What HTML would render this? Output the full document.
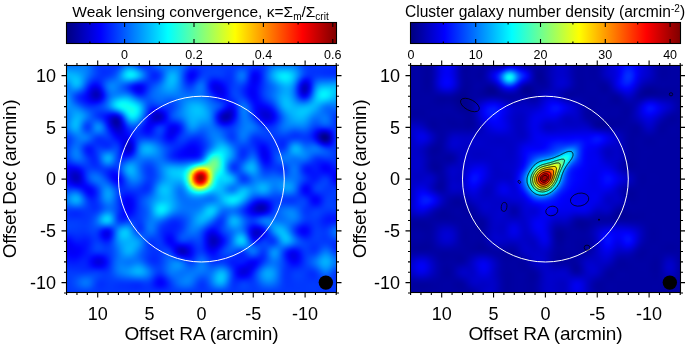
<!DOCTYPE html><html><head><meta charset="utf-8"><style>
*{margin:0;padding:0}
html,body{width:685px;height:346px;background:#fff;overflow:hidden}
body{position:relative;font-family:"Liberation Sans",sans-serif}
.hm{position:absolute;overflow:hidden}
.hf{position:absolute;filter:blur(0.8px)}
.hf i,.hf2 i{display:block;height:2px}
.hf2{position:absolute;filter:blur(0.5px)}
.cb{position:absolute}
.ov{position:absolute;left:0;top:0;will-change:transform}
</style></head><body><div class="hm" style="left:67px;top:66px;width:269px;height:226px"><div class="hf" style="left:-3px;top:-3px;width:276px"><i style="background:linear-gradient(90deg,#0071ff,#0070ff,#0070ff,#006fff,#0071ff,#0075ff,#007aff,#007aff,#0072ff,#0060ff,#004bff,#003aff,#0033ff,#0035ff,#0038ff,#0039ff,#0034ff,#0030ff,#0033ff,#0042ff,#0057ff,#0067ff,#0069ff,#005aff,#0043ff,#002eff,#0024ff,#0025ff,#002fff,#0042ff,#0058ff,#006dff,#007aff,#007dff,#0078ff,#0073ff,#0072ff,#0076ff,#0079ff,#0074ff,#0066ff,#0053ff,#0041ff,#0037ff,#0035ff,#0037ff,#0039ff,#003aff,#0039ff,#0037ff,#0036ff,#0036ff,#0037ff,#0037ff,#0038ff,#0039ff,#0038ff,#0036ff,#0034ff,#0033ff,#0034ff,#0038ff,#003bff,#003cff,#0039ff,#0034ff,#0034ff,#003eff,#004fff,#0063ff,#0071ff,#0074ff,#0071ff,#006dff,#006eff,#0072ff,#0075ff,#0070ff,#0061ff,#004dff,#003bff,#0031ff,#0031ff,#0035ff,#0039ff,#003bff,#003bff,#003aff,#0039ff,#0039ff,#003aff,#003aff,#003aff)"></i><i style="background:linear-gradient(90deg,#007aff,#0079ff,#0078ff,#0077ff,#0077ff,#007aff,#007dff,#007cff,#0073ff,#0061ff,#004cff,#003bff,#0034ff,#0034ff,#0036ff,#0037ff,#0033ff,#0032ff,#0039ff,#004cff,#0065ff,#0079ff,#007eff,#0070ff,#0059ff,#0042ff,#0034ff,#002fff,#0033ff,#003fff,#0051ff,#0064ff,#0072ff,#0078ff,#0079ff,#0078ff,#007aff,#007cff,#007cff,#0074ff,#0062ff,#004cff,#0039ff,#002fff,#002fff,#0033ff,#0038ff,#003aff,#003aff,#0039ff,#0039ff,#0039ff,#0039ff,#0039ff,#0038ff,#0038ff,#0038ff,#0039ff,#003aff,#003cff,#003cff,#003bff,#0039ff,#0035ff,#0031ff,#002fff,#0033ff,#003fff,#0053ff,#0069ff,#0079ff,#0080ff,#007fff,#007dff,#007dff,#007fff,#007fff,#0078ff,#0067ff,#0052ff,#003fff,#0034ff,#0032ff,#0035ff,#0038ff,#0039ff,#0038ff,#0037ff,#0036ff,#0036ff,#0036ff,#0037ff,#0037ff)"></i><i style="background:linear-gradient(90deg,#0088ff,#0087ff,#0085ff,#0083ff,#0082ff,#0082ff,#0082ff,#007fff,#0075ff,#0063ff,#004eff,#003dff,#0034ff,#0032ff,#0033ff,#0034ff,#0033ff,#0037ff,#0043ff,#005dff,#007cff,#0095ff,#009eff,#0092ff,#007bff,#0061ff,#004cff,#003eff,#0038ff,#003bff,#0046ff,#0055ff,#0064ff,#0070ff,#007aff,#0081ff,#0085ff,#0086ff,#0081ff,#0073ff,#005cff,#0041ff,#002cff,#0023ff,#0025ff,#002dff,#0036ff,#003aff,#003cff,#003cff,#003cff,#003dff,#003cff,#003bff,#0038ff,#0036ff,#0038ff,#003dff,#0044ff,#0049ff,#0048ff,#0040ff,#0035ff,#002aff,#0025ff,#0027ff,#0030ff,#0042ff,#005aff,#0073ff,#0087ff,#0092ff,#0095ff,#0095ff,#0095ff,#0095ff,#0091ff,#0085ff,#0072ff,#005aff,#0045ff,#0038ff,#0034ff,#0034ff,#0036ff,#0036ff,#0034ff,#0033ff,#0032ff,#0031ff,#0031ff,#0031ff,#0031ff)"></i><i style="background:linear-gradient(90deg,#0098ff,#0097ff,#0095ff,#0092ff,#008eff,#008cff,#0089ff,#0082ff,#0076ff,#0064ff,#0050ff,#003fff,#0034ff,#0030ff,#0030ff,#0031ff,#0034ff,#003dff,#004fff,#0070ff,#0096ff,#00b5ff,#00c2ff,#00b9ff,#00a1ff,#0083ff,#0066ff,#004fff,#003eff,#0037ff,#003aff,#0044ff,#0054ff,#0068ff,#007bff,#008bff,#0093ff,#0093ff,#0088ff,#0072ff,#0054ff,#0035ff,#001dff,#0014ff,#001aff,#0028ff,#0034ff,#003bff,#003eff,#003fff,#0040ff,#0040ff,#003fff,#003cff,#0037ff,#0035ff,#0037ff,#0042ff,#0050ff,#0059ff,#0056ff,#0045ff,#002fff,#001dff,#0017ff,#001cff,#002cff,#0044ff,#0061ff,#007fff,#0097ff,#00a7ff,#00afff,#00b2ff,#00b2ff,#00aeff,#00a5ff,#0095ff,#007dff,#0062ff,#004bff,#003cff,#0035ff,#0034ff,#0034ff,#0033ff,#0031ff,#002fff,#002eff,#002dff,#002dff,#002dff,#002dff)"></i><i style="background:linear-gradient(90deg,#00a7ff,#00a6ff,#00a4ff,#00a1ff,#009dff,#0097ff,#008fff,#0085ff,#0076ff,#0063ff,#0050ff,#003fff,#0034ff,#002fff,#002fff,#0031ff,#0037ff,#0044ff,#005cff,#0082ff,#00adff,#00d1ff,#00e1ff,#00daff,#00c2ff,#00a1ff,#007eff,#005eff,#0043ff,#0033ff,#002eff,#0034ff,#0046ff,#0061ff,#007eff,#0097ff,#00a2ff,#009fff,#008eff,#0072ff,#004dff,#0028ff,#000eff,#0007ff,#0012ff,#0023ff,#0034ff,#003cff,#003fff,#0040ff,#0040ff,#0041ff,#0040ff,#003cff,#0036ff,#0032ff,#0037ff,#0046ff,#005bff,#0068ff,#0063ff,#004aff,#0029ff,#0010ff,#0008ff,#0012ff,#0029ff,#0047ff,#0068ff,#0089ff,#00a6ff,#00bbff,#00c8ff,#00ceff,#00ceff,#00c7ff,#00b8ff,#00a3ff,#0086ff,#0067ff,#004dff,#003cff,#0035ff,#0033ff,#0033ff,#0032ff,#0030ff,#002eff,#002dff,#002cff,#002bff,#002bff,#002bff)"></i><i style="background:linear-gradient(90deg,#00b0ff,#00b0ff,#00b0ff,#00afff,#00abff,#00a2ff,#0096ff,#0086ff,#0074ff,#0060ff,#004dff,#003eff,#0034ff,#002fff,#0030ff,#0034ff,#003dff,#004dff,#0068ff,#0090ff,#00bdff,#00e2ff,#00f3ff,#00edff,#00d6ff,#00b4ff,#008dff,#0067ff,#0046ff,#002fff,#0025ff,#0029ff,#003cff,#005dff,#0082ff,#00a2ff,#00b0ff,#00aaff,#0094ff,#0071ff,#0046ff,#001eff,#0003ff,#0000fd,#000dff,#0023ff,#0036ff,#003fff,#0040ff,#003eff,#003eff,#003eff,#003eff,#003aff,#0034ff,#0030ff,#0036ff,#004aff,#0063ff,#0073ff,#006cff,#004cff,#0023ff,#0004ff,#0000fb,#000aff,#0026ff,#0049ff,#006dff,#0090ff,#00b0ff,#00c9ff,#00dbff,#00e4ff,#00e4ff,#00daff,#00c8ff,#00acff,#008aff,#0067ff,#0049ff,#0038ff,#0032ff,#0033ff,#0035ff,#0035ff,#0033ff,#0031ff,#0030ff,#002fff,#002fff,#002fff,#002fff)"></i><i style="background:linear-gradient(90deg,#00b1ff,#00b3ff,#00b6ff,#00b9ff,#00b7ff,#00adff,#009cff,#0086ff,#006fff,#0059ff,#0047ff,#0039ff,#0032ff,#0032ff,#0035ff,#003dff,#0047ff,#0058ff,#0072ff,#0097ff,#00c0ff,#00e1ff,#00f1ff,#00eaff,#00d4ff,#00b3ff,#008dff,#0067ff,#0046ff,#002eff,#0022ff,#0025ff,#0039ff,#005eff,#0088ff,#00abff,#00baff,#00b2ff,#0097ff,#0070ff,#0043ff,#0019ff,#0000fe,#0000fc,#000fff,#0029ff,#003dff,#0042ff,#003eff,#0037ff,#0035ff,#0036ff,#0038ff,#0036ff,#0030ff,#002eff,#0035ff,#004bff,#0066ff,#0077ff,#006eff,#004aff,#001dff,#0000fa,#0000f3,#0005ff,#0024ff,#0049ff,#006eff,#0092ff,#00b2ff,#00ceff,#00e3ff,#00efff,#00f0ff,#00e5ff,#00cfff,#00afff,#0087ff,#005eff,#003dff,#002dff,#002cff,#0033ff,#003aff,#003dff,#003dff,#003bff,#003aff,#003aff,#003bff,#003bff,#003bff)"></i><i style="background:linear-gradient(90deg,#00a7ff,#00acff,#00b5ff,#00bfff,#00c1ff,#00b6ff,#00a0ff,#0083ff,#0067ff,#004fff,#003cff,#0032ff,#0030ff,#0036ff,#003fff,#004aff,#0055ff,#0063ff,#0078ff,#0095ff,#00b4ff,#00ccff,#00d6ff,#00cdff,#00b8ff,#009bff,#007bff,#005cff,#0041ff,#002eff,#0025ff,#002aff,#003fff,#0064ff,#008fff,#00b1ff,#00bfff,#00b5ff,#0099ff,#0070ff,#0042ff,#001aff,#0002ff,#0003ff,#001aff,#0035ff,#0047ff,#0046ff,#003aff,#002cff,#0026ff,#0028ff,#002cff,#002dff,#002bff,#002cff,#0035ff,#004aff,#0064ff,#0073ff,#0068ff,#0044ff,#0018ff,#0000f6,#0000f1,#0004ff,#0024ff,#0048ff,#006bff,#008dff,#00acff,#00c8ff,#00dfff,#00edff,#00efff,#00e5ff,#00ceff,#00a9ff,#007aff,#004bff,#0027ff,#001aff,#0022ff,#0033ff,#0044ff,#004bff,#004dff,#004cff,#004cff,#004dff,#004fff,#0050ff,#0050ff)"></i><i style="background:linear-gradient(90deg,#0097ff,#009fff,#00afff,#00bfff,#00c6ff,#00bbff,#00a0ff,#007eff,#005bff,#0040ff,#002eff,#0027ff,#002cff,#003aff,#004bff,#005aff,#0065ff,#006fff,#007bff,#008cff,#009dff,#00aaff,#00abff,#009fff,#008bff,#0074ff,#005dff,#004aff,#003bff,#0031ff,#002eff,#0036ff,#004bff,#006fff,#0096ff,#00b5ff,#00c0ff,#00b4ff,#0098ff,#0070ff,#0045ff,#001fff,#000bff,#0010ff,#002aff,#0046ff,#0054ff,#004aff,#0035ff,#001fff,#0015ff,#0016ff,#001dff,#0023ff,#0026ff,#002aff,#0034ff,#0048ff,#005dff,#0068ff,#005dff,#003bff,#0013ff,#0000f5,#0000f2,#0006ff,#0025ff,#0046ff,#0065ff,#0083ff,#009fff,#00baff,#00d1ff,#00e0ff,#00e5ff,#00dcff,#00c5ff,#009dff,#0067ff,#0032ff,#000cff,#0003ff,#0016ff,#0035ff,#0050ff,#005eff,#0062ff,#0062ff,#0063ff,#0065ff,#0068ff,#006aff,#006aff)"></i><i style="background:linear-gradient(90deg,#0086ff,#0090ff,#00a5ff,#00bbff,#00c7ff,#00bcff,#009dff,#0075ff,#004eff,#0030ff,#001eff,#001aff,#0026ff,#003cff,#0056ff,#0069ff,#0074ff,#0079ff,#007bff,#007fff,#0083ff,#0082ff,#007aff,#006aff,#0057ff,#0046ff,#003bff,#0035ff,#0034ff,#0035ff,#003aff,#0045ff,#005aff,#007aff,#009cff,#00b6ff,#00beff,#00b1ff,#0095ff,#0071ff,#0049ff,#0028ff,#0018ff,#0021ff,#003cff,#0057ff,#0060ff,#004fff,#0030ff,#0012ff,#0003ff,#0003ff,#000cff,#0017ff,#001fff,#0028ff,#0034ff,#0045ff,#0054ff,#005aff,#004eff,#0030ff,#000eff,#0000f7,#0000f7,#000aff,#0027ff,#0044ff,#005eff,#0077ff,#008fff,#00a8ff,#00bfff,#00cfff,#00d5ff,#00ceff,#00b8ff,#008dff,#0052ff,#0017ff,#0000ee,#0000eb,#000bff,#0037ff,#005fff,#0074ff,#007bff,#007cff,#007dff,#0080ff,#0083ff,#0085ff,#0086ff)"></i><i style="background:linear-gradient(90deg,#0076ff,#0081ff,#0099ff,#00b3ff,#00c1ff,#00b6ff,#0095ff,#0069ff,#003fff,#001eff,#000bff,#000aff,#001cff,#003cff,#005dff,#0076ff,#0080ff,#0080ff,#007aff,#0073ff,#006aff,#005eff,#004dff,#0039ff,#0026ff,#001bff,#001aff,#0022ff,#002fff,#003bff,#0047ff,#0055ff,#006aff,#0085ff,#00a1ff,#00b5ff,#00b8ff,#00abff,#0092ff,#0071ff,#004fff,#0033ff,#0027ff,#0033ff,#004eff,#0067ff,#006cff,#0053ff,#002cff,#0008ff,#0000f3,#0000f2,#0000fb,#000bff,#0019ff,#0027ff,#0035ff,#0042ff,#004bff,#004cff,#003eff,#0025ff,#000aff,#0000f9,#0000fc,#000fff,#0029ff,#0042ff,#0058ff,#006cff,#0080ff,#0097ff,#00acff,#00bcff,#00c4ff,#00bfff,#00a9ff,#007dff,#003eff,#0000fc,#0000d3,#0000d6,#0001ff,#003cff,#006eff,#008bff,#0096ff,#0098ff,#0099ff,#009bff,#009dff,#009fff,#00a0ff)"></i><i style="background:linear-gradient(90deg,#006dff,#0077ff,#008eff,#00a7ff,#00b3ff,#00a7ff,#0086ff,#005aff,#002eff,#000bff,#0000f6,#0000f6,#000fff,#0036ff,#005fff,#007cff,#0087ff,#0083ff,#0077ff,#0069ff,#0058ff,#0045ff,#002eff,#0016ff,#0003ff,#0000f9,#0002ff,#0015ff,#002cff,#0042ff,#0053ff,#0064ff,#0076ff,#008cff,#00a2ff,#00b0ff,#00b1ff,#00a4ff,#008eff,#0072ff,#0055ff,#003fff,#0037ff,#0043ff,#005dff,#0073ff,#0073ff,#0057ff,#002cff,#0003ff,#0000ea,#0000e6,#0000ef,#0000ff,#0013ff,#0026ff,#0036ff,#0041ff,#0045ff,#0040ff,#0031ff,#001bff,#0006ff,#0000fa,#0001ff,#0013ff,#002bff,#0042ff,#0054ff,#0064ff,#0075ff,#0089ff,#009dff,#00adff,#00b6ff,#00b2ff,#009dff,#0070ff,#002dff,#0000e9,#0000c0,#0000c8,#0000fc,#0042ff,#007fff,#00a1ff,#00b0ff,#00b3ff,#00b3ff,#00b3ff,#00b3ff,#00b3ff,#00b3ff)"></i><i style="background:linear-gradient(90deg,#006dff,#0075ff,#0086ff,#0096ff,#009dff,#0090ff,#0071ff,#0049ff,#001eff,#0000f9,#0000e2,#0000e1,#0000fc,#002aff,#0059ff,#007bff,#0086ff,#0082ff,#0074ff,#0064ff,#0053ff,#003eff,#0024ff,#0009ff,#0000f3,#0000eb,#0000f6,#0011ff,#002fff,#004aff,#005dff,#006dff,#007dff,#008fff,#009fff,#00a9ff,#00a8ff,#009dff,#008aff,#0073ff,#005cff,#004aff,#0044ff,#0050ff,#0066ff,#0078ff,#0075ff,#0059ff,#002fff,#0006ff,#0000ea,#0000e1,#0000e6,#0000f6,#000dff,#0025ff,#0038ff,#0041ff,#0041ff,#0038ff,#0028ff,#0014ff,#0002ff,#0000fa,#0003ff,#0016ff,#002eff,#0043ff,#0053ff,#0061ff,#0070ff,#0083ff,#0095ff,#00a5ff,#00adff,#00aaff,#0094ff,#0067ff,#0023ff,#0000df,#0000b7,#0000c3,#0000fd,#004bff,#008eff,#00b6ff,#00c8ff,#00ccff,#00caff,#00c6ff,#00c1ff,#00beff,#00bdff)"></i><i style="background:linear-gradient(90deg,#0075ff,#0078ff,#007fff,#0085ff,#0082ff,#0074ff,#0059ff,#0036ff,#000fff,#0000e9,#0000d0,#0000ce,#0000ea,#001bff,#004fff,#0074ff,#0082ff,#007fff,#0073ff,#0067ff,#0059ff,#0046ff,#002dff,#0010ff,#0000f6,#0000ec,#0000f8,#0015ff,#0035ff,#0051ff,#0065ff,#0073ff,#0080ff,#008dff,#0098ff,#009fff,#009eff,#0094ff,#0086ff,#0074ff,#0062ff,#0055ff,#0051ff,#005aff,#006bff,#0078ff,#0074ff,#005bff,#0035ff,#000fff,#0000f1,#0000e3,#0000e3,#0000f0,#0009ff,#0024ff,#0039ff,#0043ff,#0041ff,#0035ff,#0023ff,#000fff,#0000ff,#0000f9,#0004ff,#0018ff,#0030ff,#0045ff,#0055ff,#0062ff,#0070ff,#0082ff,#0094ff,#00a2ff,#00aaff,#00a5ff,#0090ff,#0063ff,#0021ff,#0000de,#0000b9,#0000c7,#0005ff,#0055ff,#009cff,#00c8ff,#00ddff,#00e1ff,#00ddff,#00d3ff,#00c9ff,#00c2ff,#00c0ff)"></i><i style="background:linear-gradient(90deg,#0081ff,#007fff,#007bff,#0074ff,#0068ff,#0057ff,#0040ff,#0024ff,#0002ff,#0000dd,#0000c3,#0000be,#0000da,#000dff,#0043ff,#006bff,#007cff,#007cff,#0076ff,#006fff,#0068ff,#005bff,#0044ff,#0025ff,#000aff,#0000fb,#0005ff,#001fff,#003dff,#0058ff,#0069ff,#0075ff,#007eff,#0088ff,#008fff,#0093ff,#0092ff,#008bff,#0081ff,#0075ff,#0068ff,#005fff,#005cff,#0063ff,#006eff,#0077ff,#0072ff,#005dff,#003eff,#001cff,#0000fe,#0000eb,#0000e5,#0000ee,#0006ff,#0022ff,#003aff,#0045ff,#0042ff,#0036ff,#0023ff,#000fff,#0000fe,#0000f8,#0003ff,#0018ff,#0031ff,#0046ff,#0056ff,#0064ff,#0073ff,#0084ff,#0096ff,#00a4ff,#00abff,#00a5ff,#008fff,#0063ff,#0024ff,#0000e6,#0000c4,#0000d4,#0012ff,#0061ff,#00a9ff,#00d6ff,#00ecff,#00f0ff,#00e8ff,#00daff,#00cbff,#00c0ff,#00bdff)"></i><i style="background:linear-gradient(90deg,#008fff,#0088ff,#007aff,#0066ff,#0051ff,#003dff,#002bff,#0015ff,#0000f8,#0000d6,#0000bc,#0000b6,#0000d0,#0003ff,#003aff,#0064ff,#0079ff,#007fff,#007fff,#007fff,#007fff,#0077ff,#0063ff,#0044ff,#0026ff,#0015ff,#0019ff,#002cff,#0046ff,#005cff,#006bff,#0074ff,#007bff,#0080ff,#0084ff,#0086ff,#0085ff,#0082ff,#007cff,#0075ff,#006eff,#0069ff,#0067ff,#006bff,#0072ff,#0076ff,#0071ff,#0061ff,#0048ff,#002cff,#0010ff,#0000f8,#0000ed,#0000f1,#0006ff,#0021ff,#0039ff,#0045ff,#0045ff,#003aff,#0027ff,#0012ff,#0000ff,#0000f8,#0002ff,#0017ff,#0030ff,#0046ff,#0057ff,#0066ff,#0075ff,#0088ff,#009aff,#00a9ff,#00aeff,#00a7ff,#0091ff,#0068ff,#002eff,#0000f5,#0000d8,#0000e9,#0024ff,#006fff,#00b3ff,#00dfff,#00f4ff,#00f7ff,#00ecff,#00daff,#00c7ff,#00baff,#00b6ff)"></i><i style="background:linear-gradient(90deg,#009aff,#0091ff,#007aff,#005eff,#0041ff,#002cff,#001cff,#000cff,#0000f4,#0000d7,#0000be,#0000b8,#0000d1,#0001ff,#0036ff,#0062ff,#007bff,#0088ff,#008fff,#0097ff,#009bff,#0097ff,#0086ff,#0068ff,#0049ff,#0034ff,#0031ff,#003cff,#004dff,#005eff,#006aff,#0072ff,#0076ff,#0078ff,#0078ff,#0078ff,#0077ff,#0077ff,#0076ff,#0075ff,#0074ff,#0073ff,#0073ff,#0075ff,#0078ff,#0078ff,#0073ff,#0066ff,#0053ff,#003cff,#0022ff,#000bff,#0000fa,#0000f9,#0009ff,#0020ff,#0036ff,#0043ff,#0047ff,#0040ff,#002fff,#0019ff,#0005ff,#0000fa,#0001ff,#0014ff,#002cff,#0042ff,#0054ff,#0064ff,#0076ff,#008aff,#009fff,#00aeff,#00b3ff,#00acff,#0096ff,#0070ff,#003dff,#000dff,#0000f4,#0006ff,#003bff,#007eff,#00bbff,#00e1ff,#00f3ff,#00f4ff,#00e7ff,#00d3ff,#00bfff,#00b1ff,#00adff)"></i><i style="background:linear-gradient(90deg,#00a2ff,#0097ff,#007dff,#005dff,#003eff,#0027ff,#0018ff,#000aff,#0000f7,#0000df,#0000cb,#0000c8,#0000de,#000aff,#003cff,#0068ff,#0086ff,#009bff,#00aaff,#00b5ff,#00bbff,#00b8ff,#00a8ff,#008dff,#006fff,#0056ff,#004bff,#004bff,#0052ff,#005cff,#0066ff,#006dff,#0071ff,#0070ff,#006dff,#0069ff,#0069ff,#006bff,#0070ff,#0075ff,#0079ff,#007dff,#007fff,#0082ff,#0082ff,#0080ff,#007aff,#006fff,#005fff,#004cff,#0035ff,#001fff,#000fff,#0009ff,#0010ff,#001eff,#002fff,#003eff,#0048ff,#0048ff,#003bff,#0025ff,#000dff,#0000fe,#0001ff,#0010ff,#0026ff,#003bff,#004dff,#005eff,#0072ff,#0089ff,#00a1ff,#00b2ff,#00b8ff,#00b1ff,#009cff,#007bff,#0050ff,#002aff,#0018ff,#0028ff,#0056ff,#008eff,#00bfff,#00dcff,#00e8ff,#00e5ff,#00d8ff,#00c6ff,#00b4ff,#00a8ff,#00a4ff)"></i><i style="background:linear-gradient(90deg,#00a4ff,#009aff,#0082ff,#0063ff,#0044ff,#002dff,#001dff,#000fff,#0000ff,#0000ed,#0000e0,#0000e0,#0000f5,#001bff,#0047ff,#0072ff,#0097ff,#00b3ff,#00c8ff,#00d6ff,#00dbff,#00d6ff,#00c7ff,#00afff,#0093ff,#0079ff,#0065ff,#0059ff,#0054ff,#0056ff,#005eff,#0067ff,#006bff,#0068ff,#0061ff,#005bff,#005aff,#0060ff,#006aff,#0074ff,#007eff,#0086ff,#008cff,#0090ff,#0090ff,#008dff,#0085ff,#007aff,#006bff,#005aff,#0047ff,#0034ff,#0025ff,#001bff,#0017ff,#001bff,#0026ff,#0036ff,#0047ff,#0051ff,#004aff,#0034ff,#0019ff,#0005ff,#0001ff,#000cff,#001eff,#0030ff,#0041ff,#0053ff,#0069ff,#0084ff,#00a0ff,#00b5ff,#00bdff,#00b7ff,#00a4ff,#0088ff,#0067ff,#004bff,#003fff,#004eff,#0072ff,#009dff,#00c0ff,#00d2ff,#00d4ff,#00cdff,#00c1ff,#00b3ff,#00a6ff,#009eff,#009bff)"></i><i style="background:linear-gradient(90deg,#00a3ff,#009bff,#0087ff,#006cff,#0051ff,#003aff,#0029ff,#001aff,#000dff,#0001ff,#0000fa,#0000fd,#0010ff,#002fff,#0055ff,#007eff,#00a6ff,#00c9ff,#00e3ff,#00f2ff,#00f6ff,#00f0ff,#00e3ff,#00cfff,#00b6ff,#009bff,#007eff,#0065ff,#0053ff,#004eff,#0053ff,#005cff,#0062ff,#005eff,#0055ff,#004dff,#004dff,#0056ff,#0064ff,#0074ff,#0083ff,#008fff,#0099ff,#009eff,#009fff,#009bff,#0093ff,#0086ff,#0076ff,#0066ff,#0056ff,#0047ff,#0039ff,#002aff,#001dff,#0016ff,#001aff,#002cff,#0046ff,#0059ff,#0059ff,#0044ff,#0026ff,#000cff,#0002ff,#0007ff,#0013ff,#0022ff,#0032ff,#0045ff,#005dff,#007cff,#009cff,#00b5ff,#00c0ff,#00bbff,#00acff,#0096ff,#007fff,#006dff,#0067ff,#0073ff,#008dff,#00aaff,#00bfff,#00c3ff,#00bdff,#00b1ff,#00a6ff,#009dff,#0097ff,#0093ff,#0092ff)"></i><i style="background:linear-gradient(90deg,#009fff,#0099ff,#008bff,#0078ff,#0063ff,#004dff,#003aff,#002aff,#001dff,#0016ff,#0015ff,#001bff,#002aff,#0041ff,#005fff,#0085ff,#00aeff,#00d5ff,#00f4ff,#06fff9,#0afff5,#05fffa,#00f9ff,#00eaff,#00d4ff,#00b8ff,#0093ff,#006eff,#0050ff,#0042ff,#0045ff,#004eff,#0054ff,#0051ff,#0048ff,#0042ff,#0044ff,#004fff,#0061ff,#0075ff,#0087ff,#0097ff,#00a4ff,#00abff,#00adff,#00aaff,#00a0ff,#0092ff,#0081ff,#0070ff,#0062ff,#0055ff,#0047ff,#0034ff,#001eff,#000dff,#000cff,#0022ff,#0044ff,#0061ff,#0068ff,#0054ff,#0032ff,#0013ff,#0003ff,#0001ff,#0008ff,#0013ff,#0021ff,#0034ff,#004fff,#0071ff,#0095ff,#00b2ff,#00c0ff,#00beff,#00b3ff,#00a4ff,#0096ff,#008dff,#008cff,#0095ff,#00a5ff,#00b4ff,#00baff,#00b3ff,#00a5ff,#0096ff,#008bff,#0087ff,#0087ff,#0087ff,#0087ff)"></i><i style="background:linear-gradient(90deg,#0098ff,#0095ff,#008eff,#0083ff,#0075ff,#0062ff,#004eff,#003cff,#0030ff,#002aff,#002bff,#0031ff,#003cff,#004cff,#0063ff,#0083ff,#00aaff,#00d1ff,#00f2ff,#07fff8,#0ffff0,#0ffff0,#0afff5,#00ffff,#00ecff,#00ceff,#00a3ff,#0073ff,#004aff,#0034ff,#0032ff,#0039ff,#0040ff,#0040ff,#003bff,#0038ff,#003eff,#004dff,#0061ff,#0077ff,#008cff,#009eff,#00acff,#00b6ff,#00b9ff,#00b6ff,#00adff,#009dff,#008aff,#0078ff,#0069ff,#005bff,#004bff,#0033ff,#0017ff,#0000ff,#0000fc,#0017ff,#0041ff,#0067ff,#0073ff,#0061ff,#003eff,#001aff,#0004ff,#0000fa,#0000fb,#0003ff,#000fff,#0022ff,#003eff,#0063ff,#008aff,#00abff,#00bdff,#00bfff,#00b8ff,#00afff,#00a9ff,#00a7ff,#00a9ff,#00afff,#00b6ff,#00b9ff,#00b3ff,#00a4ff,#0090ff,#007fff,#0075ff,#0074ff,#0077ff,#007aff,#007bff)"></i><i style="background:linear-gradient(90deg,#008fff,#0090ff,#008fff,#008cff,#0085ff,#0077ff,#0064ff,#0051ff,#0043ff,#003bff,#003aff,#003dff,#0042ff,#004cff,#005cff,#0074ff,#0093ff,#00b6ff,#00d6ff,#00f1ff,#04fffb,#0ffff0,#13ffec,#0efff1,#00fcff,#00dcff,#00abff,#0073ff,#0042ff,#0024ff,#001bff,#001eff,#0025ff,#002aff,#002dff,#0033ff,#003eff,#004fff,#0064ff,#007aff,#0090ff,#00a3ff,#00b2ff,#00bcff,#00c1ff,#00bfff,#00b6ff,#00a6ff,#0092ff,#007dff,#006aff,#0056ff,#0040ff,#0024ff,#0005ff,#0000ee,#0000ed,#000dff,#003eff,#006aff,#007bff,#006aff,#0046ff,#001fff,#0004ff,#0000f4,#0000f0,#0000f3,#0000fc,#0010ff,#002cff,#0053ff,#007cff,#00a0ff,#00b5ff,#00bcff,#00baff,#00b7ff,#00b7ff,#00baff,#00bdff,#00bfff,#00bdff,#00b7ff,#00aaff,#0096ff,#0081ff,#0070ff,#0067ff,#0066ff,#0069ff,#006cff,#006dff)"></i><i style="background:linear-gradient(90deg,#0086ff,#0089ff,#008eff,#0093ff,#0092ff,#0089ff,#0078ff,#0065ff,#0055ff,#0049ff,#0042ff,#003eff,#003fff,#0043ff,#004bff,#0059ff,#006dff,#0087ff,#00a5ff,#00c7ff,#00e9ff,#05fffa,#14ffeb,#14ffeb,#04fffb,#00e0ff,#00acff,#0070ff,#0039ff,#0013ff,#0001ff,#0000fe,#0005ff,#0011ff,#001fff,#002fff,#0042ff,#0056ff,#006aff,#007fff,#0093ff,#00a5ff,#00b4ff,#00bfff,#00c4ff,#00c2ff,#00bbff,#00acff,#0098ff,#0080ff,#0065ff,#0048ff,#0029ff,#0009ff,#0000ea,#0000d9,#0000e0,#0005ff,#003bff,#006bff,#007eff,#006fff,#004cff,#0024ff,#0004ff,#0000f0,#0000e6,#0000e5,#0000ec,#0000fe,#001bff,#0041ff,#006cff,#0091ff,#00aaff,#00b6ff,#00b9ff,#00bbff,#00bfff,#00c4ff,#00c6ff,#00c4ff,#00bcff,#00afff,#009eff,#008cff,#007aff,#006bff,#0062ff,#005eff,#005dff,#005eff,#005eff)"></i><i style="background:linear-gradient(90deg,#007dff,#0082ff,#008cff,#0097ff,#009dff,#0098ff,#008aff,#0077ff,#0064ff,#0052ff,#0045ff,#003bff,#0036ff,#0034ff,#0036ff,#0039ff,#003fff,#004dff,#0068ff,#0092ff,#00c4ff,#00f1ff,#0ffff0,#13ffec,#02fffd,#00dcff,#00a6ff,#0068ff,#002eff,#0002ff,#0000e8,#0000df,#0000e5,#0000f8,#0012ff,#002eff,#0047ff,#005cff,#006fff,#0082ff,#0094ff,#00a6ff,#00b4ff,#00beff,#00c3ff,#00c2ff,#00bcff,#00b0ff,#009dff,#0082ff,#005eff,#0036ff,#000dff,#0000e8,#0000cf,#0000c6,#0000d5,#0000ff,#0038ff,#0069ff,#007fff,#0072ff,#0050ff,#0028ff,#0006ff,#0000ed,#0000df,#0000da,#0000df,#0000ef,#000cff,#0031ff,#005cff,#0082ff,#009eff,#00aeff,#00b6ff,#00bcff,#00c2ff,#00c7ff,#00c8ff,#00c1ff,#00b4ff,#00a3ff,#0092ff,#0083ff,#0076ff,#006bff,#0062ff,#0059ff,#0053ff,#0050ff,#004fff)"></i><i style="background:linear-gradient(90deg,#0075ff,#007cff,#008bff,#009bff,#00a6ff,#00a5ff,#0098ff,#0084ff,#006eff,#0059ff,#0046ff,#0037ff,#002dff,#0027ff,#0021ff,#0018ff,#0010ff,#0012ff,#0027ff,#0059ff,#009bff,#00d9ff,#02fffd,#0bfff4,#00f8ff,#00d1ff,#009bff,#005eff,#0023ff,#0000f3,#0000d4,#0000c7,#0000cc,#0000e4,#0008ff,#002dff,#004bff,#0061ff,#0072ff,#0082ff,#0093ff,#00a4ff,#00b3ff,#00bcff,#00c0ff,#00bfff,#00baff,#00b0ff,#009fff,#0082ff,#0057ff,#0024ff,#0000f2,#0000cb,#0000b7,#0000b8,#0000cf,#0000fe,#0037ff,#0067ff,#007dff,#0073ff,#0054ff,#002dff,#000bff,#0000ee,#0000dc,#0000d4,#0000d7,#0000e5,#0000ff,#0025ff,#004eff,#0074ff,#0092ff,#00a5ff,#00b2ff,#00baff,#00c2ff,#00c6ff,#00c3ff,#00b9ff,#00a8ff,#0095ff,#0086ff,#007cff,#0076ff,#0070ff,#0065ff,#0058ff,#004bff,#0043ff,#0041ff)"></i><i style="background:linear-gradient(90deg,#0070ff,#0078ff,#008aff,#009fff,#00adff,#00adff,#009fff,#0089ff,#0071ff,#005bff,#0048ff,#0038ff,#002bff,#001fff,#0010ff,#0000fc,#0000e6,#0000dc,#0000ed,#0024ff,#0071ff,#00bcff,#00edff,#00f9ff,#00e7ff,#00c0ff,#008bff,#0051ff,#0019ff,#0000e9,#0000c8,#0000b9,#0000be,#0000d9,#0002ff,#002bff,#004bff,#005fff,#006eff,#007cff,#008eff,#00a1ff,#00b0ff,#00b9ff,#00bcff,#00baff,#00b5ff,#00adff,#009eff,#0081ff,#0051ff,#0017ff,#0000df,#0000b8,#0000a9,#0000b2,#0000d0,#0001ff,#0038ff,#0065ff,#007bff,#0074ff,#0059ff,#0036ff,#0013ff,#0000f5,#0000df,#0000d4,#0000d5,#0000e2,#0000fa,#001dff,#0044ff,#006aff,#0088ff,#009dff,#00acff,#00b6ff,#00bdff,#00c0ff,#00bbff,#00aeff,#009aff,#0087ff,#007aff,#0076ff,#0077ff,#0075ff,#006aff,#0058ff,#0046ff,#0039ff,#0035ff)"></i><i style="background:linear-gradient(90deg,#006dff,#0077ff,#008dff,#00a4ff,#00b4ff,#00b2ff,#009fff,#0085ff,#006dff,#005bff,#004eff,#0041ff,#0033ff,#0021ff,#000aff,#0000ea,#0000ca,#0000b7,#0000c4,#0000fb,#004dff,#009eff,#00d3ff,#00e1ff,#00d0ff,#00aaff,#0078ff,#0043ff,#000fff,#0000e4,#0000c7,#0000ba,#0000c1,#0000db,#0001ff,#0027ff,#0043ff,#0055ff,#0061ff,#0070ff,#0084ff,#009aff,#00adff,#00b6ff,#00b7ff,#00b3ff,#00adff,#00a7ff,#009aff,#007fff,#004fff,#0014ff,#0000db,#0000b6,#0000ac,#0000b9,#0000da,#000aff,#003bff,#0064ff,#0079ff,#0075ff,#0060ff,#0041ff,#0021ff,#0002ff,#0000e9,#0000dc,#0000db,#0000e6,#0000fc,#001dff,#0041ff,#0065ff,#0082ff,#0097ff,#00a6ff,#00b0ff,#00b7ff,#00b8ff,#00b2ff,#00a2ff,#008dff,#0079ff,#006fff,#0071ff,#0077ff,#0079ff,#006eff,#0059ff,#0042ff,#0033ff,#002eff)"></i><i style="background:linear-gradient(90deg,#006eff,#0079ff,#0091ff,#00abff,#00baff,#00b2ff,#0098ff,#0078ff,#0060ff,#0058ff,#0057ff,#0054ff,#0047ff,#002fff,#000dff,#0000e4,#0000bd,#0000a5,#0000ad,#0000e1,#0030ff,#007fff,#00b3ff,#00c2ff,#00b3ff,#0090ff,#0063ff,#0033ff,#0007ff,#0000e4,#0000d0,#0000ca,#0000d3,#0000e8,#0005ff,#0021ff,#0035ff,#0042ff,#004dff,#005eff,#0077ff,#0093ff,#00a9ff,#00b3ff,#00b1ff,#00aaff,#00a3ff,#009eff,#0094ff,#007dff,#0052ff,#001bff,#0000e6,#0000c5,#0000be,#0000cd,#0000ec,#0016ff,#0041ff,#0064ff,#0078ff,#0078ff,#0069ff,#0050ff,#0032ff,#0014ff,#0000fa,#0000eb,#0000e9,#0000f1,#0006ff,#0023ff,#0045ff,#0066ff,#0080ff,#0093ff,#009fff,#00a8ff,#00aeff,#00afff,#00a8ff,#0098ff,#0082ff,#006eff,#0065ff,#006aff,#0074ff,#0079ff,#006fff,#0059ff,#0041ff,#0030ff,#002bff)"></i><i style="background:linear-gradient(90deg,#006fff,#007bff,#0095ff,#00b0ff,#00bdff,#00afff,#008cff,#0067ff,#0051ff,#0054ff,#0061ff,#006aff,#0060ff,#0042ff,#0018ff,#0000e8,#0000bc,#0000a2,#0000a6,#0000d3,#001aff,#0062ff,#0092ff,#00a0ff,#0093ff,#0075ff,#004eff,#0024ff,#0001ff,#0000e9,#0000e1,#0000e4,#0000ee,#0000fc,#000cff,#0019ff,#0023ff,#002aff,#0035ff,#0049ff,#0067ff,#0089ff,#00a4ff,#00afff,#00abff,#00a0ff,#0097ff,#0093ff,#008cff,#007bff,#0058ff,#0029ff,#0000fc,#0000df,#0000da,#0000e8,#0003ff,#0025ff,#0048ff,#0065ff,#0077ff,#007bff,#0072ff,#005fff,#0045ff,#0029ff,#000fff,#0000ff,#0000fa,#0002ff,#0014ff,#002eff,#004cff,#0069ff,#0080ff,#008eff,#0098ff,#009eff,#00a3ff,#00a3ff,#009dff,#008dff,#0077ff,#0064ff,#005bff,#0061ff,#006dff,#0073ff,#006bff,#0057ff,#0040ff,#0030ff,#002bff)"></i><i style="background:linear-gradient(90deg,#0070ff,#007dff,#0098ff,#00b3ff,#00beff,#00aaff,#0080ff,#0056ff,#0043ff,#0050ff,#006bff,#007fff,#0078ff,#0057ff,#0027ff,#0000f2,#0000c4,#0000a8,#0000a9,#0000ce,#000aff,#0047ff,#0071ff,#007eff,#0074ff,#005bff,#003aff,#0017ff,#0000fc,#0000f1,#0000f5,#0003ff,#000eff,#0014ff,#0013ff,#0011ff,#000fff,#0012ff,#001dff,#0034ff,#0058ff,#007fff,#009eff,#00a9ff,#00a3ff,#0095ff,#008aff,#0087ff,#0084ff,#0079ff,#005fff,#003bff,#0018ff,#0001ff,#0000fb,#0005ff,#0019ff,#0033ff,#004fff,#0067ff,#0078ff,#007eff,#007aff,#006dff,#0056ff,#003cff,#0024ff,#0014ff,#000fff,#0014ff,#0023ff,#003aff,#0055ff,#006eff,#007fff,#0089ff,#008eff,#0091ff,#0095ff,#0096ff,#0091ff,#0082ff,#006dff,#0059ff,#0050ff,#0054ff,#005eff,#0065ff,#0060ff,#0051ff,#003fff,#0032ff,#002fff)"></i><i style="background:linear-gradient(90deg,#006eff,#007bff,#0096ff,#00b1ff,#00bbff,#00a4ff,#0076ff,#004aff,#0039ff,#004eff,#0072ff,#008dff,#0089ff,#0068ff,#0035ff,#0000ff,#0000d2,#0000b6,#0000b3,#0000ce,#0000fd,#0030ff,#0053ff,#005fff,#0059ff,#0045ff,#0029ff,#000eff,#0000fa,#0000f9,#000aff,#001eff,#002aff,#0027ff,#0019ff,#0008ff,#0000fd,#0000fc,#000aff,#0024ff,#004cff,#0075ff,#0095ff,#00a0ff,#0098ff,#0089ff,#007dff,#007bff,#007cff,#0077ff,#0067ff,#004eff,#0034ff,#0021ff,#001bff,#0020ff,#002dff,#0040ff,#0055ff,#006aff,#0079ff,#0080ff,#007fff,#0075ff,#0063ff,#004cff,#0037ff,#0028ff,#0022ff,#0025ff,#0031ff,#0045ff,#005cff,#0070ff,#007dff,#0081ff,#0081ff,#0082ff,#0084ff,#0086ff,#0083ff,#0076ff,#0061ff,#004eff,#0042ff,#0042ff,#0048ff,#004eff,#004dff,#0045ff,#003cff,#0036ff,#0034ff)"></i><i style="background:linear-gradient(90deg,#0069ff,#0076ff,#0090ff,#00aaff,#00b3ff,#009dff,#0071ff,#0048ff,#003aff,#004fff,#0074ff,#0091ff,#008fff,#0070ff,#0041ff,#000fff,#0000e3,#0000c6,#0000bf,#0000d2,#0000f6,#001eff,#003bff,#0047ff,#0044ff,#0035ff,#001eff,#0008ff,#0000fb,#0002ff,#0018ff,#0031ff,#003dff,#0033ff,#001aff,#0000ff,#0000f0,#0000ef,#0000fe,#001cff,#0043ff,#006cff,#008aff,#0093ff,#008aff,#007aff,#0070ff,#0070ff,#0075ff,#0077ff,#006fff,#005eff,#004cff,#003cff,#0033ff,#0032ff,#0039ff,#0047ff,#005aff,#006dff,#007aff,#0080ff,#007eff,#0076ff,#0067ff,#0055ff,#0044ff,#0037ff,#0031ff,#0032ff,#003bff,#004bff,#005eff,#006fff,#0076ff,#0075ff,#0071ff,#006fff,#0071ff,#0075ff,#0073ff,#0068ff,#0055ff,#0040ff,#0030ff,#0028ff,#0027ff,#002aff,#002fff,#0033ff,#0037ff,#0039ff,#003aff)"></i><i style="background:linear-gradient(90deg,#0060ff,#006bff,#0083ff,#009cff,#00a6ff,#0096ff,#0073ff,#0051ff,#0044ff,#0054ff,#0071ff,#0087ff,#0086ff,#006dff,#0047ff,#001cff,#0000f3,#0000d7,#0000cb,#0000d7,#0000f2,#0012ff,#002aff,#0036ff,#0036ff,#002bff,#001aff,#0008ff,#0000ff,#000aff,#0022ff,#003aff,#0043ff,#0035ff,#0017ff,#0000f9,#0000e9,#0000ec,#0000fe,#001cff,#0040ff,#0063ff,#007cff,#0082ff,#0079ff,#006bff,#0063ff,#0067ff,#006fff,#0076ff,#0075ff,#006bff,#005dff,#004eff,#0042ff,#003bff,#003dff,#004aff,#005dff,#0070ff,#007cff,#007eff,#0079ff,#006fff,#0063ff,#0056ff,#004aff,#0041ff,#003aff,#003aff,#003fff,#004cff,#005cff,#0068ff,#006bff,#0066ff,#005fff,#005aff,#005dff,#0061ff,#0062ff,#0059ff,#0047ff,#0031ff,#001bff,#0009ff,#0000fd,#0000fc,#0008ff,#001aff,#002eff,#003cff,#0040ff)"></i><i style="background:linear-gradient(90deg,#0054ff,#005eff,#0073ff,#008aff,#0097ff,#0090ff,#0079ff,#0060ff,#0054ff,#005aff,#0069ff,#0075ff,#0074ff,#0063ff,#0048ff,#0027ff,#0004ff,#0000e6,#0000d7,#0000dc,#0000f0,#000aff,#001fff,#002bff,#002eff,#0028ff,#001bff,#000eff,#0008ff,#0011ff,#0027ff,#003cff,#0042ff,#0031ff,#0012ff,#0000f4,#0000e8,#0000f0,#0006ff,#0023ff,#0041ff,#005bff,#006cff,#006eff,#0066ff,#005bff,#0057ff,#005fff,#006bff,#0076ff,#0079ff,#0074ff,#0069ff,#0059ff,#0049ff,#003eff,#003cff,#0049ff,#005eff,#0073ff,#007dff,#007aff,#006fff,#0062ff,#0058ff,#0051ff,#004bff,#0045ff,#0040ff,#003dff,#0040ff,#0049ff,#0054ff,#005dff,#005dff,#0055ff,#004cff,#0047ff,#004aff,#004fff,#0051ff,#004bff,#003aff,#0023ff,#0006ff,#0000e8,#0000d2,#0000cc,#0000dd,#0000ff,#0025ff,#003eff,#0046ff)"></i><i style="background:linear-gradient(90deg,#0047ff,#004fff,#0062ff,#0078ff,#0087ff,#0089ff,#007fff,#0070ff,#0064ff,#005fff,#005fff,#005fff,#005cff,#0055ff,#0046ff,#002fff,#0012ff,#0000f6,#0000e4,#0000e3,#0000ef,#0003ff,#0015ff,#0023ff,#002aff,#002aff,#0022ff,#0019ff,#0014ff,#001cff,#002cff,#003bff,#003dff,#002aff,#000dff,#0000f3,#0000ec,#0000f9,#0011ff,#002cff,#0042ff,#0052ff,#005aff,#0059ff,#0052ff,#004cff,#004cff,#0057ff,#0067ff,#0075ff,#007dff,#007bff,#0072ff,#0062ff,#004eff,#003eff,#0039ff,#0046ff,#005eff,#0074ff,#007dff,#0075ff,#0064ff,#0053ff,#004aff,#0047ff,#0046ff,#0044ff,#0041ff,#003dff,#003eff,#0043ff,#004bff,#0050ff,#004eff,#0046ff,#003eff,#0039ff,#003bff,#0041ff,#0044ff,#003fff,#0030ff,#0018ff,#0000f5,#0000ce,#0000ad,#0000a2,#0000b8,#0000e7,#001cff,#0040ff,#004bff)"></i><i style="background:linear-gradient(90deg,#003bff,#0042ff,#0053ff,#0067ff,#0079ff,#0083ff,#0083ff,#007cff,#0070ff,#0061ff,#0053ff,#0049ff,#0045ff,#0045ff,#0041ff,#0034ff,#001eff,#0005ff,#0000f1,#0000ea,#0000ee,#0000fa,#000bff,#001cff,#0029ff,#0030ff,#002eff,#0029ff,#0025ff,#0029ff,#0034ff,#003bff,#0038ff,#0025ff,#000bff,#0000f6,#0000f4,#0005ff,#001eff,#0035ff,#0043ff,#0049ff,#0049ff,#0044ff,#003fff,#003dff,#0042ff,#0051ff,#0063ff,#0074ff,#007eff,#0080ff,#007aff,#0069ff,#0053ff,#003fff,#0037ff,#0044ff,#005cff,#0073ff,#007aff,#006dff,#0058ff,#0044ff,#003bff,#003bff,#003eff,#0040ff,#003eff,#003cff,#003bff,#003dff,#0040ff,#0042ff,#0041ff,#003cff,#0036ff,#0033ff,#0035ff,#0039ff,#003bff,#0037ff,#002bff,#0014ff,#0000ee,#0000bf,#000095,#000085,#00009e,#0000d6,#0015ff,#0041ff,#004eff)"></i><i style="background:linear-gradient(90deg,#0031ff,#0038ff,#0048ff,#005cff,#006fff,#007cff,#0081ff,#007eff,#0071ff,#005dff,#0048ff,#0038ff,#0033ff,#0036ff,#0039ff,#0035ff,#0026ff,#0012ff,#0000fe,#0000f1,#0000ed,#0000f1,#0000fe,#0014ff,#0029ff,#0039ff,#003fff,#003fff,#003cff,#003dff,#0040ff,#0040ff,#0038ff,#0025ff,#000eff,#0000fd,#0000ff,#0011ff,#0028ff,#003aff,#0041ff,#003eff,#0038ff,#0031ff,#002eff,#0030ff,#0039ff,#004aff,#005eff,#0071ff,#007fff,#0086ff,#0082ff,#0074ff,#005cff,#0045ff,#003aff,#0044ff,#005aff,#006fff,#0074ff,#0065ff,#004dff,#0038ff,#002eff,#002fff,#0034ff,#0038ff,#003aff,#0039ff,#0038ff,#0037ff,#0036ff,#0036ff,#0037ff,#0038ff,#0039ff,#003aff,#003bff,#003bff,#0039ff,#0036ff,#002dff,#0019ff,#0000f4,#0000c1,#000093,#000080,#000096,#0000d0,#0013ff,#0041ff,#004fff)"></i><i style="background:linear-gradient(90deg,#002cff,#0033ff,#0043ff,#0057ff,#006aff,#0076ff,#0079ff,#0074ff,#0066ff,#0053ff,#003eff,#002fff,#002aff,#002cff,#0031ff,#0031ff,#002bff,#001eff,#000eff,#0000fa,#0000ea,#0000e4,#0000ee,#0009ff,#0029ff,#0045ff,#0054ff,#0059ff,#0058ff,#0055ff,#0052ff,#004cff,#003fff,#002cff,#0018ff,#000bff,#000dff,#001bff,#002eff,#003aff,#003aff,#0032ff,#0028ff,#0022ff,#0020ff,#0026ff,#0031ff,#0043ff,#0058ff,#006dff,#007fff,#008bff,#008dff,#0082ff,#006bff,#0052ff,#0043ff,#0047ff,#0057ff,#0067ff,#006aff,#005cff,#0045ff,#0031ff,#0026ff,#0024ff,#0028ff,#002eff,#0033ff,#0036ff,#0036ff,#0033ff,#002eff,#002dff,#0032ff,#003cff,#0047ff,#004eff,#004dff,#0047ff,#0040ff,#003bff,#0036ff,#0028ff,#0009ff,#0000d7,#0000a8,#000091,#0000a4,#0000d8,#0015ff,#0040ff,#004dff)"></i><i style="background:linear-gradient(90deg,#002aff,#0032ff,#0043ff,#0058ff,#0069ff,#0070ff,#006cff,#0061ff,#0053ff,#0044ff,#0036ff,#002cff,#0028ff,#0027ff,#002aff,#002dff,#002eff,#002aff,#001cff,#0003ff,#0000e7,#0000d6,#0000dd,#0000fd,#002aff,#0052ff,#006aff,#0075ff,#0075ff,#0070ff,#0068ff,#005cff,#004cff,#0038ff,#0026ff,#001aff,#001aff,#0024ff,#002fff,#0035ff,#0031ff,#0026ff,#001aff,#0014ff,#0015ff,#001dff,#002aff,#003dff,#0053ff,#006aff,#0080ff,#0092ff,#009bff,#0094ff,#007fff,#0065ff,#0051ff,#004dff,#0054ff,#005dff,#005eff,#0052ff,#0040ff,#002eff,#0021ff,#001bff,#001cff,#0021ff,#002bff,#0033ff,#0036ff,#0030ff,#0029ff,#0027ff,#0032ff,#0047ff,#005eff,#006aff,#0067ff,#005aff,#004cff,#0046ff,#0045ff,#003dff,#0026ff,#0000fb,#0000cf,#0000b6,#0000c2,#0000ea,#001bff,#003eff,#0048ff)"></i><i style="background:linear-gradient(90deg,#002aff,#0033ff,#0046ff,#005cff,#006cff,#006cff,#005fff,#004cff,#003cff,#0034ff,#0030ff,#002eff,#002bff,#0028ff,#0027ff,#002aff,#0032ff,#0034ff,#0029ff,#000bff,#0000e4,#0000ca,#0000ce,#0000f4,#002bff,#005eff,#0080ff,#008fff,#0091ff,#008bff,#007eff,#006eff,#005bff,#0047ff,#0035ff,#0029ff,#0025ff,#0029ff,#002dff,#002dff,#0025ff,#0019ff,#000eff,#000aff,#000dff,#0016ff,#0025ff,#0038ff,#0050ff,#0069ff,#0084ff,#009cff,#00aaff,#00a7ff,#0094ff,#007aff,#0062ff,#0055ff,#0052ff,#0052ff,#0050ff,#0049ff,#003dff,#002fff,#0020ff,#0015ff,#0010ff,#0015ff,#0022ff,#0030ff,#0036ff,#0030ff,#0027ff,#0025ff,#0036ff,#0056ff,#0076ff,#0088ff,#0083ff,#0070ff,#005cff,#0054ff,#0055ff,#0054ff,#0045ff,#0024ff,#0000fe,#0000e5,#0000e8,#0003ff,#0024ff,#003cff,#0043ff)"></i><i style="background:linear-gradient(90deg,#002cff,#0036ff,#004cff,#0063ff,#0070ff,#006aff,#0053ff,#0038ff,#0027ff,#0024ff,#002bff,#0032ff,#0032ff,#002dff,#002aff,#002eff,#0038ff,#003eff,#0034ff,#0011ff,#0000e3,#0000c2,#0000c5,#0000ef,#002eff,#0069ff,#0091ff,#00a4ff,#00a8ff,#00a0ff,#0091ff,#007eff,#0069ff,#0055ff,#0043ff,#0036ff,#002eff,#002bff,#0029ff,#0023ff,#0019ff,#000dff,#0004ff,#0001ff,#0006ff,#0011ff,#0021ff,#0037ff,#0051ff,#006eff,#008dff,#00a9ff,#00baff,#00bbff,#00aaff,#008fff,#0073ff,#005dff,#004fff,#0047ff,#0043ff,#0041ff,#003cff,#0033ff,#0022ff,#0011ff,#0005ff,#0009ff,#0019ff,#002cff,#0037ff,#0033ff,#0029ff,#0028ff,#003dff,#0064ff,#008cff,#00a3ff,#009cff,#0085ff,#006dff,#0062ff,#0065ff,#0069ff,#0061ff,#004aff,#002cff,#0015ff,#0010ff,#001cff,#002dff,#003aff,#003eff)"></i><i style="background:linear-gradient(90deg,#002fff,#003aff,#0052ff,#006aff,#0076ff,#006aff,#004cff,#002bff,#0017ff,#0019ff,#0027ff,#0036ff,#003bff,#0039ff,#0036ff,#003aff,#0044ff,#0048ff,#003cff,#0016ff,#0000e4,#0000c1,#0000c3,#0000f0,#0032ff,#0072ff,#009cff,#00b1ff,#00b5ff,#00adff,#009eff,#008aff,#0075ff,#0060ff,#004dff,#003eff,#0032ff,#0029ff,#0021ff,#0019ff,#000eff,#0004ff,#0000fb,#0000fa,#0000ff,#000cff,#001fff,#0039ff,#0058ff,#007bff,#009dff,#00baff,#00cbff,#00ccff,#00bdff,#00a2ff,#0083ff,#0066ff,#004eff,#003eff,#0038ff,#003bff,#003eff,#0039ff,#0027ff,#000fff,#0000fd,#0000fd,#0011ff,#0028ff,#0038ff,#0037ff,#0030ff,#0031ff,#0048ff,#0071ff,#009bff,#00b3ff,#00adff,#0095ff,#007cff,#0070ff,#0071ff,#0076ff,#0074ff,#0064ff,#004fff,#003bff,#0031ff,#0031ff,#0035ff,#0039ff,#003aff)"></i><i style="background:linear-gradient(90deg,#0033ff,#003eff,#0057ff,#0070ff,#007cff,#006eff,#004cff,#0028ff,#0012ff,#0014ff,#0024ff,#0038ff,#0045ff,#004aff,#004dff,#0051ff,#0055ff,#0052ff,#0040ff,#0018ff,#0000e8,#0000c8,#0000cd,#0000f9,#003aff,#0077ff,#009fff,#00b3ff,#00b7ff,#00b0ff,#00a2ff,#0090ff,#007bff,#0065ff,#0051ff,#003fff,#0030ff,#0023ff,#0019ff,#000fff,#0005ff,#0000fc,#0000f6,#0000f5,#0000fb,#0009ff,#0020ff,#0041ff,#0068ff,#0091ff,#00b5ff,#00cfff,#00dcff,#00daff,#00caff,#00afff,#008fff,#006cff,#004dff,#0036ff,#0030ff,#0037ff,#0041ff,#0041ff,#002eff,#0011ff,#0000f8,#0000f5,#0009ff,#0024ff,#0039ff,#003eff,#003bff,#003fff,#0054ff,#007aff,#00a0ff,#00b5ff,#00b1ff,#009dff,#0086ff,#0079ff,#0077ff,#0079ff,#0077ff,#006eff,#0060ff,#0052ff,#0046ff,#003fff,#003bff,#0039ff,#0038ff)"></i><i style="background:linear-gradient(90deg,#0036ff,#0041ff,#005aff,#0074ff,#0080ff,#0073ff,#0052ff,#002dff,#0015ff,#0014ff,#0022ff,#0038ff,#004dff,#005eff,#006aff,#006eff,#006aff,#005cff,#0041ff,#0019ff,#0000f0,#0000d8,#0000e0,#000aff,#0043ff,#0079ff,#009cff,#00acff,#00afff,#00aaff,#009fff,#008fff,#007cff,#0067ff,#0051ff,#003cff,#002bff,#001cff,#0011ff,#0007ff,#0000ff,#0000f9,#0000f5,#0000f4,#0000f9,#0008ff,#0024ff,#004dff,#007fff,#00afff,#00d4ff,#00e9ff,#00eeff,#00e4ff,#00d1ff,#00b7ff,#0096ff,#0071ff,#004cff,#0032ff,#002bff,#0037ff,#0047ff,#004bff,#0036ff,#0015ff,#0000f7,#0000f0,#0003ff,#0020ff,#003aff,#0046ff,#004aff,#0050ff,#0062ff,#007eff,#009bff,#00acff,#00aaff,#009dff,#008cff,#007eff,#0077ff,#0073ff,#006fff,#006aff,#0062ff,#005aff,#0050ff,#0046ff,#003eff,#0039ff,#0037ff)"></i><i style="background:linear-gradient(90deg,#0037ff,#0042ff,#005aff,#0074ff,#0082ff,#0077ff,#005aff,#0037ff,#001eff,#0018ff,#0021ff,#0037ff,#0054ff,#0071ff,#0086ff,#008cff,#007eff,#0063ff,#0040ff,#001bff,#0000fc,#0000ee,#0000fa,#001fff,#004eff,#0078ff,#0093ff,#009fff,#00a0ff,#009cff,#0095ff,#008aff,#007bff,#0066ff,#004fff,#0039ff,#0026ff,#0017ff,#000dff,#0005ff,#0000fe,#0000fb,#0000f9,#0000f8,#0000fd,#000dff,#002dff,#0060ff,#009bff,#00d3ff,#00f8ff,#06fff9,#00ffff,#00ecff,#00d4ff,#00b8ff,#0098ff,#0072ff,#004bff,#0030ff,#002bff,#003bff,#0050ff,#0056ff,#0041ff,#001cff,#0000f9,#0000ee,#0000fe,#001dff,#003aff,#004dff,#0057ff,#0060ff,#006eff,#007fff,#0090ff,#009bff,#009dff,#0097ff,#008cff,#007fff,#0072ff,#0067ff,#005fff,#005bff,#0059ff,#0056ff,#0050ff,#0047ff,#003fff,#0039ff,#0037ff)"></i><i style="background:linear-gradient(90deg,#0036ff,#0041ff,#0057ff,#0070ff,#007fff,#0079ff,#0060ff,#0042ff,#0028ff,#001dff,#0021ff,#0035ff,#0057ff,#007fff,#009dff,#00a4ff,#008eff,#0067ff,#003eff,#001eff,#000cff,#000aff,#0019ff,#0037ff,#0059ff,#0077ff,#0088ff,#008eff,#008eff,#008cff,#0089ff,#0083ff,#0078ff,#0066ff,#004fff,#0038ff,#0025ff,#0018ff,#000eff,#0009ff,#0006ff,#0005ff,#0005ff,#0005ff,#0009ff,#0019ff,#003eff,#0078ff,#00bcff,#00f9ff,#1dffe2,#22ffdd,#10ffef,#00f1ff,#00d2ff,#00b4ff,#0094ff,#006fff,#004aff,#0032ff,#0030ff,#0044ff,#005cff,#0063ff,#004dff,#0025ff,#0000fe,#0000f0,#0000fd,#001aff,#003aff,#0052ff,#0062ff,#006dff,#0076ff,#007dff,#0083ff,#0088ff,#008cff,#008cff,#0087ff,#007aff,#0069ff,#0058ff,#004cff,#0048ff,#0049ff,#004bff,#0049ff,#0043ff,#003dff,#0039ff,#0038ff)"></i><i style="background:linear-gradient(90deg,#0032ff,#003cff,#0050ff,#0067ff,#0076ff,#0074ff,#0062ff,#004aff,#0032ff,#0023ff,#0021ff,#0032ff,#0057ff,#0085ff,#00a9ff,#00b0ff,#0095ff,#0068ff,#003dff,#0024ff,#001fff,#0027ff,#0039ff,#0050ff,#0065ff,#0075ff,#007cff,#007cff,#007aff,#0079ff,#007bff,#007bff,#0075ff,#0067ff,#0053ff,#003eff,#002dff,#0021ff,#0019ff,#0016ff,#0015ff,#0016ff,#0018ff,#001aff,#0020ff,#0032ff,#0059ff,#0097ff,#00e0ff,#20ffdf,#3fffc0,#3cffc3,#1effe1,#00f4ff,#00ccff,#00a9ff,#0089ff,#0067ff,#0049ff,#0037ff,#003aff,#0052ff,#006bff,#0073ff,#005bff,#0030ff,#0007ff,#0000f4,#0000fe,#0019ff,#0039ff,#0053ff,#0066ff,#0072ff,#0078ff,#0079ff,#0078ff,#0078ff,#007bff,#007eff,#007bff,#006fff,#005cff,#0048ff,#0039ff,#0035ff,#0037ff,#003bff,#003cff,#003cff,#003aff,#0038ff,#0038ff)"></i><i style="background:linear-gradient(90deg,#002aff,#0032ff,#0044ff,#0058ff,#0067ff,#0068ff,#005eff,#004cff,#0038ff,#0028ff,#0022ff,#002fff,#0052ff,#0080ff,#00a4ff,#00abff,#008fff,#0064ff,#003dff,#002fff,#0035ff,#0047ff,#005aff,#0068ff,#0071ff,#0074ff,#0071ff,#006bff,#0067ff,#0069ff,#006eff,#0074ff,#0074ff,#006cff,#005dff,#004cff,#003eff,#0035ff,#002fff,#002dff,#002eff,#0032ff,#0037ff,#003cff,#0046ff,#005bff,#0082ff,#00c0ff,#06fff9,#40ffbf,#5bffa4,#50ffaf,#29ffd6,#00f5ff,#00c4ff,#0099ff,#0077ff,#005aff,#0046ff,#003fff,#004bff,#0065ff,#007eff,#0084ff,#006aff,#003dff,#0012ff,#0000fb,#0002ff,#001aff,#0036ff,#004fff,#0061ff,#006dff,#0073ff,#0072ff,#0070ff,#006eff,#006fff,#006fff,#006aff,#005eff,#004cff,#003aff,#002cff,#0026ff,#0026ff,#0029ff,#002dff,#0031ff,#0034ff,#0036ff,#0037ff)"></i><i style="background:linear-gradient(90deg,#0020ff,#0026ff,#0034ff,#0044ff,#0051ff,#0056ff,#0052ff,#0048ff,#003aff,#002bff,#0024ff,#002cff,#004aff,#0072ff,#0092ff,#0098ff,#0080ff,#005bff,#003fff,#003cff,#004dff,#0065ff,#0078ff,#007fff,#007cff,#0073ff,#0068ff,#005dff,#0058ff,#005aff,#0063ff,#006eff,#0075ff,#0074ff,#006cff,#0062ff,#0059ff,#0051ff,#004dff,#004cff,#004eff,#0055ff,#0060ff,#006dff,#007fff,#0098ff,#00beff,#00f3ff,#2effd1,#5cffa3,#6dff92,#5cffa3,#30ffcf,#00f5ff,#00baff,#0087ff,#0061ff,#004bff,#0043ff,#0049ff,#005eff,#007bff,#0093ff,#0096ff,#007aff,#004bff,#001eff,#0006ff,#0009ff,#001cff,#0034ff,#0048ff,#0056ff,#0061ff,#0068ff,#006cff,#006dff,#006bff,#0067ff,#0060ff,#0056ff,#004aff,#003cff,#002eff,#0023ff,#001bff,#0018ff,#0018ff,#001dff,#0025ff,#002dff,#0033ff,#0034ff)"></i><i style="background:linear-gradient(90deg,#0014ff,#0018ff,#0021ff,#002cff,#0037ff,#003fff,#0043ff,#0041ff,#003aff,#002fff,#0028ff,#002cff,#0041ff,#005fff,#0077ff,#007cff,#0069ff,#004fff,#003fff,#0048ff,#0063ff,#0080ff,#0092ff,#0092ff,#0086ff,#0073ff,#0061ff,#0052ff,#004bff,#004dff,#0059ff,#0068ff,#0076ff,#007dff,#007eff,#007cff,#0077ff,#0072ff,#006fff,#006eff,#0073ff,#007eff,#0092ff,#00acff,#00cbff,#00ecff,#0ffff0,#35ffca,#59ffa6,#73ff8c,#77ff88,#60ff9f,#32ffcd,#00f4ff,#00b1ff,#0076ff,#004dff,#003cff,#0040ff,#0053ff,#0071ff,#0090ff,#00a5ff,#00a5ff,#0087ff,#0059ff,#002bff,#0012ff,#0012ff,#0020ff,#0032ff,#003fff,#0048ff,#0050ff,#005aff,#0065ff,#006cff,#006cff,#0062ff,#0052ff,#0041ff,#0034ff,#002cff,#0025ff,#001eff,#0015ff,#000dff,#000aff,#000fff,#0019ff,#0025ff,#002eff,#0030ff)"></i><i style="background:linear-gradient(90deg,#0009ff,#000aff,#000eff,#0014ff,#001cff,#0026ff,#0031ff,#0038ff,#0039ff,#0034ff,#002eff,#002eff,#003aff,#004cff,#005bff,#005cff,#004fff,#0041ff,#003eff,#0052ff,#0074ff,#0096ff,#00a7ff,#00a2ff,#008eff,#0074ff,#005cff,#004aff,#0041ff,#0044ff,#0051ff,#0064ff,#0076ff,#0085ff,#008fff,#0094ff,#0095ff,#0093ff,#0090ff,#0091ff,#0098ff,#00aaff,#00ccff,#00f9ff,#2cffd3,#57ffa8,#75ff8a,#86ff79,#8bff74,#88ff77,#79ff86,#5dffa2,#2fffd0,#00f1ff,#00abff,#006bff,#003fff,#0032ff,#003fff,#005bff,#007eff,#009fff,#00b2ff,#00b0ff,#0092ff,#0064ff,#0038ff,#001fff,#001cff,#0026ff,#0032ff,#0038ff,#003bff,#0040ff,#004dff,#005fff,#006eff,#0070ff,#0060ff,#0047ff,#002fff,#0021ff,#001eff,#001eff,#001bff,#0012ff,#0006ff,#0000ff,#0003ff,#000fff,#001dff,#0027ff,#002aff)"></i><i style="background:linear-gradient(90deg,#0000fe,#0000fd,#0000fb,#0000fb,#0001ff,#000eff,#001fff,#002fff,#0039ff,#003bff,#0037ff,#0035ff,#0037ff,#003eff,#0042ff,#003fff,#0036ff,#0030ff,#0038ff,#0055ff,#007eff,#00a3ff,#00b4ff,#00acff,#0094ff,#0076ff,#005bff,#0046ff,#003bff,#003cff,#004aff,#005fff,#0076ff,#008cff,#009dff,#00a9ff,#00aeff,#00afff,#00adff,#00aeff,#00b9ff,#00d6ff,#0bfff4,#52ffad,#9cff63,#d3ff2c,#ebff14,#e2ff1d,#c3ff3c,#9bff64,#77ff88,#52ffad,#27ffd8,#00eeff,#00a9ff,#0069ff,#003cff,#0030ff,#0040ff,#005fff,#0084ff,#00a4ff,#00b6ff,#00b4ff,#0098ff,#006eff,#0044ff,#002bff,#0028ff,#002fff,#0036ff,#0036ff,#0033ff,#0035ff,#0044ff,#005bff,#0070ff,#0074ff,#0061ff,#0041ff,#0024ff,#0015ff,#0014ff,#0019ff,#001aff,#0011ff,#0004ff,#0000fa,#0000fc,#0008ff,#0015ff,#001fff,#0022ff)"></i><i style="background:linear-gradient(90deg,#0000f8,#0000f4,#0000ed,#0000e7,#0000e8,#0000f6,#000fff,#0029ff,#003cff,#0044ff,#0044ff,#0040ff,#003cff,#0038ff,#0032ff,#002aff,#0021ff,#0020ff,#002dff,#0050ff,#007dff,#00a5ff,#00b7ff,#00b0ff,#0098ff,#0079ff,#005cff,#0045ff,#0038ff,#0038ff,#0045ff,#005bff,#0075ff,#008eff,#00a4ff,#00b5ff,#00bfff,#00c1ff,#00c1ff,#00c4ff,#00d4ff,#00fcff,#47ffb8,#abff54,#ffef00,#ffab00,#ff9900,#ffbb00,#fdff02,#afff50,#70ff8f,#43ffbc,#1bffe4,#00eaff,#00afff,#0074ff,#0049ff,#003aff,#0043ff,#005dff,#007dff,#009bff,#00afff,#00b0ff,#0098ff,#0073ff,#004eff,#0038ff,#0034ff,#0039ff,#003dff,#0039ff,#0033ff,#0033ff,#0041ff,#005bff,#0071ff,#0076ff,#0062ff,#0041ff,#0021ff,#0011ff,#0010ff,#0016ff,#0018ff,#0011ff,#0007ff,#0000fe,#0000fd,#0005ff,#000eff,#0015ff,#0017ff)"></i><i style="background:linear-gradient(90deg,#0000f6,#0000ef,#0000e2,#0000d6,#0000d3,#0000e3,#0002ff,#0025ff,#0041ff,#0050ff,#0054ff,#0050ff,#0047ff,#003aff,#002cff,#001dff,#0012ff,#0010ff,#001fff,#0043ff,#0072ff,#009dff,#00b3ff,#00afff,#0099ff,#007cff,#005eff,#0046ff,#0038ff,#0037ff,#0043ff,#0058ff,#0072ff,#008dff,#00a6ff,#00baff,#00c5ff,#00caff,#00cbff,#00d0ff,#00e5ff,#1cffe3,#7dff82,#fdff02,#ff8600,#ff3700,#ff2b00,#ff6300,#ffcb00,#c1ff3e,#69ff96,#32ffcd,#0dfff2,#00e7ff,#00baff,#008aff,#0062ff,#004dff,#004aff,#0055ff,#006cff,#0087ff,#009dff,#00a3ff,#0093ff,#0074ff,#0055ff,#0043ff,#0041ff,#0046ff,#0049ff,#0043ff,#003cff,#003aff,#0046ff,#005dff,#0071ff,#0076ff,#0064ff,#0045ff,#0027ff,#0015ff,#0011ff,#0013ff,#0016ff,#0013ff,#000eff,#0009ff,#0006ff,#0007ff,#0008ff,#000aff,#000aff)"></i><i style="background:linear-gradient(90deg,#0000f7,#0000ee,#0000dc,#0000ca,#0000c4,#0000d4,#0000f7,#0022ff,#0045ff,#005aff,#0063ff,#0060ff,#0054ff,#0043ff,#002eff,#001aff,#0009ff,#0003ff,#000fff,#0032ff,#0062ff,#008eff,#00a7ff,#00a8ff,#0098ff,#007eff,#0062ff,#0049ff,#0039ff,#0037ff,#0041ff,#0056ff,#0070ff,#008bff,#00a4ff,#00b8ff,#00c5ff,#00caff,#00cdff,#00d4ff,#00efff,#32ffcd,#a8ff57,#ffbf00,#ff3400,#df0000,#d70000,#ff1f00,#ffa100,#ceff31,#60ff9f,#20ffdf,#00feff,#00e5ff,#00c6ff,#00a4ff,#0081ff,#0065ff,#0052ff,#004cff,#0056ff,#006eff,#0086ff,#0093ff,#008bff,#0075ff,#005dff,#004fff,#004eff,#0053ff,#0056ff,#0051ff,#004aff,#0047ff,#0050ff,#0062ff,#0072ff,#0075ff,#0066ff,#004cff,#0031ff,#001eff,#0015ff,#0013ff,#0014ff,#0016ff,#0017ff,#0016ff,#0012ff,#000bff,#0004ff,#0000ff,#0000fd)"></i><i style="background:linear-gradient(90deg,#0000fa,#0000f0,#0000da,#0000c4,#0000bb,#0000cb,#0000f0,#001fff,#0047ff,#0061ff,#006dff,#006dff,#0062ff,#004fff,#0037ff,#001dff,#0007ff,#0000fa,#0002ff,#0021ff,#004fff,#007cff,#0098ff,#009eff,#0093ff,#007dff,#0064ff,#004cff,#003bff,#0038ff,#0042ff,#0056ff,#006fff,#0089ff,#00a1ff,#00b4ff,#00c0ff,#00c5ff,#00c8ff,#00d1ff,#00f0ff,#3effc1,#c2ff3d,#ff9500,#ff0100,#af0000,#aa0000,#f70000,#ff8a00,#d2ff2d,#55ffaa,#10ffef,#00f1ff,#00e1ff,#00d2ff,#00bcff,#009fff,#007cff,#005bff,#0044ff,#0043ff,#0056ff,#0070ff,#0083ff,#0083ff,#0076ff,#0066ff,#005cff,#005cff,#0061ff,#0063ff,#0060ff,#005bff,#0058ff,#005eff,#0069ff,#0073ff,#0074ff,#0068ff,#0052ff,#003aff,#0027ff,#001aff,#0014ff,#0015ff,#001bff,#0023ff,#0025ff,#001fff,#0012ff,#0003ff,#0000f8,#0000f5)"></i><i style="background:linear-gradient(90deg,#0000ff,#0000f4,#0000dd,#0000c4,#0000b9,#0000c7,#0000ec,#001bff,#0044ff,#0061ff,#0071ff,#0075ff,#006dff,#005cff,#0043ff,#0027ff,#000bff,#0000f8,#0000f9,#0014ff,#003eff,#006aff,#0088ff,#0092ff,#008bff,#007aff,#0063ff,#004cff,#003cff,#0039ff,#0045ff,#0059ff,#0072ff,#008bff,#00a0ff,#00b0ff,#00b9ff,#00bdff,#00bfff,#00c8ff,#00ebff,#3effc1,#caff35,#ff8700,#f00000,#a50000,#a20000,#f10000,#ff8a00,#caff35,#48ffb7,#01fffe,#00e5ff,#00ddff,#00d7ff,#00cbff,#00b3ff,#008dff,#0063ff,#0042ff,#0037ff,#0046ff,#0060ff,#0077ff,#007fff,#007aff,#0071ff,#006bff,#006bff,#006eff,#0070ff,#006fff,#006cff,#006bff,#006eff,#0073ff,#0077ff,#0074ff,#0068ff,#0055ff,#0040ff,#002cff,#001eff,#0016ff,#0018ff,#0022ff,#002dff,#0033ff,#002bff,#0019ff,#0005ff,#0000f5,#0000f1)"></i><i style="background:linear-gradient(90deg,#0007ff,#0000fb,#0000e4,#0000cc,#0000c0,#0000cb,#0000ea,#0014ff,#003bff,#0059ff,#006cff,#0074ff,#0072ff,#0066ff,#0052ff,#0036ff,#0018ff,#0001ff,#0000fa,#000eff,#0033ff,#005bff,#0078ff,#0084ff,#0081ff,#0073ff,#005dff,#0048ff,#003aff,#003aff,#0049ff,#0060ff,#007aff,#0091ff,#00a2ff,#00aeff,#00b3ff,#00b3ff,#00b3ff,#00bcff,#00dfff,#33ffcc,#beff41,#ff9500,#ff0200,#b60000,#b70000,#ff0b00,#ffa200,#b6ff49,#39ffc6,#00f4ff,#00dbff,#00d5ff,#00d4ff,#00ccff,#00b8ff,#0094ff,#006aff,#0047ff,#003aff,#0045ff,#005cff,#0073ff,#0080ff,#0082ff,#007fff,#007cff,#007aff,#0079ff,#0079ff,#007aff,#007bff,#007cff,#007eff,#007fff,#007dff,#0075ff,#0066ff,#0051ff,#003dff,#002bff,#001fff,#001aff,#001eff,#002aff,#0037ff,#003cff,#0034ff,#0020ff,#000aff,#0000fa,#0000f5)"></i><i style="background:linear-gradient(90deg,#000eff,#0005ff,#0000f1,#0000db,#0000cf,#0000d5,#0000ec,#000cff,#002dff,#0048ff,#005cff,#006aff,#0070ff,#006dff,#0061ff,#004aff,#002bff,#0010ff,#0004ff,#0010ff,#002eff,#0050ff,#006aff,#0075ff,#0073ff,#0067ff,#0054ff,#0041ff,#0035ff,#003aff,#004eff,#006aff,#0086ff,#009cff,#00a9ff,#00afff,#00aeff,#00a9ff,#00a5ff,#00adff,#00d0ff,#20ffdf,#a3ff5c,#ffbc00,#ff3100,#e60000,#eb0000,#ff4000,#ffcf00,#98ff67,#27ffd8,#00eaff,#00d3ff,#00ccff,#00c7ff,#00beff,#00acff,#008fff,#006fff,#0055ff,#004bff,#0052ff,#0064ff,#0077ff,#0086ff,#008eff,#0091ff,#008eff,#0088ff,#0082ff,#007fff,#0080ff,#0085ff,#008aff,#008dff,#008cff,#0086ff,#0078ff,#0061ff,#0048ff,#0031ff,#0022ff,#001dff,#001fff,#0028ff,#0034ff,#003eff,#0041ff,#0038ff,#0026ff,#0013ff,#0005ff,#0001ff)"></i><i style="background:linear-gradient(90deg,#0017ff,#0010ff,#0002ff,#0000f1,#0000e5,#0000e5,#0000f1,#0005ff,#001bff,#0032ff,#0047ff,#005aff,#006aff,#0072ff,#006fff,#005fff,#0041ff,#0024ff,#0012ff,#0017ff,#002dff,#0048ff,#005dff,#0066ff,#0064ff,#0059ff,#0048ff,#0038ff,#0031ff,#003aff,#0055ff,#0076ff,#0095ff,#00a9ff,#00b2ff,#00b2ff,#00abff,#00a0ff,#0098ff,#009dff,#00bdff,#07fff8,#7bff84,#fff700,#ff7c00,#ff3900,#ff4100,#ff9000,#f0ff0f,#70ff8f,#13ffec,#00e1ff,#00ccff,#00c2ff,#00b6ff,#00a8ff,#0097ff,#0086ff,#0075ff,#006aff,#0065ff,#0069ff,#0073ff,#0081ff,#008fff,#009bff,#00a2ff,#009fff,#0095ff,#0089ff,#0081ff,#0083ff,#008bff,#0094ff,#0099ff,#0098ff,#008eff,#007aff,#005cff,#003bff,#0021ff,#0016ff,#0019ff,#0024ff,#0032ff,#003cff,#0042ff,#0042ff,#0039ff,#002bff,#001dff,#0014ff,#0011ff)"></i><i style="background:linear-gradient(90deg,#0021ff,#001eff,#0016ff,#000cff,#0002ff,#0000fb,#0000fa,#0000ff,#000aff,#001bff,#0031ff,#0049ff,#0061ff,#0075ff,#007dff,#0074ff,#0059ff,#0039ff,#0023ff,#0020ff,#002dff,#0041ff,#0050ff,#0057ff,#0055ff,#004bff,#003dff,#0030ff,#002dff,#003cff,#005cff,#0082ff,#00a3ff,#00b6ff,#00bbff,#00b6ff,#00a8ff,#0098ff,#008bff,#008eff,#00abff,#00e9ff,#4bffb4,#beff41,#ffdb00,#ffa400,#ffad00,#fff000,#a7ff58,#43ffbc,#00fcff,#00d8ff,#00c6ff,#00b8ff,#00a6ff,#0092ff,#0083ff,#007cff,#007dff,#0081ff,#0084ff,#0084ff,#0085ff,#008bff,#0097ff,#00a6ff,#00afff,#00acff,#009dff,#008bff,#0080ff,#0081ff,#008bff,#0098ff,#009fff,#009fff,#0093ff,#007aff,#0055ff,#002eff,#0011ff,#0008ff,#0014ff,#0028ff,#003aff,#0043ff,#0044ff,#0040ff,#0038ff,#0030ff,#0028ff,#0023ff,#0022ff)"></i><i style="background:linear-gradient(90deg,#002dff,#002dff,#002cff,#0029ff,#0023ff,#0017ff,#000aff,#0000ff,#0000fd,#0009ff,#001dff,#0039ff,#0059ff,#0077ff,#0089ff,#0086ff,#006eff,#004eff,#0032ff,#0029ff,#002eff,#003aff,#0044ff,#0048ff,#0046ff,#003fff,#0034ff,#002bff,#002dff,#0040ff,#0064ff,#008cff,#00aeff,#00c0ff,#00c3ff,#00b9ff,#00a7ff,#0091ff,#0081ff,#0081ff,#0099ff,#00cdff,#1bffe4,#73ff8c,#bfff40,#e7ff18,#deff21,#a9ff56,#5dffa2,#16ffe9,#00e6ff,#00ceff,#00c1ff,#00b1ff,#009aff,#0083ff,#0075ff,#0079ff,#0089ff,#009aff,#00a2ff,#009dff,#0095ff,#0092ff,#009bff,#00aaff,#00b5ff,#00b1ff,#009fff,#0089ff,#007bff,#007cff,#0087ff,#0095ff,#009fff,#009fff,#0092ff,#0077ff,#004eff,#0023ff,#0004ff,#0000fd,#000fff,#0028ff,#003dff,#0044ff,#0042ff,#003cff,#0037ff,#0033ff,#0032ff,#0031ff,#0031ff)"></i><i style="background:linear-gradient(90deg,#003aff,#003dff,#0044ff,#0048ff,#0045ff,#0036ff,#001eff,#0006ff,#0000f9,#0000fd,#0010ff,#002eff,#0053ff,#0079ff,#0092ff,#0095ff,#007fff,#005dff,#003eff,#002eff,#002cff,#0031ff,#0037ff,#003aff,#003aff,#0037ff,#0030ff,#002cff,#0031ff,#0047ff,#006bff,#0094ff,#00b4ff,#00c5ff,#00c6ff,#00bbff,#00a6ff,#008dff,#007aff,#0077ff,#008bff,#00b4ff,#00eeff,#2dffd2,#61ff9e,#7bff84,#72ff8d,#4bffb4,#17ffe8,#00e9ff,#00ceff,#00c2ff,#00bbff,#00aeff,#0098ff,#0082ff,#0078ff,#0082ff,#009aff,#00b1ff,#00b9ff,#00afff,#009eff,#0094ff,#0098ff,#00a5ff,#00b0ff,#00acff,#0099ff,#0082ff,#0073ff,#0072ff,#007dff,#008bff,#0095ff,#0095ff,#008aff,#0070ff,#0048ff,#001eff,#0000ff,#0000fa,#000bff,#0025ff,#0039ff,#0040ff,#003eff,#0039ff,#0036ff,#0036ff,#0039ff,#003aff,#003bff)"></i><i style="background:linear-gradient(90deg,#0049ff,#004fff,#005cff,#0068ff,#0069ff,#0056ff,#0036ff,#0015ff,#0000fe,#0000fb,#000bff,#0029ff,#0051ff,#007bff,#0098ff,#009eff,#0089ff,#0066ff,#0043ff,#002eff,#0026ff,#0026ff,#0029ff,#002eff,#0031ff,#0032ff,#0031ff,#0032ff,#003bff,#0051ff,#0073ff,#0097ff,#00b4ff,#00c3ff,#00c5ff,#00baff,#00a5ff,#008cff,#0078ff,#0071ff,#007fff,#009eff,#00c7ff,#00f0ff,#11ffee,#20ffdf,#17ffe8,#00fcff,#00daff,#00c0ff,#00b4ff,#00b4ff,#00b5ff,#00b0ff,#00a1ff,#0092ff,#008dff,#0099ff,#00b0ff,#00c3ff,#00c6ff,#00b6ff,#009eff,#008dff,#008cff,#0096ff,#009eff,#009bff,#008bff,#0076ff,#0067ff,#0066ff,#006eff,#007aff,#0081ff,#0082ff,#0079ff,#0063ff,#0042ff,#0020ff,#0006ff,#0000fe,#000aff,#001dff,#002dff,#0035ff,#0036ff,#0036ff,#0036ff,#0039ff,#003cff,#003eff,#003fff)"></i><i style="background:linear-gradient(90deg,#0057ff,#0060ff,#0072ff,#0084ff,#0089ff,#0076ff,#0050ff,#0027ff,#000aff,#0002ff,#000dff,#0029ff,#0051ff,#007cff,#009bff,#00a2ff,#008dff,#0069ff,#0044ff,#002bff,#001dff,#001aff,#001cff,#0022ff,#002aff,#0031ff,#0037ff,#003dff,#0049ff,#005dff,#007aff,#0099ff,#00b1ff,#00bfff,#00c1ff,#00b8ff,#00a5ff,#008dff,#0078ff,#006fff,#0077ff,#008dff,#00a8ff,#00c2ff,#00d4ff,#00daff,#00d3ff,#00c0ff,#00acff,#009eff,#009dff,#00a6ff,#00b0ff,#00b4ff,#00b1ff,#00abff,#00acff,#00b6ff,#00c6ff,#00d0ff,#00caff,#00b2ff,#0095ff,#007eff,#0078ff,#007dff,#0084ff,#0081ff,#0075ff,#0066ff,#005aff,#0058ff,#005dff,#0065ff,#006aff,#006aff,#0063ff,#0055ff,#003eff,#0026ff,#0012ff,#0009ff,#000bff,#0013ff,#001dff,#0026ff,#002eff,#0034ff,#0038ff,#003bff,#003dff,#003eff,#003eff)"></i><i style="background:linear-gradient(90deg,#0063ff,#006dff,#0084ff,#009aff,#00a2ff,#0090ff,#0068ff,#003aff,#0018ff,#000cff,#0013ff,#002cff,#0052ff,#007bff,#009aff,#00a1ff,#008dff,#0069ff,#0043ff,#0026ff,#0014ff,#000dff,#0010ff,#0019ff,#0025ff,#0033ff,#003eff,#0049ff,#0057ff,#006aff,#0082ff,#009aff,#00aeff,#00baff,#00bdff,#00b6ff,#00a5ff,#008fff,#007bff,#006fff,#0072ff,#007fff,#0091ff,#00a0ff,#00a9ff,#00abff,#00a4ff,#0098ff,#008bff,#0085ff,#008bff,#0099ff,#00aaff,#00b9ff,#00c1ff,#00c7ff,#00ccff,#00d3ff,#00d8ff,#00d6ff,#00c5ff,#00a7ff,#0085ff,#006bff,#005fff,#005eff,#0062ff,#0061ff,#005bff,#0053ff,#004dff,#004cff,#004dff,#0050ff,#0052ff,#0051ff,#004eff,#0047ff,#003cff,#002fff,#0022ff,#0016ff,#000dff,#000aff,#000dff,#0018ff,#0026ff,#0033ff,#003aff,#003dff,#003dff,#003bff,#003bff)"></i><i style="background:linear-gradient(90deg,#006aff,#0076ff,#008fff,#00a7ff,#00b2ff,#00a1ff,#0079ff,#004bff,#0027ff,#0017ff,#001bff,#0030ff,#0052ff,#0078ff,#0095ff,#009bff,#0088ff,#0066ff,#0040ff,#0021ff,#000cff,#0003ff,#0005ff,#0011ff,#0022ff,#0035ff,#0045ff,#0054ff,#0064ff,#0076ff,#008aff,#009eff,#00aeff,#00b8ff,#00bbff,#00b6ff,#00a7ff,#0092ff,#007eff,#0071ff,#0070ff,#0076ff,#0080ff,#0088ff,#008dff,#008dff,#0088ff,#007fff,#0078ff,#0077ff,#007fff,#0090ff,#00a5ff,#00bbff,#00ceff,#00dcff,#00e6ff,#00e8ff,#00e2ff,#00d2ff,#00b8ff,#0095ff,#0070ff,#0052ff,#0041ff,#003bff,#003bff,#003eff,#003fff,#0040ff,#0041ff,#0041ff,#0041ff,#0040ff,#003fff,#003eff,#003dff,#003cff,#003cff,#0039ff,#0032ff,#0023ff,#0011ff,#0003ff,#0000ff,#000cff,#0020ff,#0033ff,#003dff,#003fff,#003cff,#0039ff,#0038ff)"></i><i style="background:linear-gradient(90deg,#006cff,#0078ff,#008fff,#00a8ff,#00b3ff,#00a5ff,#0081ff,#0056ff,#0033ff,#0022ff,#0022ff,#0032ff,#0050ff,#0071ff,#008bff,#0092ff,#0081ff,#0061ff,#003dff,#001dff,#0006ff,#0000fa,#0000fc,#000bff,#0020ff,#0037ff,#004bff,#005cff,#006dff,#007fff,#0093ff,#00a5ff,#00b4ff,#00bcff,#00beff,#00b8ff,#00aaff,#0096ff,#0083ff,#0075ff,#006fff,#0070ff,#0075ff,#0079ff,#007bff,#007bff,#0079ff,#0075ff,#0073ff,#0075ff,#007eff,#008eff,#00a2ff,#00b9ff,#00d1ff,#00e4ff,#00efff,#00edff,#00deff,#00c4ff,#00a3ff,#007dff,#0057ff,#0038ff,#0022ff,#0016ff,#0014ff,#0019ff,#0023ff,#002eff,#0037ff,#003bff,#003bff,#0039ff,#0036ff,#0035ff,#0035ff,#0038ff,#003eff,#0041ff,#003dff,#002dff,#0016ff,#0002ff,#0000fa,#0008ff,#001eff,#0034ff,#003fff,#0040ff,#003cff,#0037ff,#0036ff)"></i><i style="background:linear-gradient(90deg,#0067ff,#0071ff,#0086ff,#009bff,#00a6ff,#009aff,#007cff,#0058ff,#0039ff,#0029ff,#0026ff,#0032ff,#004aff,#0067ff,#007fff,#0086ff,#0078ff,#005dff,#003cff,#001dff,#0004ff,#0000f5,#0000f7,#0007ff,#001fff,#0038ff,#004dff,#005fff,#0071ff,#0085ff,#009cff,#00b1ff,#00c1ff,#00c8ff,#00c7ff,#00beff,#00aeff,#009aff,#0087ff,#0078ff,#0070ff,#006fff,#0070ff,#0071ff,#0072ff,#0073ff,#0075ff,#0078ff,#007cff,#0081ff,#0089ff,#0092ff,#009fff,#00b1ff,#00c7ff,#00daff,#00e4ff,#00deff,#00caff,#00acff,#0088ff,#0062ff,#003cff,#001cff,#0002ff,#0000f1,#0000ed,#0000f5,#0008ff,#001eff,#0031ff,#003bff,#003eff,#003cff,#003aff,#0039ff,#0039ff,#003dff,#0043ff,#0046ff,#0043ff,#0033ff,#001bff,#0007ff,#0000ff,#000bff,#0021ff,#0036ff,#0041ff,#0041ff,#003dff,#0038ff,#0037ff)"></i><i style="background:linear-gradient(90deg,#005dff,#0064ff,#0074ff,#0085ff,#008dff,#0085ff,#006fff,#0054ff,#003cff,#002dff,#0029ff,#0030ff,#0043ff,#005cff,#0071ff,#0079ff,#0070ff,#0059ff,#003cff,#001eff,#0005ff,#0000f4,#0000f4,#0005ff,#001eff,#0038ff,#004dff,#005eff,#0071ff,#0089ff,#00a5ff,#00c0ff,#00d2ff,#00d8ff,#00d2ff,#00c4ff,#00b1ff,#009cff,#0089ff,#007aff,#0072ff,#006fff,#006fff,#006fff,#006fff,#0072ff,#0078ff,#0082ff,#008eff,#0096ff,#009aff,#009aff,#009cff,#00a5ff,#00b4ff,#00c3ff,#00c9ff,#00c2ff,#00adff,#008eff,#006bff,#0046ff,#0023ff,#0001ff,#0000e5,#0000d2,#0000cc,#0000d7,#0000f2,#0012ff,#002eff,#003fff,#0046ff,#0047ff,#0047ff,#0046ff,#0046ff,#0047ff,#0049ff,#0049ff,#0043ff,#0035ff,#0021ff,#0011ff,#000bff,#0015ff,#0027ff,#0039ff,#0041ff,#0042ff,#003eff,#003bff,#0039ff)"></i><i style="background:linear-gradient(90deg,#0050ff,#0055ff,#005fff,#0069ff,#006fff,#006bff,#005eff,#004cff,#003cff,#002fff,#002aff,#002fff,#003fff,#0054ff,#0068ff,#0070ff,#0069ff,#0057ff,#003dff,#0020ff,#0006ff,#0000f5,#0000f5,#0006ff,#001eff,#0037ff,#004bff,#005bff,#006eff,#008aff,#00acff,#00cdff,#00e3ff,#00e6ff,#00dcff,#00c8ff,#00b2ff,#009cff,#0089ff,#007bff,#0074ff,#0071ff,#0070ff,#0070ff,#0071ff,#0075ff,#0080ff,#0091ff,#00a3ff,#00aeff,#00adff,#00a3ff,#0098ff,#0095ff,#009bff,#00a5ff,#00a9ff,#00a1ff,#008cff,#0070ff,#0050ff,#002eff,#000cff,#0000eb,#0000cf,#0000bb,#0000b5,#0000c3,#0000e3,#000bff,#002fff,#0045ff,#0051ff,#0056ff,#0058ff,#0059ff,#0058ff,#0056ff,#0051ff,#004bff,#0041ff,#0034ff,#0027ff,#001dff,#001bff,#0022ff,#002fff,#003aff,#0041ff,#0041ff,#003fff,#003cff,#003cff)"></i><i style="background:linear-gradient(90deg,#0044ff,#0045ff,#004aff,#004eff,#0051ff,#0050ff,#004bff,#0043ff,#003aff,#0031ff,#002cff,#0030ff,#003eff,#0053ff,#0065ff,#006dff,#0067ff,#0056ff,#003dff,#0022ff,#0008ff,#0000f8,#0000f7,#0008ff,#001fff,#0037ff,#0048ff,#0057ff,#006aff,#0089ff,#00b1ff,#00d6ff,#00eeff,#00f0ff,#00e0ff,#00c8ff,#00aeff,#0098ff,#0086ff,#007aff,#0074ff,#0072ff,#0073ff,#0073ff,#0075ff,#007cff,#008bff,#00a2ff,#00b8ff,#00c4ff,#00bdff,#00a9ff,#0092ff,#0084ff,#0083ff,#0088ff,#008bff,#0083ff,#0070ff,#0057ff,#003aff,#001cff,#0000fc,#0000de,#0000c3,#0000b0,#0000ac,#0000bc,#0000df,#000bff,#0032ff,#004dff,#005dff,#0065ff,#006aff,#006dff,#006bff,#0065ff,#005aff,#004cff,#003eff,#0033ff,#002dff,#002aff,#002bff,#002fff,#0035ff,#003bff,#003eff,#003eff,#003dff,#003cff,#003cff)"></i><i style="background:linear-gradient(90deg,#0039ff,#0039ff,#0039ff,#0039ff,#0039ff,#003aff,#003bff,#003aff,#0037ff,#0032ff,#0030ff,#0035ff,#0045ff,#005bff,#006eff,#0075ff,#006cff,#0057ff,#003cff,#0021ff,#000aff,#0000fb,#0000fc,#000cff,#0022ff,#0037ff,#0046ff,#0054ff,#0067ff,#0087ff,#00b1ff,#00d9ff,#00f0ff,#00efff,#00dcff,#00c0ff,#00a5ff,#008fff,#007fff,#0075ff,#0071ff,#0072ff,#0074ff,#0077ff,#007cff,#0085ff,#0097ff,#00b1ff,#00c8ff,#00d2ff,#00c5ff,#00a7ff,#0087ff,#0072ff,#006eff,#0073ff,#0076ff,#0070ff,#0060ff,#0049ff,#002eff,#0013ff,#0000f7,#0000dd,#0000c6,#0000b7,#0000b5,#0000c5,#0000e7,#0011ff,#0038ff,#0053ff,#0065ff,#0071ff,#0079ff,#007dff,#007cff,#0073ff,#0062ff,#004eff,#003dff,#0033ff,#0032ff,#0034ff,#0038ff,#0039ff,#0039ff,#0039ff,#0038ff,#0038ff,#0038ff,#0039ff,#0039ff)"></i><i style="background:linear-gradient(90deg,#0032ff,#0031ff,#002fff,#002dff,#002cff,#002eff,#0031ff,#0035ff,#0036ff,#0035ff,#0036ff,#003fff,#0054ff,#006eff,#0083ff,#0088ff,#0077ff,#005bff,#003aff,#001eff,#000aff,#0000ff,#0003ff,#0011ff,#0025ff,#0038ff,#0046ff,#0052ff,#0065ff,#0084ff,#00acff,#00d1ff,#00e6ff,#00e2ff,#00ccff,#00aeff,#0093ff,#0080ff,#0073ff,#006cff,#006bff,#006eff,#0074ff,#007bff,#0084ff,#0091ff,#00a4ff,#00bbff,#00cfff,#00d3ff,#00c0ff,#009dff,#0078ff,#0063ff,#0062ff,#006bff,#0073ff,#006fff,#0060ff,#0049ff,#0030ff,#0016ff,#0000fd,#0000e9,#0000d8,#0000d0,#0000d2,#0000e2,#0000fe,#0020ff,#0040ff,#0058ff,#0069ff,#0076ff,#0080ff,#0086ff,#0087ff,#007dff,#006aff,#0052ff,#003eff,#0035ff,#0036ff,#003bff,#003fff,#003dff,#0039ff,#0034ff,#0030ff,#002fff,#0030ff,#0030ff,#0030ff)"></i><i style="background:linear-gradient(90deg,#0030ff,#002fff,#002cff,#0029ff,#0028ff,#002aff,#002eff,#0032ff,#0036ff,#0038ff,#003eff,#004cff,#0068ff,#0089ff,#00a0ff,#00a1ff,#0088ff,#0060ff,#0037ff,#0019ff,#000aff,#0005ff,#000bff,#0018ff,#0029ff,#0039ff,#0046ff,#0053ff,#0065ff,#0081ff,#00a4ff,#00c2ff,#00d1ff,#00c9ff,#00b2ff,#0095ff,#007cff,#006cff,#0063ff,#0060ff,#0063ff,#0069ff,#0072ff,#007eff,#008cff,#009cff,#00aeff,#00c1ff,#00cdff,#00c9ff,#00b0ff,#008aff,#0066ff,#0055ff,#005cff,#006eff,#007dff,#007cff,#006dff,#0055ff,#003aff,#0022ff,#000dff,#0000fd,#0000f6,#0000f5,#0000fc,#000bff,#001fff,#0035ff,#004aff,#005bff,#0069ff,#0075ff,#0080ff,#0089ff,#008bff,#0083ff,#006fff,#0056ff,#0041ff,#0037ff,#0039ff,#003eff,#0041ff,#003dff,#0035ff,#002cff,#0027ff,#0025ff,#0025ff,#0025ff,#0026ff)"></i><i style="background:linear-gradient(90deg,#0030ff,#002fff,#002dff,#002bff,#002aff,#002bff,#002eff,#0032ff,#0036ff,#003bff,#0046ff,#005aff,#007dff,#00a3ff,#00bdff,#00bbff,#0098ff,#0065ff,#0035ff,#0017ff,#000cff,#000eff,#0016ff,#0021ff,#002dff,#003aff,#0046ff,#0055ff,#0067ff,#007eff,#0099ff,#00aeff,#00b6ff,#00aaff,#0093ff,#0078ff,#0063ff,#0057ff,#0052ff,#0053ff,#0059ff,#0063ff,#0070ff,#0081ff,#0093ff,#00a6ff,#00b6ff,#00c1ff,#00c3ff,#00b7ff,#0099ff,#0073ff,#0054ff,#004aff,#005bff,#0078ff,#008eff,#0091ff,#0081ff,#0067ff,#004bff,#0032ff,#0020ff,#0016ff,#0017ff,#001fff,#002bff,#0038ff,#0043ff,#004dff,#0056ff,#005fff,#0069ff,#0073ff,#007eff,#0087ff,#008bff,#0084ff,#0071ff,#0059ff,#0044ff,#003aff,#003aff,#003eff,#003fff,#0039ff,#002fff,#0025ff,#001eff,#001cff,#001bff,#001cff,#001cff)"></i><i style="background:linear-gradient(90deg,#0033ff,#0033ff,#0032ff,#0031ff,#0030ff,#0030ff,#0031ff,#0033ff,#0037ff,#003fff,#004dff,#0066ff,#008dff,#00b6ff,#00d1ff,#00ccff,#00a3ff,#0069ff,#0036ff,#001aff,#0014ff,#001bff,#0024ff,#002aff,#0031ff,#003aff,#0046ff,#0057ff,#0069ff,#007cff,#008dff,#0098ff,#0098ff,#0089ff,#0073ff,#005cff,#004bff,#0043ff,#0042ff,#0047ff,#0050ff,#005dff,#006eff,#0083ff,#0099ff,#00acff,#00b9ff,#00bbff,#00b3ff,#009fff,#007fff,#005bff,#0043ff,#0043ff,#005eff,#0083ff,#00a1ff,#00a6ff,#0096ff,#007aff,#005bff,#0042ff,#0031ff,#002bff,#0032ff,#0042ff,#0053ff,#005fff,#0063ff,#0064ff,#0063ff,#0065ff,#006aff,#0071ff,#007aff,#0083ff,#0086ff,#0080ff,#006fff,#0058ff,#0044ff,#003aff,#0039ff,#003cff,#003cff,#0035ff,#002aff,#001fff,#0018ff,#0016ff,#0015ff,#0016ff,#0016ff)"></i><i style="background:linear-gradient(90deg,#0037ff,#0037ff,#0037ff,#0037ff,#0037ff,#0036ff,#0035ff,#0035ff,#0039ff,#0041ff,#0052ff,#006dff,#0094ff,#00bcff,#00d5ff,#00ceff,#00a4ff,#006cff,#003bff,#0024ff,#0024ff,#002dff,#0035ff,#0035ff,#0034ff,#0038ff,#0045ff,#0058ff,#006cff,#007bff,#0084ff,#0084ff,#007bff,#006bff,#0056ff,#0043ff,#0036ff,#0032ff,#0034ff,#003cff,#0048ff,#0059ff,#006dff,#0085ff,#009cff,#00adff,#00b5ff,#00afff,#009eff,#0084ff,#0064ff,#0046ff,#0036ff,#003fff,#0061ff,#008cff,#00adff,#00b5ff,#00a5ff,#0088ff,#0068ff,#004dff,#003bff,#0037ff,#0042ff,#0056ff,#006aff,#0077ff,#007aff,#0076ff,#0072ff,#006fff,#006fff,#0072ff,#0078ff,#007dff,#007eff,#0077ff,#0066ff,#0051ff,#003fff,#0036ff,#0036ff,#0039ff,#0038ff,#0031ff,#0026ff,#001cff,#0016ff,#0015ff,#0016ff,#0018ff,#0018ff)"></i><i style="background:linear-gradient(90deg,#003bff,#003bff,#003cff,#003cff,#003cff,#003aff,#0038ff,#0037ff,#003bff,#0044ff,#0054ff,#006cff,#008dff,#00adff,#00c0ff,#00baff,#0098ff,#006bff,#0046ff,#0038ff,#003dff,#0047ff,#0049ff,#0041ff,#0037ff,#0035ff,#0042ff,#0059ff,#006fff,#007cff,#007cff,#0073ff,#0064ff,#0052ff,#0041ff,#0032ff,#0029ff,#0026ff,#002aff,#0034ff,#0044ff,#0058ff,#006eff,#0086ff,#009bff,#00a8ff,#00a9ff,#009cff,#0085ff,#0069ff,#004cff,#0036ff,#002fff,#003eff,#0063ff,#008fff,#00b0ff,#00b7ff,#00a8ff,#008cff,#006cff,#004fff,#003bff,#0034ff,#003eff,#0053ff,#0069ff,#007aff,#0081ff,#0082ff,#0080ff,#007eff,#007cff,#007aff,#0079ff,#0078ff,#0074ff,#0069ff,#0057ff,#0043ff,#0033ff,#002dff,#0030ff,#0035ff,#0036ff,#0030ff,#0025ff,#001dff,#001aff,#001cff,#0020ff,#0024ff,#0025ff)"></i><i style="background:linear-gradient(90deg,#003eff,#003fff,#003fff,#003fff,#003eff,#003cff,#0039ff,#0039ff,#003cff,#0045ff,#0053ff,#0065ff,#007aff,#008eff,#0099ff,#0094ff,#0080ff,#0067ff,#0055ff,#0054ff,#005dff,#0066ff,#0061ff,#004eff,#0039ff,#0031ff,#003eff,#0058ff,#0072ff,#007eff,#0078ff,#0067ff,#0053ff,#0041ff,#0032ff,#0028ff,#0022ff,#0020ff,#0025ff,#0030ff,#0042ff,#0058ff,#0070ff,#0086ff,#0096ff,#009dff,#0097ff,#0084ff,#006aff,#004eff,#0038ff,#002cff,#002dff,#0041ff,#0064ff,#008bff,#00a7ff,#00afff,#00a2ff,#0089ff,#0069ff,#004aff,#0031ff,#0025ff,#002aff,#003cff,#0053ff,#0069ff,#007bff,#0087ff,#008eff,#008fff,#008dff,#0087ff,#007fff,#0075ff,#0068ff,#0058ff,#0043ff,#0030ff,#0023ff,#0021ff,#0028ff,#0031ff,#0035ff,#0031ff,#0028ff,#0021ff,#0022ff,#0029ff,#0032ff,#0038ff,#003aff)"></i><i style="background:linear-gradient(90deg,#0040ff,#0040ff,#0040ff,#0040ff,#003fff,#003cff,#003aff,#003aff,#003dff,#0045ff,#004fff,#0059ff,#0061ff,#0065ff,#0066ff,#0065ff,#0063ff,#0062ff,#0067ff,#0073ff,#0080ff,#0085ff,#0078ff,#005bff,#003dff,#002eff,#003aff,#0057ff,#0074ff,#007eff,#0074ff,#005eff,#0046ff,#0035ff,#0029ff,#0022ff,#001eff,#001eff,#0023ff,#002fff,#0043ff,#005bff,#0072ff,#0084ff,#008eff,#008eff,#0082ff,#006aff,#004eff,#0035ff,#0026ff,#0023ff,#002eff,#0044ff,#0062ff,#0082ff,#0099ff,#00a0ff,#0098ff,#0083ff,#0064ff,#0042ff,#0023ff,#000fff,#000dff,#001aff,#0031ff,#004eff,#006bff,#0085ff,#0098ff,#00a0ff,#009fff,#0097ff,#0088ff,#0075ff,#005eff,#0047ff,#002fff,#001cff,#0012ff,#0015ff,#0021ff,#002eff,#0036ff,#0033ff,#002cff,#0028ff,#002cff,#0038ff,#0046ff,#004fff,#0052ff)"></i><i style="background:linear-gradient(90deg,#003fff,#003fff,#003fff,#003eff,#003dff,#003bff,#0039ff,#0039ff,#003dff,#0044ff,#004aff,#004cff,#0046ff,#003bff,#0033ff,#0035ff,#0045ff,#005dff,#0079ff,#0092ff,#00a1ff,#00a2ff,#008eff,#0068ff,#0043ff,#002eff,#0039ff,#0056ff,#0073ff,#007dff,#0071ff,#0058ff,#003eff,#002dff,#0023ff,#001fff,#001dff,#001fff,#0025ff,#0032ff,#0046ff,#005eff,#0073ff,#0081ff,#0085ff,#007eff,#006cff,#0050ff,#0033ff,#001cff,#0015ff,#001cff,#002dff,#0045ff,#005eff,#0076ff,#0088ff,#0090ff,#008dff,#007eff,#0061ff,#003bff,#0014ff,#0000f7,#0000ed,#0000f5,#000dff,#002fff,#0057ff,#007dff,#009cff,#00adff,#00b0ff,#00a7ff,#0093ff,#0078ff,#0059ff,#003aff,#001fff,#000bff,#0003ff,#000aff,#001aff,#002cff,#0037ff,#0037ff,#0031ff,#002fff,#0037ff,#0047ff,#0059ff,#0065ff,#0069ff)"></i><i style="background:linear-gradient(90deg,#003bff,#003bff,#003bff,#003bff,#003aff,#0038ff,#0037ff,#0037ff,#003bff,#0041ff,#0045ff,#0040ff,#002eff,#0017ff,#0007ff,#000dff,#002dff,#005aff,#0088ff,#00aaff,#00bcff,#00b9ff,#00a0ff,#0076ff,#004cff,#0034ff,#003bff,#0056ff,#0070ff,#0079ff,#006cff,#0053ff,#0039ff,#0028ff,#001fff,#001bff,#001cff,#0020ff,#0029ff,#0037ff,#004bff,#0061ff,#0073ff,#007cff,#007bff,#006fff,#0058ff,#0039ff,#001bff,#0006ff,#0004ff,#0012ff,#0029ff,#0042ff,#0057ff,#0069ff,#0078ff,#0084ff,#0088ff,#007fff,#0064ff,#0039ff,#000aff,#0000e3,#0000d3,#0000d8,#0000ef,#0015ff,#0043ff,#0071ff,#0098ff,#00b1ff,#00bbff,#00b5ff,#00a0ff,#007fff,#0059ff,#0034ff,#0016ff,#0002ff,#0000fa,#0003ff,#0016ff,#002cff,#0039ff,#003aff,#0036ff,#0035ff,#003fff,#0052ff,#0066ff,#0075ff,#0079ff)"></i><i style="background:linear-gradient(90deg,#0032ff,#0033ff,#0034ff,#0036ff,#0036ff,#0035ff,#0033ff,#0033ff,#0037ff,#003dff,#003fff,#0037ff,#001fff,#0000ff,#0000ec,#0000f4,#001fff,#005aff,#0093ff,#00baff,#00cbff,#00c6ff,#00abff,#0082ff,#005aff,#0041ff,#0043ff,#0056ff,#006aff,#0070ff,#0064ff,#004eff,#0036ff,#0024ff,#001aff,#0016ff,#0018ff,#0021ff,#002eff,#003fff,#0051ff,#0062ff,#006fff,#0074ff,#0070ff,#0062ff,#0049ff,#0027ff,#0007ff,#0000f1,#0000f1,#0004ff,#001fff,#0039ff,#004dff,#005dff,#006dff,#0080ff,#008dff,#008cff,#0072ff,#0040ff,#0008ff,#0000d9,#0000c5,#0000ca,#0000e2,#0008ff,#0034ff,#0062ff,#008bff,#00abff,#00bdff,#00bfff,#00adff,#008bff,#0062ff,#0039ff,#0018ff,#0003ff,#0000fa,#0003ff,#0017ff,#002dff,#003aff,#003cff,#0038ff,#0038ff,#0042ff,#0056ff,#006bff,#0079ff,#007eff)"></i><i style="background:linear-gradient(90deg,#0026ff,#0028ff,#002bff,#002fff,#0031ff,#0030ff,#002eff,#002eff,#0031ff,#0037ff,#003bff,#0032ff,#0019ff,#0000f8,#0000e4,#0000ee,#001dff,#005cff,#0098ff,#00bfff,#00ceff,#00c9ff,#00b1ff,#008eff,#006cff,#0054ff,#004fff,#0057ff,#0061ff,#0063ff,#005aff,#0049ff,#0035ff,#0022ff,#0014ff,#000eff,#0012ff,#0021ff,#0034ff,#0047ff,#0057ff,#0062ff,#0068ff,#006aff,#0066ff,#0059ff,#003fff,#001bff,#0000f6,#0000df,#0000df,#0000f2,#0010ff,#002bff,#0040ff,#0053ff,#0069ff,#0084ff,#009bff,#00a1ff,#0088ff,#0050ff,#000fff,#0000da,#0000c6,#0000cd,#0000e6,#0009ff,#002cff,#0051ff,#0076ff,#009aff,#00b6ff,#00c3ff,#00b9ff,#009bff,#0071ff,#0047ff,#0025ff,#000eff,#0005ff,#000bff,#001cff,#002fff,#003bff,#003cff,#0039ff,#0038ff,#0041ff,#0053ff,#0066ff,#0073ff,#0077ff)"></i><i style="background:linear-gradient(90deg,#0018ff,#001aff,#0020ff,#0026ff,#002bff,#002bff,#0029ff,#0027ff,#002aff,#0032ff,#0037ff,#0031ff,#001aff,#0000fb,#0000e9,#0000f4,#0023ff,#0060ff,#0099ff,#00bdff,#00caff,#00c5ff,#00b3ff,#009aff,#007fff,#0069ff,#005dff,#0058ff,#0057ff,#0055ff,#004fff,#0044ff,#0035ff,#0021ff,#000fff,#0006ff,#000bff,#001fff,#0038ff,#004dff,#0059ff,#005dff,#005eff,#005eff,#005cff,#0051ff,#0039ff,#0014ff,#0000ec,#0000d1,#0000ce,#0000e0,#0000fd,#001cff,#0034ff,#004cff,#0068ff,#008cff,#00adff,#00baff,#00a1ff,#0065ff,#001dff,#0000e4,#0000d1,#0000dc,#0000f7,#0013ff,#0029ff,#0040ff,#005eff,#0084ff,#00a9ff,#00c2ff,#00c2ff,#00a9ff,#0082ff,#0059ff,#0037ff,#001fff,#0014ff,#0016ff,#0023ff,#0032ff,#003cff,#003cff,#0038ff,#0037ff,#003eff,#004cff,#005bff,#0065ff,#0068ff)"></i><i style="background:linear-gradient(90deg,#0009ff,#000dff,#0015ff,#001eff,#0024ff,#0025ff,#0022ff,#0020ff,#0023ff,#002cff,#0034ff,#0032ff,#0021ff,#0008ff,#0000f8,#0004ff,#002dff,#0064ff,#0097ff,#00b6ff,#00c1ff,#00beff,#00b2ff,#00a3ff,#0091ff,#007eff,#006bff,#005aff,#004dff,#0046ff,#0044ff,#0040ff,#0036ff,#0022ff,#000cff,#0000fe,#0005ff,#001bff,#0037ff,#004dff,#0055ff,#0055ff,#0052ff,#0051ff,#0052ff,#004bff,#0036ff,#0010ff,#0000e5,#0000c7,#0000c1,#0000d1,#0000ee,#000eff,#002aff,#0047ff,#006aff,#0095ff,#00bdff,#00ceff,#00b7ff,#0079ff,#002fff,#0000f5,#0000e4,#0000f2,#000eff,#0022ff,#002bff,#0034ff,#0048ff,#006eff,#009aff,#00bcff,#00c4ff,#00b2ff,#0090ff,#006aff,#0049ff,#0032ff,#0025ff,#0023ff,#002bff,#0035ff,#003bff,#003bff,#0038ff,#0036ff,#003aff,#0043ff,#004dff,#0053ff,#0055ff)"></i><i style="background:linear-gradient(90deg,#0000fc,#0001ff,#000aff,#0015ff,#001dff,#001fff,#001cff,#001aff,#001eff,#0029ff,#0033ff,#0036ff,#002aff,#0017ff,#000bff,#0015ff,#0038ff,#0067ff,#0093ff,#00adff,#00b7ff,#00b6ff,#00b2ff,#00abff,#00a0ff,#008fff,#0076ff,#005aff,#0044ff,#003aff,#003aff,#003dff,#0037ff,#0024ff,#000cff,#0000fb,#0000ff,#0015ff,#0030ff,#0044ff,#004aff,#0047ff,#0042ff,#0044ff,#0048ff,#0046ff,#0034ff,#000eff,#0000e3,#0000c2,#0000ba,#0000c8,#0000e4,#0005ff,#0025ff,#0046ff,#006cff,#009bff,#00c5ff,#00d9ff,#00c4ff,#0089ff,#0043ff,#000dff,#0000fd,#000dff,#0025ff,#0032ff,#0031ff,#002fff,#003aff,#005eff,#008bff,#00b1ff,#00bfff,#00b1ff,#0094ff,#0073ff,#0056ff,#0041ff,#0034ff,#002fff,#0032ff,#0036ff,#003aff,#003aff,#0038ff,#0037ff,#0038ff,#003bff,#003fff,#0042ff,#0042ff)"></i><i style="background:linear-gradient(90deg,#0000f4,#0000f8,#0002ff,#000dff,#0015ff,#0017ff,#0015ff,#0015ff,#001aff,#0027ff,#0035ff,#003bff,#0034ff,#0026ff,#001dff,#0025ff,#0042ff,#0069ff,#008dff,#00a4ff,#00afff,#00b2ff,#00b2ff,#00b0ff,#00a9ff,#0098ff,#007bff,#005aff,#003fff,#0032ff,#0034ff,#003aff,#0038ff,#0028ff,#0011ff,#0000fe,#0000fd,#000cff,#0020ff,#0030ff,#0034ff,#0032ff,#0030ff,#0036ff,#003fff,#0041ff,#0032ff,#000fff,#0000e3,#0000c3,#0000ba,#0000c8,#0000e4,#0005ff,#0026ff,#0048ff,#006fff,#009aff,#00c0ff,#00d2ff,#00c2ff,#0091ff,#0055ff,#0027ff,#001aff,#0025ff,#0037ff,#003eff,#0038ff,#0032ff,#003aff,#0057ff,#007fff,#00a2ff,#00afff,#00a4ff,#008bff,#0070ff,#0059ff,#0049ff,#003eff,#0038ff,#0036ff,#0036ff,#0037ff,#0039ff,#003aff,#003aff,#0039ff,#0037ff,#0034ff,#0033ff,#0032ff)"></i><i style="background:linear-gradient(90deg,#0000f0,#0000f3,#0000fb,#0005ff,#000cff,#000fff,#0010ff,#0011ff,#0019ff,#0028ff,#0038ff,#0041ff,#003dff,#0032ff,#002bff,#0030ff,#0047ff,#0067ff,#0086ff,#009dff,#00abff,#00b2ff,#00b5ff,#00b4ff,#00abff,#0099ff,#007bff,#0059ff,#003cff,#002fff,#0031ff,#0038ff,#0039ff,#002dff,#001aff,#0008ff,#0000ff,#0002ff,#0009ff,#0010ff,#0014ff,#0017ff,#001dff,#0029ff,#0037ff,#003cff,#0030ff,#0010ff,#0000e7,#0000c9,#0000c2,#0000d1,#0000ec,#000eff,#002eff,#004eff,#006fff,#0091ff,#00adff,#00bbff,#00b0ff,#008eff,#0064ff,#0042ff,#0035ff,#0039ff,#0041ff,#0045ff,#0042ff,#003fff,#0047ff,#005cff,#0078ff,#008fff,#0094ff,#0088ff,#0074ff,#005fff,#0051ff,#0048ff,#0042ff,#003cff,#0037ff,#0033ff,#0034ff,#0039ff,#003eff,#0041ff,#003fff,#0038ff,#002fff,#002aff,#0028ff)"></i><i style="background:linear-gradient(90deg,#0000f0,#0000f2,#0000f7,#0000fe,#0005ff,#0008ff,#000bff,#000fff,#001aff,#002aff,#003aff,#0045ff,#0043ff,#003bff,#0034ff,#0038ff,#004aff,#0064ff,#0080ff,#0097ff,#00a9ff,#00b4ff,#00b7ff,#00b4ff,#00a8ff,#0093ff,#0076ff,#0056ff,#003cff,#0030ff,#0030ff,#0036ff,#0039ff,#0033ff,#0026ff,#0015ff,#0005ff,#0000f8,#0000f0,#0000ed,#0000f1,#0000fb,#000bff,#001eff,#0030ff,#0038ff,#002fff,#0012ff,#0000ee,#0000d4,#0000cf,#0000df,#0000fb,#001cff,#003aff,#0055ff,#006dff,#0082ff,#0091ff,#0098ff,#0093ff,#0083ff,#006eff,#005bff,#004eff,#0047ff,#0045ff,#0047ff,#004bff,#0052ff,#005cff,#0069ff,#0074ff,#007aff,#0074ff,#0065ff,#0054ff,#0046ff,#0041ff,#0041ff,#0041ff,#003dff,#0036ff,#0031ff,#0031ff,#003aff,#0045ff,#004cff,#0049ff,#003dff,#002fff,#0026ff,#0023ff)"></i><i style="background:linear-gradient(90deg,#0000f2,#0000f3,#0000f6,#0000fa,#0000fe,#0002ff,#0007ff,#000fff,#001bff,#002bff,#003bff,#0045ff,#0045ff,#003fff,#0039ff,#003cff,#004aff,#0060ff,#007aff,#0093ff,#00a7ff,#00b5ff,#00b9ff,#00b1ff,#00a1ff,#008aff,#006fff,#0053ff,#003dff,#0032ff,#0031ff,#0035ff,#0039ff,#0039ff,#0033ff,#0025ff,#000fff,#0000f3,#0000db,#0000cf,#0000d3,#0000e3,#0000fb,#0015ff,#002bff,#0035ff,#002fff,#0016ff,#0000f7,#0000e2,#0000e0,#0000f1,#000eff,#002bff,#0045ff,#005aff,#0068ff,#006fff,#0071ff,#0071ff,#0071ff,#0073ff,#0073ff,#006eff,#0060ff,#0050ff,#0044ff,#0045ff,#0053ff,#0065ff,#0074ff,#0078ff,#0072ff,#0065ff,#0053ff,#0040ff,#0030ff,#0029ff,#002dff,#0036ff,#003dff,#003cff,#0035ff,#002fff,#0031ff,#003eff,#004eff,#0059ff,#0055ff,#0046ff,#0034ff,#0027ff,#0023ff)"></i><i style="background:linear-gradient(90deg,#0000f6,#0000f6,#0000f7,#0000f7,#0000fa,#0000fe,#0006ff,#000fff,#001cff,#002aff,#0038ff,#0040ff,#0041ff,#003cff,#0039ff,#003cff,#0049ff,#005dff,#0075ff,#008eff,#00a5ff,#00b4ff,#00b6ff,#00acff,#0098ff,#007fff,#0066ff,#0050ff,#003eff,#0034ff,#0031ff,#0033ff,#0039ff,#003fff,#003fff,#0035ff,#001bff,#0000f4,#0000d1,#0000bc,#0000bf,#0000d4,#0000f1,#0010ff,#0028ff,#0035ff,#0032ff,#001dff,#0004ff,#0000f0,#0000f1,#0003ff,#001eff,#0038ff,#004eff,#005bff,#0060ff,#005bff,#0052ff,#004cff,#0051ff,#0061ff,#0072ff,#0077ff,#0069ff,#0051ff,#003fff,#0042ff,#0059ff,#0076ff,#0089ff,#0086ff,#0071ff,#0054ff,#0036ff,#001eff,#000fff,#000dff,#0018ff,#0029ff,#0038ff,#003bff,#0036ff,#0030ff,#0034ff,#0045ff,#005aff,#0068ff,#0064ff,#0052ff,#003dff,#002dff,#0028ff)"></i><i style="background:linear-gradient(90deg,#0000fc,#0000fb,#0000f9,#0000f8,#0000f9,#0000fe,#0007ff,#0011ff,#001cff,#0026ff,#002fff,#0034ff,#0035ff,#0033ff,#0034ff,#003aff,#0047ff,#005aff,#0071ff,#008aff,#00a0ff,#00aeff,#00afff,#00a2ff,#008dff,#0075ff,#005eff,#004cff,#003dff,#0034ff,#0030ff,#0031ff,#0038ff,#0043ff,#0049ff,#0044ff,#002aff,#0001ff,#0000d7,#0000bd,#0000be,#0000d1,#0000ef,#000fff,#002aff,#0039ff,#0038ff,#0027ff,#0010ff,#0000ff,#0001ff,#0011ff,#0028ff,#003fff,#004fff,#0057ff,#0055ff,#0049ff,#003aff,#0031ff,#0038ff,#0050ff,#0068ff,#0073ff,#0066ff,#004cff,#0038ff,#003dff,#005cff,#0080ff,#0096ff,#008eff,#006fff,#0047ff,#0022ff,#0006ff,#0000f6,#0000f7,#0008ff,#001fff,#0033ff,#003bff,#0039ff,#0036ff,#003dff,#0051ff,#0069ff,#0078ff,#0074ff,#0061ff,#0049ff,#0038ff,#0032ff)"></i><i style="background:linear-gradient(90deg,#0002ff,#0001ff,#0000fd,#0000fb,#0000fc,#0002ff,#000aff,#0014ff,#001bff,#001fff,#0020ff,#0020ff,#0021ff,#0024ff,#002aff,#0035ff,#0045ff,#0059ff,#006fff,#0085ff,#0098ff,#00a3ff,#00a2ff,#0096ff,#0082ff,#006dff,#0059ff,#0048ff,#003bff,#0032ff,#002eff,#002fff,#0037ff,#0045ff,#0050ff,#0050ff,#003cff,#0017ff,#0000ef,#0000d5,#0000d0,#0000dd,#0000f5,#0013ff,#002eff,#0040ff,#0043ff,#0034ff,#001eff,#000dff,#000cff,#0019ff,#002cff,#003eff,#0049ff,#004cff,#0047ff,#003aff,#002bff,#0023ff,#002aff,#0040ff,#0057ff,#0062ff,#0056ff,#003fff,#0030ff,#0039ff,#005bff,#0081ff,#0097ff,#008eff,#006cff,#0041ff,#0018ff,#0000f9,#0000e9,#0000ea,#0000fc,#0018ff,#0030ff,#003cff,#003fff,#0040ff,#004aff,#0061ff,#0079ff,#0089ff,#0085ff,#0071ff,#0058ff,#0046ff,#0041ff)"></i><i style="background:linear-gradient(90deg,#0008ff,#0006ff,#0004ff,#0002ff,#0002ff,#0008ff,#0010ff,#0017ff,#0019ff,#0015ff,#000eff,#0009ff,#000aff,#0011ff,#001eff,#002fff,#0043ff,#0059ff,#006eff,#0081ff,#008eff,#0095ff,#0093ff,#0089ff,#007aff,#0068ff,#0056ff,#0046ff,#0038ff,#002fff,#002bff,#002dff,#0036ff,#0046ff,#0055ff,#005aff,#004eff,#0034ff,#0014ff,#0000fb,#0000f0,#0000f3,#0003ff,#001bff,#0036ff,#004bff,#0050ff,#0042ff,#002cff,#001aff,#0015ff,#001eff,#002dff,#0039ff,#003fff,#003eff,#0038ff,#002eff,#0023ff,#001eff,#0023ff,#0032ff,#0041ff,#0047ff,#003fff,#002fff,#0028ff,#0036ff,#0058ff,#007cff,#0091ff,#0087ff,#0068ff,#003eff,#0017ff,#0000f7,#0000e6,#0000e6,#0000f8,#0014ff,#002eff,#003fff,#0047ff,#004dff,#005aff,#0072ff,#008aff,#0099ff,#0094ff,#0080ff,#0068ff,#0056ff,#0051ff)"></i><i style="background:linear-gradient(90deg,#000eff,#000cff,#000aff,#0008ff,#0009ff,#000fff,#0016ff,#001aff,#0018ff,#000cff,#0000fd,#0000f3,#0000f3,#0000fe,#0012ff,#0029ff,#0042ff,#005bff,#006fff,#007dff,#0085ff,#0087ff,#0084ff,#007eff,#0075ff,#0068ff,#0057ff,#0046ff,#0037ff,#002dff,#0029ff,#002cff,#0036ff,#0047ff,#0058ff,#0062ff,#0061ff,#0052ff,#003eff,#0028ff,#0018ff,#0010ff,#0014ff,#0026ff,#0040ff,#0056ff,#005eff,#0051ff,#003aff,#0025ff,#001eff,#0023ff,#002cff,#0034ff,#0034ff,#0030ff,#002aff,#0024ff,#0020ff,#001eff,#0020ff,#0025ff,#0029ff,#002aff,#0025ff,#0020ff,#0024ff,#0036ff,#0056ff,#0075ff,#0086ff,#007eff,#0064ff,#0040ff,#001bff,#0000fd,#0000ea,#0000e8,#0000f8,#0013ff,#002eff,#0042ff,#004eff,#0059ff,#006aff,#0082ff,#0099ff,#00a6ff,#00a1ff,#008dff,#0076ff,#0065ff,#0060ff)"></i><i style="background:linear-gradient(90deg,#0014ff,#0013ff,#0011ff,#0010ff,#0011ff,#0016ff,#001cff,#001eff,#0016ff,#0005ff,#0000f0,#0000e3,#0000e3,#0000f0,#0009ff,#0025ff,#0042ff,#005dff,#0071ff,#007bff,#007dff,#007cff,#0079ff,#0078ff,#0074ff,#006cff,#005dff,#004bff,#0039ff,#002dff,#0029ff,#002cff,#0037ff,#0047ff,#005aff,#0069ff,#0071ff,#006fff,#0064ff,#0053ff,#003fff,#002dff,#0027ff,#0033ff,#004bff,#0062ff,#006bff,#005eff,#0047ff,#0031ff,#0027ff,#0029ff,#002fff,#0032ff,#002eff,#0026ff,#001fff,#001dff,#001eff,#001fff,#001dff,#0018ff,#0012ff,#000eff,#000fff,#0015ff,#0024ff,#003bff,#0057ff,#006fff,#007cff,#0075ff,#0060ff,#0042ff,#0023ff,#0007ff,#0000f4,#0000f0,#0000fd,#0015ff,#002fff,#0044ff,#0053ff,#0062ff,#0075ff,#008dff,#00a3ff,#00afff,#00aaff,#0096ff,#007fff,#006fff,#006aff)"></i><i style="background:linear-gradient(90deg,#001aff,#001aff,#0019ff,#0018ff,#0019ff,#001dff,#0021ff,#0020ff,#0016ff,#0003ff,#0000ec,#0000dd,#0000dd,#0000eb,#0005ff,#0023ff,#0043ff,#005fff,#0074ff,#007bff,#007aff,#0077ff,#0075ff,#0078ff,#007aff,#0077ff,#0069ff,#0055ff,#0041ff,#0033ff,#002dff,#002fff,#0039ff,#0049ff,#005cff,#006fff,#007dff,#0084ff,#0082ff,#0074ff,#005eff,#0046ff,#0039ff,#0040ff,#0056ff,#006dff,#0076ff,#006aff,#0052ff,#003dff,#0033ff,#0034ff,#0038ff,#0038ff,#002fff,#0024ff,#001aff,#0018ff,#001aff,#001bff,#0016ff,#000bff,#0000fe,#0000f9,#0001ff,#0013ff,#002bff,#0045ff,#005dff,#006eff,#0075ff,#006eff,#005dff,#0044ff,#002aff,#0011ff,#0000ff,#0000fb,#0006ff,#0019ff,#0030ff,#0044ff,#0055ff,#0065ff,#0079ff,#0092ff,#00a7ff,#00b2ff,#00acff,#0099ff,#0082ff,#0072ff,#006dff)"></i><i style="background:linear-gradient(90deg,#0021ff,#0021ff,#0020ff,#001fff,#0020ff,#0022ff,#0024ff,#0022ff,#0018ff,#0006ff,#0000f2,#0000e4,#0000e4,#0000f1,#0008ff,#0025ff,#0045ff,#0062ff,#0077ff,#007eff,#007dff,#0079ff,#007aff,#0081ff,#0087ff,#0087ff,#007aff,#0065ff,#004fff,#003dff,#0034ff,#0034ff,#003cff,#004bff,#005fff,#0074ff,#0085ff,#008fff,#0090ff,#0086ff,#0070ff,#0058ff,#0049ff,#004dff,#0061ff,#0075ff,#007dff,#0071ff,#005cff,#0049ff,#0041ff,#0045ff,#004aff,#0048ff,#003cff,#002bff,#001cff,#0015ff,#0013ff,#0010ff,#0009ff,#0000fc,#0000f2,#0000f1,#0001ff,#001bff,#0039ff,#0055ff,#0069ff,#0074ff,#0076ff,#006cff,#005bff,#0045ff,#002fff,#001aff,#000dff,#0009ff,#0010ff,#0020ff,#0032ff,#0043ff,#0051ff,#0060ff,#0074ff,#008dff,#00a3ff,#00aeff,#00a8ff,#0095ff,#007dff,#006dff,#0068ff)"></i><i style="background:linear-gradient(90deg,#0028ff,#0028ff,#0027ff,#0026ff,#0026ff,#0026ff,#0026ff,#0024ff,#001cff,#000eff,#0000ff,#0000f5,#0000f5,#0000fe,#0011ff,#002aff,#0048ff,#0064ff,#0079ff,#0082ff,#0082ff,#0081ff,#0084ff,#008eff,#0097ff,#0099ff,#008dff,#0077ff,#005fff,#004bff,#003eff,#003aff,#003fff,#004eff,#0062ff,#0077ff,#0088ff,#0092ff,#0093ff,#008aff,#0077ff,#0063ff,#0056ff,#005aff,#006aff,#007bff,#0081ff,#0076ff,#0063ff,#0054ff,#0052ff,#005aff,#0061ff,#005fff,#0050ff,#0039ff,#0023ff,#0013ff,#0009ff,#0001ff,#0000f8,#0000ef,#0000eb,#0000f2,#000aff,#002aff,#004dff,#0068ff,#0079ff,#007fff,#007bff,#006eff,#005aff,#0045ff,#0031ff,#0022ff,#0018ff,#0016ff,#001cff,#0028ff,#0034ff,#003fff,#0049ff,#0056ff,#0069ff,#0081ff,#0099ff,#00a5ff,#009fff,#008aff,#0072ff,#0061ff,#005bff)"></i><i style="background:linear-gradient(90deg,#002fff,#002eff,#002dff,#002cff,#002bff,#002bff,#002aff,#0027ff,#0022ff,#001aff,#0013ff,#000dff,#000cff,#0010ff,#001cff,#0030ff,#004aff,#0065ff,#007aff,#0085ff,#0087ff,#0089ff,#0090ff,#009cff,#00a6ff,#00a9ff,#009eff,#0089ff,#0070ff,#0059ff,#0047ff,#003fff,#0041ff,#004fff,#0063ff,#0078ff,#0087ff,#008eff,#008dff,#0085ff,#0077ff,#006aff,#0062ff,#0066ff,#0072ff,#007eff,#0081ff,#0077ff,#0069ff,#005fff,#0064ff,#0071ff,#007cff,#007bff,#0068ff,#004bff,#002cff,#0013ff,#0000ff,#0000f1,#0000e8,#0000e5,#0000ea,#0000fb,#0019ff,#003eff,#0062ff,#007dff,#008bff,#008dff,#0084ff,#0072ff,#005bff,#0044ff,#0032ff,#0027ff,#0023ff,#0024ff,#0028ff,#002fff,#0036ff,#003cff,#0040ff,#0049ff,#0059ff,#0072ff,#008aff,#0097ff,#0092ff,#007dff,#0064ff,#0052ff,#004cff)"></i><i style="background:linear-gradient(90deg,#0034ff,#0034ff,#0033ff,#0032ff,#0031ff,#0030ff,#002eff,#002dff,#002bff,#0029ff,#0026ff,#0024ff,#0022ff,#0022ff,#0028ff,#0036ff,#004cff,#0064ff,#0079ff,#0085ff,#008bff,#008fff,#0098ff,#00a5ff,#00b0ff,#00b3ff,#00aaff,#0096ff,#007dff,#0063ff,#004eff,#0041ff,#003fff,#004cff,#0061ff,#0076ff,#0083ff,#0087ff,#0084ff,#007dff,#0075ff,#006eff,#006cff,#006fff,#0077ff,#007dff,#007dff,#0075ff,#006bff,#0069ff,#0074ff,#0087ff,#0097ff,#0096ff,#0080ff,#005dff,#0037ff,#0014ff,#0000f8,#0000e5,#0000dd,#0000e0,#0000ee,#0008ff,#002bff,#0052ff,#0075ff,#008fff,#009bff,#009aff,#008dff,#0076ff,#005bff,#0042ff,#0032ff,#002cff,#002cff,#002fff,#0033ff,#0037ff,#0038ff,#0038ff,#0037ff,#003cff,#0049ff,#0061ff,#0079ff,#0087ff,#0082ff,#006dff,#0054ff,#0042ff,#003dff)"></i><i style="background:linear-gradient(90deg,#0038ff,#0038ff,#0038ff,#0038ff,#0037ff,#0037ff,#0036ff,#0036ff,#0037ff,#0037ff,#0038ff,#0037ff,#0034ff,#0031ff,#0032ff,#003bff,#004dff,#0061ff,#0074ff,#0080ff,#0088ff,#008fff,#0099ff,#00a5ff,#00b0ff,#00b4ff,#00acff,#009aff,#0083ff,#0068ff,#004fff,#003eff,#0039ff,#0045ff,#005aff,#0070ff,#007cff,#007eff,#007aff,#0076ff,#0073ff,#0072ff,#0074ff,#0076ff,#0078ff,#0079ff,#0075ff,#006fff,#006cff,#0071ff,#0083ff,#009cff,#00aeff,#00adff,#0094ff,#006cff,#003fff,#0016ff,#0000f5,#0000e1,#0000da,#0000e2,#0000f6,#0015ff,#003aff,#0062ff,#0084ff,#009cff,#00a6ff,#00a3ff,#0093ff,#0079ff,#005bff,#0041ff,#0032ff,#002eff,#0032ff,#0038ff,#003bff,#003cff,#003aff,#0035ff,#0031ff,#0031ff,#003cff,#0052ff,#0069ff,#0077ff,#0072ff,#005fff,#0047ff,#0036ff,#0031ff)"></i><i style="background:linear-gradient(90deg,#003aff,#003aff,#003bff,#003cff,#003eff,#0040ff,#0042ff,#0044ff,#0045ff,#0046ff,#0045ff,#0042ff,#003dff,#0039ff,#0038ff,#003eff,#004bff,#005bff,#006bff,#0076ff,#007fff,#0086ff,#008fff,#009aff,#00a3ff,#00a6ff,#00a1ff,#0093ff,#007fff,#0065ff,#004aff,#0035ff,#002eff,#0039ff,#004eff,#0065ff,#0073ff,#0076ff,#0075ff,#0073ff,#0075ff,#0078ff,#007aff,#007aff,#0076ff,#0070ff,#006bff,#0067ff,#006aff,#0076ff,#008fff,#00abff,#00bfff,#00bdff,#00a1ff,#0074ff,#0043ff,#0019ff,#0000f9,#0000e7,#0000e3,#0000ec,#0002ff,#0020ff,#0045ff,#006aff,#008bff,#00a2ff,#00aaff,#00a6ff,#0096ff,#007aff,#005bff,#0040ff,#0032ff,#0030ff,#0036ff,#003dff,#003fff,#003eff,#003aff,#0034ff,#002dff,#002cff,#0034ff,#0046ff,#005aff,#0067ff,#0063ff,#0052ff,#003eff,#002fff,#002bff)"></i><i style="background:linear-gradient(90deg,#003aff,#003bff,#003dff,#0041ff,#0045ff,#004bff,#0050ff,#0054ff,#0055ff,#0052ff,#004dff,#0046ff,#0040ff,#003bff,#003aff,#003eff,#0047ff,#0053ff,#005fff,#0068ff,#006fff,#0076ff,#007dff,#0085ff,#008cff,#008fff,#008dff,#0083ff,#0073ff,#005bff,#003fff,#0028ff,#001fff,#0029ff,#003fff,#0057ff,#0068ff,#006fff,#0072ff,#0074ff,#0079ff,#007eff,#007fff,#007aff,#0070ff,#0065ff,#005eff,#005eff,#0066ff,#0079ff,#0096ff,#00b5ff,#00c9ff,#00c6ff,#00a6ff,#0076ff,#0044ff,#001eff,#0004ff,#0000f6,#0000f4,#0000fc,#000fff,#0029ff,#004aff,#006cff,#008bff,#00a0ff,#00a8ff,#00a4ff,#0093ff,#0078ff,#0059ff,#003fff,#0032ff,#0031ff,#0037ff,#003eff,#0041ff,#003fff,#003aff,#0034ff,#002eff,#002cff,#0031ff,#003fff,#004eff,#0058ff,#0055ff,#0049ff,#0039ff,#002eff,#002aff)"></i><i style="background:linear-gradient(90deg,#0039ff,#003bff,#003eff,#0044ff,#004cff,#0055ff,#005eff,#0064ff,#0063ff,#005cff,#0050ff,#0045ff,#003dff,#003aff,#003aff,#003dff,#0043ff,#004aff,#0052ff,#0058ff,#005dff,#0062ff,#0066ff,#006bff,#0070ff,#0072ff,#0073ff,#006eff,#0062ff,#004dff,#0032ff,#001aff,#000fff,#0018ff,#002eff,#0048ff,#005cff,#0069ff,#0071ff,#0077ff,#007eff,#0083ff,#0082ff,#0078ff,#0068ff,#0059ff,#0050ff,#0053ff,#0061ff,#0079ff,#0099ff,#00b9ff,#00ccff,#00c6ff,#00a4ff,#0073ff,#0043ff,#0022ff,#0011ff,#000aff,#000bff,#0010ff,#001cff,#002fff,#004aff,#0069ff,#0085ff,#0099ff,#00a1ff,#009dff,#008dff,#0074ff,#0057ff,#003fff,#0032ff,#0031ff,#0037ff,#003dff,#003fff,#003eff,#003aff,#0035ff,#0030ff,#002eff,#0032ff,#003bff,#0045ff,#004bff,#004aff,#0041ff,#0037ff,#0030ff,#002dff)"></i><i style="background:linear-gradient(90deg,#0038ff,#003aff,#003fff,#0046ff,#0050ff,#005dff,#0069ff,#0070ff,#006eff,#0062ff,#0051ff,#0041ff,#0038ff,#0036ff,#0038ff,#003bff,#003fff,#0042ff,#0045ff,#0048ff,#004bff,#004dff,#004fff,#0051ff,#0053ff,#0056ff,#0058ff,#0058ff,#0051ff,#003fff,#0025ff,#000dff,#0002ff,#000aff,#0020ff,#003aff,#0051ff,#0062ff,#006fff,#0079ff,#0081ff,#0085ff,#0081ff,#0073ff,#005fff,#004dff,#0044ff,#0049ff,#005aff,#0076ff,#0097ff,#00b7ff,#00c8ff,#00c0ff,#009cff,#006cff,#0040ff,#0027ff,#001eff,#001fff,#0022ff,#0024ff,#0028ff,#0034ff,#0049ff,#0063ff,#007cff,#008eff,#0095ff,#0092ff,#0084ff,#006eff,#0054ff,#003fff,#0033ff,#0032ff,#0036ff,#003bff,#003dff,#003cff,#0039ff,#0036ff,#0034ff,#0033ff,#0034ff,#0039ff,#003eff,#0041ff,#0040ff,#003cff,#0037ff,#0033ff,#0032ff)"></i><i style="background:linear-gradient(90deg,#0037ff,#0039ff,#003eff,#0047ff,#0052ff,#0061ff,#006eff,#0076ff,#0073ff,#0064ff,#004fff,#003dff,#0033ff,#0032ff,#0036ff,#0039ff,#003bff,#003bff,#003bff,#003bff,#003cff,#003cff,#003cff,#003cff,#003cff,#003dff,#0042ff,#0044ff,#0041ff,#0033ff,#001cff,#0006ff,#0000fa,#0002ff,#0016ff,#002fff,#0048ff,#005cff,#006cff,#0078ff,#0080ff,#0082ff,#007cff,#006cff,#0056ff,#0043ff,#003aff,#0041ff,#0054ff,#0070ff,#0090ff,#00adff,#00bcff,#00b2ff,#0090ff,#0064ff,#003dff,#002bff,#002aff,#0030ff,#0035ff,#0033ff,#0032ff,#0037ff,#0045ff,#005bff,#0070ff,#0080ff,#0086ff,#0084ff,#0079ff,#0066ff,#0051ff,#003eff,#0034ff,#0032ff,#0035ff,#0039ff,#003aff,#003aff,#0039ff,#0037ff,#0037ff,#0037ff,#0037ff,#0038ff,#0039ff,#003aff,#003aff,#0039ff,#0038ff,#0037ff,#0037ff)"></i><i style="background:linear-gradient(90deg,#0036ff,#0038ff,#003dff,#0046ff,#0051ff,#005fff,#006cff,#0074ff,#0070ff,#0061ff,#004cff,#0039ff,#0030ff,#0030ff,#0035ff,#0038ff,#0038ff,#0037ff,#0034ff,#0033ff,#0032ff,#0032ff,#0030ff,#002eff,#002dff,#002fff,#0033ff,#0038ff,#0037ff,#002cff,#0019ff,#0007ff,#0000fc,#0003ff,#0014ff,#002aff,#0041ff,#0055ff,#0065ff,#0071ff,#0078ff,#007aff,#0073ff,#0063ff,#004eff,#003cff,#0034ff,#003bff,#004dff,#0067ff,#0083ff,#009cff,#00a7ff,#009eff,#0080ff,#005aff,#003bff,#002fff,#0032ff,#003bff,#0040ff,#003dff,#0039ff,#0039ff,#0042ff,#0052ff,#0063ff,#0070ff,#0076ff,#0075ff,#006cff,#005dff,#004cff,#003dff,#0035ff,#0033ff,#0035ff,#0037ff,#0039ff,#0038ff,#0038ff,#0038ff,#0039ff,#003aff,#0039ff,#0038ff,#0036ff,#0035ff,#0036ff,#0037ff,#0039ff,#003aff,#003aff)"></i><i style="background:linear-gradient(90deg,#0036ff,#0038ff,#003cff,#0043ff,#004dff,#0058ff,#0064ff,#006aff,#0067ff,#0059ff,#0047ff,#0037ff,#0030ff,#0031ff,#0035ff,#0038ff,#0037ff,#0035ff,#0032ff,#0030ff,#002fff,#002eff,#002cff,#002aff,#0028ff,#0029ff,#002eff,#0032ff,#0033ff,#002bff,#001dff,#000eff,#0007ff,#000bff,#0018ff,#002aff,#003cff,#004dff,#005bff,#0066ff,#006bff,#006cff,#0066ff,#0058ff,#0047ff,#0038ff,#0032ff,#0038ff,#0047ff,#005cff,#0072ff,#0085ff,#008dff,#0086ff,#006eff,#0051ff,#0039ff,#0032ff,#0037ff,#0040ff,#0044ff,#0041ff,#003bff,#0039ff,#003fff,#004aff,#0057ff,#0061ff,#0065ff,#0064ff,#005eff,#0054ff,#0047ff,#003cff,#0035ff,#0034ff,#0035ff,#0037ff,#0038ff,#0038ff,#0038ff,#0039ff,#003aff,#003bff,#003aff,#0038ff,#0035ff,#0034ff,#0034ff,#0036ff,#0039ff,#003bff,#003bff)"></i><i style="background:linear-gradient(90deg,#0036ff,#0038ff,#003bff,#0040ff,#0047ff,#004fff,#0057ff,#005bff,#0059ff,#004fff,#0042ff,#0037ff,#0032ff,#0033ff,#0035ff,#0037ff,#0037ff,#0035ff,#0032ff,#0031ff,#0030ff,#002fff,#002dff,#002bff,#002aff,#002bff,#002eff,#0031ff,#0032ff,#002dff,#0024ff,#001aff,#0015ff,#0018ff,#0021ff,#002dff,#003aff,#0046ff,#0050ff,#0057ff,#005bff,#005bff,#0057ff,#004dff,#0041ff,#0037ff,#0032ff,#0037ff,#0041ff,#0050ff,#005fff,#006cff,#0071ff,#006cff,#005cff,#0048ff,#0039ff,#0034ff,#0039ff,#0040ff,#0043ff,#0040ff,#003cff,#0039ff,#003cff,#0044ff,#004cff,#0052ff,#0055ff,#0055ff,#0051ff,#004aff,#0042ff,#003bff,#0036ff,#0035ff,#0036ff,#0037ff,#0037ff,#0038ff,#0038ff,#0039ff,#003aff,#003aff,#003aff,#0038ff,#0036ff,#0034ff,#0034ff,#0036ff,#0039ff,#003aff,#003bff)"></i><i style="background:linear-gradient(90deg,#0037ff,#0038ff,#003aff,#003cff,#0040ff,#0045ff,#0049ff,#004bff,#004aff,#0045ff,#003dff,#0037ff,#0034ff,#0035ff,#0037ff,#0038ff,#0037ff,#0036ff,#0035ff,#0034ff,#0033ff,#0032ff,#0031ff,#0030ff,#002fff,#0030ff,#0031ff,#0033ff,#0034ff,#0032ff,#002dff,#0028ff,#0025ff,#0026ff,#002bff,#0031ff,#0039ff,#003fff,#0045ff,#0049ff,#004bff,#004bff,#0048ff,#0043ff,#003cff,#0037ff,#0035ff,#0037ff,#003dff,#0045ff,#004dff,#0053ff,#0056ff,#0053ff,#004bff,#0040ff,#0038ff,#0036ff,#0039ff,#003dff,#003fff,#003dff,#003bff,#0039ff,#003aff,#003eff,#0042ff,#0046ff,#0047ff,#0047ff,#0045ff,#0041ff,#003dff,#0039ff,#0037ff,#0037ff,#0037ff,#0037ff,#0038ff,#0038ff,#0038ff,#0039ff,#0039ff,#003aff,#0039ff,#0038ff,#0037ff,#0036ff,#0036ff,#0037ff,#0038ff,#003aff,#003aff)"></i><i style="background:linear-gradient(90deg,#0038ff,#0038ff,#0038ff,#0039ff,#003aff,#003bff,#003dff,#003dff,#003dff,#003bff,#0039ff,#0038ff,#0037ff,#0037ff,#0038ff,#0038ff,#0038ff,#0037ff,#0037ff,#0037ff,#0037ff,#0036ff,#0036ff,#0036ff,#0036ff,#0036ff,#0036ff,#0037ff,#0037ff,#0036ff,#0035ff,#0034ff,#0033ff,#0033ff,#0035ff,#0036ff,#0038ff,#003aff,#003bff,#003dff,#003dff,#003dff,#003cff,#003bff,#0039ff,#0038ff,#0037ff,#0038ff,#0039ff,#003bff,#003eff,#003fff,#0040ff,#003fff,#003dff,#003aff,#0038ff,#0038ff,#0038ff,#003aff,#003aff,#003aff,#0039ff,#0038ff,#0039ff,#003aff,#003bff,#003cff,#003cff,#003cff,#003bff,#003bff,#0039ff,#0038ff,#0038ff,#0038ff,#0038ff,#0038ff,#0038ff,#0038ff,#0038ff,#0038ff,#0038ff,#0039ff,#0038ff,#0038ff,#0038ff,#0037ff,#0037ff,#0038ff,#0038ff,#0039ff,#0039ff)"></i><i style="background:linear-gradient(90deg,#0038ff,#0038ff,#0038ff,#0037ff,#0036ff,#0035ff,#0034ff,#0034ff,#0034ff,#0035ff,#0037ff,#0038ff,#0039ff,#0039ff,#0038ff,#0038ff,#0038ff,#0039ff,#0039ff,#0039ff,#0039ff,#0039ff,#003aff,#003aff,#003aff,#003aff,#003aff,#0039ff,#0039ff,#003aff,#003bff,#003cff,#003cff,#003cff,#003bff,#003aff,#0038ff,#0037ff,#0035ff,#0035ff,#0034ff,#0034ff,#0035ff,#0036ff,#0037ff,#0038ff,#0039ff,#0038ff,#0037ff,#0035ff,#0034ff,#0032ff,#0032ff,#0032ff,#0034ff,#0036ff,#0038ff,#0038ff,#0038ff,#0037ff,#0036ff,#0037ff,#0038ff,#0038ff,#0038ff,#0037ff,#0036ff,#0035ff,#0035ff,#0035ff,#0035ff,#0036ff,#0037ff,#0038ff,#0038ff,#0038ff,#0038ff,#0038ff,#0038ff,#0038ff,#0038ff,#0038ff,#0038ff,#0038ff,#0038ff,#0038ff,#0038ff,#0039ff,#0039ff,#0038ff,#0038ff,#0038ff,#0038ff)"></i></div></div><div class="hm" style="left:178px;top:154px;width:48px;height:48px"><div class="hf2" style="left:-3px;top:-3px;width:54px"><i style="height:1px;background:linear-gradient(90deg,#001eff,#0016ff,#000fff,#0009ff,#0003ff,#0000fd,#0000f9,#0000f6,#0000f4,#0000f4,#0000f7,#0000fd,#0008ff,#0018ff,#002eff,#004aff,#0068ff,#0088ff,#00a7ff,#00c1ff,#00d5ff,#00e2ff,#00e9ff,#00e8ff,#00e2ff,#00d7ff,#00c8ff,#00b6ff)"></i><i style="height:1px;background:linear-gradient(90deg,#001bff,#0013ff,#000cff,#0006ff,#0001ff,#0000fc,#0000f9,#0000f6,#0000f5,#0000f5,#0000f7,#0000fd,#0009ff,#001aff,#0033ff,#0051ff,#0074ff,#0097ff,#00b8ff,#00d2ff,#00e5ff,#00f0ff,#00f3ff,#00efff,#00e7ff,#00daff,#00caff,#00b8ff)"></i><i style="height:1px;background:linear-gradient(90deg,#0018ff,#0011ff,#000aff,#0005ff,#0001ff,#0000fc,#0000fa,#0000f8,#0000f7,#0000f7,#0000f9,#0000ff,#000bff,#001eff,#0039ff,#005aff,#0080ff,#00a7ff,#00c9ff,#00e5ff,#00f6ff,#00feff,#00feff,#00f6ff,#00eaff,#00dcff,#00cbff,#00b9ff)"></i><i style="height:1px;background:linear-gradient(90deg,#0017ff,#000fff,#000aff,#0005ff,#0002ff,#0000fe,#0000fc,#0000fb,#0000fb,#0000fb,#0000fd,#0004ff,#000fff,#0023ff,#0040ff,#0065ff,#008eff,#00b8ff,#00dcff,#00f8ff,#08fff7,#0dfff2,#09fff6,#00fdff,#00edff,#00ddff,#00cbff,#00b8ff)"></i><i style="height:1px;background:linear-gradient(90deg,#0017ff,#0010ff,#000bff,#0007ff,#0005ff,#0003ff,#0002ff,#0001ff,#0001ff,#0001ff,#0003ff,#0009ff,#0015ff,#002aff,#004aff,#0071ff,#009dff,#00c9ff,#00f0ff,#0cfff3,#1affe5,#1bffe4,#13ffec,#03fffc,#00f0ff,#00dcff,#00c9ff,#00b5ff)"></i><i style="height:1px;background:linear-gradient(90deg,#0019ff,#0013ff,#000eff,#000bff,#0009ff,#0009ff,#0008ff,#0009ff,#0009ff,#0009ff,#000bff,#0011ff,#001eff,#0034ff,#0055ff,#007fff,#00aeff,#00dbff,#04fffb,#1fffe0,#2bffd4,#29ffd6,#1dffe2,#09fff6,#00f2ff,#00dcff,#00c6ff,#00b2ff)"></i><i style="height:1px;background:linear-gradient(90deg,#001dff,#0018ff,#0014ff,#0012ff,#0011ff,#0011ff,#0011ff,#0012ff,#0013ff,#0013ff,#0016ff,#001dff,#002aff,#0041ff,#0063ff,#008fff,#00bfff,#00eeff,#17ffe8,#31ffce,#3affc5,#36ffc9,#26ffd9,#0efff1,#00f3ff,#00daff,#00c2ff,#00acff)"></i><i style="height:1px;background:linear-gradient(90deg,#0024ff,#001fff,#001cff,#001aff,#001aff,#001bff,#001cff,#001eff,#0020ff,#0021ff,#0025ff,#002cff,#003aff,#0051ff,#0074ff,#00a0ff,#00d1ff,#01fffe,#28ffd7,#41ffbe,#49ffb6,#42ffbd,#2effd1,#13ffec,#00f4ff,#00d8ff,#00bdff,#00a6ff)"></i><i style="height:1px;background:linear-gradient(90deg,#002fff,#002aff,#0027ff,#0026ff,#0026ff,#0028ff,#002aff,#002dff,#0030ff,#0032ff,#0037ff,#0040ff,#004fff,#0066ff,#0089ff,#00b5ff,#00e4ff,#13ffec,#39ffc6,#50ffaf,#55ffaa,#4cffb3,#35ffca,#17ffe8,#00f5ff,#00d5ff,#00b8ff,#009dff)"></i><i style="height:1px;background:linear-gradient(90deg,#003bff,#0037ff,#0035ff,#0034ff,#0035ff,#0037ff,#003aff,#003eff,#0042ff,#0047ff,#004eff,#0058ff,#0068ff,#0080ff,#00a2ff,#00cbff,#00f8ff,#25ffda,#48ffb7,#5cffa3,#60ff9f,#54ffab,#3bffc4,#1affe5,#00f5ff,#00d2ff,#00b1ff,#0095ff)"></i><i style="height:1px;background:linear-gradient(90deg,#004aff,#0046ff,#0044ff,#0043ff,#0045ff,#0047ff,#004cff,#0051ff,#0058ff,#0060ff,#0069ff,#0075ff,#0087ff,#009eff,#00beff,#00e5ff,#0ffff0,#36ffc9,#55ffaa,#67ff98,#68ff97,#5affa5,#40ffbf,#1dffe2,#00f5ff,#00cfff,#00abff,#008bff)"></i><i style="height:1px;background:linear-gradient(90deg,#0059ff,#0056ff,#0054ff,#0054ff,#0056ff,#0059ff,#005fff,#0067ff,#0071ff,#007cff,#0088ff,#0098ff,#00abff,#00c2ff,#00e0ff,#03fffc,#27ffd8,#48ffb7,#62ff9d,#6fff90,#6eff91,#5effa1,#43ffbc,#1fffe0,#00f5ff,#00cbff,#00a4ff,#0082ff)"></i><i style="height:1px;background:linear-gradient(90deg,#006aff,#0067ff,#0065ff,#0065ff,#0068ff,#006cff,#0074ff,#007eff,#008cff,#009bff,#00adff,#00c0ff,#00d5ff,#00ecff,#07fff8,#24ffdb,#40ffbf,#5affa5,#6dff92,#76ff89,#71ff8e,#60ff9f,#44ffbb,#1fffe0,#00f4ff,#00c8ff,#009eff,#007aff)"></i><i style="height:1px;background:linear-gradient(90deg,#007bff,#0078ff,#0077ff,#0077ff,#007aff,#0080ff,#0089ff,#0097ff,#00a9ff,#00beff,#00d5ff,#00edff,#05fffa,#1cffe3,#32ffcd,#48ffb7,#5cffa3,#6dff92,#78ff87,#7bff84,#73ff8c,#60ff9f,#44ffbb,#1fffe0,#00f3ff,#00c5ff,#0099ff,#0073ff)"></i><i style="height:1px;background:linear-gradient(90deg,#008bff,#0089ff,#0088ff,#0088ff,#008cff,#0093ff,#009fff,#00b1ff,#00c9ff,#00e5ff,#04fffb,#21ffde,#3bffc4,#51ffae,#62ff9d,#70ff8f,#7aff85,#81ff7e,#83ff7c,#7eff81,#72ff8d,#5effa1,#42ffbd,#1dffe2,#00f2ff,#00c3ff,#0095ff,#006dff)"></i><i style="height:1px;background:linear-gradient(90deg,#009bff,#0099ff,#0098ff,#0099ff,#009dff,#00a6ff,#00b5ff,#00cdff,#00ebff,#10ffef,#35ffca,#58ffa7,#75ff8a,#8aff75,#97ff68,#9cff63,#9bff64,#95ff6a,#8dff72,#81ff7e,#70ff8f,#5bffa4,#3effc1,#1bffe4,#00f0ff,#00c1ff,#0093ff,#0069ff)"></i><i style="height:1px;background:linear-gradient(90deg,#00a9ff,#00a7ff,#00a6ff,#00a8ff,#00adff,#00b8ff,#00cbff,#00e8ff,#0ffff0,#3bffc4,#69ff96,#93ff6c,#b3ff4c,#c7ff38,#cfff30,#caff35,#bdff42,#abff54,#97ff68,#82ff7d,#6dff92,#55ffaa,#3affc5,#18ffe7,#00eeff,#00c0ff,#0092ff,#0068ff)"></i><i style="height:1px;background:linear-gradient(90deg,#00b4ff,#00b4ff,#00b3ff,#00b5ff,#00bbff,#00c9ff,#00e0ff,#04fffb,#33ffcc,#68ff97,#9fff60,#d0ff2f,#f4ff0b,#fff700,#fff600,#faff05,#e1ff1e,#c1ff3e,#a0ff5f,#83ff7c,#68ff97,#4fffb0,#34ffcb,#14ffeb,#00edff,#00c1ff,#0094ff,#006bff)"></i><i style="height:1px;background:linear-gradient(90deg,#00beff,#00bdff,#00bdff,#00bfff,#00c7ff,#00d7ff,#00f3ff,#1effe1,#55ffaa,#95ff6a,#d5ff2a,#fff200,#ffca00,#ffb800,#ffbc00,#ffd300,#fffa00,#d7ff28,#aaff55,#83ff7c,#63ff9c,#47ffb8,#2dffd2,#0ffff0,#00ebff,#00c2ff,#0098ff,#0070ff)"></i><i style="height:1px;background:linear-gradient(90deg,#00c4ff,#00c4ff,#00c5ff,#00c8ff,#00d1ff,#00e4ff,#06fff9,#37ffc8,#77ff88,#c0ff3f,#fff500,#ffb700,#ff8c00,#ff7b00,#ff8300,#ffa400,#ffd600,#edff12,#b4ff4b,#83ff7c,#5dffa2,#3fffc0,#25ffda,#0afff5,#00eaff,#00c5ff,#009eff,#0079ff)"></i><i style="height:1px;background:linear-gradient(90deg,#00c8ff,#00c9ff,#00caff,#00ceff,#00d8ff,#00eeff,#15ffea,#4effb1,#97ff68,#eaff15,#ffc300,#ff7f00,#ff5200,#ff4200,#ff4f00,#ff7800,#ffb500,#fffc00,#bdff42,#83ff7c,#57ffa8,#36ffc9,#1dffe2,#05fffa,#00e8ff,#00c8ff,#00a5ff,#0084ff)"></i><i style="height:1px;background:linear-gradient(90deg,#00cbff,#00ccff,#00cdff,#00d1ff,#00deff,#00f7ff,#23ffdc,#62ff9d,#b4ff4b,#ffef00,#ff9600,#ff4d00,#ff1f00,#ff0f00,#ff2000,#ff5000,#ff9700,#ffe900,#c5ff3a,#82ff7d,#50ffaf,#2dffd2,#14ffeb,#00feff,#00e7ff,#00cbff,#00aeff,#0090ff)"></i><i style="height:1px;background:linear-gradient(90deg,#00cbff,#00ccff,#00ceff,#00d3ff,#00e1ff,#00fdff,#2effd1,#74ff8b,#cdff32,#ffce00,#ff6f00,#ff2200,#f20000,#e30000,#f70000,#ff2d00,#ff7d00,#ffd900,#cbff34,#80ff7f,#49ffb6,#25ffda,#0cfff3,#00f8ff,#00e5ff,#00cfff,#00b7ff,#009dff)"></i><i style="height:1px;background:linear-gradient(90deg,#00caff,#00cbff,#00cdff,#00d4ff,#00e3ff,#03fffc,#36ffc9,#82ff7d,#e2ff1d,#ffb200,#ff4e00,#ff0000,#cf0000,#c20000,#d80000,#ff1200,#ff6800,#ffcd00,#cfff30,#7eff81,#43ffbc,#1cffe3,#04fffb,#00f3ff,#00e4ff,#00d3ff,#00bfff,#00aaff)"></i><i style="height:1px;background:linear-gradient(90deg,#00c7ff,#00c9ff,#00cbff,#00d2ff,#00e3ff,#05fffa,#3cffc3,#8dff72,#f2ff0d,#ff9d00,#ff3600,#e60000,#b70000,#ab0000,#c20000,#fe0000,#ff5a00,#ffc400,#d2ff2d,#7bff84,#3cffc3,#14ffeb,#00fbff,#00edff,#00e2ff,#00d6ff,#00c7ff,#00b6ff)"></i><i style="height:1px;background:linear-gradient(90deg,#00c4ff,#00c5ff,#00c8ff,#00cfff,#00e1ff,#05fffa,#3fffc0,#93ff6c,#fdff02,#ff8f00,#ff2600,#d60000,#a90000,#9e0000,#b50000,#f30000,#ff5100,#ffc000,#d1ff2e,#76ff89,#35ffca,#0cfff3,#00f4ff,#00e8ff,#00e0ff,#00d8ff,#00ceff,#00c1ff)"></i><i style="height:1px;background:linear-gradient(90deg,#00bfff,#00c0ff,#00c3ff,#00cbff,#00ddff,#03fffc,#3fffc0,#96ff69,#fffc00,#ff8800,#ff1e00,#ce0000,#a40000,#9b0000,#b10000,#ef0000,#ff5000,#ffc200,#cdff32,#70ff8f,#2effd1,#05fffa,#00eeff,#00e3ff,#00deff,#00d9ff,#00d3ff,#00c8ff)"></i><i style="height:1px;background:linear-gradient(90deg,#00baff,#00bbff,#00beff,#00c5ff,#00d9ff,#00feff,#3cffc3,#94ff6b,#fffd00,#ff8800,#ff1e00,#cf0000,#a70000,#9e0000,#b50000,#f40000,#ff5600,#ffc800,#c6ff39,#69ff96,#27ffd8,#00fdff,#00e8ff,#00deff,#00dbff,#00d9ff,#00d5ff,#00cdff)"></i><i style="height:1px;background:linear-gradient(90deg,#00b5ff,#00b5ff,#00b7ff,#00bfff,#00d3ff,#00f8ff,#37ffc8,#8fff70,#fbff04,#ff8f00,#ff2600,#d80000,#af0000,#a80000,#c10000,#ff0200,#ff6200,#ffd300,#bcff43,#61ff9e,#20ffdf,#00f7ff,#00e2ff,#00daff,#00d8ff,#00d7ff,#00d4ff,#00cdff)"></i><i style="height:1px;background:linear-gradient(90deg,#00b0ff,#00afff,#00b1ff,#00b8ff,#00ccff,#00f1ff,#2fffd0,#86ff79,#f0ff0f,#ff9c00,#ff3500,#e80000,#bf0000,#b80000,#d40000,#ff1500,#ff7500,#ffe300,#b0ff4f,#57ffa8,#19ffe6,#00f1ff,#00deff,#00d6ff,#00d3ff,#00d2ff,#00d0ff,#00caff)"></i><i style="height:1px;background:linear-gradient(90deg,#00abff,#00a9ff,#00a9ff,#00b1ff,#00c4ff,#00e9ff,#26ffd9,#79ff86,#e0ff1f,#ffb000,#ff4c00,#ff0100,#d70000,#d10000,#ee0000,#ff3000,#ff8d00,#fff800,#a0ff5f,#4dffb2,#11ffee,#00ecff,#00d9ff,#00d1ff,#00ceff,#00cdff,#00c9ff,#00c2ff)"></i><i style="height:1px;background:linear-gradient(90deg,#00a7ff,#00a3ff,#00a2ff,#00a9ff,#00bcff,#00e0ff,#1affe5,#6aff95,#cdff32,#ffc900,#ff6900,#ff2100,#f80000,#f30000,#ff1200,#ff5200,#ffab00,#eeff11,#8fff70,#41ffbe,#0afff5,#00e7ff,#00d6ff,#00ceff,#00c9ff,#00c6ff,#00c1ff,#00b9ff)"></i><i style="height:1px;background:linear-gradient(90deg,#00a2ff,#009dff,#009bff,#00a1ff,#00b3ff,#00d6ff,#0dfff2,#59ffa6,#b5ff4a,#ffe700,#ff8d00,#ff4800,#ff2200,#ff1e00,#ff3c00,#ff7a00,#ffce00,#d2ff2d,#7bff84,#34ffcb,#02fffd,#00e3ff,#00d2ff,#00caff,#00c4ff,#00beff,#00b7ff,#00aeff)"></i><i style="height:1px;background:linear-gradient(90deg,#009eff,#0097ff,#0094ff,#0099ff,#00aaff,#00cbff,#00ffff,#46ffb9,#9bff64,#f5ff0a,#ffb500,#ff7600,#ff5200,#ff4f00,#ff6d00,#ffa700,#fff500,#b4ff4b,#65ff9a,#26ffd9,#00f9ff,#00deff,#00cfff,#00c6ff,#00bfff,#00b7ff,#00adff,#00a2ff)"></i><i style="height:1px;background:linear-gradient(90deg,#0099ff,#0091ff,#008dff,#0091ff,#00a2ff,#00c1ff,#00f0ff,#32ffcd,#7fff80,#d1ff2e,#ffe200,#ffa800,#ff8800,#ff8600,#ffa200,#ffd700,#e0ff1f,#94ff6b,#4fffb0,#18ffe7,#00f1ff,#00daff,#00ccff,#00c3ff,#00baff,#00afff,#00a3ff,#0097ff)"></i><i style="height:1px;background:linear-gradient(90deg,#0096ff,#008cff,#0087ff,#008aff,#0099ff,#00b6ff,#00e2ff,#1dffe2,#63ff9c,#abff54,#eeff11,#ffdd00,#ffc100,#ffc000,#ffd900,#f4ff0b,#b6ff49,#74ff8b,#38ffc7,#09fff6,#00e9ff,#00d5ff,#00c9ff,#00c0ff,#00b6ff,#00a9ff,#009bff,#008dff)"></i><i style="height:1px;background:linear-gradient(90deg,#0093ff,#0087ff,#0081ff,#0084ff,#0092ff,#00acff,#00d4ff,#09fff6,#46ffb9,#85ff7a,#bfff40,#ecff13,#fffa00,#fffa00,#ecff13,#c2ff3d,#8cff73,#53ffac,#21ffde,#00faff,#00e0ff,#00d0ff,#00c6ff,#00bdff,#00b2ff,#00a4ff,#0094ff,#0086ff)"></i><i style="height:1px;background:linear-gradient(90deg,#0090ff,#0084ff,#007cff,#007eff,#008bff,#00a3ff,#00c7ff,#00f5ff,#2bffd4,#61ff9e,#92ff6d,#b7ff48,#cbff34,#caff35,#b5ff4a,#90ff6f,#63ff9c,#34ffcb,#0bfff4,#00ebff,#00d7ff,#00cbff,#00c3ff,#00bbff,#00b0ff,#00a1ff,#0090ff,#0081ff)"></i><i style="height:1px;background:linear-gradient(90deg,#008eff,#0081ff,#0079ff,#0079ff,#0084ff,#009aff,#00baff,#00e2ff,#10ffef,#3effc1,#66ff99,#85ff7a,#94ff6b,#93ff6c,#81ff7e,#62ff9d,#3bffc4,#15ffea,#00f4ff,#00dcff,#00cdff,#00c5ff,#00c0ff,#00b9ff,#00aeff,#009fff,#008fff,#0081ff)"></i><i style="height:1px;background:linear-gradient(90deg,#008dff,#007fff,#0076ff,#0075ff,#007fff,#0092ff,#00aeff,#00d0ff,#00f7ff,#1dffe2,#3effc1,#56ffa9,#62ff9d,#5fffa0,#50ffaf,#36ffc9,#17ffe8,#00f7ff,#00deff,#00cdff,#00c3ff,#00bfff,#00bcff,#00b7ff,#00aeff,#00a1ff,#0092ff,#0085ff)"></i><i style="height:1px;background:linear-gradient(90deg,#008cff,#007eff,#0074ff,#0072ff,#007bff,#008bff,#00a3ff,#00c0ff,#00e0ff,#00feff,#19ffe6,#2cffd3,#34ffcb,#31ffce,#24ffdb,#0ffff0,#00f5ff,#00ddff,#00caff,#00beff,#00b9ff,#00b8ff,#00b7ff,#00b5ff,#00afff,#00a4ff,#0098ff,#008dff)"></i><i style="height:1px;background:linear-gradient(90deg,#008cff,#007dff,#0073ff,#0070ff,#0077ff,#0085ff,#0099ff,#00b2ff,#00ccff,#00e4ff,#00f8ff,#07fff8,#0cfff3,#09fff6,#00fdff,#00ebff,#00d7ff,#00c5ff,#00b7ff,#00b0ff,#00aeff,#00b0ff,#00b3ff,#00b4ff,#00b1ff,#00a9ff,#00a0ff,#0098ff)"></i><i style="height:1px;background:linear-gradient(90deg,#008cff,#007eff,#0073ff,#006fff,#0074ff,#0080ff,#0091ff,#00a5ff,#00baff,#00ccff,#00dcff,#00e6ff,#00e9ff,#00e6ff,#00dcff,#00cdff,#00bdff,#00afff,#00a6ff,#00a2ff,#00a4ff,#00a9ff,#00afff,#00b3ff,#00b3ff,#00afff,#00aaff,#00a5ff)"></i><i style="height:1px;background:linear-gradient(90deg,#008dff,#007fff,#0074ff,#006fff,#0072ff,#007bff,#0089ff,#0099ff,#00aaff,#00b8ff,#00c4ff,#00cbff,#00cdff,#00c9ff,#00c0ff,#00b4ff,#00a8ff,#009dff,#0097ff,#0096ff,#009bff,#00a2ff,#00aaff,#00b1ff,#00b5ff,#00b6ff,#00b4ff,#00b2ff)"></i><i style="height:1px;background:linear-gradient(90deg,#008eff,#0080ff,#0075ff,#006fff,#0071ff,#0077ff,#0082ff,#008fff,#009cff,#00a7ff,#00b0ff,#00b4ff,#00b5ff,#00b1ff,#00aaff,#00a0ff,#0096ff,#008eff,#008aff,#008cff,#0092ff,#009cff,#00a6ff,#00b0ff,#00b8ff,#00bcff,#00beff,#00c0ff)"></i><i style="height:1px;background:linear-gradient(90deg,#0090ff,#0082ff,#0076ff,#0070ff,#0070ff,#0074ff,#007dff,#0087ff,#0091ff,#0099ff,#009fff,#00a2ff,#00a2ff,#009fff,#0098ff,#0090ff,#0088ff,#0082ff,#0080ff,#0084ff,#008bff,#0096ff,#00a3ff,#00afff,#00b9ff,#00c2ff,#00c8ff,#00cdff)"></i><i style="height:1px;background:linear-gradient(90deg,#0091ff,#0084ff,#0078ff,#0071ff,#006fff,#0072ff,#0078ff,#007fff,#0087ff,#008dff,#0091ff,#0093ff,#0093ff,#0090ff,#008bff,#0084ff,#007eff,#007aff,#0079ff,#007dff,#0086ff,#0092ff,#009fff,#00aeff,#00bbff,#00c6ff,#00d0ff,#00d8ff)"></i><i style="height:1px;background:linear-gradient(90deg,#0093ff,#0086ff,#007aff,#0072ff,#006fff,#0070ff,#0074ff,#0079ff,#007fff,#0083ff,#0086ff,#0088ff,#0087ff,#0085ff,#0080ff,#007bff,#0077ff,#0074ff,#0075ff,#007aff,#0083ff,#008fff,#009dff,#00acff,#00bbff,#00c9ff,#00d6ff,#00e0ff)"></i><i style="height:1px;background:linear-gradient(90deg,#0095ff,#0088ff,#007cff,#0074ff,#0070ff,#006fff,#0071ff,#0075ff,#0079ff,#007cff,#007eff,#007fff,#007eff,#007dff,#007aff,#0076ff,#0074ff,#0073ff,#0074ff,#0079ff,#0082ff,#008dff,#009bff,#00aaff,#00baff,#00caff,#00d8ff,#00e4ff)"></i><i style="height:1px;background:linear-gradient(90deg,#0097ff,#008aff,#007eff,#0075ff,#0071ff,#006fff,#0070ff,#0072ff,#0074ff,#0076ff,#0077ff,#0078ff,#0078ff,#0077ff,#0076ff,#0075ff,#0074ff,#0075ff,#0077ff,#007cff,#0084ff,#008eff,#009aff,#00a8ff,#00b8ff,#00c8ff,#00d7ff,#00e3ff)"></i><i style="height:1px;background:linear-gradient(90deg,#0099ff,#008cff,#0080ff,#0077ff,#0072ff,#006fff,#006fff,#0070ff,#0071ff,#0072ff,#0073ff,#0074ff,#0074ff,#0075ff,#0075ff,#0076ff,#0077ff,#007aff,#007dff,#0082ff,#0088ff,#0090ff,#009aff,#00a6ff,#00b4ff,#00c3ff,#00d2ff,#00deff)"></i><i style="height:1px;background:linear-gradient(90deg,#009bff,#008eff,#0082ff,#0079ff,#0073ff,#0070ff,#006fff,#006fff,#0070ff,#0070ff,#0070ff,#0071ff,#0072ff,#0074ff,#0076ff,#007aff,#007dff,#0082ff,#0086ff,#008aff,#008fff,#0094ff,#009aff,#00a3ff,#00aeff,#00bcff,#00c9ff,#00d5ff)"></i><i style="height:1px;background:linear-gradient(90deg,#009cff,#008fff,#0083ff,#007aff,#0074ff,#0071ff,#006fff,#006fff,#006fff,#006fff,#006fff,#0070ff,#0071ff,#0074ff,#0079ff,#007fff,#0085ff,#008cff,#0091ff,#0094ff,#0096ff,#0098ff,#009bff,#00a0ff,#00a8ff,#00b3ff,#00bfff,#00c9ff)"></i><i style="height:1px;background:linear-gradient(90deg,#009dff,#008fff,#0084ff,#007bff,#0075ff,#0071ff,#0070ff,#006fff,#006fff,#006fff,#006fff,#0070ff,#0072ff,#0076ff,#007dff,#0086ff,#008fff,#0097ff,#009cff,#009fff,#009eff,#009dff,#009bff,#009cff,#00a1ff,#00a9ff,#00b3ff,#00bbff)"></i></div></div><div class="hm" style="left:411px;top:66px;width:269px;height:226px"><div class="hf" style="left:-3px;top:-3px;width:276px"><i style="background:linear-gradient(90deg,#0000a3,#0000a3,#0000a4,#0000a5,#0000a4,#0000a0,#00009d,#00009d,#0000a6,#0000b9,#0000d1,#0000e7,#0000f5,#0000f9,#0000f4,#0000e5,#0000cf,#0000b8,#0000a5,#00009d,#00009d,#0000a1,#0000a4,#0000a5,#0000a5,#0000a3,#0000a2,#0000a1,#00009f,#00009c,#00009a,#00009b,#0000a4,#0000b4,#0000c4,#0000cc,#0000c6,#0000b7,#0000a6,#00009a,#000099,#00009d,#0000a2,#0000a4,#0000a2,#0000a1,#0000a4,#0000ad,#0000b9,#0000c5,#0000cc,#0000cf,#0000cc,#0000c5,#0000b9,#0000ae,#0000a4,#0000a0,#0000a1,#0000a3,#0000a3,#0000a2,#0000a1,#0000a3,#0000aa,#0000b4,#0000c0,#0000cb,#0000d6,#0000e0,#0000eb,#0000f8,#0005ff,#000cff,#000bff,#0003ff,#0000f6,#0000e9,#0000de,#0000d4,#0000ca,#0000bf,#0000b3,#0000a9,#0000a2,#0000a0,#0000a1,#0000a3,#0000a4,#0000a4,#0000a4,#0000a3,#0000a3)"></i><i style="background:linear-gradient(90deg,#0000a3,#0000a3,#0000a4,#0000a5,#0000a4,#0000a0,#00009d,#00009d,#0000a6,#0000b9,#0000d1,#0000e6,#0000f4,#0000f9,#0000f3,#0000e5,#0000cf,#0000b7,#0000a5,#00009d,#00009d,#0000a1,#0000a4,#0000a4,#0000a4,#0000a3,#0000a4,#0000a6,#0000a8,#0000a8,#0000a8,#0000ad,#0000bb,#0000ce,#0000de,#0000e2,#0000d9,#0000c8,#0000b6,#0000aa,#0000a4,#0000a3,#0000a3,#0000a2,#0000a0,#0000a0,#0000a5,#0000ae,#0000ba,#0000c5,#0000cc,#0000ce,#0000cb,#0000c4,#0000b9,#0000ad,#0000a4,#0000a0,#0000a1,#0000a3,#0000a3,#0000a2,#0000a1,#0000a3,#0000aa,#0000b5,#0000c1,#0000cc,#0000d5,#0000df,#0000ea,#0000f9,#0007ff,#0010ff,#0010ff,#0007ff,#0000f8,#0000ea,#0000de,#0000d5,#0000cb,#0000c0,#0000b4,#0000a9,#0000a2,#0000a0,#0000a1,#0000a3,#0000a4,#0000a4,#0000a4,#0000a3,#0000a3)"></i><i style="background:linear-gradient(90deg,#0000a3,#0000a3,#0000a4,#0000a5,#0000a4,#0000a1,#00009d,#00009d,#0000a6,#0000b9,#0000d0,#0000e5,#0000f3,#0000f8,#0000f3,#0000e4,#0000ce,#0000b7,#0000a5,#00009d,#00009d,#0000a1,#0000a4,#0000a3,#0000a2,#0000a3,#0000a8,#0000af,#0000b6,#0000bb,#0000c0,#0000cc,#0000e1,#0000fb,#000cff,#000aff,#0000f9,#0000e3,#0000d1,#0000c2,#0000b7,#0000ad,#0000a5,#0000a0,#00009e,#00009f,#0000a5,#0000af,#0000ba,#0000c4,#0000cb,#0000cd,#0000cb,#0000c3,#0000b9,#0000ad,#0000a4,#0000a0,#0000a1,#0000a3,#0000a3,#0000a1,#0000a0,#0000a3,#0000ab,#0000b6,#0000c3,#0000cd,#0000d5,#0000de,#0000ea,#0000fa,#000cff,#0017ff,#0017ff,#000cff,#0000fb,#0000eb,#0000df,#0000d5,#0000cc,#0000c1,#0000b5,#0000a9,#0000a2,#00009f,#0000a0,#0000a3,#0000a4,#0000a4,#0000a4,#0000a3,#0000a3)"></i><i style="background:linear-gradient(90deg,#0000a3,#0000a3,#0000a4,#0000a5,#0000a4,#0000a1,#00009d,#00009d,#0000a6,#0000b9,#0000d0,#0000e5,#0000f2,#0000f7,#0000f2,#0000e3,#0000cd,#0000b6,#0000a5,#00009d,#00009e,#0000a2,#0000a3,#0000a2,#0000a0,#0000a2,#0000ab,#0000b8,#0000c5,#0000d0,#0000dd,#0000f2,#0015ff,#003aff,#004cff,#0041ff,#0024ff,#0007ff,#0000f0,#0000de,#0000cc,#0000b8,#0000a7,#00009d,#00009b,#00009e,#0000a6,#0000b0,#0000bb,#0000c4,#0000cb,#0000cc,#0000ca,#0000c3,#0000b8,#0000ad,#0000a4,#0000a0,#0000a1,#0000a3,#0000a3,#0000a1,#0000a0,#0000a3,#0000ab,#0000b8,#0000c5,#0000ce,#0000d5,#0000dd,#0000e9,#0000fc,#0011ff,#001fff,#001fff,#0012ff,#0000fe,#0000eb,#0000df,#0000d6,#0000cd,#0000c2,#0000b5,#0000aa,#0000a2,#00009f,#0000a0,#0000a2,#0000a4,#0000a4,#0000a4,#0000a3,#0000a3)"></i><i style="background:linear-gradient(90deg,#0000a3,#0000a3,#0000a4,#0000a5,#0000a4,#0000a1,#00009d,#00009d,#0000a6,#0000b9,#0000cf,#0000e5,#0000f2,#0000f7,#0000f2,#0000e3,#0000cd,#0000b6,#0000a4,#00009d,#00009e,#0000a2,#0000a3,#0000a1,#00009f,#0000a2,#0000ae,#0000c0,#0000d4,#0000e5,#0000fa,#001dff,#004fff,#0082ff,#0096ff,#0081ff,#0054ff,#002bff,#0010ff,#0000f9,#0000df,#0000c3,#0000a9,#00009b,#000098,#00009d,#0000a6,#0000b1,#0000bc,#0000c4,#0000ca,#0000cc,#0000ca,#0000c3,#0000b8,#0000ad,#0000a4,#0000a0,#0000a1,#0000a3,#0000a3,#0000a1,#0000a0,#0000a3,#0000ac,#0000b8,#0000c5,#0000ce,#0000d4,#0000db,#0000e9,#0000fe,#0017ff,#0027ff,#0027ff,#0018ff,#0002ff,#0000ec,#0000de,#0000d5,#0000cd,#0000c3,#0000b6,#0000aa,#0000a2,#00009f,#0000a0,#0000a2,#0000a4,#0000a4,#0000a4,#0000a3,#0000a3)"></i><i style="background:linear-gradient(90deg,#0000a3,#0000a3,#0000a4,#0000a5,#0000a4,#0000a1,#00009d,#00009d,#0000a6,#0000b9,#0000d0,#0000e5,#0000f3,#0000f7,#0000f2,#0000e4,#0000ce,#0000b6,#0000a5,#00009e,#00009f,#0000a2,#0000a3,#0000a0,#00009e,#0000a2,#0000b1,#0000c6,#0000de,#0000f5,#0013ff,#0042ff,#0085ff,#00c5ff,#00dcff,#00bcff,#007fff,#0049ff,#0027ff,#000dff,#0000ed,#0000ca,#0000ab,#000099,#000096,#00009c,#0000a6,#0000b1,#0000bc,#0000c5,#0000ca,#0000cc,#0000ca,#0000c3,#0000b9,#0000ad,#0000a4,#0000a0,#0000a1,#0000a3,#0000a3,#0000a1,#0000a0,#0000a3,#0000ab,#0000b8,#0000c4,#0000cd,#0000d3,#0000db,#0000e9,#0002ff,#001cff,#002eff,#002dff,#001cff,#0003ff,#0000eb,#0000dc,#0000d3,#0000cc,#0000c2,#0000b6,#0000aa,#0000a2,#00009f,#0000a0,#0000a2,#0000a4,#0000a4,#0000a4,#0000a3,#0000a3)"></i><i style="background:linear-gradient(90deg,#0000a3,#0000a3,#0000a4,#0000a5,#0000a4,#0000a0,#00009d,#00009d,#0000a6,#0000b9,#0000d1,#0000e7,#0000f5,#0000fa,#0000f4,#0000e5,#0000cf,#0000b7,#0000a5,#00009e,#00009f,#0000a2,#0000a3,#0000a0,#00009e,#0000a3,#0000b2,#0000c8,#0000e1,#0000fc,#0020ff,#0058ff,#00a7ff,#00f0ff,#0bfff4,#00e2ff,#0098ff,#0058ff,#0030ff,#0013ff,#0000f1,#0000cc,#0000ac,#000099,#000095,#00009b,#0000a5,#0000b1,#0000bc,#0000c5,#0000cb,#0000ce,#0000cc,#0000c5,#0000ba,#0000ae,#0000a4,#0000a0,#0000a1,#0000a3,#0000a3,#0000a2,#0000a1,#0000a3,#0000aa,#0000b5,#0000c1,#0000ca,#0000d1,#0000db,#0000eb,#0005ff,#0020ff,#0031ff,#0030ff,#001dff,#0002ff,#0000e8,#0000d9,#0000d0,#0000c9,#0000c0,#0000b5,#0000aa,#0000a2,#0000a0,#0000a1,#0000a3,#0000a4,#0000a4,#0000a4,#0000a3,#0000a3)"></i><i style="background:linear-gradient(90deg,#0000a3,#0000a3,#0000a5,#0000a5,#0000a4,#0000a0,#00009c,#00009d,#0000a6,#0000ba,#0000d3,#0000ea,#0000f9,#0000fd,#0000f8,#0000e8,#0000d1,#0000b9,#0000a6,#00009e,#00009e,#0000a2,#0000a3,#0000a1,#0000a0,#0000a4,#0000b0,#0000c4,#0000db,#0000f7,#001eff,#005aff,#00acff,#00f7ff,#11ffee,#00e6ff,#0098ff,#0053ff,#0027ff,#0008ff,#0000e8,#0000c8,#0000ab,#00009a,#000096,#00009a,#0000a4,#0000b0,#0000bb,#0000c6,#0000cd,#0000d0,#0000ce,#0000c7,#0000bc,#0000af,#0000a5,#0000a0,#0000a1,#0000a2,#0000a3,#0000a2,#0000a1,#0000a3,#0000a8,#0000b1,#0000bb,#0000c4,#0000ce,#0000db,#0000ee,#0009ff,#0022ff,#0031ff,#002eff,#001aff,#0000fd,#0000e4,#0000d4,#0000cb,#0000c4,#0000bc,#0000b3,#0000aa,#0000a3,#0000a1,#0000a2,#0000a3,#0000a4,#0000a4,#0000a4,#0000a3,#0000a3)"></i><i style="background:linear-gradient(90deg,#0000a3,#0000a3,#0000a5,#0000a5,#0000a4,#0000a0,#00009c,#00009d,#0000a6,#0000bb,#0000d5,#0000ed,#0000fc,#0001ff,#0000fb,#0000eb,#0000d3,#0000ba,#0000a7,#00009e,#00009e,#0000a1,#0000a4,#0000a3,#0000a2,#0000a5,#0000ad,#0000bb,#0000cf,#0000e8,#000fff,#0049ff,#0096ff,#00daff,#00f0ff,#00c9ff,#0080ff,#003dff,#0010ff,#0000f2,#0000d8,#0000bf,#0000a9,#00009c,#000098,#00009b,#0000a3,#0000ae,#0000bb,#0000c6,#0000ce,#0000d2,#0000d1,#0000c9,#0000bd,#0000b0,#0000a5,#0000a0,#0000a0,#0000a2,#0000a4,#0000a3,#0000a3,#0000a3,#0000a6,#0000ab,#0000b3,#0000bd,#0000cb,#0000dc,#0000f1,#000bff,#0021ff,#002dff,#0029ff,#0014ff,#0000f7,#0000de,#0000cd,#0000c4,#0000bd,#0000b7,#0000af,#0000a9,#0000a5,#0000a3,#0000a3,#0000a4,#0000a4,#0000a4,#0000a4,#0000a3,#0000a3)"></i><i style="background:linear-gradient(90deg,#0000a3,#0000a3,#0000a5,#0000a5,#0000a4,#0000a0,#00009c,#00009c,#0000a7,#0000bc,#0000d6,#0000ee,#0000fd,#0003ff,#0000fc,#0000ec,#0000d4,#0000bb,#0000a7,#00009e,#00009d,#0000a1,#0000a4,#0000a5,#0000a4,#0000a5,#0000a9,#0000b1,#0000be,#0000d5,#0000f8,#002cff,#006dff,#00a4ff,#00b5ff,#0095ff,#0057ff,#001cff,#0000f1,#0000d6,#0000c3,#0000b3,#0000a7,#00009f,#00009b,#00009c,#0000a2,#0000ad,#0000ba,#0000c6,#0000cf,#0000d3,#0000d2,#0000ca,#0000be,#0000b1,#0000a6,#0000a0,#0000a0,#0000a2,#0000a4,#0000a4,#0000a4,#0000a3,#0000a3,#0000a5,#0000ab,#0000b6,#0000c6,#0000db,#0000f2,#000bff,#001eff,#0027ff,#0020ff,#000bff,#0000ef,#0000d7,#0000c6,#0000bc,#0000b5,#0000b0,#0000ab,#0000a8,#0000a5,#0000a4,#0000a4,#0000a4,#0000a4,#0000a4,#0000a4,#0000a3,#0000a3)"></i><i style="background:linear-gradient(90deg,#0000a3,#0000a3,#0000a5,#0000a5,#0000a4,#0000a0,#00009c,#00009d,#0000a6,#0000bb,#0000d5,#0000ec,#0000fb,#0001ff,#0000fa,#0000eb,#0000d3,#0000ba,#0000a7,#00009d,#00009d,#0000a1,#0000a4,#0000a6,#0000a6,#0000a5,#0000a4,#0000a6,#0000ad,#0000bf,#0000de,#000aff,#003dff,#0066ff,#0072ff,#005aff,#002aff,#0000f7,#0000d1,#0000ba,#0000ae,#0000a8,#0000a5,#0000a1,#00009e,#00009e,#0000a2,#0000ad,#0000ba,#0000c6,#0000cf,#0000d2,#0000d0,#0000c9,#0000bd,#0000b0,#0000a5,#0000a0,#0000a0,#0000a2,#0000a4,#0000a5,#0000a5,#0000a3,#0000a1,#0000a0,#0000a4,#0000af,#0000c1,#0000d8,#0000f1,#0008ff,#0018ff,#001dff,#0015ff,#0001ff,#0000e6,#0000ce,#0000be,#0000b3,#0000ad,#0000a9,#0000a7,#0000a6,#0000a5,#0000a5,#0000a4,#0000a4,#0000a4,#0000a4,#0000a3,#0000a3,#0000a3)"></i><i style="background:linear-gradient(90deg,#0000a3,#0000a3,#0000a4,#0000a5,#0000a4,#0000a0,#00009d,#00009d,#0000a6,#0000b9,#0000d1,#0000e6,#0000f4,#0000f9,#0000f3,#0000e5,#0000cf,#0000b8,#0000a5,#00009d,#00009c,#0000a0,#0000a5,#0000a7,#0000a6,#0000a3,#00009f,#00009c,#00009e,#0000ac,#0000c6,#0000e8,#000fff,#002dff,#0035ff,#0024ff,#0000ff,#0000d7,#0000b7,#0000a3,#00009d,#00009e,#0000a2,#0000a3,#0000a2,#0000a1,#0000a4,#0000ae,#0000b9,#0000c5,#0000cc,#0000ce,#0000cb,#0000c4,#0000b9,#0000ae,#0000a4,#0000a0,#0000a0,#0000a2,#0000a4,#0000a5,#0000a5,#0000a3,#0000a0,#00009d,#00009f,#0000a9,#0000bc,#0000d3,#0000ea,#0000ff,#000dff,#0011ff,#0008ff,#0000f4,#0000dc,#0000c5,#0000b4,#0000aa,#0000a4,#0000a2,#0000a1,#0000a2,#0000a3,#0000a4,#0000a3,#0000a3,#0000a3,#0000a3,#0000a3,#0000a3,#0000a3)"></i><i style="background:linear-gradient(90deg,#0000a3,#0000a3,#0000a4,#0000a5,#0000a4,#0000a1,#00009e,#00009e,#0000a6,#0000b6,#0000c9,#0000db,#0000e7,#0000eb,#0000e7,#0000da,#0000c7,#0000b2,#0000a2,#00009b,#00009c,#0000a0,#0000a5,#0000a6,#0000a5,#0000a1,#00009a,#000094,#000094,#00009e,#0000b2,#0000cd,#0000e8,#0000fd,#0004ff,#0000f7,#0000de,#0000c0,#0000a5,#000096,#000093,#000099,#0000a0,#0000a4,#0000a5,#0000a5,#0000a9,#0000b0,#0000ba,#0000c2,#0000c6,#0000c6,#0000c2,#0000bb,#0000b2,#0000a9,#0000a3,#00009f,#0000a0,#0000a2,#0000a4,#0000a5,#0000a6,#0000a4,#0000a0,#00009c,#00009d,#0000a5,#0000b5,#0000ca,#0000df,#0000f2,#0000ff,#0003ff,#0000fa,#0000e8,#0000d0,#0000bb,#0000ab,#0000a1,#00009c,#00009b,#00009c,#00009e,#0000a0,#0000a1,#0000a1,#0000a1,#0000a2,#0000a2,#0000a3,#0000a3,#0000a3)"></i><i style="background:linear-gradient(90deg,#0000a3,#0000a3,#0000a4,#0000a4,#0000a4,#0000a1,#00009f,#00009f,#0000a5,#0000b1,#0000c0,#0000cd,#0000d7,#0000da,#0000d6,#0000cc,#0000bc,#0000ab,#00009e,#00009a,#00009c,#0000a1,#0000a4,#0000a5,#0000a3,#00009e,#000097,#000090,#00008f,#000095,#0000a4,#0000b8,#0000cb,#0000d9,#0000dd,#0000d6,#0000c6,#0000b0,#00009d,#000091,#000090,#000096,#00009f,#0000a5,#0000a8,#0000ab,#0000af,#0000b5,#0000bb,#0000c0,#0000c0,#0000bd,#0000b8,#0000b1,#0000aa,#0000a5,#0000a1,#00009f,#0000a0,#0000a2,#0000a4,#0000a5,#0000a5,#0000a4,#0000a0,#00009d,#00009d,#0000a3,#0000af,#0000be,#0000d0,#0000e1,#0000ee,#0000f3,#0000ed,#0000db,#0000c6,#0000b1,#0000a3,#00009a,#000096,#000096,#000098,#00009b,#00009d,#00009e,#00009f,#00009f,#0000a0,#0000a1,#0000a3,#0000a3,#0000a4)"></i><i style="background:linear-gradient(90deg,#0000a3,#0000a3,#0000a3,#0000a4,#0000a3,#0000a2,#0000a1,#0000a1,#0000a4,#0000ac,#0000b5,#0000be,#0000c4,#0000c7,#0000c5,#0000bd,#0000b0,#0000a3,#00009a,#000098,#00009b,#0000a1,#0000a4,#0000a4,#0000a1,#00009c,#000096,#000091,#00008f,#000093,#00009d,#0000a9,#0000b5,#0000be,#0000c1,#0000be,#0000b4,#0000a7,#00009b,#000093,#000092,#000097,#00009e,#0000a5,#0000ab,#0000b1,#0000b6,#0000bb,#0000bf,#0000bf,#0000bc,#0000b5,#0000ae,#0000a7,#0000a3,#0000a0,#00009f,#0000a0,#0000a1,#0000a2,#0000a3,#0000a4,#0000a4,#0000a4,#0000a2,#0000a0,#00009f,#0000a2,#0000a8,#0000b3,#0000c0,#0000d0,#0000dd,#0000e4,#0000df,#0000d0,#0000bc,#0000a9,#00009d,#000096,#000094,#000094,#000096,#000099,#00009b,#00009c,#00009d,#00009e,#00009f,#0000a1,#0000a2,#0000a3,#0000a4)"></i><i style="background:linear-gradient(90deg,#0000a3,#0000a3,#0000a3,#0000a3,#0000a3,#0000a3,#0000a2,#0000a2,#0000a4,#0000a7,#0000ab,#0000b0,#0000b3,#0000b5,#0000b4,#0000ae,#0000a5,#00009c,#000096,#000096,#00009b,#0000a1,#0000a4,#0000a4,#0000a1,#00009d,#000099,#000096,#000095,#000097,#00009c,#0000a2,#0000a8,#0000ac,#0000ae,#0000ad,#0000a9,#0000a3,#00009d,#000099,#000098,#00009a,#00009f,#0000a6,#0000af,#0000b7,#0000be,#0000c3,#0000c4,#0000c1,#0000ba,#0000b1,#0000a8,#0000a1,#00009e,#00009e,#0000a0,#0000a1,#0000a2,#0000a3,#0000a3,#0000a4,#0000a4,#0000a3,#0000a3,#0000a2,#0000a2,#0000a2,#0000a3,#0000a8,#0000b1,#0000be,#0000cd,#0000d5,#0000d2,#0000c5,#0000b4,#0000a4,#00009b,#000097,#000097,#000098,#000099,#00009b,#00009c,#00009d,#00009e,#00009f,#0000a0,#0000a1,#0000a3,#0000a3,#0000a4)"></i><i style="background:linear-gradient(90deg,#0000a3,#0000a3,#0000a3,#0000a3,#0000a3,#0000a3,#0000a3,#0000a3,#0000a3,#0000a3,#0000a3,#0000a4,#0000a6,#0000a7,#0000a7,#0000a3,#00009c,#000096,#000092,#000094,#00009a,#0000a0,#0000a4,#0000a5,#0000a4,#0000a2,#0000a1,#0000a0,#0000a1,#0000a1,#0000a2,#0000a3,#0000a3,#0000a4,#0000a4,#0000a4,#0000a4,#0000a4,#0000a3,#0000a2,#0000a0,#00009f,#0000a1,#0000a8,#0000b3,#0000be,#0000c7,#0000cc,#0000cc,#0000c7,#0000be,#0000b3,#0000a8,#0000a1,#00009f,#0000a0,#0000a2,#0000a4,#0000a4,#0000a3,#0000a3,#0000a3,#0000a3,#0000a3,#0000a4,#0000a4,#0000a4,#0000a2,#0000a0,#00009f,#0000a5,#0000b0,#0000be,#0000c7,#0000c7,#0000bc,#0000ae,#0000a2,#00009e,#00009e,#0000a0,#0000a2,#0000a2,#0000a2,#0000a2,#0000a2,#0000a2,#0000a2,#0000a3,#0000a3,#0000a3,#0000a3,#0000a3)"></i><i style="background:linear-gradient(90deg,#0000a4,#0000a4,#0000a3,#0000a3,#0000a3,#0000a4,#0000a4,#0000a4,#0000a3,#0000a1,#00009f,#00009e,#00009e,#00009f,#00009f,#00009c,#000097,#000092,#00008f,#000092,#000098,#00009f,#0000a5,#0000a8,#0000aa,#0000ac,#0000af,#0000b1,#0000b3,#0000b2,#0000b0,#0000ac,#0000a8,#0000a5,#0000a3,#0000a3,#0000a5,#0000a8,#0000aa,#0000ab,#0000a8,#0000a5,#0000a5,#0000ac,#0000b7,#0000c5,#0000d0,#0000d6,#0000d7,#0000d3,#0000ca,#0000bd,#0000b1,#0000a9,#0000a6,#0000a7,#0000a8,#0000a8,#0000a6,#0000a4,#0000a3,#0000a2,#0000a2,#0000a3,#0000a4,#0000a5,#0000a5,#0000a2,#00009e,#00009b,#00009e,#0000a7,#0000b3,#0000bc,#0000bd,#0000b5,#0000ac,#0000a5,#0000a6,#0000ac,#0000b1,#0000b4,#0000b3,#0000b0,#0000ad,#0000ab,#0000aa,#0000a9,#0000a8,#0000a6,#0000a4,#0000a3,#0000a3)"></i><i style="background:linear-gradient(90deg,#0000a4,#0000a4,#0000a4,#0000a4,#0000a4,#0000a4,#0000a4,#0000a4,#0000a3,#0000a0,#00009d,#00009c,#00009c,#00009d,#00009d,#00009a,#000095,#000090,#00008e,#000090,#000096,#00009e,#0000a6,#0000ad,#0000b4,#0000ba,#0000c0,#0000c6,#0000c9,#0000c8,#0000c3,#0000bd,#0000b5,#0000af,#0000aa,#0000a9,#0000aa,#0000ae,#0000b2,#0000b3,#0000b0,#0000ac,#0000ab,#0000b1,#0000bd,#0000cb,#0000d8,#0000e1,#0000e4,#0000e2,#0000da,#0000ce,#0000c1,#0000b8,#0000b3,#0000b1,#0000af,#0000ad,#0000a9,#0000a6,#0000a3,#0000a2,#0000a2,#0000a2,#0000a4,#0000a5,#0000a5,#0000a2,#00009e,#00009a,#00009b,#0000a2,#0000ac,#0000b3,#0000b4,#0000b0,#0000ac,#0000ac,#0000b3,#0000be,#0000c8,#0000cb,#0000c8,#0000c2,#0000bc,#0000b8,#0000b6,#0000b3,#0000af,#0000aa,#0000a6,#0000a3,#0000a2)"></i><i style="background:linear-gradient(90deg,#0000a4,#0000a4,#0000a4,#0000a4,#0000a4,#0000a4,#0000a4,#0000a4,#0000a2,#0000a0,#00009e,#00009d,#00009d,#00009e,#00009e,#00009b,#000096,#000091,#00008e,#00008f,#000094,#00009d,#0000a7,#0000b2,#0000be,#0000ca,#0000d4,#0000dc,#0000e0,#0000df,#0000d9,#0000d0,#0000c6,#0000bd,#0000b6,#0000b2,#0000b3,#0000b6,#0000ba,#0000bb,#0000b7,#0000b3,#0000b2,#0000b8,#0000c3,#0000d2,#0000e0,#0000eb,#0000f2,#0000f2,#0000ec,#0000e1,#0000d4,#0000c9,#0000c1,#0000bc,#0000b8,#0000b2,#0000ac,#0000a7,#0000a3,#0000a1,#0000a1,#0000a2,#0000a4,#0000a5,#0000a4,#0000a2,#00009f,#00009c,#00009c,#0000a0,#0000a7,#0000ac,#0000ae,#0000ad,#0000ae,#0000b5,#0000c3,#0000d3,#0000e0,#0000e4,#0000df,#0000d6,#0000cc,#0000c6,#0000c1,#0000bd,#0000b6,#0000ae,#0000a7,#0000a2,#0000a1)"></i><i style="background:linear-gradient(90deg,#0000a4,#0000a4,#0000a4,#0000a4,#0000a4,#0000a4,#0000a4,#0000a3,#0000a3,#0000a1,#0000a0,#00009f,#0000a0,#0000a1,#0000a1,#00009e,#000098,#000093,#00008f,#00008f,#000093,#00009c,#0000a8,#0000b8,#0000c9,#0000d9,#0000e7,#0000f1,#0000f7,#0000f6,#0000ef,#0000e4,#0000d8,#0000cc,#0000c3,#0000bd,#0000bc,#0000bd,#0000c0,#0000c1,#0000be,#0000bb,#0000ba,#0000bf,#0000ca,#0000d8,#0000e6,#0000f4,#0000fd,#0002ff,#0000fd,#0000f2,#0000e5,#0000d9,#0000d0,#0000c8,#0000c0,#0000b8,#0000af,#0000a7,#0000a3,#0000a1,#0000a1,#0000a2,#0000a3,#0000a4,#0000a4,#0000a3,#0000a1,#00009f,#00009f,#0000a1,#0000a4,#0000a7,#0000a9,#0000ac,#0000b2,#0000be,#0000d2,#0000e7,#0000f7,#0000fb,#0000f4,#0000e8,#0000db,#0000d3,#0000cc,#0000c5,#0000bc,#0000b1,#0000a8,#0000a2,#0000a0)"></i><i style="background:linear-gradient(90deg,#0000a4,#0000a4,#0000a3,#0000a3,#0000a3,#0000a3,#0000a3,#0000a3,#0000a3,#0000a2,#0000a2,#0000a2,#0000a3,#0000a4,#0000a4,#0000a1,#00009c,#000095,#000091,#000090,#000093,#00009b,#0000a9,#0000bc,#0000d2,#0000e6,#0000f7,#0004ff,#000aff,#0009ff,#0001ff,#0000f4,#0000e7,#0000d9,#0000ce,#0000c7,#0000c3,#0000c3,#0000c5,#0000c6,#0000c4,#0000c3,#0000c3,#0000c8,#0000d1,#0000de,#0000ec,#0000fb,#0007ff,#000dff,#000aff,#0000ff,#0000f2,#0000e5,#0000da,#0000d1,#0000c7,#0000bc,#0000b1,#0000a8,#0000a2,#0000a0,#0000a1,#0000a3,#0000a4,#0000a4,#0000a3,#0000a3,#0000a3,#0000a3,#0000a2,#0000a2,#0000a2,#0000a3,#0000a6,#0000ab,#0000b6,#0000c7,#0000de,#0000f6,#0008ff,#000dff,#0004ff,#0000f5,#0000e6,#0000db,#0000d2,#0000c9,#0000bf,#0000b3,#0000a9,#0000a2,#0000a0)"></i><i style="background:linear-gradient(90deg,#0000a2,#0000a2,#0000a2,#0000a2,#0000a3,#0000a3,#0000a3,#0000a3,#0000a4,#0000a4,#0000a4,#0000a4,#0000a5,#0000a6,#0000a6,#0000a4,#00009f,#000099,#000094,#000092,#000094,#00009b,#0000aa,#0000bf,#0000d8,#0000ef,#0003ff,#0010ff,#0016ff,#0015ff,#000cff,#0000fe,#0000f0,#0000e2,#0000d6,#0000cd,#0000c8,#0000c7,#0000c8,#0000c9,#0000c9,#0000c9,#0000cb,#0000d0,#0000d8,#0000e3,#0000f0,#0000fe,#000bff,#0011ff,#000fff,#0005ff,#0000f6,#0000e9,#0000df,#0000d6,#0000cc,#0000bf,#0000b2,#0000a7,#0000a1,#0000a0,#0000a2,#0000a4,#0000a5,#0000a4,#0000a4,#0000a4,#0000a4,#0000a5,#0000a5,#0000a3,#0000a1,#0000a1,#0000a4,#0000ac,#0000b9,#0000cd,#0000e6,#0000fe,#0010ff,#0014ff,#000bff,#0000fa,#0000ea,#0000dd,#0000d3,#0000c9,#0000be,#0000b2,#0000a8,#0000a2,#0000a0)"></i><i style="background:linear-gradient(90deg,#0000a1,#0000a1,#0000a1,#0000a1,#0000a1,#0000a2,#0000a3,#0000a4,#0000a4,#0000a4,#0000a5,#0000a5,#0000a6,#0000a7,#0000a7,#0000a5,#0000a1,#00009d,#000098,#000095,#000096,#00009c,#0000ab,#0000c1,#0000db,#0000f3,#0008ff,#0016ff,#001cff,#001aff,#0010ff,#0003ff,#0000f3,#0000e4,#0000d8,#0000cf,#0000ca,#0000c8,#0000c8,#0000ca,#0000cc,#0000cf,#0000d4,#0000d9,#0000e0,#0000e8,#0000f3,#0000ff,#000bff,#0010ff,#000cff,#0001ff,#0000f2,#0000e6,#0000de,#0000d6,#0000ce,#0000c1,#0000b3,#0000a7,#0000a0,#00009f,#0000a2,#0000a5,#0000a6,#0000a6,#0000a5,#0000a5,#0000a6,#0000a6,#0000a6,#0000a3,#0000a1,#0000a0,#0000a4,#0000ad,#0000bc,#0000d0,#0000e8,#0000ff,#000fff,#0012ff,#0009ff,#0000f8,#0000e7,#0000d9,#0000ce,#0000c3,#0000b9,#0000af,#0000a7,#0000a2,#0000a1)"></i><i style="background:linear-gradient(90deg,#0000a0,#0000a0,#0000a0,#0000a0,#0000a1,#0000a1,#0000a3,#0000a4,#0000a5,#0000a5,#0000a5,#0000a5,#0000a6,#0000a6,#0000a6,#0000a6,#0000a3,#0000a0,#00009d,#000099,#000098,#00009d,#0000ab,#0000c1,#0000db,#0000f4,#0009ff,#0016ff,#001cff,#001aff,#0010ff,#0002ff,#0000f2,#0000e4,#0000d8,#0000cf,#0000c9,#0000c6,#0000c7,#0000ca,#0000cf,#0000d5,#0000db,#0000e1,#0000e6,#0000ec,#0000f4,#0000fd,#0006ff,#0009ff,#0003ff,#0000f7,#0000e9,#0000df,#0000d9,#0000d4,#0000cd,#0000c2,#0000b3,#0000a6,#00009f,#00009f,#0000a2,#0000a6,#0000a8,#0000a7,#0000a6,#0000a5,#0000a6,#0000a7,#0000a6,#0000a3,#0000a0,#0000a0,#0000a4,#0000ae,#0000be,#0000d1,#0000e6,#0000fa,#0008ff,#0009ff,#0000ff,#0000f0,#0000e0,#0000d1,#0000c5,#0000ba,#0000b2,#0000ab,#0000a6,#0000a3,#0000a2)"></i><i style="background:linear-gradient(90deg,#0000a0,#0000a0,#0000a0,#0000a0,#0000a1,#0000a1,#0000a3,#0000a4,#0000a5,#0000a5,#0000a5,#0000a4,#0000a5,#0000a5,#0000a5,#0000a5,#0000a5,#0000a3,#0000a0,#00009d,#00009b,#00009e,#0000aa,#0000bf,#0000d9,#0000f1,#0006ff,#0013ff,#0019ff,#0016ff,#000cff,#0000fe,#0000ef,#0000e1,#0000d6,#0000cd,#0000c7,#0000c4,#0000c5,#0000c9,#0000d0,#0000d9,#0000e1,#0000e7,#0000eb,#0000ee,#0000f2,#0000f9,#0000fe,#0000fe,#0000f7,#0000eb,#0000de,#0000d5,#0000d1,#0000d0,#0000cc,#0000c2,#0000b4,#0000a6,#00009f,#00009f,#0000a2,#0000a6,#0000a8,#0000a7,#0000a6,#0000a5,#0000a6,#0000a6,#0000a5,#0000a3,#0000a0,#0000a0,#0000a5,#0000af,#0000be,#0000cf,#0000e1,#0000f2,#0000fc,#0000fc,#0000f3,#0000e5,#0000d6,#0000c7,#0000bb,#0000b1,#0000aa,#0000a6,#0000a4,#0000a3,#0000a3)"></i><i style="background:linear-gradient(90deg,#0000a1,#0000a1,#0000a1,#0000a2,#0000a2,#0000a2,#0000a3,#0000a4,#0000a4,#0000a4,#0000a4,#0000a4,#0000a3,#0000a3,#0000a4,#0000a4,#0000a5,#0000a5,#0000a3,#00009f,#00009c,#00009e,#0000a9,#0000bd,#0000d5,#0000ec,#0000ff,#000dff,#0013ff,#0010ff,#0008ff,#0000fa,#0000eb,#0000de,#0000d3,#0000cb,#0000c5,#0000c2,#0000c3,#0000c8,#0000d2,#0000dd,#0000e6,#0000ec,#0000ed,#0000ed,#0000ee,#0000f1,#0000f4,#0000f3,#0000eb,#0000de,#0000d2,#0000cb,#0000ca,#0000cb,#0000ca,#0000c1,#0000b5,#0000a8,#0000a0,#00009f,#0000a2,#0000a5,#0000a6,#0000a6,#0000a5,#0000a4,#0000a5,#0000a5,#0000a4,#0000a2,#0000a1,#0000a1,#0000a6,#0000af,#0000bc,#0000cb,#0000db,#0000e8,#0000f0,#0000ef,#0000e6,#0000d9,#0000ca,#0000bc,#0000b1,#0000a8,#0000a3,#0000a2,#0000a3,#0000a3,#0000a4)"></i><i style="background:linear-gradient(90deg,#0000a6,#0000a6,#0000a6,#0000a5,#0000a5,#0000a4,#0000a3,#0000a3,#0000a2,#0000a2,#0000a3,#0000a3,#0000a3,#0000a2,#0000a2,#0000a3,#0000a4,#0000a5,#0000a4,#0000a0,#00009d,#00009e,#0000a7,#0000b9,#0000d0,#0000e6,#0000f8,#0006ff,#000cff,#000bff,#0003ff,#0000f7,#0000ea,#0000dd,#0000d2,#0000c9,#0000c3,#0000c0,#0000c1,#0000c8,#0000d3,#0000e0,#0000ea,#0000ee,#0000ed,#0000e9,#0000e7,#0000e8,#0000e9,#0000e7,#0000df,#0000d4,#0000c9,#0000c4,#0000c4,#0000c7,#0000c7,#0000c1,#0000b7,#0000ab,#0000a3,#0000a0,#0000a0,#0000a1,#0000a2,#0000a2,#0000a2,#0000a2,#0000a2,#0000a3,#0000a2,#0000a1,#0000a1,#0000a2,#0000a6,#0000ae,#0000b8,#0000c5,#0000d3,#0000de,#0000e5,#0000e3,#0000da,#0000cd,#0000bf,#0000b3,#0000a9,#0000a2,#00009f,#0000a0,#0000a2,#0000a4,#0000a4)"></i><i style="background:linear-gradient(90deg,#0000ac,#0000ac,#0000ac,#0000ac,#0000aa,#0000a8,#0000a5,#0000a2,#0000a0,#0000a0,#0000a2,#0000a3,#0000a2,#0000a1,#0000a1,#0000a1,#0000a2,#0000a3,#0000a3,#0000a0,#00009d,#00009d,#0000a5,#0000b5,#0000ca,#0000de,#0000f0,#0000fc,#0004ff,#0005ff,#0000ff,#0000f6,#0000ea,#0000de,#0000d3,#0000c9,#0000c2,#0000bf,#0000c1,#0000c8,#0000d4,#0000e2,#0000ec,#0000ee,#0000ea,#0000e3,#0000de,#0000dd,#0000de,#0000dc,#0000d6,#0000cd,#0000c5,#0000c0,#0000c1,#0000c4,#0000c5,#0000c1,#0000ba,#0000b1,#0000a8,#0000a2,#00009e,#00009c,#00009c,#00009d,#00009e,#00009f,#0000a0,#0000a0,#0000a0,#0000a1,#0000a1,#0000a3,#0000a6,#0000ab,#0000b3,#0000be,#0000ca,#0000d6,#0000dd,#0000db,#0000d1,#0000c3,#0000b6,#0000ab,#0000a3,#00009f,#00009e,#00009f,#0000a2,#0000a4,#0000a4)"></i><i style="background:linear-gradient(90deg,#0000b4,#0000b4,#0000b4,#0000b3,#0000b1,#0000ad,#0000a7,#0000a1,#00009e,#00009f,#0000a1,#0000a2,#0000a3,#0000a1,#0000a0,#0000a0,#0000a1,#0000a2,#0000a2,#00009f,#00009c,#00009d,#0000a3,#0000b2,#0000c4,#0000d6,#0000e7,#0000f4,#0000fc,#0000ff,#0000fc,#0000f5,#0000eb,#0000e0,#0000d4,#0000c9,#0000c2,#0000bf,#0000c1,#0000c8,#0000d5,#0000e3,#0000ec,#0000ed,#0000e6,#0000dc,#0000d5,#0000d3,#0000d3,#0000d3,#0000d0,#0000c9,#0000c3,#0000c0,#0000c0,#0000c2,#0000c4,#0000c2,#0000be,#0000b7,#0000af,#0000a6,#00009e,#000099,#000097,#000098,#00009a,#00009c,#00009e,#00009e,#00009f,#0000a0,#0000a1,#0000a3,#0000a5,#0000a8,#0000ad,#0000b6,#0000c2,#0000cf,#0000d6,#0000d4,#0000c9,#0000bb,#0000ae,#0000a5,#0000a1,#00009f,#00009f,#0000a0,#0000a2,#0000a3,#0000a4)"></i><i style="background:linear-gradient(90deg,#0000bc,#0000bc,#0000bd,#0000bc,#0000b9,#0000b3,#0000aa,#0000a2,#00009e,#00009e,#0000a0,#0000a2,#0000a3,#0000a2,#0000a0,#00009f,#0000a0,#0000a1,#0000a1,#00009f,#00009c,#00009d,#0000a3,#0000af,#0000be,#0000cf,#0000de,#0000eb,#0000f4,#0000f9,#0000f9,#0000f5,#0000ed,#0000e1,#0000d5,#0000ca,#0000c2,#0000bf,#0000c1,#0000c9,#0000d6,#0000e3,#0000ec,#0000eb,#0000e1,#0000d6,#0000cd,#0000ca,#0000cb,#0000cd,#0000cc,#0000c9,#0000c5,#0000c2,#0000c2,#0000c3,#0000c4,#0000c5,#0000c3,#0000bf,#0000b7,#0000ac,#0000a0,#000098,#000095,#000096,#000099,#00009c,#00009d,#00009e,#00009f,#0000a1,#0000a2,#0000a3,#0000a4,#0000a4,#0000a7,#0000ae,#0000bb,#0000c8,#0000d0,#0000ce,#0000c3,#0000b5,#0000a8,#0000a1,#00009f,#0000a0,#0000a1,#0000a2,#0000a3,#0000a3,#0000a3)"></i><i style="background:linear-gradient(90deg,#0000c3,#0000c3,#0000c5,#0000c5,#0000c2,#0000bb,#0000b0,#0000a6,#00009f,#00009e,#0000a0,#0000a3,#0000a4,#0000a3,#0000a2,#0000a1,#0000a1,#0000a2,#0000a1,#0000a0,#00009e,#00009f,#0000a4,#0000ae,#0000bb,#0000c9,#0000d7,#0000e3,#0000ec,#0000f2,#0000f4,#0000f2,#0000ec,#0000e2,#0000d6,#0000cb,#0000c2,#0000bf,#0000c1,#0000c9,#0000d6,#0000e3,#0000eb,#0000e9,#0000df,#0000d2,#0000c8,#0000c5,#0000c7,#0000ca,#0000cb,#0000ca,#0000c8,#0000c7,#0000c6,#0000c6,#0000c7,#0000c8,#0000c9,#0000c7,#0000c0,#0000b4,#0000a7,#00009d,#000099,#00009a,#00009d,#00009f,#0000a0,#0000a0,#0000a1,#0000a2,#0000a3,#0000a4,#0000a2,#0000a1,#0000a1,#0000a7,#0000b4,#0000c1,#0000ca,#0000c9,#0000be,#0000af,#0000a4,#00009f,#00009f,#0000a1,#0000a3,#0000a4,#0000a3,#0000a3,#0000a3)"></i><i style="background:linear-gradient(90deg,#0000c7,#0000c8,#0000cb,#0000cd,#0000cc,#0000c4,#0000b9,#0000ad,#0000a4,#0000a0,#0000a1,#0000a3,#0000a4,#0000a5,#0000a5,#0000a5,#0000a5,#0000a5,#0000a5,#0000a3,#0000a2,#0000a3,#0000a7,#0000af,#0000b9,#0000c5,#0000d1,#0000db,#0000e4,#0000eb,#0000ee,#0000ee,#0000e9,#0000e0,#0000d6,#0000cb,#0000c3,#0000bf,#0000c1,#0000c8,#0000d5,#0000e2,#0000eb,#0000e9,#0000df,#0000d2,#0000c8,#0000c5,#0000c7,#0000ca,#0000cd,#0000ce,#0000ce,#0000cd,#0000cc,#0000cc,#0000cc,#0000ce,#0000d0,#0000d0,#0000ca,#0000c0,#0000b4,#0000aa,#0000a6,#0000a5,#0000a6,#0000a7,#0000a7,#0000a6,#0000a5,#0000a5,#0000a5,#0000a4,#0000a2,#00009f,#00009e,#0000a3,#0000ae,#0000bb,#0000c4,#0000c2,#0000b8,#0000ab,#0000a1,#00009e,#0000a0,#0000a3,#0000a5,#0000a5,#0000a4,#0000a3,#0000a3)"></i><i style="background:linear-gradient(90deg,#0000c9,#0000cb,#0000d0,#0000d5,#0000d5,#0000cf,#0000c4,#0000b6,#0000ab,#0000a5,#0000a3,#0000a3,#0000a5,#0000a7,#0000a9,#0000ab,#0000ac,#0000ac,#0000ab,#0000aa,#0000a9,#0000a9,#0000ad,#0000b3,#0000ba,#0000c3,#0000cc,#0000d5,#0000dd,#0000e2,#0000e6,#0000e6,#0000e3,#0000dd,#0000d4,#0000cb,#0000c3,#0000bf,#0000c0,#0000c7,#0000d3,#0000e1,#0000eb,#0000ea,#0000e2,#0000d7,#0000ce,#0000cb,#0000cc,#0000cf,#0000d2,#0000d4,#0000d4,#0000d4,#0000d4,#0000d4,#0000d5,#0000d6,#0000d8,#0000d8,#0000d5,#0000cf,#0000c6,#0000bf,#0000ba,#0000b8,#0000b6,#0000b4,#0000b1,#0000ae,#0000ab,#0000a9,#0000a7,#0000a5,#0000a1,#00009e,#00009d,#0000a1,#0000aa,#0000b5,#0000bc,#0000bb,#0000b3,#0000a8,#0000a0,#00009e,#0000a1,#0000a4,#0000a5,#0000a5,#0000a4,#0000a3,#0000a3)"></i><i style="background:linear-gradient(90deg,#0000c8,#0000cb,#0000d3,#0000da,#0000de,#0000da,#0000cf,#0000c1,#0000b4,#0000aa,#0000a5,#0000a3,#0000a5,#0000aa,#0000af,#0000b3,#0000b4,#0000b4,#0000b3,#0000b2,#0000b1,#0000b2,#0000b4,#0000b8,#0000bd,#0000c3,#0000ca,#0000d0,#0000d5,#0000da,#0000dd,#0000dd,#0000db,#0000d7,#0000d1,#0000ca,#0000c4,#0000c0,#0000c0,#0000c5,#0000d2,#0000e0,#0000eb,#0000ed,#0000e7,#0000de,#0000d7,#0000d4,#0000d5,#0000d7,#0000d9,#0000db,#0000dc,#0000dd,#0000de,#0000de,#0000df,#0000e0,#0000e1,#0000e2,#0000e1,#0000df,#0000dc,#0000d8,#0000d4,#0000cf,#0000c9,#0000c4,#0000be,#0000b8,#0000b3,#0000ae,#0000a9,#0000a5,#0000a1,#00009e,#00009d,#0000a0,#0000a7,#0000af,#0000b5,#0000b4,#0000ae,#0000a6,#0000a0,#00009f,#0000a1,#0000a4,#0000a5,#0000a5,#0000a4,#0000a3,#0000a3)"></i><i style="background:linear-gradient(90deg,#0000c6,#0000cb,#0000d4,#0000de,#0000e5,#0000e3,#0000d9,#0000cb,#0000bc,#0000af,#0000a7,#0000a3,#0000a6,#0000ad,#0000b5,#0000bb,#0000bd,#0000bc,#0000bb,#0000ba,#0000b9,#0000ba,#0000bb,#0000be,#0000c1,#0000c4,#0000c8,#0000cc,#0000cf,#0000d2,#0000d3,#0000d4,#0000d3,#0000d1,#0000ce,#0000c9,#0000c5,#0000c0,#0000c0,#0000c5,#0000d1,#0000df,#0000eb,#0000ef,#0000ed,#0000e7,#0000e2,#0000e0,#0000e0,#0000e2,#0000e3,#0000e4,#0000e5,#0000e6,#0000e8,#0000e9,#0000ea,#0000ea,#0000eb,#0000eb,#0000ec,#0000ee,#0000f1,#0000f1,#0000ed,#0000e5,#0000dc,#0000d3,#0000cb,#0000c3,#0000bb,#0000b3,#0000ac,#0000a6,#0000a1,#00009f,#00009f,#0000a1,#0000a6,#0000aa,#0000ad,#0000ad,#0000a9,#0000a4,#0000a1,#0000a1,#0000a2,#0000a4,#0000a5,#0000a4,#0000a4,#0000a3,#0000a3)"></i><i style="background:linear-gradient(90deg,#0000c4,#0000c9,#0000d4,#0000e0,#0000e9,#0000e9,#0000e0,#0000d1,#0000c1,#0000b3,#0000a8,#0000a3,#0000a7,#0000b0,#0000bb,#0000c3,#0000c6,#0000c5,#0000c2,#0000c1,#0000c1,#0000c2,#0000c2,#0000c3,#0000c4,#0000c6,#0000c7,#0000c9,#0000ca,#0000cb,#0000cc,#0000cc,#0000cc,#0000cb,#0000ca,#0000c9,#0000c5,#0000c2,#0000c1,#0000c6,#0000d2,#0000df,#0000ec,#0000f2,#0000f2,#0000ef,#0000ec,#0000ec,#0000ec,#0000ed,#0000ee,#0000ef,#0000ef,#0000f0,#0000f2,#0000f4,#0000f6,#0000f6,#0000f5,#0000f4,#0000f6,#0000fc,#0003ff,#0007ff,#0003ff,#0000f8,#0000eb,#0000df,#0000d5,#0000cc,#0000c2,#0000b8,#0000ae,#0000a6,#0000a1,#00009f,#0000a0,#0000a2,#0000a4,#0000a6,#0000a7,#0000a7,#0000a5,#0000a4,#0000a2,#0000a2,#0000a3,#0000a3,#0000a4,#0000a4,#0000a3,#0000a3,#0000a3)"></i><i style="background:linear-gradient(90deg,#0000c3,#0000c8,#0000d3,#0000e0,#0000e9,#0000ea,#0000e1,#0000d3,#0000c3,#0000b3,#0000a8,#0000a3,#0000a8,#0000b4,#0000c1,#0000ca,#0000cc,#0000cb,#0000c8,#0000c6,#0000c6,#0000c7,#0000c8,#0000c8,#0000c7,#0000c7,#0000c7,#0000c7,#0000c7,#0000c6,#0000c6,#0000c6,#0000c6,#0000c7,#0000c8,#0000c8,#0000c6,#0000c5,#0000c5,#0000ca,#0000d4,#0000e1,#0000ec,#0000f3,#0000f5,#0000f5,#0000f5,#0000f6,#0000f8,#0000f9,#0000fb,#0000fb,#0000fb,#0000fb,#0000fd,#0000ff,#0002ff,#0002ff,#0000ff,#0000fc,#0000fd,#0005ff,#000eff,#0013ff,#000fff,#0003ff,#0000f3,#0000e6,#0000db,#0000d2,#0000c8,#0000bc,#0000b0,#0000a6,#0000a1,#0000a0,#0000a2,#0000a3,#0000a4,#0000a4,#0000a3,#0000a3,#0000a3,#0000a3,#0000a3,#0000a3,#0000a3,#0000a3,#0000a3,#0000a3,#0000a3,#0000a3,#0000a3)"></i><i style="background:linear-gradient(90deg,#0000c2,#0000c7,#0000d1,#0000dd,#0000e5,#0000e5,#0000dd,#0000d0,#0000c0,#0000b1,#0000a6,#0000a3,#0000a9,#0000b6,#0000c5,#0000ce,#0000d1,#0000ce,#0000cb,#0000c9,#0000c9,#0000ca,#0000cb,#0000ca,#0000c9,#0000c8,#0000c7,#0000c6,#0000c5,#0000c4,#0000c3,#0000c3,#0000c4,#0000c5,#0000c6,#0000c7,#0000c8,#0000c8,#0000cb,#0000d0,#0000d9,#0000e3,#0000ec,#0000f2,#0000f5,#0000f7,#0000fa,#0000fd,#0003ff,#0006ff,#0009ff,#0009ff,#0008ff,#0008ff,#0009ff,#000cff,#000fff,#000eff,#0009ff,#0003ff,#0002ff,#0008ff,#0011ff,#0015ff,#0010ff,#0003ff,#0000f3,#0000e6,#0000dc,#0000d4,#0000ca,#0000be,#0000b1,#0000a6,#0000a1,#0000a0,#0000a2,#0000a4,#0000a4,#0000a2,#0000a1,#0000a0,#0000a1,#0000a3,#0000a4,#0000a4,#0000a4,#0000a3,#0000a3,#0000a3,#0000a3,#0000a3,#0000a3)"></i><i style="background:linear-gradient(90deg,#0000c3,#0000c7,#0000cf,#0000d9,#0000df,#0000dd,#0000d4,#0000c7,#0000b9,#0000ac,#0000a3,#0000a2,#0000aa,#0000b9,#0000c7,#0000d1,#0000d2,#0000cf,#0000cb,#0000c9,#0000ca,#0000cb,#0000cb,#0000cb,#0000ca,#0000c9,#0000c7,#0000c6,#0000c4,#0000c4,#0000c3,#0000c3,#0000c3,#0000c4,#0000c5,#0000c6,#0000c9,#0000cd,#0000d2,#0000d8,#0000e0,#0000e7,#0000ed,#0000f2,#0000f5,#0000f8,#0000fc,#0004ff,#000cff,#0012ff,#0016ff,#0017ff,#0017ff,#0016ff,#0018ff,#001cff,#001eff,#001bff,#0012ff,#0008ff,#0004ff,#0007ff,#000dff,#000fff,#0009ff,#0000fb,#0000ec,#0000e0,#0000d9,#0000d3,#0000ca,#0000bf,#0000b2,#0000a6,#0000a1,#0000a0,#0000a2,#0000a4,#0000a4,#0000a2,#0000a0,#0000a0,#0000a1,#0000a3,#0000a4,#0000a4,#0000a4,#0000a3,#0000a3,#0000a3,#0000a3,#0000a3,#0000a3)"></i><i style="background:linear-gradient(90deg,#0000c4,#0000c7,#0000cd,#0000d4,#0000d7,#0000d3,#0000ca,#0000bd,#0000b0,#0000a6,#0000a1,#0000a2,#0000ab,#0000b9,#0000c8,#0000d1,#0000d2,#0000cf,#0000ca,#0000c9,#0000c9,#0000ca,#0000cb,#0000cb,#0000ca,#0000c9,#0000c7,#0000c6,#0000c5,#0000c4,#0000c4,#0000c4,#0000c4,#0000c4,#0000c4,#0000c6,#0000cb,#0000d2,#0000da,#0000e1,#0000e7,#0000ec,#0000f0,#0000f2,#0000f4,#0000f8,#0000ff,#0009ff,#0014ff,#001dff,#0023ff,#0026ff,#0027ff,#0029ff,#002dff,#0031ff,#0031ff,#0028ff,#0018ff,#0009ff,#0002ff,#0003ff,#0006ff,#0005ff,#0000fc,#0000ef,#0000e1,#0000d8,#0000d3,#0000d0,#0000ca,#0000bf,#0000b2,#0000a6,#0000a0,#0000a0,#0000a2,#0000a4,#0000a4,#0000a2,#0000a1,#0000a1,#0000a1,#0000a3,#0000a4,#0000a4,#0000a4,#0000a3,#0000a3,#0000a3,#0000a3,#0000a3,#0000a3)"></i><i style="background:linear-gradient(90deg,#0000c5,#0000c7,#0000cb,#0000ce,#0000cf,#0000c9,#0000bf,#0000b3,#0000a8,#0000a1,#00009e,#0000a1,#0000ab,#0000b9,#0000c6,#0000ce,#0000cf,#0000cc,#0000c9,#0000c7,#0000c7,#0000c8,#0000c9,#0000c9,#0000c9,#0000c8,#0000c7,#0000c6,#0000c6,#0000c6,#0000c6,#0000c6,#0000c6,#0000c4,#0000c4,#0000c6,#0000cc,#0000d6,#0000e1,#0000ea,#0000ef,#0000f2,#0000f3,#0000f4,#0000f6,#0000fb,#0004ff,#000fff,#001cff,#0028ff,#0030ff,#0035ff,#003aff,#0041ff,#004aff,#004eff,#0046ff,#0033ff,#001bff,#0009ff,#0000fe,#0000fc,#0000fc,#0000f8,#0000ef,#0000e2,#0000d6,#0000ce,#0000cc,#0000cc,#0000c8,#0000bf,#0000b2,#0000a7,#0000a0,#00009f,#0000a1,#0000a4,#0000a4,#0000a3,#0000a2,#0000a2,#0000a2,#0000a3,#0000a4,#0000a4,#0000a3,#0000a3,#0000a3,#0000a3,#0000a3,#0000a3,#0000a3)"></i><i style="background:linear-gradient(90deg,#0000c6,#0000c7,#0000c9,#0000cb,#0000c9,#0000c2,#0000b7,#0000ab,#0000a2,#00009d,#00009d,#0000a1,#0000ab,#0000b7,#0000c2,#0000c9,#0000cb,#0000c9,#0000c7,#0000c6,#0000c6,#0000c7,#0000c7,#0000c7,#0000c7,#0000c7,#0000c7,#0000c7,#0000c7,#0000c7,#0000c8,#0000c8,#0000c7,#0000c5,#0000c4,#0000c6,#0000cd,#0000d9,#0000e6,#0000f1,#0000f7,#0000f9,#0000fa,#0000fa,#0000fc,#0002ff,#000bff,#0018ff,#0026ff,#0033ff,#003eff,#0047ff,#0053ff,#0062ff,#006eff,#006eff,#005bff,#003cff,#001cff,#0006ff,#0000fb,#0000f7,#0000f4,#0000ef,#0000e4,#0000d7,#0000cc,#0000c6,#0000c7,#0000c9,#0000c7,#0000bf,#0000b3,#0000a7,#0000a0,#00009f,#0000a1,#0000a3,#0000a4,#0000a4,#0000a3,#0000a3,#0000a3,#0000a3,#0000a3,#0000a3,#0000a3,#0000a3,#0000a3,#0000a3,#0000a3,#0000a3,#0000a3)"></i><i style="background:linear-gradient(90deg,#0000c7,#0000c7,#0000c8,#0000c8,#0000c5,#0000bd,#0000b2,#0000a7,#00009e,#00009b,#00009d,#0000a2,#0000a9,#0000b2,#0000bb,#0000c1,#0000c4,#0000c6,#0000c6,#0000c6,#0000c6,#0000c5,#0000c5,#0000c5,#0000c5,#0000c5,#0000c6,#0000c6,#0000c7,#0000c8,#0000c9,#0000c9,#0000c8,#0000c6,#0000c4,#0000c6,#0000ce,#0000db,#0000ea,#0000f6,#0000fe,#0002ff,#0004ff,#0006ff,#0009ff,#000eff,#0017ff,#0024ff,#0032ff,#0040ff,#004dff,#005dff,#0073ff,#008bff,#0099ff,#008fff,#006dff,#0041ff,#001bff,#0004ff,#0000f8,#0000f4,#0000f0,#0000e9,#0000de,#0000d0,#0000c5,#0000c1,#0000c3,#0000c7,#0000c7,#0000bf,#0000b3,#0000a8,#0000a1,#00009f,#0000a1,#0000a3,#0000a4,#0000a4,#0000a4,#0000a4,#0000a3,#0000a3,#0000a3,#0000a3,#0000a3,#0000a3,#0000a3,#0000a3,#0000a3,#0000a3,#0000a3)"></i><i style="background:linear-gradient(90deg,#0000c7,#0000c7,#0000c8,#0000c8,#0000c4,#0000bc,#0000b1,#0000a6,#00009e,#00009c,#00009e,#0000a2,#0000a7,#0000ad,#0000b2,#0000b8,#0000bd,#0000c2,#0000c5,#0000c7,#0000c6,#0000c5,#0000c4,#0000c3,#0000c3,#0000c4,#0000c5,#0000c6,#0000c7,#0000c8,#0000c9,#0000c9,#0000c8,#0000c6,#0000c4,#0000c7,#0000cf,#0000dc,#0000ec,#0000fa,#0004ff,#000bff,#0010ff,#0014ff,#0019ff,#001fff,#0028ff,#0034ff,#0042ff,#0051ff,#0063ff,#007cff,#009bff,#00b8ff,#00c1ff,#00a8ff,#0077ff,#0042ff,#0019ff,#0002ff,#0000f6,#0000f2,#0000ee,#0000e8,#0000dc,#0000ce,#0000c3,#0000bf,#0000c2,#0000c6,#0000c7,#0000c0,#0000b4,#0000a8,#0000a1,#00009f,#0000a1,#0000a3,#0000a4,#0000a5,#0000a4,#0000a4,#0000a3,#0000a3,#0000a3,#0000a3,#0000a3,#0000a3,#0000a3,#0000a3,#0000a3,#0000a3,#0000a3)"></i><i style="background:linear-gradient(90deg,#0000c7,#0000c7,#0000c8,#0000c8,#0000c5,#0000bd,#0000b2,#0000a6,#00009f,#00009d,#00009f,#0000a3,#0000a5,#0000a7,#0000aa,#0000af,#0000b7,#0000bf,#0000c5,#0000c8,#0000c7,#0000c5,#0000c3,#0000c2,#0000c2,#0000c3,#0000c4,#0000c6,#0000c7,#0000c8,#0000c9,#0000c9,#0000c8,#0000c6,#0000c5,#0000c7,#0000cf,#0000dd,#0000ec,#0000fc,#000aff,#0015ff,#001eff,#0027ff,#002fff,#0037ff,#0040ff,#004bff,#0059ff,#006bff,#0084ff,#00a5ff,#00cbff,#00e5ff,#00deff,#00b4ff,#0078ff,#003fff,#0018ff,#0001ff,#0000f5,#0000f1,#0000ef,#0000e9,#0000de,#0000cf,#0000c4,#0000bf,#0000c2,#0000c7,#0000c7,#0000c0,#0000b4,#0000a9,#0000a1,#0000a0,#0000a1,#0000a3,#0000a4,#0000a4,#0000a4,#0000a4,#0000a3,#0000a3,#0000a3,#0000a3,#0000a3,#0000a3,#0000a3,#0000a3,#0000a3,#0000a3,#0000a3)"></i><i style="background:linear-gradient(90deg,#0000c6,#0000c7,#0000c9,#0000c9,#0000c7,#0000bf,#0000b3,#0000a8,#0000a1,#00009f,#0000a1,#0000a3,#0000a3,#0000a3,#0000a3,#0000a8,#0000b2,#0000bd,#0000c5,#0000c9,#0000c8,#0000c6,#0000c3,#0000c3,#0000c3,#0000c4,#0000c5,#0000c6,#0000c7,#0000c8,#0000c9,#0000c9,#0000c8,#0000c6,#0000c6,#0000c8,#0000d0,#0000dc,#0000ec,#0000fd,#000fff,#001fff,#002fff,#003dff,#0049ff,#0054ff,#005eff,#006aff,#007bff,#0092ff,#00b2ff,#00daff,#00fcff,#07fff8,#00eaff,#00b0ff,#0070ff,#003aff,#0016ff,#0000ff,#0000f4,#0000f1,#0000f0,#0000ec,#0000e1,#0000d3,#0000c7,#0000c1,#0000c4,#0000c7,#0000c8,#0000c0,#0000b4,#0000a8,#0000a1,#0000a0,#0000a1,#0000a3,#0000a4,#0000a4,#0000a4,#0000a3,#0000a3,#0000a3,#0000a3,#0000a3,#0000a3,#0000a3,#0000a3,#0000a3,#0000a3,#0000a3,#0000a3)"></i><i style="background:linear-gradient(90deg,#0000c6,#0000c7,#0000c9,#0000cb,#0000c8,#0000c1,#0000b5,#0000aa,#0000a2,#0000a0,#0000a2,#0000a3,#0000a2,#0000a1,#0000a1,#0000a5,#0000b0,#0000bc,#0000c6,#0000ca,#0000ca,#0000c8,#0000c6,#0000c5,#0000c5,#0000c6,#0000c7,#0000c7,#0000c7,#0000c7,#0000c8,#0000c8,#0000c8,#0000c7,#0000c6,#0000c9,#0000d0,#0000dc,#0000ec,#0000ff,#0015ff,#002bff,#0042ff,#0057ff,#0069ff,#0078ff,#0085ff,#0094ff,#00aaff,#00c9ff,#00efff,#15ffea,#27ffd8,#16ffe9,#00e2ff,#009fff,#0062ff,#0034ff,#0014ff,#0000ff,#0000f4,#0000f2,#0000f1,#0000ee,#0000e4,#0000d7,#0000cb,#0000c5,#0000c6,#0000c8,#0000c7,#0000bf,#0000b3,#0000a7,#0000a1,#00009f,#0000a1,#0000a3,#0000a4,#0000a4,#0000a3,#0000a3,#0000a3,#0000a3,#0000a3,#0000a3,#0000a3,#0000a3,#0000a3,#0000a3,#0000a3,#0000a3,#0000a3)"></i><i style="background:linear-gradient(90deg,#0000c6,#0000c7,#0000ca,#0000cc,#0000ca,#0000c2,#0000b6,#0000aa,#0000a1,#00009f,#0000a1,#0000a3,#0000a3,#0000a2,#0000a2,#0000a7,#0000b1,#0000bd,#0000c6,#0000cb,#0000cc,#0000cb,#0000ca,#0000ca,#0000cb,#0000cb,#0000ca,#0000c9,#0000c7,#0000c7,#0000c7,#0000c8,#0000c8,#0000c8,#0000c8,#0000ca,#0000d1,#0000dc,#0000ec,#0002ff,#001cff,#0039ff,#0058ff,#0077ff,#0091ff,#00a6ff,#00b8ff,#00cdff,#00eaff,#11ffee,#37ffc8,#4cffb3,#40ffbf,#0efff1,#00c7ff,#0083ff,#0050ff,#002cff,#0012ff,#0000fe,#0000f4,#0000f2,#0000f2,#0000f0,#0000e7,#0000db,#0000d0,#0000ca,#0000c9,#0000c9,#0000c6,#0000bd,#0000b1,#0000a5,#00009f,#00009f,#0000a1,#0000a3,#0000a4,#0000a4,#0000a3,#0000a3,#0000a3,#0000a3,#0000a3,#0000a3,#0000a3,#0000a3,#0000a3,#0000a3,#0000a3,#0000a3,#0000a3)"></i><i style="background:linear-gradient(90deg,#0000c6,#0000c7,#0000ca,#0000cc,#0000ca,#0000c2,#0000b6,#0000a9,#0000a0,#00009d,#00009f,#0000a2,#0000a4,#0000a6,#0000a8,#0000ad,#0000b5,#0000bf,#0000c6,#0000cb,#0000ce,#0000cf,#0000d0,#0000d1,#0000d2,#0000d2,#0000cf,#0000cb,#0000c8,#0000c6,#0000c7,#0000c8,#0000c9,#0000c9,#0000c9,#0000cb,#0000d2,#0000dd,#0000ee,#0006ff,#0025ff,#004aff,#0074ff,#009dff,#00c2ff,#00dfff,#00f8ff,#15ffea,#3affc5,#61ff9e,#7cff83,#74ff8b,#42ffbd,#00f2ff,#00a2ff,#0065ff,#003dff,#0022ff,#000eff,#0000fe,#0000f5,#0000f2,#0000f2,#0000f0,#0000e9,#0000df,#0000d6,#0000cf,#0000cc,#0000c9,#0000c4,#0000ba,#0000ae,#0000a3,#00009e,#00009e,#0000a1,#0000a3,#0000a5,#0000a4,#0000a3,#0000a3,#0000a3,#0000a3,#0000a3,#0000a3,#0000a3,#0000a3,#0000a3,#0000a3,#0000a3,#0000a3,#0000a3)"></i><i style="background:linear-gradient(90deg,#0000c6,#0000c7,#0000ca,#0000cc,#0000cb,#0000c2,#0000b5,#0000a8,#00009e,#00009c,#00009d,#0000a2,#0000a7,#0000ab,#0000b0,#0000b6,#0000bb,#0000c1,#0000c7,#0000cc,#0000d0,#0000d4,#0000d8,#0000da,#0000db,#0000da,#0000d5,#0000cf,#0000c9,#0000c6,#0000c6,#0000c8,#0000ca,#0000ca,#0000ca,#0000cc,#0000d3,#0000df,#0000f1,#000cff,#0031ff,#0060ff,#0096ff,#00cdff,#00ffff,#28ffd7,#49ffb6,#6bff94,#92ff6d,#b1ff4e,#b3ff4c,#85ff7a,#2effd1,#00cbff,#007bff,#0048ff,#002bff,#0019ff,#0009ff,#0000fc,#0000f5,#0000f2,#0000f1,#0000f0,#0000eb,#0000e4,#0000dc,#0000d5,#0000d0,#0000ca,#0000c2,#0000b7,#0000ab,#0000a1,#00009d,#00009d,#0000a0,#0000a3,#0000a5,#0000a4,#0000a3,#0000a3,#0000a3,#0000a3,#0000a3,#0000a3,#0000a3,#0000a3,#0000a3,#0000a3,#0000a3,#0000a3,#0000a3)"></i><i style="background:linear-gradient(90deg,#0000c6,#0000c7,#0000ca,#0000cc,#0000ca,#0000c2,#0000b5,#0000a8,#00009e,#00009a,#00009c,#0000a1,#0000a9,#0000b1,#0000b9,#0000be,#0000c1,#0000c4,#0000c7,#0000cc,#0000d3,#0000da,#0000e0,#0000e4,#0000e5,#0000e2,#0000db,#0000d2,#0000ca,#0000c6,#0000c6,#0000c8,#0000ca,#0000ca,#0000cb,#0000cd,#0000d4,#0000e2,#0000f7,#0016ff,#0042ff,#007bff,#00bfff,#08fff7,#4affb5,#7eff81,#a7ff58,#caff35,#eaff15,#f4ff0b,#d2ff2d,#7cff83,#0afff5,#00a0ff,#0058ff,#0031ff,#001cff,#0010ff,#0005ff,#0000fb,#0000f4,#0000f1,#0000f0,#0000ef,#0000ec,#0000e8,#0000e3,#0000dd,#0000d5,#0000cd,#0000c3,#0000b6,#0000ab,#0000a1,#00009d,#00009e,#0000a1,#0000a3,#0000a4,#0000a4,#0000a3,#0000a3,#0000a3,#0000a3,#0000a3,#0000a3,#0000a3,#0000a3,#0000a3,#0000a3,#0000a3,#0000a3,#0000a3)"></i><i style="background:linear-gradient(90deg,#0000c6,#0000c7,#0000ca,#0000cb,#0000c9,#0000c2,#0000b6,#0000aa,#0000a0,#00009b,#00009c,#0000a1,#0000ab,#0000b6,#0000c0,#0000c6,#0000c6,#0000c5,#0000c6,#0000cd,#0000d7,#0000e2,#0000ea,#0000ee,#0000ee,#0000e9,#0000e0,#0000d4,#0000cb,#0000c5,#0000c5,#0000c7,#0000ca,#0000ca,#0000cb,#0000ce,#0000d7,#0000e7,#0000ff,#0024ff,#0057ff,#009cff,#00f1ff,#4cffb3,#a0ff5f,#e1ff1e,#fff100,#ffd300,#ffc700,#ffde00,#d5ff2a,#5fffa0,#00dfff,#007aff,#003dff,#001fff,#0011ff,#0008ff,#0000ff,#0000f9,#0000f4,#0000f1,#0000ef,#0000ee,#0000ed,#0000ed,#0000ea,#0000e5,#0000dc,#0000d1,#0000c5,#0000b8,#0000ad,#0000a4,#0000a0,#00009f,#0000a1,#0000a3,#0000a4,#0000a4,#0000a3,#0000a3,#0000a3,#0000a3,#0000a3,#0000a3,#0000a3,#0000a3,#0000a3,#0000a3,#0000a3,#0000a3,#0000a3)"></i><i style="background:linear-gradient(90deg,#0000c6,#0000c7,#0000c9,#0000c9,#0000c8,#0000c2,#0000b8,#0000ae,#0000a5,#00009f,#00009e,#0000a2,#0000ac,#0000b9,#0000c5,#0000ca,#0000c9,#0000c6,#0000c6,#0000ce,#0000db,#0000ea,#0000f4,#0000f8,#0000f6,#0000ee,#0000e3,#0000d6,#0000cb,#0000c5,#0000c4,#0000c6,#0000c9,#0000c9,#0000ca,#0000cf,#0000da,#0000ee,#000cff,#0035ff,#0071ff,#00c2ff,#29ffd6,#97ff68,#fcff03,#ffb600,#ff8900,#ff7b00,#ff8d00,#ffcd00,#c1ff3e,#37ffc8,#00b7ff,#005dff,#002bff,#0014ff,#0009ff,#0003ff,#0000fc,#0000f8,#0000f3,#0000f0,#0000ed,#0000ed,#0000ef,#0000f2,#0000f2,#0000ee,#0000e5,#0000d9,#0000cb,#0000be,#0000b3,#0000aa,#0000a5,#0000a3,#0000a3,#0000a3,#0000a3,#0000a3,#0000a3,#0000a3,#0000a3,#0000a3,#0000a3,#0000a3,#0000a3,#0000a3,#0000a3,#0000a3,#0000a3,#0000a3,#0000a3)"></i><i style="background:linear-gradient(90deg,#0000c7,#0000c7,#0000c7,#0000c7,#0000c6,#0000c2,#0000bc,#0000b5,#0000ad,#0000a5,#0000a1,#0000a3,#0000ac,#0000b9,#0000c6,#0000cc,#0000c9,#0000c5,#0000c5,#0000d0,#0000e1,#0000f2,#0000fe,#0001ff,#0000fc,#0000f2,#0000e4,#0000d7,#0000cc,#0000c5,#0000c4,#0000c5,#0000c7,#0000c7,#0000c9,#0000cf,#0000de,#0000f6,#0019ff,#0049ff,#008dff,#00eaff,#61ff9e,#e2ff1d,#ffa600,#ff5200,#ff2b00,#ff3300,#ff6b00,#ffd200,#a0ff5f,#0ffff0,#0097ff,#0049ff,#0020ff,#000dff,#0005ff,#0000ff,#0000fb,#0000f7,#0000f2,#0000ee,#0000ec,#0000ec,#0000f1,#0000f7,#0000fb,#0000f8,#0000ef,#0000e2,#0000d4,#0000c7,#0000bc,#0000b3,#0000ac,#0000a8,#0000a5,#0000a3,#0000a3,#0000a3,#0000a3,#0000a3,#0000a3,#0000a3,#0000a3,#0000a3,#0000a3,#0000a3,#0000a3,#0000a3,#0000a3,#0000a3,#0000a3)"></i><i style="background:linear-gradient(90deg,#0000c7,#0000c7,#0000c6,#0000c6,#0000c4,#0000c3,#0000c1,#0000bd,#0000b6,#0000ad,#0000a5,#0000a4,#0000ab,#0000b8,#0000c5,#0000cb,#0000c8,#0000c4,#0000c5,#0000d2,#0000e6,#0000fa,#0007ff,#0008ff,#0000ff,#0000f3,#0000e4,#0000d6,#0000cb,#0000c5,#0000c4,#0000c5,#0000c6,#0000c6,#0000c8,#0000d0,#0000e1,#0000fe,#0027ff,#005eff,#00a9ff,#11ffee,#95ff6a,#ffd800,#ff5600,#fc0000,#e00000,#ff0300,#ff5f00,#ffe700,#7bff84,#00ebff,#007fff,#003dff,#001aff,#000bff,#0003ff,#0000fe,#0000fa,#0000f6,#0000f2,#0000ed,#0000ea,#0000ec,#0000f3,#0000fc,#0003ff,#0002ff,#0000f9,#0000eb,#0000dd,#0000d0,#0000c6,#0000bd,#0000b4,#0000ad,#0000a7,#0000a3,#0000a2,#0000a2,#0000a3,#0000a4,#0000a4,#0000a3,#0000a3,#0000a3,#0000a3,#0000a3,#0000a3,#0000a3,#0000a3,#0000a3,#0000a3)"></i><i style="background:linear-gradient(90deg,#0000c7,#0000c7,#0000c6,#0000c4,#0000c4,#0000c5,#0000c5,#0000c4,#0000be,#0000b3,#0000a9,#0000a4,#0000aa,#0000b7,#0000c4,#0000c9,#0000c7,#0000c2,#0000c4,#0000d4,#0000eb,#0002ff,#000eff,#000cff,#0002ff,#0000f2,#0000e2,#0000d5,#0000cb,#0000c6,#0000c4,#0000c5,#0000c6,#0000c6,#0000c8,#0000d0,#0000e4,#0006ff,#0033ff,#006fff,#00c0ff,#31ffce,#beff41,#ffa400,#ff1900,#c10000,#b20000,#ee0000,#ff6900,#f8ff07,#58ffa7,#00cfff,#006fff,#0035ff,#0017ff,#000aff,#0003ff,#0000fd,#0000fa,#0000f5,#0000f1,#0000ec,#0000e9,#0000ec,#0000f4,#0001ff,#0009ff,#000aff,#0001ff,#0000f3,#0000e5,#0000d9,#0000cf,#0000c5,#0000bb,#0000b1,#0000a9,#0000a3,#0000a1,#0000a1,#0000a3,#0000a4,#0000a4,#0000a4,#0000a3,#0000a3,#0000a3,#0000a3,#0000a3,#0000a3,#0000a3,#0000a3,#0000a3)"></i><i style="background:linear-gradient(90deg,#0000c7,#0000c7,#0000c6,#0000c5,#0000c5,#0000c7,#0000ca,#0000c9,#0000c3,#0000b7,#0000ab,#0000a4,#0000a8,#0000b5,#0000c2,#0000c8,#0000c5,#0000c2,#0000c5,#0000d5,#0000ee,#0006ff,#0011ff,#000eff,#0000ff,#0000ee,#0000df,#0000d3,#0000ca,#0000c6,#0000c6,#0000c8,#0000c8,#0000c7,#0000c8,#0000d1,#0000e6,#000bff,#003cff,#007cff,#00d0ff,#45ffba,#d8ff27,#ff8600,#f90000,#a70000,#a70000,#f70000,#ff8500,#d3ff2c,#36ffc9,#00b8ff,#0062ff,#0030ff,#0016ff,#0009ff,#0003ff,#0000fd,#0000f9,#0000f5,#0000f0,#0000eb,#0000e9,#0000ec,#0000f5,#0003ff,#000dff,#000eff,#0006ff,#0000f8,#0000ea,#0000de,#0000d4,#0000cb,#0000c0,#0000b4,#0000aa,#0000a3,#0000a0,#0000a1,#0000a3,#0000a4,#0000a4,#0000a4,#0000a3,#0000a3,#0000a3,#0000a3,#0000a3,#0000a3,#0000a3,#0000a3,#0000a3)"></i><i style="background:linear-gradient(90deg,#0000c7,#0000c7,#0000c7,#0000c7,#0000c8,#0000ca,#0000cd,#0000cc,#0000c5,#0000b8,#0000aa,#0000a3,#0000a7,#0000b4,#0000c1,#0000c8,#0000c6,#0000c2,#0000c6,#0000d7,#0000ef,#0007ff,#0011ff,#000bff,#0000fb,#0000e9,#0000da,#0000cf,#0000c9,#0000c8,#0000ca,#0000cd,#0000ce,#0000cc,#0000cb,#0000d2,#0000e7,#000cff,#003fff,#0080ff,#00d6ff,#4bffb4,#ddff22,#ff8300,#fb0000,#b20000,#be0000,#ff1d00,#ffb200,#a8ff57,#14ffeb,#00a2ff,#0057ff,#002bff,#0014ff,#0008ff,#0002ff,#0000fd,#0000f9,#0000f4,#0000ef,#0000ea,#0000e8,#0000eb,#0000f5,#0003ff,#000dff,#000eff,#0006ff,#0000f8,#0000ea,#0000de,#0000d5,#0000cb,#0000c0,#0000b5,#0000aa,#0000a3,#0000a0,#0000a1,#0000a3,#0000a4,#0000a4,#0000a4,#0000a3,#0000a3,#0000a3,#0000a3,#0000a3,#0000a3,#0000a3,#0000a3,#0000a3)"></i><i style="background:linear-gradient(90deg,#0000c7,#0000c7,#0000c9,#0000cb,#0000cd,#0000cf,#0000cf,#0000cc,#0000c3,#0000b5,#0000a7,#0000a0,#0000a6,#0000b3,#0000c2,#0000c9,#0000c8,#0000c4,#0000c8,#0000d7,#0000ee,#0004ff,#000cff,#0005ff,#0000f4,#0000e2,#0000d4,#0000cb,#0000c7,#0000c9,#0000cf,#0000d5,#0000d7,#0000d3,#0000cf,#0000d3,#0000e6,#000aff,#003bff,#007cff,#00d0ff,#42ffbd,#ceff31,#ff9a00,#ff1e00,#e00000,#f70000,#ff5b00,#ffee00,#76ff89,#00efff,#008cff,#004bff,#0025ff,#0011ff,#0007ff,#0001ff,#0000fc,#0000f8,#0000f3,#0000ef,#0000ea,#0000e8,#0000eb,#0000f4,#0001ff,#000aff,#000bff,#0002ff,#0000f3,#0000e5,#0000d9,#0000cf,#0000c6,#0000bc,#0000b2,#0000a9,#0000a3,#0000a1,#0000a1,#0000a3,#0000a4,#0000a4,#0000a4,#0000a3,#0000a3,#0000a3,#0000a3,#0000a3,#0000a3,#0000a3,#0000a3,#0000a3)"></i><i style="background:linear-gradient(90deg,#0000c6,#0000c8,#0000cb,#0000d0,#0000d3,#0000d4,#0000d1,#0000ca,#0000bf,#0000b1,#0000a4,#00009f,#0000a5,#0000b3,#0000c2,#0000cb,#0000ca,#0000c7,#0000c9,#0000d7,#0000eb,#0000fd,#0004ff,#0000fb,#0000eb,#0000da,#0000cd,#0000c7,#0000c6,#0000cb,#0000d4,#0000dd,#0000e0,#0000db,#0000d4,#0000d4,#0000e3,#0004ff,#0033ff,#0071ff,#00c1ff,#2cffd3,#adff52,#ffca00,#ff5d00,#ff2d00,#ff4a00,#ffab00,#caff35,#3effc1,#00c8ff,#0074ff,#003fff,#001fff,#000eff,#0005ff,#0000fe,#0000fa,#0000f6,#0000f2,#0000ee,#0000ea,#0000e8,#0000eb,#0000f3,#0000fd,#0005ff,#0004ff,#0000fa,#0000ec,#0000dd,#0000d0,#0000c6,#0000be,#0000b5,#0000ae,#0000a7,#0000a3,#0000a1,#0000a2,#0000a3,#0000a4,#0000a4,#0000a3,#0000a3,#0000a3,#0000a3,#0000a3,#0000a3,#0000a3,#0000a3,#0000a3,#0000a3)"></i><i style="background:linear-gradient(90deg,#0000c5,#0000c8,#0000ce,#0000d6,#0000db,#0000db,#0000d5,#0000cb,#0000bd,#0000ae,#0000a2,#00009e,#0000a5,#0000b4,#0000c3,#0000cb,#0000cb,#0000c8,#0000ca,#0000d5,#0000e7,#0000f6,#0000fa,#0000f2,#0000e2,#0000d2,#0000c7,#0000c3,#0000c4,#0000cd,#0000d9,#0000e4,#0000e8,#0000e3,#0000da,#0000d6,#0000e1,#0000fc,#0028ff,#0060ff,#00aaff,#0bfff4,#7dff82,#f2ff0d,#ffb100,#ff8d00,#ffad00,#f7ff08,#7dff82,#04fffb,#00a1ff,#005cff,#0031ff,#0019ff,#000bff,#0002ff,#0000fb,#0000f7,#0000f4,#0000f1,#0000ee,#0000eb,#0000e9,#0000eb,#0000f0,#0000f8,#0000fc,#0000fa,#0000f0,#0000e2,#0000d4,#0000c7,#0000bc,#0000b4,#0000ad,#0000a9,#0000a5,#0000a3,#0000a2,#0000a3,#0000a3,#0000a3,#0000a3,#0000a3,#0000a3,#0000a3,#0000a3,#0000a3,#0000a3,#0000a3,#0000a3,#0000a3,#0000a3)"></i><i style="background:linear-gradient(90deg,#0000c4,#0000c8,#0000d1,#0000dc,#0000e3,#0000e3,#0000db,#0000ce,#0000be,#0000af,#0000a3,#0000a0,#0000a6,#0000b4,#0000c2,#0000cb,#0000ca,#0000c7,#0000c8,#0000d2,#0000e1,#0000ee,#0000f1,#0000e8,#0000da,#0000cc,#0000c2,#0000c0,#0000c3,#0000ce,#0000dc,#0000e9,#0000ee,#0000e8,#0000de,#0000d8,#0000de,#0000f5,#001aff,#004cff,#008eff,#00e1ff,#44ffbb,#a5ff5a,#eeff11,#fff700,#e7ff18,#98ff67,#30ffcf,#00cbff,#007bff,#0045ff,#0025ff,#0012ff,#0007ff,#0000fe,#0000f9,#0000f5,#0000f2,#0000f0,#0000ed,#0000eb,#0000ea,#0000eb,#0000ee,#0000f2,#0000f3,#0000ef,#0000e6,#0000d9,#0000cb,#0000be,#0000b3,#0000ab,#0000a6,#0000a3,#0000a3,#0000a3,#0000a3,#0000a3,#0000a3,#0000a3,#0000a3,#0000a3,#0000a3,#0000a3,#0000a3,#0000a3,#0000a3,#0000a3,#0000a3,#0000a3,#0000a3)"></i><i style="background:linear-gradient(90deg,#0000c2,#0000c8,#0000d4,#0000e2,#0000ec,#0000ed,#0000e5,#0000d7,#0000c6,#0000b6,#0000aa,#0000a5,#0000a9,#0000b4,#0000c0,#0000c7,#0000c6,#0000c4,#0000c5,#0000ce,#0000db,#0000e6,#0000e8,#0000e0,#0000d3,#0000c7,#0000bf,#0000be,#0000c3,#0000ce,#0000dd,#0000ea,#0000f0,#0000eb,#0000e1,#0000d9,#0000dd,#0000ee,#000dff,#0037ff,#006fff,#00b7ff,#08fff7,#56ffa9,#8cff73,#9cff63,#7fff80,#3cffc3,#00e7ff,#0097ff,#0059ff,#0031ff,#0019ff,#000cff,#0003ff,#0000fb,#0000f6,#0000f2,#0000f0,#0000ee,#0000ed,#0000ec,#0000eb,#0000eb,#0000ec,#0000ec,#0000ea,#0000e5,#0000dd,#0000d2,#0000c6,#0000b9,#0000ad,#0000a4,#0000a0,#0000a0,#0000a1,#0000a3,#0000a4,#0000a4,#0000a3,#0000a3,#0000a3,#0000a3,#0000a3,#0000a3,#0000a3,#0000a3,#0000a3,#0000a3,#0000a3,#0000a3,#0000a3)"></i><i style="background:linear-gradient(90deg,#0000c1,#0000c8,#0000d6,#0000e7,#0000f4,#0000f8,#0000f2,#0000e5,#0000d5,#0000c4,#0000b5,#0000ad,#0000ae,#0000b4,#0000bc,#0000c0,#0000bf,#0000bd,#0000bf,#0000c7,#0000d4,#0000de,#0000e1,#0000da,#0000cf,#0000c4,#0000be,#0000be,#0000c3,#0000ce,#0000db,#0000e6,#0000ec,#0000e8,#0000e1,#0000db,#0000dc,#0000e8,#0000ff,#0022ff,#0052ff,#008cff,#00cdff,#09fff6,#30ffcf,#39ffc6,#1fffe0,#00e9ff,#00a9ff,#006cff,#003eff,#0020ff,#0010ff,#0006ff,#0000fd,#0000f8,#0000f3,#0000ef,#0000ed,#0000ec,#0000ec,#0000ed,#0000ed,#0000ec,#0000ea,#0000e6,#0000e1,#0000dc,#0000d5,#0000ce,#0000c4,#0000b8,#0000ab,#0000a2,#00009d,#00009d,#0000a0,#0000a3,#0000a4,#0000a4,#0000a3,#0000a3,#0000a3,#0000a3,#0000a3,#0000a3,#0000a3,#0000a3,#0000a3,#0000a3,#0000a3,#0000a3,#0000a3)"></i><i style="background:linear-gradient(90deg,#0000c0,#0000c8,#0000d8,#0000eb,#0000fc,#0004ff,#0001ff,#0000f6,#0000e6,#0000d5,#0000c4,#0000b7,#0000b3,#0000b4,#0000b7,#0000b8,#0000b6,#0000b4,#0000b7,#0000c0,#0000cc,#0000d7,#0000da,#0000d5,#0000cc,#0000c3,#0000bf,#0000bf,#0000c4,#0000cd,#0000d7,#0000df,#0000e4,#0000e3,#0000df,#0000db,#0000dc,#0000e4,#0000f4,#0010ff,#0036ff,#0066ff,#0098ff,#00c4ff,#00deff,#00e1ff,#00ccff,#00a4ff,#0075ff,#004aff,#0029ff,#0014ff,#0008ff,#0000ff,#0000fa,#0000f5,#0000f0,#0000ed,#0000eb,#0000ea,#0000eb,#0000ed,#0000ef,#0000ed,#0000e8,#0000e1,#0000d9,#0000d3,#0000d0,#0000cc,#0000c5,#0000ba,#0000ac,#0000a1,#00009c,#00009c,#0000a0,#0000a3,#0000a5,#0000a4,#0000a3,#0000a3,#0000a3,#0000a3,#0000a3,#0000a3,#0000a3,#0000a3,#0000a3,#0000a3,#0000a3,#0000a3,#0000a3)"></i><i style="background:linear-gradient(90deg,#0000c0,#0000c8,#0000d9,#0000ef,#0003ff,#000eff,#000fff,#0007ff,#0000f8,#0000e5,#0000d2,#0000c1,#0000b7,#0000b2,#0000b1,#0000af,#0000ac,#0000ab,#0000ae,#0000b8,#0000c5,#0000d0,#0000d4,#0000d1,#0000ca,#0000c4,#0000c1,#0000c2,#0000c5,#0000cb,#0000d1,#0000d7,#0000db,#0000dc,#0000db,#0000db,#0000db,#0000e0,#0000ea,#0000fe,#001eff,#0044ff,#006bff,#008aff,#009bff,#009aff,#0089ff,#006dff,#004dff,#0030ff,#001aff,#000bff,#0002ff,#0000fb,#0000f6,#0000f2,#0000ef,#0000ec,#0000ea,#0000e9,#0000eb,#0000ee,#0000f0,#0000ee,#0000e6,#0000dc,#0000d2,#0000cd,#0000cb,#0000cb,#0000c7,#0000bc,#0000af,#0000a3,#00009d,#00009d,#0000a0,#0000a3,#0000a5,#0000a4,#0000a3,#0000a3,#0000a3,#0000a3,#0000a3,#0000a3,#0000a3,#0000a3,#0000a3,#0000a3,#0000a3,#0000a3,#0000a3)"></i><i style="background:linear-gradient(90deg,#0000c0,#0000c8,#0000da,#0000f1,#0008ff,#0015ff,#0019ff,#0013ff,#0006ff,#0000f2,#0000dc,#0000c9,#0000ba,#0000b1,#0000ab,#0000a7,#0000a4,#0000a3,#0000a7,#0000b1,#0000bd,#0000c9,#0000cf,#0000ce,#0000ca,#0000c5,#0000c4,#0000c4,#0000c7,#0000ca,#0000cc,#0000cf,#0000d2,#0000d4,#0000d6,#0000d8,#0000d9,#0000db,#0000e2,#0000f1,#000aff,#0027ff,#0045ff,#005bff,#0065ff,#0062ff,#0056ff,#0044ff,#0030ff,#001eff,#000fff,#0005ff,#0000fd,#0000f8,#0000f4,#0000f1,#0000ee,#0000ec,#0000ea,#0000e9,#0000eb,#0000ee,#0000f0,#0000ed,#0000e4,#0000d8,#0000cd,#0000c8,#0000c8,#0000ca,#0000c8,#0000be,#0000b1,#0000a5,#00009e,#00009e,#0000a0,#0000a3,#0000a4,#0000a4,#0000a3,#0000a3,#0000a3,#0000a3,#0000a3,#0000a3,#0000a3,#0000a3,#0000a3,#0000a3,#0000a3,#0000a3,#0000a3)"></i><i style="background:linear-gradient(90deg,#0000c1,#0000c9,#0000db,#0000f3,#000aff,#0018ff,#001dff,#0019ff,#000cff,#0000f7,#0000e1,#0000cb,#0000bb,#0000af,#0000a7,#0000a1,#00009e,#00009e,#0000a2,#0000ab,#0000b6,#0000c1,#0000c8,#0000ca,#0000c9,#0000c7,#0000c7,#0000c7,#0000c8,#0000c8,#0000c9,#0000ca,#0000cb,#0000cd,#0000d0,#0000d2,#0000d4,#0000d6,#0000dc,#0000e7,#0000f9,#0010ff,#0025ff,#0035ff,#003bff,#003aff,#0032ff,#0028ff,#001cff,#0011ff,#0008ff,#0000ff,#0000fa,#0000f6,#0000f3,#0000f1,#0000ef,#0000ed,#0000ec,#0000eb,#0000ec,#0000ee,#0000ef,#0000eb,#0000e2,#0000d5,#0000ca,#0000c5,#0000c6,#0000c8,#0000c7,#0000bf,#0000b3,#0000a7,#0000a1,#00009f,#0000a1,#0000a3,#0000a4,#0000a4,#0000a3,#0000a3,#0000a3,#0000a3,#0000a3,#0000a3,#0000a3,#0000a3,#0000a3,#0000a3,#0000a3,#0000a3,#0000a3)"></i><i style="background:linear-gradient(90deg,#0000c2,#0000ca,#0000dc,#0000f3,#0009ff,#0016ff,#001aff,#0014ff,#0007ff,#0000f3,#0000dd,#0000c8,#0000b8,#0000ac,#0000a4,#00009f,#00009c,#00009c,#00009f,#0000a6,#0000b0,#0000b9,#0000c1,#0000c6,#0000c8,#0000c9,#0000ca,#0000c9,#0000c8,#0000c8,#0000c7,#0000c7,#0000c7,#0000c8,#0000c9,#0000ca,#0000cc,#0000d0,#0000d6,#0000df,#0000ed,#0000fc,#000cff,#0017ff,#001cff,#001dff,#001aff,#0015ff,#000fff,#0009ff,#0003ff,#0000fc,#0000f8,#0000f5,#0000f3,#0000f2,#0000f1,#0000f0,#0000ef,#0000ef,#0000ee,#0000ee,#0000ec,#0000e7,#0000de,#0000d4,#0000ca,#0000c5,#0000c5,#0000c5,#0000c2,#0000bb,#0000b1,#0000a8,#0000a3,#0000a1,#0000a2,#0000a4,#0000a4,#0000a4,#0000a3,#0000a3,#0000a3,#0000a3,#0000a3,#0000a3,#0000a3,#0000a3,#0000a3,#0000a3,#0000a3,#0000a3,#0000a3)"></i><i style="background:linear-gradient(90deg,#0000c4,#0000cc,#0000dd,#0000f2,#0006ff,#0010ff,#0011ff,#0009ff,#0000fa,#0000e8,#0000d4,#0000c1,#0000b3,#0000a9,#0000a3,#00009f,#00009d,#00009d,#00009f,#0000a3,#0000aa,#0000b2,#0000ba,#0000c1,#0000c7,#0000cb,#0000cc,#0000cb,#0000c9,#0000c7,#0000c7,#0000c7,#0000c6,#0000c4,#0000c1,#0000c1,#0000c3,#0000c9,#0000d1,#0000db,#0000e4,#0000ed,#0000f6,#0000ff,#0006ff,#000aff,#000bff,#000aff,#0007ff,#0003ff,#0000fe,#0000f9,#0000f6,#0000f4,#0000f3,#0000f3,#0000f3,#0000f3,#0000f3,#0000f2,#0000f0,#0000ed,#0000e8,#0000e1,#0000da,#0000d2,#0000cc,#0000c7,#0000c3,#0000c0,#0000bc,#0000b6,#0000ae,#0000a8,#0000a4,#0000a3,#0000a3,#0000a4,#0000a4,#0000a4,#0000a3,#0000a3,#0000a3,#0000a3,#0000a3,#0000a3,#0000a3,#0000a3,#0000a3,#0000a3,#0000a3,#0000a3,#0000a3)"></i><i style="background:linear-gradient(90deg,#0000c5,#0000cc,#0000dc,#0000ef,#0000ff,#0006ff,#0003ff,#0000f8,#0000e9,#0000d8,#0000c7,#0000b8,#0000ad,#0000a6,#0000a3,#0000a0,#00009f,#00009f,#0000a0,#0000a2,#0000a5,#0000aa,#0000b2,#0000bc,#0000c5,#0000cb,#0000cd,#0000cb,#0000c9,#0000c8,#0000c8,#0000c8,#0000c6,#0000c1,#0000bb,#0000b7,#0000ba,#0000c3,#0000ce,#0000d8,#0000de,#0000e2,#0000e7,#0000ed,#0000f6,#0000fd,#0003ff,#0004ff,#0002ff,#0000fd,#0000fa,#0000f7,#0000f4,#0000f3,#0000f2,#0000f3,#0000f4,#0000f5,#0000f6,#0000f5,#0000f1,#0000ea,#0000e2,#0000da,#0000d5,#0000d1,#0000cd,#0000c8,#0000c2,#0000bb,#0000b4,#0000ae,#0000aa,#0000a7,#0000a5,#0000a4,#0000a4,#0000a4,#0000a4,#0000a4,#0000a3,#0000a3,#0000a3,#0000a3,#0000a3,#0000a3,#0000a3,#0000a3,#0000a3,#0000a3,#0000a3,#0000a3,#0000a3)"></i><i style="background:linear-gradient(90deg,#0000c5,#0000cb,#0000d9,#0000ea,#0000f6,#0000f9,#0000f2,#0000e6,#0000d6,#0000c7,#0000b9,#0000ae,#0000a7,#0000a4,#0000a2,#0000a2,#0000a2,#0000a2,#0000a2,#0000a1,#0000a1,#0000a4,#0000ac,#0000b7,#0000c2,#0000ca,#0000cd,#0000cb,#0000c8,#0000c8,#0000ca,#0000cb,#0000c8,#0000bf,#0000b5,#0000af,#0000b2,#0000bd,#0000cb,#0000d6,#0000da,#0000da,#0000dc,#0000e2,#0000ec,#0000f6,#0000fd,#0000fe,#0000fc,#0000f9,#0000f6,#0000f4,#0000f2,#0000f1,#0000f1,#0000f1,#0000f2,#0000f4,#0000f5,#0000f4,#0000ef,#0000e5,#0000da,#0000d2,#0000ce,#0000cd,#0000cc,#0000c8,#0000bf,#0000b4,#0000ac,#0000a7,#0000a5,#0000a5,#0000a5,#0000a5,#0000a4,#0000a4,#0000a4,#0000a3,#0000a3,#0000a3,#0000a3,#0000a3,#0000a3,#0000a3,#0000a3,#0000a3,#0000a3,#0000a3,#0000a3,#0000a3,#0000a3)"></i><i style="background:linear-gradient(90deg,#0000c3,#0000c8,#0000d4,#0000e1,#0000ea,#0000eb,#0000e2,#0000d4,#0000c5,#0000b7,#0000ac,#0000a5,#0000a1,#0000a1,#0000a2,#0000a4,#0000a5,#0000a5,#0000a3,#0000a1,#00009f,#0000a0,#0000a7,#0000b2,#0000be,#0000c7,#0000ca,#0000c9,#0000c8,#0000c8,#0000cb,#0000cd,#0000c9,#0000bf,#0000b3,#0000ab,#0000ad,#0000ba,#0000c9,#0000d4,#0000d7,#0000d6,#0000d6,#0000db,#0000e6,#0000f2,#0000fa,#0000fb,#0000f8,#0000f4,#0000f1,#0000ef,#0000ef,#0000ee,#0000ed,#0000ec,#0000ec,#0000ee,#0000f0,#0000ef,#0000e8,#0000dd,#0000d1,#0000c8,#0000c6,#0000c8,#0000c9,#0000c4,#0000ba,#0000ad,#0000a4,#0000a0,#0000a0,#0000a2,#0000a4,#0000a4,#0000a4,#0000a3,#0000a3,#0000a3,#0000a3,#0000a3,#0000a3,#0000a3,#0000a3,#0000a3,#0000a3,#0000a3,#0000a3,#0000a3,#0000a3,#0000a3,#0000a3)"></i><i style="background:linear-gradient(90deg,#0000be,#0000c3,#0000cc,#0000d6,#0000dc,#0000db,#0000d2,#0000c5,#0000b8,#0000ac,#0000a4,#00009f,#00009d,#00009e,#0000a1,#0000a3,#0000a5,#0000a5,#0000a4,#0000a1,#00009f,#00009f,#0000a4,#0000ad,#0000b8,#0000c1,#0000c6,#0000c7,#0000c7,#0000c9,#0000cc,#0000ce,#0000ca,#0000bf,#0000b3,#0000aa,#0000ad,#0000b8,#0000c7,#0000d2,#0000d6,#0000d5,#0000d5,#0000db,#0000e5,#0000f0,#0000f7,#0000f7,#0000f3,#0000ee,#0000eb,#0000ea,#0000ea,#0000e9,#0000e6,#0000e3,#0000e1,#0000e2,#0000e4,#0000e3,#0000de,#0000d2,#0000c6,#0000be,#0000bd,#0000bf,#0000c1,#0000bd,#0000b3,#0000a7,#00009d,#00009a,#00009c,#00009f,#0000a2,#0000a3,#0000a2,#0000a2,#0000a2,#0000a3,#0000a3,#0000a3,#0000a3,#0000a3,#0000a3,#0000a3,#0000a3,#0000a3,#0000a3,#0000a3,#0000a3,#0000a3,#0000a3)"></i><i style="background:linear-gradient(90deg,#0000b8,#0000bb,#0000c2,#0000c9,#0000cd,#0000cb,#0000c3,#0000b9,#0000ae,#0000a6,#0000a0,#00009c,#00009b,#00009d,#0000a0,#0000a2,#0000a4,#0000a5,#0000a4,#0000a2,#0000a0,#00009f,#0000a2,#0000a9,#0000b2,#0000ba,#0000c0,#0000c3,#0000c6,#0000ca,#0000cd,#0000ce,#0000ca,#0000c1,#0000b5,#0000ae,#0000b0,#0000ba,#0000c6,#0000d1,#0000d5,#0000d6,#0000d8,#0000de,#0000e8,#0000f0,#0000f4,#0000f2,#0000ec,#0000e6,#0000e4,#0000e4,#0000e4,#0000e2,#0000dd,#0000d7,#0000d2,#0000d2,#0000d4,#0000d4,#0000cf,#0000c6,#0000bb,#0000b4,#0000b3,#0000b5,#0000b7,#0000b4,#0000ab,#0000a1,#000099,#000097,#000099,#00009d,#00009f,#0000a0,#0000a1,#0000a1,#0000a1,#0000a2,#0000a3,#0000a3,#0000a4,#0000a3,#0000a3,#0000a3,#0000a3,#0000a3,#0000a3,#0000a3,#0000a3,#0000a3,#0000a3)"></i><i style="background:linear-gradient(90deg,#0000b1,#0000b3,#0000b7,#0000bb,#0000be,#0000bc,#0000b7,#0000b0,#0000a9,#0000a3,#00009e,#00009c,#00009b,#00009d,#00009f,#0000a1,#0000a3,#0000a4,#0000a4,#0000a3,#0000a1,#0000a0,#0000a1,#0000a5,#0000ab,#0000b2,#0000b9,#0000bf,#0000c5,#0000ca,#0000cd,#0000cd,#0000ca,#0000c3,#0000ba,#0000b5,#0000b6,#0000bc,#0000c6,#0000cf,#0000d5,#0000d9,#0000de,#0000e4,#0000ec,#0000f1,#0000f2,#0000ec,#0000e5,#0000de,#0000dc,#0000dc,#0000dd,#0000da,#0000d2,#0000c9,#0000c2,#0000c0,#0000c2,#0000c3,#0000c0,#0000b9,#0000b1,#0000ac,#0000aa,#0000ac,#0000ad,#0000ab,#0000a5,#00009e,#000098,#000097,#000099,#00009c,#00009e,#00009f,#00009f,#0000a0,#0000a1,#0000a2,#0000a3,#0000a3,#0000a4,#0000a3,#0000a3,#0000a3,#0000a3,#0000a3,#0000a3,#0000a3,#0000a3,#0000a3,#0000a3)"></i><i style="background:linear-gradient(90deg,#0000aa,#0000ab,#0000ad,#0000af,#0000b0,#0000af,#0000ac,#0000a9,#0000a5,#0000a2,#00009f,#00009e,#00009e,#00009e,#0000a0,#0000a1,#0000a2,#0000a3,#0000a4,#0000a3,#0000a3,#0000a2,#0000a2,#0000a3,#0000a5,#0000aa,#0000b2,#0000bc,#0000c4,#0000ca,#0000cd,#0000cc,#0000c9,#0000c5,#0000c0,#0000bd,#0000bd,#0000c1,#0000c6,#0000cd,#0000d5,#0000dd,#0000e4,#0000eb,#0000f0,#0000f2,#0000ef,#0000e7,#0000dd,#0000d5,#0000d3,#0000d4,#0000d5,#0000d1,#0000c8,#0000bc,#0000b3,#0000b0,#0000b0,#0000b2,#0000b2,#0000ae,#0000a9,#0000a6,#0000a4,#0000a5,#0000a6,#0000a4,#0000a1,#00009d,#00009b,#00009a,#00009b,#00009d,#00009e,#00009f,#00009f,#0000a0,#0000a1,#0000a2,#0000a3,#0000a3,#0000a3,#0000a3,#0000a3,#0000a3,#0000a3,#0000a3,#0000a3,#0000a3,#0000a3,#0000a3,#0000a3)"></i><i style="background:linear-gradient(90deg,#0000a4,#0000a4,#0000a5,#0000a5,#0000a5,#0000a5,#0000a5,#0000a4,#0000a3,#0000a3,#0000a2,#0000a2,#0000a2,#0000a2,#0000a2,#0000a2,#0000a3,#0000a3,#0000a3,#0000a4,#0000a4,#0000a4,#0000a2,#0000a1,#0000a0,#0000a4,#0000ad,#0000b9,#0000c3,#0000ca,#0000cb,#0000ca,#0000c8,#0000c7,#0000c7,#0000c7,#0000c7,#0000c6,#0000c7,#0000cc,#0000d5,#0000e0,#0000eb,#0000f2,#0000f5,#0000f3,#0000ec,#0000e1,#0000d5,#0000cc,#0000c9,#0000cb,#0000cc,#0000c8,#0000be,#0000b2,#0000a7,#0000a2,#0000a2,#0000a4,#0000a6,#0000a6,#0000a4,#0000a3,#0000a3,#0000a3,#0000a3,#0000a3,#0000a2,#0000a1,#0000a1,#0000a1,#0000a1,#0000a1,#0000a2,#0000a2,#0000a2,#0000a2,#0000a3,#0000a3,#0000a3,#0000a3,#0000a3,#0000a3,#0000a3,#0000a3,#0000a3,#0000a3,#0000a3,#0000a3,#0000a3,#0000a3,#0000a3)"></i><i style="background:linear-gradient(90deg,#0000a1,#0000a1,#0000a0,#00009f,#00009f,#00009f,#0000a0,#0000a1,#0000a3,#0000a5,#0000a6,#0000a8,#0000a8,#0000a8,#0000a8,#0000a6,#0000a5,#0000a4,#0000a3,#0000a4,#0000a4,#0000a5,#0000a3,#00009f,#00009e,#0000a0,#0000aa,#0000b7,#0000c3,#0000c9,#0000ca,#0000c8,#0000c7,#0000ca,#0000ce,#0000d1,#0000d0,#0000cc,#0000c9,#0000cb,#0000d4,#0000e2,#0000ef,#0000f7,#0000f8,#0000f4,#0000ea,#0000dd,#0000ce,#0000c3,#0000c0,#0000c1,#0000c2,#0000bf,#0000b6,#0000aa,#0000a0,#00009a,#00009a,#00009c,#00009f,#0000a2,#0000a4,#0000a5,#0000a6,#0000a6,#0000a7,#0000a8,#0000a9,#0000ab,#0000ac,#0000ac,#0000ab,#0000aa,#0000a9,#0000a9,#0000a8,#0000a7,#0000a6,#0000a4,#0000a3,#0000a3,#0000a3,#0000a3,#0000a3,#0000a3,#0000a3,#0000a3,#0000a3,#0000a3,#0000a3,#0000a3,#0000a3)"></i><i style="background:linear-gradient(90deg,#0000a0,#00009f,#00009e,#00009d,#00009d,#00009d,#00009e,#0000a0,#0000a3,#0000a7,#0000ab,#0000ae,#0000b0,#0000b0,#0000af,#0000ac,#0000a9,#0000a5,#0000a3,#0000a3,#0000a4,#0000a5,#0000a3,#00009f,#00009c,#00009f,#0000a8,#0000b6,#0000c2,#0000c8,#0000c8,#0000c6,#0000c7,#0000cd,#0000d5,#0000da,#0000d9,#0000d1,#0000ca,#0000ca,#0000d3,#0000e2,#0000f0,#0000f9,#0000fa,#0000f5,#0000e9,#0000d8,#0000c8,#0000bb,#0000b6,#0000b7,#0000b9,#0000b7,#0000b0,#0000a6,#00009d,#000098,#000097,#000099,#00009d,#0000a2,#0000a7,#0000ab,#0000ae,#0000b0,#0000b1,#0000b3,#0000b6,#0000b9,#0000ba,#0000ba,#0000b9,#0000b7,#0000b5,#0000b2,#0000b0,#0000ad,#0000aa,#0000a7,#0000a4,#0000a2,#0000a2,#0000a3,#0000a3,#0000a3,#0000a3,#0000a3,#0000a3,#0000a3,#0000a3,#0000a3,#0000a3)"></i><i style="background:linear-gradient(90deg,#0000a0,#00009f,#00009f,#00009e,#00009d,#00009d,#00009d,#00009f,#0000a3,#0000a9,#0000b0,#0000b5,#0000b9,#0000ba,#0000b8,#0000b4,#0000ae,#0000a8,#0000a3,#0000a2,#0000a3,#0000a4,#0000a3,#00009f,#00009d,#00009f,#0000a9,#0000b6,#0000c2,#0000c8,#0000c7,#0000c5,#0000c6,#0000cf,#0000da,#0000e2,#0000e0,#0000d6,#0000cc,#0000c9,#0000d2,#0000e1,#0000f0,#0000fa,#0000fb,#0000f5,#0000e8,#0000d5,#0000c2,#0000b4,#0000ad,#0000ae,#0000b0,#0000b0,#0000ab,#0000a4,#00009d,#000099,#000098,#00009a,#00009e,#0000a5,#0000ac,#0000b3,#0000b9,#0000bd,#0000c0,#0000c3,#0000c6,#0000c8,#0000ca,#0000ca,#0000c8,#0000c6,#0000c2,#0000bf,#0000ba,#0000b5,#0000af,#0000a9,#0000a4,#0000a2,#0000a2,#0000a2,#0000a3,#0000a4,#0000a3,#0000a3,#0000a3,#0000a3,#0000a3,#0000a3,#0000a3)"></i><i style="background:linear-gradient(90deg,#0000a1,#0000a1,#0000a1,#0000a0,#00009f,#00009e,#00009e,#00009f,#0000a4,#0000ab,#0000b4,#0000bc,#0000c2,#0000c3,#0000c1,#0000bb,#0000b3,#0000aa,#0000a4,#0000a2,#0000a2,#0000a4,#0000a3,#0000a0,#00009e,#0000a0,#0000aa,#0000b7,#0000c2,#0000c7,#0000c6,#0000c4,#0000c6,#0000d1,#0000de,#0000e8,#0000e6,#0000da,#0000ce,#0000c9,#0000d0,#0000de,#0000ee,#0000f8,#0000fa,#0000f5,#0000e7,#0000d3,#0000be,#0000ad,#0000a5,#0000a5,#0000a8,#0000aa,#0000a8,#0000a4,#0000a0,#00009c,#00009b,#00009c,#0000a1,#0000a9,#0000b2,#0000bc,#0000c4,#0000cb,#0000d0,#0000d4,#0000d7,#0000d9,#0000d9,#0000d9,#0000d8,#0000d6,#0000d2,#0000cc,#0000c5,#0000bc,#0000b4,#0000ab,#0000a5,#0000a2,#0000a1,#0000a2,#0000a3,#0000a4,#0000a3,#0000a3,#0000a3,#0000a3,#0000a3,#0000a3,#0000a3)"></i><i style="background:linear-gradient(90deg,#0000a2,#0000a3,#0000a3,#0000a3,#0000a2,#0000a1,#00009f,#0000a0,#0000a4,#0000ad,#0000b8,#0000c3,#0000c9,#0000cb,#0000c9,#0000c2,#0000b7,#0000ac,#0000a4,#0000a1,#0000a1,#0000a3,#0000a3,#0000a0,#00009f,#0000a2,#0000ac,#0000b8,#0000c3,#0000c8,#0000c6,#0000c4,#0000c7,#0000d2,#0000e1,#0000ea,#0000e8,#0000dc,#0000cf,#0000c8,#0000cd,#0000da,#0000e9,#0000f4,#0000f8,#0000f4,#0000e7,#0000d3,#0000bc,#0000a9,#00009f,#00009f,#0000a2,#0000a6,#0000a6,#0000a5,#0000a3,#0000a0,#00009f,#0000a0,#0000a4,#0000ad,#0000b7,#0000c3,#0000cf,#0000d9,#0000e1,#0000e5,#0000e7,#0000e7,#0000e6,#0000e7,#0000e7,#0000e6,#0000e1,#0000d9,#0000cf,#0000c3,#0000b8,#0000ad,#0000a5,#0000a1,#0000a1,#0000a2,#0000a3,#0000a4,#0000a4,#0000a3,#0000a3,#0000a3,#0000a3,#0000a3,#0000a3)"></i><i style="background:linear-gradient(90deg,#0000a4,#0000a4,#0000a5,#0000a5,#0000a5,#0000a3,#0000a1,#0000a1,#0000a5,#0000af,#0000bc,#0000c7,#0000cf,#0000d1,#0000cf,#0000c7,#0000bb,#0000ae,#0000a4,#0000a0,#0000a1,#0000a3,#0000a3,#0000a1,#0000a0,#0000a4,#0000ad,#0000ba,#0000c5,#0000c9,#0000c8,#0000c6,#0000c8,#0000d3,#0000e0,#0000ea,#0000e8,#0000dc,#0000cf,#0000c7,#0000cb,#0000d6,#0000e3,#0000ef,#0000f5,#0000f4,#0000e9,#0000d3,#0000bb,#0000a6,#00009b,#00009a,#00009e,#0000a3,#0000a5,#0000a6,#0000a5,#0000a3,#0000a2,#0000a2,#0000a7,#0000af,#0000ba,#0000c8,#0000d7,#0000e5,#0000ef,#0000f4,#0000f4,#0000f1,#0000ef,#0000f1,#0000f4,#0000f4,#0000f0,#0000e5,#0000d7,#0000c8,#0000ba,#0000ae,#0000a5,#0000a1,#0000a0,#0000a2,#0000a3,#0000a4,#0000a4,#0000a4,#0000a3,#0000a3,#0000a3,#0000a3,#0000a3)"></i><i style="background:linear-gradient(90deg,#0000a4,#0000a5,#0000a6,#0000a7,#0000a7,#0000a4,#0000a2,#0000a1,#0000a6,#0000b0,#0000be,#0000ca,#0000d2,#0000d5,#0000d2,#0000ca,#0000bd,#0000af,#0000a4,#0000a0,#0000a1,#0000a3,#0000a4,#0000a2,#0000a2,#0000a5,#0000af,#0000bb,#0000c6,#0000cb,#0000ca,#0000c8,#0000ca,#0000d2,#0000de,#0000e5,#0000e4,#0000da,#0000ce,#0000c6,#0000c8,#0000d0,#0000dc,#0000e8,#0000f2,#0000f4,#0000ea,#0000d5,#0000bb,#0000a5,#000099,#000098,#00009c,#0000a2,#0000a5,#0000a6,#0000a5,#0000a4,#0000a3,#0000a4,#0000a8,#0000af,#0000bb,#0000ca,#0000dc,#0000ee,#0000fb,#0001ff,#0000fd,#0000f7,#0000f3,#0000f7,#0000fd,#0002ff,#0000fc,#0000ef,#0000de,#0000cb,#0000bb,#0000ae,#0000a5,#0000a1,#0000a0,#0000a2,#0000a3,#0000a4,#0000a4,#0000a4,#0000a4,#0000a3,#0000a3,#0000a3,#0000a3)"></i><i style="background:linear-gradient(90deg,#0000a5,#0000a5,#0000a6,#0000a7,#0000a7,#0000a5,#0000a2,#0000a1,#0000a6,#0000b1,#0000be,#0000cb,#0000d4,#0000d7,#0000d4,#0000cb,#0000bd,#0000af,#0000a4,#0000a0,#0000a1,#0000a3,#0000a4,#0000a3,#0000a2,#0000a6,#0000af,#0000bc,#0000c8,#0000cd,#0000cd,#0000ca,#0000cb,#0000d1,#0000d9,#0000df,#0000dd,#0000d6,#0000cd,#0000c6,#0000c5,#0000ca,#0000d4,#0000e1,#0000ed,#0000f3,#0000ec,#0000d7,#0000bc,#0000a5,#000099,#000098,#00009c,#0000a2,#0000a5,#0000a6,#0000a5,#0000a4,#0000a4,#0000a4,#0000a8,#0000ae,#0000ba,#0000ca,#0000de,#0000f4,#0004ff,#0009ff,#0003ff,#0000f9,#0000f4,#0000f9,#0004ff,#000bff,#0007ff,#0000f7,#0000e2,#0000cc,#0000bb,#0000ae,#0000a5,#0000a1,#0000a1,#0000a2,#0000a3,#0000a4,#0000a4,#0000a4,#0000a4,#0000a4,#0000a3,#0000a3,#0000a3)"></i><i style="background:linear-gradient(90deg,#0000a4,#0000a5,#0000a6,#0000a7,#0000a7,#0000a4,#0000a2,#0000a1,#0000a6,#0000b1,#0000be,#0000ca,#0000d3,#0000d5,#0000d2,#0000ca,#0000bd,#0000af,#0000a4,#0000a0,#0000a1,#0000a3,#0000a4,#0000a3,#0000a2,#0000a5,#0000af,#0000bc,#0000c8,#0000ce,#0000ce,#0000cc,#0000cb,#0000ce,#0000d2,#0000d6,#0000d6,#0000d1,#0000cb,#0000c6,#0000c4,#0000c6,#0000cd,#0000da,#0000e8,#0000f1,#0000ec,#0000d9,#0000be,#0000a6,#000099,#000098,#00009d,#0000a2,#0000a5,#0000a6,#0000a5,#0000a4,#0000a3,#0000a4,#0000a7,#0000ad,#0000b7,#0000c8,#0000df,#0000f7,#000aff,#000eff,#0005ff,#0000f8,#0000f2,#0000f9,#0007ff,#0010ff,#000dff,#0000fb,#0000e3,#0000cb,#0000b9,#0000ac,#0000a5,#0000a1,#0000a1,#0000a2,#0000a3,#0000a4,#0000a4,#0000a4,#0000a4,#0000a4,#0000a3,#0000a3,#0000a3)"></i><i style="background:linear-gradient(90deg,#0000a4,#0000a4,#0000a5,#0000a5,#0000a5,#0000a3,#0000a1,#0000a1,#0000a5,#0000af,#0000bc,#0000c8,#0000cf,#0000d2,#0000cf,#0000c7,#0000bb,#0000ae,#0000a4,#0000a0,#0000a1,#0000a3,#0000a4,#0000a2,#0000a1,#0000a4,#0000ad,#0000ba,#0000c5,#0000cc,#0000cd,#0000cb,#0000c9,#0000c9,#0000cb,#0000cc,#0000cd,#0000cc,#0000c9,#0000c6,#0000c3,#0000c2,#0000c7,#0000d3,#0000e2,#0000ed,#0000eb,#0000d9,#0000be,#0000a7,#00009b,#00009a,#00009f,#0000a4,#0000a6,#0000a5,#0000a4,#0000a3,#0000a2,#0000a3,#0000a5,#0000ab,#0000b5,#0000c6,#0000de,#0000f8,#000cff,#000fff,#0004ff,#0000f5,#0000ee,#0000f5,#0005ff,#0011ff,#000eff,#0000fa,#0000e1,#0000c8,#0000b6,#0000ab,#0000a5,#0000a2,#0000a1,#0000a2,#0000a3,#0000a4,#0000a4,#0000a4,#0000a4,#0000a3,#0000a3,#0000a3,#0000a3)"></i><i style="background:linear-gradient(90deg,#0000a2,#0000a3,#0000a3,#0000a3,#0000a2,#0000a1,#00009f,#0000a0,#0000a4,#0000ad,#0000b8,#0000c3,#0000c9,#0000cb,#0000c9,#0000c2,#0000b8,#0000ad,#0000a4,#0000a1,#0000a1,#0000a2,#0000a2,#0000a0,#00009f,#0000a2,#0000aa,#0000b5,#0000c0,#0000c7,#0000c9,#0000c7,#0000c5,#0000c3,#0000c2,#0000c3,#0000c4,#0000c7,#0000c8,#0000c7,#0000c4,#0000c1,#0000c3,#0000cd,#0000dd,#0000e8,#0000e7,#0000d6,#0000be,#0000a8,#00009d,#00009c,#0000a0,#0000a5,#0000a6,#0000a5,#0000a3,#0000a2,#0000a1,#0000a1,#0000a4,#0000a9,#0000b3,#0000c5,#0000dd,#0000f7,#000aff,#000dff,#0001ff,#0000f0,#0000e8,#0000f0,#0000ff,#000cff,#0008ff,#0000f5,#0000db,#0000c3,#0000b2,#0000a9,#0000a4,#0000a2,#0000a2,#0000a3,#0000a3,#0000a3,#0000a3,#0000a3,#0000a3,#0000a3,#0000a3,#0000a3,#0000a3)"></i><i style="background:linear-gradient(90deg,#0000a1,#0000a1,#0000a1,#0000a0,#00009f,#00009e,#00009d,#00009e,#0000a2,#0000aa,#0000b4,#0000bc,#0000c1,#0000c3,#0000c1,#0000bb,#0000b3,#0000ab,#0000a5,#0000a2,#0000a1,#0000a1,#0000a1,#00009e,#00009d,#00009f,#0000a5,#0000af,#0000b8,#0000bf,#0000c1,#0000c1,#0000be,#0000bb,#0000b9,#0000b9,#0000bd,#0000c2,#0000c7,#0000c9,#0000c6,#0000c1,#0000c1,#0000ca,#0000d7,#0000e1,#0000e1,#0000d2,#0000bc,#0000a8,#00009e,#00009d,#0000a1,#0000a5,#0000a6,#0000a5,#0000a3,#0000a1,#00009f,#00009f,#0000a2,#0000a8,#0000b3,#0000c4,#0000dc,#0000f4,#0006ff,#0008ff,#0000fb,#0000eb,#0000e2,#0000e9,#0000f6,#0002ff,#0000fd,#0000eb,#0000d2,#0000bc,#0000ae,#0000a6,#0000a4,#0000a3,#0000a3,#0000a3,#0000a3,#0000a3,#0000a2,#0000a1,#0000a1,#0000a2,#0000a3,#0000a3,#0000a3)"></i><i style="background:linear-gradient(90deg,#0000a0,#0000a0,#00009f,#00009e,#00009d,#00009c,#00009c,#00009d,#0000a1,#0000a7,#0000ae,#0000b5,#0000b8,#0000b9,#0000b8,#0000b4,#0000af,#0000a9,#0000a5,#0000a2,#0000a1,#0000a1,#00009f,#00009d,#00009b,#00009c,#0000a1,#0000a8,#0000b0,#0000b6,#0000b8,#0000b8,#0000b7,#0000b3,#0000b1,#0000b1,#0000b6,#0000be,#0000c7,#0000ca,#0000c8,#0000c3,#0000c2,#0000c7,#0000d2,#0000da,#0000d9,#0000cc,#0000b9,#0000a8,#00009f,#00009f,#0000a2,#0000a6,#0000a6,#0000a5,#0000a3,#0000a0,#00009e,#00009e,#0000a1,#0000a8,#0000b3,#0000c4,#0000da,#0000f1,#0000ff,#0001ff,#0000f4,#0000e5,#0000dc,#0000e0,#0000eb,#0000f3,#0000ef,#0000de,#0000c8,#0000b4,#0000a9,#0000a4,#0000a3,#0000a3,#0000a4,#0000a4,#0000a3,#0000a2,#0000a1,#0000a0,#0000a0,#0000a1,#0000a2,#0000a3,#0000a4)"></i><i style="background:linear-gradient(90deg,#0000a0,#00009f,#00009e,#00009d,#00009c,#00009c,#00009c,#00009d,#0000a0,#0000a5,#0000a9,#0000ad,#0000af,#0000b0,#0000af,#0000ad,#0000aa,#0000a7,#0000a5,#0000a3,#0000a2,#0000a0,#00009f,#00009c,#00009b,#00009c,#00009f,#0000a3,#0000a8,#0000ad,#0000af,#0000b0,#0000ae,#0000ab,#0000a9,#0000aa,#0000b0,#0000ba,#0000c5,#0000cb,#0000ca,#0000c6,#0000c3,#0000c6,#0000cd,#0000d3,#0000d1,#0000c6,#0000b6,#0000a7,#0000a0,#0000a0,#0000a3,#0000a5,#0000a6,#0000a5,#0000a3,#0000a0,#00009e,#00009d,#0000a1,#0000a8,#0000b4,#0000c5,#0000d9,#0000ec,#0000f8,#0000f8,#0000ed,#0000de,#0000d5,#0000d6,#0000de,#0000e3,#0000de,#0000cf,#0000bd,#0000ad,#0000a4,#0000a2,#0000a3,#0000a4,#0000a4,#0000a4,#0000a3,#0000a2,#0000a0,#0000a0,#0000a0,#0000a1,#0000a2,#0000a3,#0000a4)"></i><i style="background:linear-gradient(90deg,#0000a1,#0000a1,#0000a0,#00009f,#00009e,#00009e,#00009f,#0000a0,#0000a1,#0000a3,#0000a5,#0000a7,#0000a8,#0000a8,#0000a8,#0000a7,#0000a6,#0000a5,#0000a4,#0000a3,#0000a2,#0000a1,#0000a0,#00009f,#00009e,#00009e,#00009f,#0000a1,#0000a4,#0000a6,#0000a8,#0000a8,#0000a7,#0000a5,#0000a3,#0000a4,#0000ab,#0000b7,#0000c2,#0000ca,#0000cb,#0000c8,#0000c5,#0000c7,#0000ca,#0000cd,#0000ca,#0000c0,#0000b2,#0000a6,#0000a0,#0000a0,#0000a2,#0000a5,#0000a5,#0000a5,#0000a3,#0000a1,#00009f,#00009f,#0000a2,#0000aa,#0000b6,#0000c5,#0000d7,#0000e6,#0000f0,#0000ef,#0000e4,#0000d7,#0000cd,#0000cd,#0000d1,#0000d3,#0000ce,#0000c2,#0000b2,#0000a6,#0000a1,#0000a1,#0000a2,#0000a4,#0000a4,#0000a4,#0000a3,#0000a2,#0000a1,#0000a1,#0000a1,#0000a2,#0000a3,#0000a3,#0000a4)"></i><i style="background:linear-gradient(90deg,#0000a4,#0000a4,#0000a5,#0000a5,#0000a5,#0000a5,#0000a5,#0000a5,#0000a4,#0000a3,#0000a3,#0000a2,#0000a2,#0000a2,#0000a2,#0000a2,#0000a2,#0000a3,#0000a3,#0000a3,#0000a3,#0000a4,#0000a4,#0000a5,#0000a5,#0000a5,#0000a5,#0000a4,#0000a3,#0000a3,#0000a4,#0000a3,#0000a2,#0000a0,#00009f,#0000a0,#0000a7,#0000b2,#0000be,#0000c7,#0000c9,#0000c9,#0000c8,#0000c8,#0000c9,#0000c9,#0000c5,#0000bb,#0000af,#0000a5,#0000a0,#00009f,#0000a1,#0000a3,#0000a4,#0000a4,#0000a4,#0000a2,#0000a1,#0000a2,#0000a6,#0000ae,#0000b9,#0000c6,#0000d4,#0000e1,#0000e9,#0000e7,#0000dc,#0000cf,#0000c5,#0000c3,#0000c4,#0000c5,#0000c0,#0000b6,#0000ab,#0000a2,#00009f,#0000a0,#0000a2,#0000a4,#0000a4,#0000a4,#0000a3,#0000a3,#0000a4,#0000a4,#0000a4,#0000a4,#0000a3,#0000a3,#0000a3)"></i><i style="background:linear-gradient(90deg,#0000a9,#0000aa,#0000ac,#0000af,#0000b1,#0000b1,#0000af,#0000ac,#0000a9,#0000a6,#0000a3,#0000a0,#00009f,#00009f,#0000a0,#0000a0,#0000a0,#0000a0,#0000a1,#0000a3,#0000a5,#0000a8,#0000ac,#0000af,#0000b1,#0000b1,#0000b0,#0000ac,#0000a9,#0000a6,#0000a3,#0000a2,#0000a0,#00009e,#00009d,#00009f,#0000a5,#0000ae,#0000b8,#0000c0,#0000c6,#0000c8,#0000c9,#0000ca,#0000ca,#0000c8,#0000c2,#0000b8,#0000ac,#0000a3,#00009e,#00009e,#0000a0,#0000a2,#0000a3,#0000a4,#0000a4,#0000a5,#0000a6,#0000a8,#0000ac,#0000b3,#0000bb,#0000c6,#0000d2,#0000dc,#0000e2,#0000df,#0000d4,#0000c7,#0000bd,#0000b9,#0000b9,#0000b9,#0000b6,#0000ae,#0000a6,#0000a0,#00009e,#0000a0,#0000a3,#0000a4,#0000a3,#0000a3,#0000a3,#0000a6,#0000a8,#0000aa,#0000a9,#0000a7,#0000a5,#0000a3,#0000a2)"></i><i style="background:linear-gradient(90deg,#0000b0,#0000b2,#0000b6,#0000bb,#0000bf,#0000bf,#0000bc,#0000b6,#0000b0,#0000a9,#0000a4,#0000a0,#00009f,#00009f,#0000a0,#0000a0,#00009f,#00009e,#00009f,#0000a2,#0000a8,#0000ae,#0000b5,#0000bb,#0000bf,#0000c0,#0000be,#0000b8,#0000b2,#0000ab,#0000a6,#0000a2,#00009f,#00009e,#00009d,#00009f,#0000a3,#0000aa,#0000b1,#0000b9,#0000c0,#0000c6,#0000ca,#0000cc,#0000cc,#0000c9,#0000c1,#0000b7,#0000ab,#0000a2,#00009d,#00009c,#00009e,#0000a0,#0000a2,#0000a3,#0000a5,#0000a7,#0000ab,#0000af,#0000b4,#0000b9,#0000be,#0000c6,#0000cf,#0000d7,#0000dc,#0000d8,#0000cd,#0000bf,#0000b5,#0000b0,#0000b0,#0000b0,#0000ae,#0000a9,#0000a3,#00009f,#00009f,#0000a1,#0000a3,#0000a3,#0000a2,#0000a2,#0000a4,#0000a8,#0000ae,#0000b1,#0000b0,#0000ac,#0000a6,#0000a2,#0000a1)"></i><i style="background:linear-gradient(90deg,#0000b7,#0000ba,#0000c1,#0000c9,#0000cf,#0000cf,#0000c9,#0000c1,#0000b7,#0000ae,#0000a6,#0000a1,#00009f,#0000a0,#0000a0,#0000a0,#00009f,#00009d,#00009e,#0000a3,#0000aa,#0000b4,#0000be,#0000c8,#0000ce,#0000d0,#0000cd,#0000c6,#0000bc,#0000b3,#0000ab,#0000a4,#0000a0,#00009e,#00009f,#0000a0,#0000a3,#0000a6,#0000aa,#0000b1,#0000b9,#0000c2,#0000ca,#0000ce,#0000ce,#0000ca,#0000c2,#0000b7,#0000ab,#0000a1,#00009c,#00009c,#00009e,#0000a0,#0000a1,#0000a2,#0000a5,#0000aa,#0000b0,#0000b7,#0000bc,#0000bf,#0000c2,#0000c6,#0000cc,#0000d3,#0000d6,#0000d1,#0000c6,#0000b8,#0000ad,#0000a9,#0000a9,#0000aa,#0000a9,#0000a6,#0000a3,#0000a0,#0000a1,#0000a2,#0000a3,#0000a3,#0000a1,#0000a1,#0000a4,#0000ac,#0000b4,#0000b9,#0000b7,#0000b1,#0000a8,#0000a2,#0000a0)"></i><i style="background:linear-gradient(90deg,#0000bd,#0000c2,#0000cb,#0000d6,#0000dd,#0000dd,#0000d6,#0000cb,#0000be,#0000b2,#0000a9,#0000a3,#0000a0,#0000a1,#0000a2,#0000a2,#0000a0,#00009e,#00009f,#0000a5,#0000ae,#0000ba,#0000c7,#0000d3,#0000dc,#0000df,#0000dc,#0000d3,#0000c7,#0000ba,#0000b0,#0000a7,#0000a2,#0000a0,#0000a1,#0000a2,#0000a2,#0000a3,#0000a4,#0000a9,#0000b3,#0000be,#0000c8,#0000ce,#0000cf,#0000cc,#0000c4,#0000b8,#0000ac,#0000a2,#00009d,#00009d,#00009f,#0000a0,#0000a0,#0000a1,#0000a4,#0000ab,#0000b4,#0000be,#0000c3,#0000c5,#0000c5,#0000c6,#0000ca,#0000ce,#0000cf,#0000ca,#0000bf,#0000b2,#0000a7,#0000a3,#0000a3,#0000a5,#0000a6,#0000a5,#0000a3,#0000a2,#0000a2,#0000a3,#0000a4,#0000a2,#0000a0,#0000a0,#0000a4,#0000af,#0000ba,#0000c0,#0000be,#0000b5,#0000aa,#0000a2,#00009f)"></i><i style="background:linear-gradient(90deg,#0000c3,#0000c8,#0000d4,#0000e1,#0000ea,#0000ea,#0000e1,#0000d3,#0000c4,#0000b6,#0000ac,#0000a4,#0000a1,#0000a2,#0000a3,#0000a3,#0000a2,#0000a1,#0000a3,#0000a9,#0000b2,#0000bf,#0000cd,#0000db,#0000e6,#0000eb,#0000e7,#0000dd,#0000cf,#0000c0,#0000b3,#0000a9,#0000a3,#0000a1,#0000a2,#0000a3,#0000a3,#0000a1,#0000a0,#0000a4,#0000ad,#0000b8,#0000c3,#0000cb,#0000ce,#0000cc,#0000c5,#0000ba,#0000ae,#0000a5,#0000a1,#0000a1,#0000a3,#0000a3,#0000a1,#0000a0,#0000a2,#0000aa,#0000b6,#0000c2,#0000c9,#0000ca,#0000c9,#0000c7,#0000c8,#0000ca,#0000c9,#0000c3,#0000b8,#0000ac,#0000a3,#00009f,#0000a0,#0000a2,#0000a4,#0000a4,#0000a3,#0000a3,#0000a4,#0000a4,#0000a4,#0000a2,#00009f,#00009f,#0000a5,#0000b1,#0000bf,#0000c7,#0000c4,#0000b9,#0000ab,#0000a1,#00009e)"></i><i style="background:linear-gradient(90deg,#0000c7,#0000cd,#0000da,#0000e8,#0000f3,#0000f2,#0000e8,#0000d9,#0000c8,#0000b9,#0000ad,#0000a5,#0000a2,#0000a1,#0000a3,#0000a4,#0000a6,#0000a7,#0000aa,#0000af,#0000b7,#0000c2,#0000d0,#0000df,#0000ec,#0000f2,#0000ef,#0000e3,#0000d3,#0000c3,#0000b5,#0000aa,#0000a4,#0000a2,#0000a3,#0000a4,#0000a3,#0000a0,#00009e,#0000a1,#0000a8,#0000b3,#0000bd,#0000c6,#0000cb,#0000cb,#0000c6,#0000bd,#0000b3,#0000ab,#0000a7,#0000a8,#0000aa,#0000a8,#0000a4,#00009f,#00009f,#0000a8,#0000b6,#0000c4,#0000cc,#0000ce,#0000cc,#0000c9,#0000c6,#0000c5,#0000c2,#0000bb,#0000b2,#0000a8,#0000a1,#00009e,#00009f,#0000a1,#0000a3,#0000a3,#0000a4,#0000a4,#0000a5,#0000a5,#0000a4,#0000a1,#00009e,#00009e,#0000a5,#0000b3,#0000c2,#0000cb,#0000c8,#0000bc,#0000ac,#0000a1,#00009e)"></i><i style="background:linear-gradient(90deg,#0000c9,#0000cf,#0000dd,#0000ec,#0000f7,#0000f7,#0000ec,#0000dc,#0000ca,#0000bb,#0000ae,#0000a6,#0000a1,#0000a0,#0000a2,#0000a5,#0000aa,#0000af,#0000b3,#0000b7,#0000bc,#0000c3,#0000cf,#0000df,#0000ee,#0000f5,#0000f2,#0000e5,#0000d5,#0000c4,#0000b6,#0000ab,#0000a4,#0000a2,#0000a3,#0000a4,#0000a3,#0000a1,#00009f,#0000a0,#0000a5,#0000ad,#0000b6,#0000bf,#0000c5,#0000c9,#0000c7,#0000c1,#0000b8,#0000b2,#0000b0,#0000b1,#0000b2,#0000af,#0000a7,#00009f,#00009d,#0000a4,#0000b3,#0000c3,#0000ce,#0000d1,#0000cf,#0000ca,#0000c5,#0000c0,#0000ba,#0000b3,#0000ac,#0000a5,#0000a0,#00009f,#00009f,#0000a1,#0000a2,#0000a3,#0000a4,#0000a4,#0000a5,#0000a5,#0000a4,#0000a1,#00009e,#00009e,#0000a5,#0000b4,#0000c4,#0000cd,#0000ca,#0000bd,#0000ad,#0000a1,#00009d)"></i><i style="background:linear-gradient(90deg,#0000c9,#0000cf,#0000dd,#0000ec,#0000f7,#0000f7,#0000ec,#0000dc,#0000ca,#0000bb,#0000ae,#0000a6,#0000a0,#00009f,#0000a1,#0000a6,#0000ae,#0000b6,#0000bc,#0000bf,#0000c0,#0000c4,#0000ce,#0000dd,#0000ec,#0000f5,#0000f1,#0000e5,#0000d4,#0000c3,#0000b5,#0000aa,#0000a4,#0000a2,#0000a2,#0000a4,#0000a3,#0000a2,#0000a0,#0000a0,#0000a3,#0000a7,#0000ae,#0000b7,#0000bf,#0000c6,#0000c8,#0000c4,#0000be,#0000b9,#0000b9,#0000bb,#0000bc,#0000b7,#0000ac,#0000a0,#00009b,#0000a2,#0000b1,#0000c1,#0000ce,#0000d2,#0000d1,#0000cb,#0000c4,#0000bb,#0000b3,#0000ac,#0000a7,#0000a3,#0000a1,#0000a0,#0000a1,#0000a1,#0000a2,#0000a3,#0000a3,#0000a4,#0000a5,#0000a5,#0000a4,#0000a1,#00009e,#00009e,#0000a5,#0000b4,#0000c4,#0000cd,#0000ca,#0000bd,#0000ad,#0000a1,#00009d)"></i><i style="background:linear-gradient(90deg,#0000c7,#0000cd,#0000da,#0000e9,#0000f3,#0000f3,#0000e9,#0000d9,#0000c8,#0000ba,#0000ae,#0000a5,#0000a0,#00009d,#0000a0,#0000a6,#0000b1,#0000bb,#0000c3,#0000c5,#0000c4,#0000c4,#0000cc,#0000da,#0000e9,#0000f1,#0000ee,#0000e2,#0000d2,#0000c1,#0000b4,#0000aa,#0000a4,#0000a1,#0000a2,#0000a3,#0000a4,#0000a3,#0000a2,#0000a1,#0000a1,#0000a3,#0000a7,#0000af,#0000ba,#0000c3,#0000c8,#0000c7,#0000c4,#0000c1,#0000c1,#0000c4,#0000c4,#0000be,#0000b1,#0000a4,#00009d,#0000a2,#0000b0,#0000c0,#0000cc,#0000d2,#0000d1,#0000cb,#0000c1,#0000b7,#0000ad,#0000a6,#0000a3,#0000a2,#0000a2,#0000a2,#0000a2,#0000a2,#0000a3,#0000a3,#0000a3,#0000a4,#0000a5,#0000a5,#0000a4,#0000a1,#00009e,#00009e,#0000a5,#0000b3,#0000c2,#0000cb,#0000c8,#0000bc,#0000ac,#0000a1,#00009e)"></i><i style="background:linear-gradient(90deg,#0000c3,#0000c9,#0000d4,#0000e2,#0000eb,#0000eb,#0000e1,#0000d3,#0000c4,#0000b7,#0000ad,#0000a5,#00009f,#00009d,#00009f,#0000a6,#0000b2,#0000be,#0000c6,#0000c8,#0000c6,#0000c5,#0000ca,#0000d6,#0000e4,#0000eb,#0000e9,#0000de,#0000cf,#0000c0,#0000b3,#0000a9,#0000a3,#0000a1,#0000a1,#0000a3,#0000a4,#0000a5,#0000a4,#0000a3,#0000a1,#00009f,#0000a2,#0000a9,#0000b5,#0000c0,#0000c8,#0000ca,#0000c8,#0000c6,#0000c8,#0000ca,#0000ca,#0000c4,#0000b7,#0000aa,#0000a2,#0000a6,#0000b1,#0000bf,#0000ca,#0000cf,#0000ce,#0000c8,#0000be,#0000b2,#0000a8,#0000a1,#0000a0,#0000a1,#0000a3,#0000a4,#0000a4,#0000a3,#0000a3,#0000a3,#0000a3,#0000a3,#0000a4,#0000a5,#0000a4,#0000a1,#00009f,#00009f,#0000a5,#0000b1,#0000bf,#0000c7,#0000c5,#0000b9,#0000ab,#0000a1,#00009e)"></i><i style="background:linear-gradient(90deg,#0000be,#0000c2,#0000cc,#0000d7,#0000df,#0000de,#0000d7,#0000cb,#0000bf,#0000b4,#0000ab,#0000a4,#00009f,#00009d,#00009f,#0000a6,#0000b0,#0000bc,#0000c4,#0000c7,#0000c6,#0000c5,#0000ca,#0000d4,#0000de,#0000e4,#0000e2,#0000d9,#0000cd,#0000c0,#0000b3,#0000a9,#0000a3,#0000a0,#0000a0,#0000a2,#0000a4,#0000a5,#0000a5,#0000a4,#0000a0,#00009e,#00009f,#0000a6,#0000b2,#0000bf,#0000c8,#0000cb,#0000cb,#0000ca,#0000cb,#0000cc,#0000cc,#0000c8,#0000be,#0000b3,#0000ad,#0000af,#0000b7,#0000c1,#0000c8,#0000cb,#0000c9,#0000c3,#0000b9,#0000ae,#0000a4,#00009f,#00009f,#0000a1,#0000a4,#0000a5,#0000a5,#0000a4,#0000a3,#0000a3,#0000a3,#0000a3,#0000a4,#0000a4,#0000a4,#0000a2,#0000a0,#0000a0,#0000a5,#0000af,#0000ba,#0000c1,#0000bf,#0000b5,#0000aa,#0000a2,#00009f)"></i><i style="background:linear-gradient(90deg,#0000b7,#0000ba,#0000c2,#0000ca,#0000d0,#0000cf,#0000ca,#0000c1,#0000b8,#0000b0,#0000a9,#0000a4,#0000a0,#00009f,#0000a0,#0000a5,#0000ad,#0000b6,#0000be,#0000c2,#0000c4,#0000c6,#0000cb,#0000d2,#0000d9,#0000dc,#0000db,#0000d5,#0000cb,#0000c0,#0000b4,#0000aa,#0000a3,#0000a0,#0000a0,#0000a2,#0000a4,#0000a6,#0000a6,#0000a4,#0000a0,#00009d,#00009e,#0000a5,#0000b1,#0000be,#0000c8,#0000cc,#0000cc,#0000cb,#0000cb,#0000cc,#0000cc,#0000ca,#0000c5,#0000bf,#0000bc,#0000bc,#0000c0,#0000c4,#0000c6,#0000c6,#0000c2,#0000bb,#0000b3,#0000aa,#0000a3,#00009f,#00009f,#0000a2,#0000a4,#0000a5,#0000a5,#0000a4,#0000a3,#0000a3,#0000a3,#0000a3,#0000a4,#0000a4,#0000a4,#0000a2,#0000a0,#0000a0,#0000a4,#0000ac,#0000b4,#0000b9,#0000b8,#0000b1,#0000a8,#0000a2,#0000a0)"></i><i style="background:linear-gradient(90deg,#0000b0,#0000b2,#0000b7,#0000bc,#0000c0,#0000c0,#0000bc,#0000b7,#0000b1,#0000ab,#0000a7,#0000a4,#0000a1,#0000a1,#0000a1,#0000a4,#0000a9,#0000af,#0000b5,#0000bb,#0000c1,#0000c7,#0000cc,#0000d0,#0000d3,#0000d5,#0000d4,#0000d0,#0000ca,#0000c1,#0000b6,#0000ab,#0000a3,#0000a0,#0000a0,#0000a2,#0000a4,#0000a6,#0000a6,#0000a4,#0000a0,#00009d,#00009e,#0000a5,#0000b2,#0000bf,#0000c8,#0000cc,#0000cc,#0000cb,#0000c9,#0000c9,#0000ca,#0000ca,#0000cb,#0000cb,#0000cc,#0000cb,#0000ca,#0000c8,#0000c5,#0000c0,#0000ba,#0000b3,#0000ad,#0000a6,#0000a2,#0000a0,#0000a0,#0000a2,#0000a4,#0000a5,#0000a4,#0000a4,#0000a3,#0000a3,#0000a3,#0000a3,#0000a3,#0000a4,#0000a3,#0000a3,#0000a1,#0000a1,#0000a4,#0000a9,#0000ae,#0000b2,#0000b1,#0000ac,#0000a6,#0000a2,#0000a1)"></i><i style="background:linear-gradient(90deg,#0000aa,#0000ab,#0000ad,#0000b0,#0000b1,#0000b1,#0000b0,#0000ad,#0000aa,#0000a7,#0000a5,#0000a3,#0000a3,#0000a2,#0000a3,#0000a3,#0000a4,#0000a7,#0000ac,#0000b4,#0000bd,#0000c6,#0000cc,#0000ce,#0000ce,#0000ce,#0000ce,#0000cd,#0000ca,#0000c2,#0000b7,#0000ac,#0000a3,#00009f,#0000a0,#0000a2,#0000a4,#0000a5,#0000a5,#0000a3,#0000a0,#00009e,#0000a0,#0000a7,#0000b3,#0000bf,#0000c8,#0000cc,#0000cc,#0000c9,#0000c7,#0000c6,#0000c7,#0000ca,#0000d1,#0000d7,#0000db,#0000da,#0000d4,#0000cc,#0000c3,#0000ba,#0000b2,#0000ab,#0000a7,#0000a4,#0000a2,#0000a2,#0000a2,#0000a3,#0000a4,#0000a4,#0000a4,#0000a4,#0000a3,#0000a3,#0000a3,#0000a3,#0000a3,#0000a3,#0000a3,#0000a3,#0000a2,#0000a2,#0000a4,#0000a6,#0000a9,#0000aa,#0000aa,#0000a8,#0000a5,#0000a3,#0000a2)"></i><i style="background:linear-gradient(90deg,#0000a4,#0000a5,#0000a5,#0000a5,#0000a6,#0000a6,#0000a6,#0000a5,#0000a4,#0000a4,#0000a3,#0000a3,#0000a3,#0000a4,#0000a4,#0000a3,#0000a1,#0000a1,#0000a4,#0000ad,#0000b8,#0000c3,#0000ca,#0000cb,#0000ca,#0000c8,#0000c9,#0000ca,#0000c9,#0000c3,#0000b8,#0000ac,#0000a3,#00009f,#0000a0,#0000a2,#0000a4,#0000a5,#0000a5,#0000a3,#0000a0,#00009f,#0000a1,#0000a8,#0000b4,#0000bf,#0000c8,#0000cc,#0000cb,#0000c8,#0000c5,#0000c2,#0000c3,#0000ca,#0000d5,#0000e0,#0000e7,#0000e6,#0000dd,#0000d0,#0000c2,#0000b6,#0000ac,#0000a5,#0000a2,#0000a1,#0000a2,#0000a3,#0000a4,#0000a3,#0000a3,#0000a3,#0000a3,#0000a3,#0000a3,#0000a3,#0000a3,#0000a3,#0000a3,#0000a3,#0000a3,#0000a3,#0000a3,#0000a3,#0000a3,#0000a4,#0000a4,#0000a5,#0000a4,#0000a4,#0000a3,#0000a3,#0000a3)"></i><i style="background:linear-gradient(90deg,#0000a1,#0000a1,#0000a0,#00009f,#00009f,#00009f,#00009f,#0000a0,#0000a1,#0000a2,#0000a2,#0000a3,#0000a4,#0000a5,#0000a4,#0000a2,#00009f,#00009d,#00009f,#0000a7,#0000b3,#0000be,#0000c5,#0000c7,#0000c6,#0000c5,#0000c7,#0000c9,#0000c9,#0000c4,#0000b9,#0000ad,#0000a3,#00009f,#0000a0,#0000a2,#0000a4,#0000a5,#0000a4,#0000a3,#0000a1,#0000a0,#0000a2,#0000a9,#0000b4,#0000c0,#0000c8,#0000cb,#0000cb,#0000c7,#0000c3,#0000c0,#0000c2,#0000c9,#0000d7,#0000e6,#0000ef,#0000ed,#0000e2,#0000d2,#0000c1,#0000b3,#0000a8,#0000a1,#00009f,#0000a0,#0000a3,#0000a4,#0000a4,#0000a4,#0000a3,#0000a3,#0000a3,#0000a3,#0000a3,#0000a3,#0000a3,#0000a3,#0000a3,#0000a3,#0000a3,#0000a3,#0000a3,#0000a3,#0000a3,#0000a2,#0000a2,#0000a1,#0000a1,#0000a2,#0000a3,#0000a3,#0000a4)"></i><i style="background:linear-gradient(90deg,#0000a0,#0000a0,#00009e,#00009d,#00009c,#00009c,#00009d,#00009f,#0000a0,#0000a1,#0000a2,#0000a3,#0000a4,#0000a5,#0000a4,#0000a2,#00009f,#00009d,#00009e,#0000a4,#0000ae,#0000b8,#0000bf,#0000c1,#0000c2,#0000c4,#0000c6,#0000c9,#0000c9,#0000c4,#0000b9,#0000ad,#0000a3,#00009f,#0000a0,#0000a2,#0000a4,#0000a5,#0000a4,#0000a3,#0000a1,#0000a0,#0000a2,#0000aa,#0000b5,#0000c0,#0000c8,#0000cb,#0000ca,#0000c7,#0000c3,#0000c0,#0000c1,#0000c9,#0000d8,#0000e8,#0000f2,#0000f0,#0000e4,#0000d2,#0000c1,#0000b2,#0000a6,#0000a0,#00009e,#0000a0,#0000a3,#0000a5,#0000a5,#0000a4,#0000a3,#0000a3,#0000a3,#0000a3,#0000a3,#0000a3,#0000a3,#0000a3,#0000a3,#0000a3,#0000a3,#0000a3,#0000a4,#0000a4,#0000a3,#0000a2,#0000a1,#0000a0,#0000a0,#0000a1,#0000a2,#0000a3,#0000a4)"></i><i style="background:linear-gradient(90deg,#0000a0,#0000a0,#00009f,#00009e,#00009d,#00009d,#00009e,#00009f,#0000a0,#0000a1,#0000a2,#0000a3,#0000a4,#0000a4,#0000a4,#0000a3,#0000a0,#00009e,#00009e,#0000a2,#0000a9,#0000b0,#0000b7,#0000bc,#0000c0,#0000c4,#0000c8,#0000ca,#0000ca,#0000c3,#0000b8,#0000ac,#0000a3,#00009f,#0000a0,#0000a2,#0000a4,#0000a5,#0000a4,#0000a3,#0000a1,#0000a0,#0000a2,#0000aa,#0000b5,#0000c0,#0000c8,#0000cb,#0000ca,#0000c7,#0000c3,#0000c0,#0000c1,#0000c9,#0000d8,#0000e8,#0000f1,#0000ef,#0000e3,#0000d2,#0000c1,#0000b2,#0000a7,#0000a0,#00009e,#0000a0,#0000a3,#0000a5,#0000a5,#0000a4,#0000a3,#0000a3,#0000a3,#0000a3,#0000a3,#0000a3,#0000a3,#0000a3,#0000a3,#0000a3,#0000a3,#0000a3,#0000a4,#0000a4,#0000a3,#0000a2,#0000a1,#0000a0,#0000a0,#0000a1,#0000a2,#0000a3,#0000a4)"></i><i style="background:linear-gradient(90deg,#0000a1,#0000a1,#0000a0,#0000a0,#00009f,#00009f,#0000a0,#0000a1,#0000a1,#0000a2,#0000a3,#0000a3,#0000a4,#0000a4,#0000a4,#0000a3,#0000a2,#0000a1,#0000a0,#0000a2,#0000a4,#0000a9,#0000af,#0000b6,#0000be,#0000c5,#0000ca,#0000cc,#0000ca,#0000c3,#0000b8,#0000ac,#0000a3,#00009f,#0000a0,#0000a2,#0000a4,#0000a5,#0000a4,#0000a3,#0000a1,#0000a0,#0000a2,#0000a9,#0000b4,#0000c0,#0000c8,#0000cb,#0000cb,#0000c7,#0000c3,#0000c0,#0000c2,#0000c9,#0000d7,#0000e6,#0000ee,#0000ed,#0000e2,#0000d2,#0000c1,#0000b3,#0000a8,#0000a1,#00009f,#0000a0,#0000a3,#0000a4,#0000a4,#0000a4,#0000a3,#0000a3,#0000a3,#0000a3,#0000a3,#0000a3,#0000a3,#0000a3,#0000a3,#0000a3,#0000a3,#0000a3,#0000a3,#0000a3,#0000a3,#0000a2,#0000a2,#0000a1,#0000a1,#0000a2,#0000a3,#0000a3,#0000a3)"></i><i style="background:linear-gradient(90deg,#0000a3,#0000a3,#0000a2,#0000a2,#0000a2,#0000a2,#0000a2,#0000a2,#0000a3,#0000a3,#0000a3,#0000a3,#0000a3,#0000a3,#0000a3,#0000a3,#0000a3,#0000a3,#0000a3,#0000a1,#0000a1,#0000a3,#0000a8,#0000b2,#0000bc,#0000c6,#0000cc,#0000cd,#0000ca,#0000c3,#0000b7,#0000ac,#0000a3,#0000a0,#0000a0,#0000a2,#0000a4,#0000a5,#0000a5,#0000a3,#0000a1,#00009f,#0000a1,#0000a9,#0000b4,#0000c0,#0000c8,#0000cc,#0000cb,#0000c8,#0000c4,#0000c1,#0000c2,#0000c9,#0000d6,#0000e3,#0000eb,#0000ea,#0000df,#0000d1,#0000c1,#0000b4,#0000aa,#0000a3,#0000a0,#0000a1,#0000a2,#0000a4,#0000a4,#0000a4,#0000a3,#0000a3,#0000a3,#0000a3,#0000a3,#0000a3,#0000a3,#0000a3,#0000a3,#0000a3,#0000a3,#0000a3,#0000a3,#0000a3,#0000a3,#0000a3,#0000a3,#0000a3,#0000a3,#0000a3,#0000a3,#0000a3,#0000a3)"></i><i style="background:linear-gradient(90deg,#0000a4,#0000a4,#0000a4,#0000a4,#0000a4,#0000a4,#0000a4,#0000a4,#0000a4,#0000a4,#0000a3,#0000a3,#0000a3,#0000a3,#0000a3,#0000a3,#0000a4,#0000a5,#0000a4,#0000a1,#00009f,#00009f,#0000a4,#0000af,#0000bc,#0000c7,#0000cd,#0000ce,#0000cb,#0000c2,#0000b7,#0000ab,#0000a3,#0000a0,#0000a0,#0000a2,#0000a4,#0000a5,#0000a5,#0000a3,#0000a1,#00009f,#0000a1,#0000a9,#0000b4,#0000c0,#0000c8,#0000cc,#0000cb,#0000c8,#0000c4,#0000c2,#0000c3,#0000ca,#0000d5,#0000e2,#0000e9,#0000e7,#0000de,#0000d0,#0000c2,#0000b5,#0000ab,#0000a4,#0000a1,#0000a1,#0000a2,#0000a3,#0000a4,#0000a4,#0000a3,#0000a3,#0000a3,#0000a3,#0000a3,#0000a3,#0000a3,#0000a3,#0000a3,#0000a3,#0000a3,#0000a3,#0000a3,#0000a3,#0000a3,#0000a3,#0000a4,#0000a4,#0000a4,#0000a3,#0000a3,#0000a3,#0000a3)"></i></div></div><div class="hm" style="left:522px;top:142px;width:58px;height:60px"><div class="hf2" style="left:-3px;top:-3px;width:64px"><i style="height:1px;background:linear-gradient(90deg,#0000c7,#0000c8,#0000cb,#0000ce,#0000d4,#0000db,#0000e2,#0000e9,#0000ef,#0000f3,#0000f5,#0000f6,#0000f7,#0000f8,#0000f9,#0000fc,#0000fe,#0001ff,#0003ff,#0005ff,#0006ff,#0006ff,#0005ff,#0005ff,#0005ff,#0006ff,#0007ff,#0009ff,#000bff,#000cff,#000bff,#0009ff,#0005ff)"></i><i style="height:1px;background:linear-gradient(90deg,#0000ca,#0000cb,#0000ce,#0000d2,#0000d7,#0000de,#0000e4,#0000ea,#0000ef,#0000f2,#0000f4,#0000f6,#0000f7,#0000f9,#0000fc,#0000ff,#0003ff,#0007ff,#0009ff,#000bff,#000cff,#000cff,#000cff,#000cff,#000bff,#000cff,#000dff,#0010ff,#0012ff,#0013ff,#0011ff,#000eff,#0009ff)"></i><i style="height:1px;background:linear-gradient(90deg,#0000cc,#0000cf,#0000d2,#0000d6,#0000db,#0000e1,#0000e6,#0000eb,#0000ef,#0000f2,#0000f4,#0000f6,#0000f8,#0000fa,#0000fe,#0003ff,#0007ff,#000cff,#000fff,#0012ff,#0013ff,#0013ff,#0013ff,#0013ff,#0013ff,#0013ff,#0015ff,#0017ff,#0019ff,#001aff,#0018ff,#0013ff,#000dff)"></i><i style="height:1px;background:linear-gradient(90deg,#0000ce,#0000d2,#0000d6,#0000da,#0000df,#0000e4,#0000e8,#0000ec,#0000ef,#0000f2,#0000f4,#0000f6,#0000f8,#0000fb,#0000ff,#0005ff,#000bff,#0010ff,#0015ff,#0018ff,#001aff,#001bff,#001bff,#001aff,#001bff,#001cff,#001eff,#0021ff,#0022ff,#0022ff,#001eff,#0017ff,#000fff)"></i><i style="height:1px;background:linear-gradient(90deg,#0000d0,#0000d5,#0000da,#0000df,#0000e3,#0000e7,#0000eb,#0000ee,#0000f0,#0000f2,#0000f4,#0000f5,#0000f8,#0000fc,#0002ff,#0008ff,#000fff,#0015ff,#001aff,#001eff,#0021ff,#0022ff,#0022ff,#0023ff,#0024ff,#0026ff,#0029ff,#002bff,#002dff,#002aff,#0025ff,#001cff,#0012ff)"></i><i style="height:1px;background:linear-gradient(90deg,#0000d3,#0000d9,#0000de,#0000e3,#0000e8,#0000eb,#0000ed,#0000ef,#0000f1,#0000f2,#0000f4,#0000f6,#0000f9,#0000fd,#0004ff,#000bff,#0012ff,#001aff,#0020ff,#0025ff,#0028ff,#0029ff,#002aff,#002cff,#002eff,#0031ff,#0035ff,#0038ff,#0038ff,#0033ff,#002bff,#001fff,#0013ff)"></i><i style="height:1px;background:linear-gradient(90deg,#0000d5,#0000dc,#0000e2,#0000e8,#0000ec,#0000ef,#0000f0,#0000f2,#0000f3,#0000f4,#0000f5,#0000f7,#0000fa,#0000fe,#0006ff,#000eff,#0016ff,#001eff,#0025ff,#002bff,#002eff,#0031ff,#0033ff,#0036ff,#003aff,#003fff,#0044ff,#0046ff,#0044ff,#003cff,#0030ff,#0022ff,#0014ff)"></i><i style="height:1px;background:linear-gradient(90deg,#0000d7,#0000df,#0000e6,#0000ec,#0000f0,#0000f2,#0000f4,#0000f5,#0000f5,#0000f6,#0000f7,#0000f9,#0000fc,#0002ff,#0009ff,#0011ff,#001aff,#0023ff,#002bff,#0031ff,#0035ff,#0039ff,#003dff,#0042ff,#0048ff,#004fff,#0054ff,#0056ff,#0051ff,#0045ff,#0035ff,#0024ff,#0014ff)"></i><i style="height:1px;background:linear-gradient(90deg,#0000d9,#0000e1,#0000e9,#0000ef,#0000f4,#0000f6,#0000f7,#0000f8,#0000f8,#0000f8,#0000f9,#0000fb,#0000ff,#0005ff,#000cff,#0015ff,#001fff,#0028ff,#0030ff,#0037ff,#003dff,#0042ff,#0048ff,#0050ff,#0059ff,#0061ff,#0067ff,#0066ff,#005dff,#004eff,#003aff,#0025ff,#0014ff)"></i><i style="height:1px;background:linear-gradient(90deg,#0000da,#0000e3,#0000ec,#0000f3,#0000f7,#0000fa,#0000fb,#0000fc,#0000fc,#0000fc,#0000fe,#0001ff,#0004ff,#000aff,#0011ff,#001aff,#0024ff,#002dff,#0036ff,#003eff,#0045ff,#004cff,#0055ff,#005fff,#006bff,#0075ff,#007aff,#0077ff,#006aff,#0055ff,#003dff,#0026ff,#0013ff)"></i><i style="height:1px;background:linear-gradient(90deg,#0000db,#0000e5,#0000ee,#0000f5,#0000fa,#0000fd,#0000ff,#0001ff,#0002ff,#0003ff,#0004ff,#0007ff,#000aff,#0010ff,#0017ff,#0020ff,#002aff,#0033ff,#003dff,#0045ff,#004dff,#0057ff,#0063ff,#0071ff,#0080ff,#008bff,#008eff,#0087ff,#0075ff,#005cff,#0040ff,#0026ff,#0012ff)"></i><i style="height:1px;background:linear-gradient(90deg,#0000dc,#0000e6,#0000ef,#0000f7,#0000fd,#0002ff,#0004ff,#0006ff,#0008ff,#0009ff,#000bff,#000eff,#0012ff,#0017ff,#001fff,#0027ff,#0031ff,#003aff,#0044ff,#004dff,#0057ff,#0064ff,#0073ff,#0085ff,#0096ff,#00a1ff,#00a2ff,#0096ff,#007fff,#0061ff,#0041ff,#0026ff,#0011ff)"></i><i style="height:1px;background:linear-gradient(90deg,#0000dc,#0000e6,#0000f0,#0000f9,#0000ff,#0005ff,#0009ff,#000cff,#000eff,#0010ff,#0013ff,#0016ff,#001bff,#0020ff,#0027ff,#0030ff,#0039ff,#0042ff,#004cff,#0057ff,#0064ff,#0073ff,#0086ff,#009bff,#00adff,#00b7ff,#00b4ff,#00a3ff,#0086ff,#0064ff,#0042ff,#0025ff,#0010ff)"></i><i style="height:1px;background:linear-gradient(90deg,#0000dd,#0000e7,#0000f1,#0000fa,#0003ff,#0009ff,#000dff,#0012ff,#0015ff,#0019ff,#001cff,#0020ff,#0025ff,#002aff,#0031ff,#0039ff,#0042ff,#004cff,#0057ff,#0063ff,#0072ff,#0085ff,#009bff,#00b2ff,#00c4ff,#00cbff,#00c3ff,#00adff,#008bff,#0065ff,#0041ff,#0024ff,#000fff)"></i><i style="height:1px;background:linear-gradient(90deg,#0000dd,#0000e7,#0000f2,#0000fb,#0005ff,#000cff,#0012ff,#0018ff,#001dff,#0022ff,#0027ff,#002bff,#0030ff,#0036ff,#003dff,#0045ff,#004eff,#0058ff,#0064ff,#0072ff,#0084ff,#009aff,#00b2ff,#00caff,#00daff,#00ddff,#00cfff,#00b3ff,#008dff,#0064ff,#0040ff,#0023ff,#000fff)"></i><i style="height:1px;background:linear-gradient(90deg,#0000dd,#0000e7,#0000f2,#0000fc,#0007ff,#000fff,#0017ff,#001fff,#0026ff,#002cff,#0032ff,#0038ff,#003dff,#0043ff,#004aff,#0052ff,#005bff,#0066ff,#0073ff,#0084ff,#0099ff,#00b1ff,#00cbff,#00e2ff,#00eeff,#00ebff,#00d7ff,#00b5ff,#008bff,#0062ff,#003eff,#0022ff,#000eff)"></i><i style="height:1px;background:linear-gradient(90deg,#0000dd,#0000e7,#0000f2,#0000fd,#0009ff,#0013ff,#001dff,#0026ff,#002fff,#0037ff,#003fff,#0045ff,#004cff,#0052ff,#0059ff,#0061ff,#006bff,#0077ff,#0087ff,#009aff,#00b1ff,#00ccff,#00e5ff,#00f9ff,#00ffff,#00f5ff,#00d9ff,#00b3ff,#0087ff,#005eff,#003cff,#0021ff,#000eff)"></i><i style="height:1px;background:linear-gradient(90deg,#0000dc,#0000e7,#0000f2,#0000fe,#000aff,#0016ff,#0022ff,#002eff,#0039ff,#0043ff,#004cff,#0055ff,#005cff,#0063ff,#006bff,#0073ff,#007eff,#008cff,#009eff,#00b4ff,#00cdff,#00e8ff,#00ffff,#0efff1,#0dfff2,#00f9ff,#00d7ff,#00adff,#0081ff,#005aff,#0039ff,#0020ff,#000dff)"></i><i style="height:1px;background:linear-gradient(90deg,#0000dc,#0000e6,#0000f2,#0000fe,#000cff,#001aff,#0028ff,#0036ff,#0044ff,#0050ff,#005cff,#0066ff,#006eff,#0076ff,#007fff,#0089ff,#0095ff,#00a5ff,#00b9ff,#00d2ff,#00ecff,#06fff9,#19ffe6,#1fffe0,#14ffeb,#00f8ff,#00d1ff,#00a4ff,#0079ff,#0054ff,#0036ff,#001eff,#000dff)"></i><i style="height:1px;background:linear-gradient(90deg,#0000dc,#0000e6,#0000f2,#0000ff,#000fff,#001eff,#002eff,#003fff,#004fff,#005fff,#006cff,#0078ff,#0083ff,#008cff,#0096ff,#00a1ff,#00b0ff,#00c2ff,#00d9ff,#00f3ff,#0efff1,#23ffdc,#2fffd0,#2bffd4,#16ffe9,#00f2ff,#00c6ff,#0098ff,#006fff,#004dff,#0032ff,#001dff,#000cff)"></i><i style="height:1px;background:linear-gradient(90deg,#0000dc,#0000e6,#0000f2,#0001ff,#0011ff,#0023ff,#0035ff,#0049ff,#005cff,#006eff,#007fff,#008dff,#0099ff,#00a4ff,#00b0ff,#00bdff,#00ceff,#00e4ff,#00fdff,#18ffe7,#30ffcf,#3fffc0,#41ffbe,#32ffcd,#12ffed,#00e7ff,#00b7ff,#008bff,#0065ff,#0046ff,#002eff,#001bff,#000bff)"></i><i style="height:1px;background:linear-gradient(90deg,#0000dc,#0000e7,#0000f3,#0003ff,#0014ff,#0028ff,#003dff,#0053ff,#006aff,#007fff,#0093ff,#00a4ff,#00b3ff,#00c0ff,#00cdff,#00ddff,#00f1ff,#0afff5,#24ffdb,#3effc1,#51ffae,#58ffa7,#4effb1,#33ffcc,#09fff6,#00d7ff,#00a7ff,#007cff,#0059ff,#003fff,#0029ff,#0018ff,#000aff)"></i><i style="height:1px;background:linear-gradient(90deg,#0000dd,#0000e7,#0000f4,#0005ff,#0018ff,#002dff,#0045ff,#005fff,#0079ff,#0093ff,#00aaff,#00beff,#00d0ff,#00dfff,#00efff,#02fffd,#18ffe7,#32ffcd,#4dffb2,#64ff9b,#70ff8f,#6cff93,#55ffaa,#2effd1,#00fbff,#00c5ff,#0094ff,#006cff,#004eff,#0037ff,#0025ff,#0016ff,#0009ff)"></i><i style="height:1px;background:linear-gradient(90deg,#0000dd,#0000e8,#0000f6,#0007ff,#001cff,#0034ff,#004fff,#006cff,#008bff,#00a8ff,#00c3ff,#00dbff,#00f0ff,#03fffc,#15ffea,#2affd5,#42ffbd,#5dffa2,#76ff89,#88ff77,#8bff74,#7bff84,#57ffa8,#24ffdb,#00e9ff,#00b1ff,#0082ff,#005dff,#0043ff,#002fff,#0020ff,#0013ff,#0007ff)"></i><i style="height:1px;background:linear-gradient(90deg,#0000de,#0000e9,#0000f8,#000bff,#0021ff,#003bff,#005aff,#007bff,#009eff,#00c0ff,#00e0ff,#00fcff,#15ffea,#2affd5,#3effc1,#55ffaa,#6eff91,#88ff77,#9eff61,#a9ff56,#a0ff5f,#83ff7c,#52ffad,#15ffea,#00d5ff,#009dff,#0070ff,#004fff,#0038ff,#0028ff,#001bff,#0010ff,#0006ff)"></i><i style="height:1px;background:linear-gradient(90deg,#0000df,#0000eb,#0000fa,#000fff,#0027ff,#0044ff,#0066ff,#008cff,#00b3ff,#00dbff,#00ffff,#21ffde,#3cffc3,#54ffab,#6bff94,#82ff7d,#9cff63,#b4ff4b,#c4ff3b,#c5ff3a,#b0ff4f,#85ff7a,#48ffb7,#03fffc,#00c0ff,#0089ff,#005fff,#0042ff,#002fff,#0021ff,#0016ff,#000dff,#0004ff)"></i><i style="height:1px;background:linear-gradient(90deg,#0000e1,#0000ed,#0000fe,#0013ff,#002eff,#004eff,#0073ff,#009eff,#00cbff,#00f8ff,#23ffdc,#48ffb7,#68ff97,#82ff7d,#9aff65,#b2ff4d,#caff35,#ddff22,#e5ff1a,#dbff24,#b8ff47,#80ff7f,#3affc5,#00eeff,#00abff,#0075ff,#004fff,#0036ff,#0026ff,#001bff,#0012ff,#000aff,#0002ff)"></i><i style="height:1px;background:linear-gradient(90deg,#0000e3,#0000f0,#0003ff,#0019ff,#0036ff,#0059ff,#0083ff,#00b2ff,#00e5ff,#19ffe6,#49ffb6,#73ff8c,#96ff69,#b3ff4c,#ccff33,#e3ff1c,#f7ff08,#fffb00,#fffd00,#eaff15,#baff45,#76ff89,#27ffd8,#00d9ff,#0096ff,#0064ff,#0041ff,#002cff,#001eff,#0015ff,#000dff,#0007ff,#0001ff)"></i><i style="height:1px;background:linear-gradient(90deg,#0000e5,#0000f4,#0008ff,#0020ff,#003fff,#0065ff,#0093ff,#00c8ff,#01fffe,#3bffc4,#71ff8e,#a0ff5f,#c7ff38,#e6ff19,#ffff00,#ffeb00,#ffdd00,#ffd900,#ffe700,#f2ff0d,#b5ff4a,#67ff98,#13ffec,#00c3ff,#0083ff,#0054ff,#0036ff,#0023ff,#0017ff,#0010ff,#000aff,#0004ff,#0000fe)"></i><i style="height:1px;background:linear-gradient(90deg,#0000e8,#0000f8,#000dff,#0028ff,#0049ff,#0073ff,#00a5ff,#00dfff,#1fffe0,#5fffa0,#9bff64,#d0ff2f,#faff05,#ffe300,#ffcc00,#ffbc00,#ffb500,#ffbd00,#ffd800,#f4ff0b,#abff54,#55ffaa,#00fdff,#00afff,#0072ff,#0047ff,#002cff,#001bff,#0012ff,#000bff,#0006ff,#0002ff,#0000fc)"></i><i style="height:1px;background:linear-gradient(90deg,#0000ec,#0000fd,#0014ff,#0031ff,#0055ff,#0082ff,#00b8ff,#00f7ff,#3effc1,#84ff7b,#c7ff38,#fffe00,#ffd000,#ffaf00,#ff9900,#ff8f00,#ff9200,#ffa600,#ffcf00,#efff10,#9dff62,#41ffbe,#00e8ff,#009cff,#0063ff,#003cff,#0024ff,#0016ff,#000dff,#0008ff,#0004ff,#0000ff,#0000fb)"></i><i style="height:1px;background:linear-gradient(90deg,#0000ef,#0003ff,#001cff,#003aff,#0061ff,#0091ff,#00ccff,#12ffed,#5dffa2,#aaff55,#f3ff0c,#ffcd00,#ff9c00,#ff7b00,#ff6a00,#ff6700,#ff7400,#ff9600,#ffcc00,#e6ff19,#8bff74,#2dffd2,#00d4ff,#008cff,#0057ff,#0034ff,#001eff,#0012ff,#000aff,#0005ff,#0002ff,#0000fd,#0000fa)"></i><i style="height:1px;background:linear-gradient(90deg,#0000f4,#0009ff,#0024ff,#0044ff,#006eff,#00a1ff,#00e0ff,#2bffd4,#7cff83,#d0ff2f,#ffe000,#ff9d00,#ff6a00,#ff4a00,#ff3d00,#ff4300,#ff5c00,#ff8b00,#ffcf00,#d9ff26,#78ff87,#18ffe7,#00c2ff,#007eff,#004dff,#002dff,#001aff,#000fff,#0008ff,#0004ff,#0000ff,#0000fc,#0000fa)"></i><i style="height:1px;background:linear-gradient(90deg,#0000f8,#000fff,#002cff,#004fff,#007aff,#00b1ff,#00f4ff,#44ffbb,#9bff64,#f4ff0b,#ffb600,#ff6f00,#ff3b00,#ff1d00,#ff1500,#ff2500,#ff4a00,#ff8600,#ffd600,#c9ff36,#65ff9a,#05fffa,#00b2ff,#0072ff,#0045ff,#0028ff,#0017ff,#000cff,#0006ff,#0003ff,#0000fe,#0000fc,#0000f9)"></i><i style="height:1px;background:linear-gradient(90deg,#0000fc,#0015ff,#0034ff,#0059ff,#0087ff,#00c1ff,#08fff7,#5bffa4,#b7ff48,#ffe800,#ff9000,#ff4500,#ff1100,#f40000,#f30000,#ff0d00,#ff3e00,#ff8700,#ffe100,#b8ff47,#52ffad,#00f3ff,#00a4ff,#0069ff,#003fff,#0025ff,#0014ff,#000bff,#0005ff,#0002ff,#0000fe,#0000fb,#0000f9)"></i><i style="height:1px;background:linear-gradient(90deg,#0001ff,#001bff,#003bff,#0062ff,#0093ff,#00cfff,#1affe5,#71ff8e,#d2ff2d,#ffc900,#ff6d00,#ff2100,#eb0000,#d30000,#d80000,#fa0000,#ff3900,#ff8c00,#ffee00,#a7ff58,#40ffbf,#00e3ff,#0099ff,#0061ff,#003aff,#0022ff,#0013ff,#000aff,#0005ff,#0001ff,#0000fe,#0000fb,#0000f8)"></i><i style="height:1px;background:linear-gradient(90deg,#0005ff,#0020ff,#0042ff,#006bff,#009dff,#00dcff,#2affd5,#84ff7b,#e8ff17,#ffaf00,#ff5000,#ff0200,#cd0000,#b80000,#c50000,#f00000,#ff3900,#ff9500,#fffd00,#95ff6a,#2fffd0,#00d5ff,#008fff,#005aff,#0037ff,#0020ff,#0012ff,#000aff,#0005ff,#0001ff,#0000fd,#0000fb,#0000f8)"></i><i style="height:1px;background:linear-gradient(90deg,#0008ff,#0025ff,#0048ff,#0073ff,#00a7ff,#00e7ff,#37ffc8,#94ff6b,#fbff04,#ff9a00,#ff3900,#ea0000,#b70000,#a70000,#ba0000,#ee0000,#ff3e00,#ffa200,#f0ff0f,#83ff7c,#1fffe0,#00c9ff,#0086ff,#0055ff,#0034ff,#001eff,#0011ff,#0009ff,#0005ff,#0001ff,#0000fd,#0000fb,#0000f8)"></i><i style="height:1px;background:linear-gradient(90deg,#000aff,#0029ff,#004dff,#0079ff,#00aeff,#00f0ff,#41ffbe,#a0ff5f,#fff600,#ff8b00,#ff2900,#da0000,#aa0000,#9e0000,#b70000,#f20000,#ff4a00,#ffb200,#ddff22,#71ff8e,#0ffff0,#00bdff,#007eff,#0050ff,#0031ff,#001dff,#0011ff,#0009ff,#0005ff,#0001ff,#0000fd,#0000fb,#0000f8)"></i><i style="height:1px;background:linear-gradient(90deg,#000cff,#002bff,#0051ff,#007dff,#00b3ff,#00f6ff,#48ffb7,#a7ff58,#ffee00,#ff8300,#ff2100,#d30000,#a60000,#9f0000,#bd0000,#fe0000,#ff5a00,#ffc500,#c9ff36,#5effa1,#01fffe,#00b2ff,#0077ff,#004cff,#002fff,#001cff,#0010ff,#0009ff,#0004ff,#0001ff,#0000fd,#0000fb,#0000f8)"></i><i style="height:1px;background:linear-gradient(90deg,#000cff,#002cff,#0052ff,#0080ff,#00b6ff,#00f9ff,#4bffb4,#aaff55,#ffeb00,#ff8100,#ff2100,#d60000,#ac0000,#a80000,#cb0000,#ff1200,#ff7000,#ffdc00,#b3ff4c,#4cffb3,#00f1ff,#00a8ff,#0070ff,#0048ff,#002cff,#001bff,#000fff,#0009ff,#0004ff,#0001ff,#0000fd,#0000fa,#0000f7)"></i><i style="height:1px;background:linear-gradient(90deg,#000cff,#002cff,#0052ff,#0080ff,#00b6ff,#00f9ff,#4affb5,#a9ff56,#ffee00,#ff8600,#ff2800,#e00000,#ba0000,#bb0000,#e20000,#ff2b00,#ff8b00,#fff600,#9cff63,#38ffc7,#00e1ff,#009dff,#0069ff,#0043ff,#002aff,#0019ff,#000fff,#0008ff,#0004ff,#0001ff,#0000fd,#0000fa,#0000f7)"></i><i style="height:1px;background:linear-gradient(90deg,#000bff,#002aff,#0051ff,#007eff,#00b4ff,#00f5ff,#46ffb9,#a2ff5d,#fff700,#ff9200,#ff3800,#f40000,#d20000,#d50000,#ff0000,#ff4a00,#ffa900,#ebff14,#83ff7c,#23ffdc,#00d2ff,#0092ff,#0061ff,#003fff,#0027ff,#0017ff,#000eff,#0007ff,#0003ff,#0000ff,#0000fc,#0000f9,#0000f7)"></i><i style="height:1px;background:linear-gradient(90deg,#0009ff,#0028ff,#004dff,#007aff,#00afff,#00efff,#3effc1,#98ff67,#f9ff06,#ffa400,#ff4e00,#ff1000,#f10000,#f80000,#ff2400,#ff6e00,#ffcc00,#ccff33,#68ff97,#0efff1,#00c2ff,#0086ff,#005aff,#003aff,#0024ff,#0016ff,#000cff,#0006ff,#0002ff,#0000fe,#0000fb,#0000f9,#0000f6)"></i><i style="height:1px;background:linear-gradient(90deg,#0006ff,#0024ff,#0049ff,#0074ff,#00a8ff,#00e7ff,#33ffcc,#89ff76,#e6ff19,#ffbc00,#ff6c00,#ff3200,#ff1800,#ff2100,#ff4d00,#ff9600,#fff100,#abff54,#4cffb3,#00f7ff,#00b1ff,#007aff,#0052ff,#0035ff,#0021ff,#0014ff,#000bff,#0005ff,#0001ff,#0000fd,#0000fa,#0000f8,#0000f5)"></i><i style="height:1px;background:linear-gradient(90deg,#0003ff,#0020ff,#0043ff,#006dff,#009fff,#00dbff,#24ffdb,#76ff89,#ceff31,#ffd900,#ff8e00,#ff5a00,#ff4300,#ff4f00,#ff7b00,#ffc200,#e5ff1a,#89ff76,#30ffcf,#00e0ff,#00a0ff,#006eff,#0049ff,#0030ff,#001eff,#0012ff,#000aff,#0004ff,#0000ff,#0000fc,#0000f9,#0000f7,#0000f5)"></i><i style="height:1px;background:linear-gradient(90deg,#0000fe,#001bff,#003cff,#0065ff,#0095ff,#00ceff,#14ffeb,#61ff9e,#b3ff4c,#fffa00,#ffb600,#ff8600,#ff7400,#ff8100,#ffac00,#fff000,#bcff43,#65ff9a,#13ffec,#00caff,#008fff,#0062ff,#0041ff,#002aff,#001aff,#0010ff,#0008ff,#0003ff,#0000fe,#0000fb,#0000f8,#0000f6,#0000f4)"></i><i style="height:1px;background:linear-gradient(90deg,#0000fb,#0015ff,#0035ff,#005bff,#0089ff,#00c0ff,#01fffe,#49ffb6,#96ff69,#dfff20,#ffe000,#ffb600,#ffa700,#ffb500,#ffdf00,#dfff20,#92ff6d,#42ffbd,#00f5ff,#00b3ff,#007eff,#0056ff,#0039ff,#0025ff,#0017ff,#000dff,#0006ff,#0001ff,#0000fc,#0000f9,#0000f7,#0000f5,#0000f3)"></i><i style="height:1px;background:linear-gradient(90deg,#0000f7,#000fff,#002dff,#0051ff,#007cff,#00b0ff,#00ecff,#30ffcf,#76ff89,#b9ff46,#f1ff0e,#ffe800,#ffdc00,#ffeb00,#ebff14,#afff50,#68ff97,#1fffe0,#00d8ff,#009dff,#006eff,#004bff,#0031ff,#0020ff,#0014ff,#000bff,#0005ff,#0000ff,#0000fb,#0000f8,#0000f5,#0000f4,#0000f2)"></i><i style="height:1px;background:linear-gradient(90deg,#0000f3,#000aff,#0025ff,#0047ff,#006fff,#009fff,#00d7ff,#15ffea,#55ffaa,#91ff6e,#c3ff3c,#e3ff1c,#ecff13,#ddff22,#b7ff48,#80ff7f,#3fffc0,#00fbff,#00bdff,#0088ff,#005fff,#0040ff,#002aff,#001bff,#0010ff,#0009ff,#0003ff,#0000fd,#0000f9,#0000f6,#0000f4,#0000f2,#0000f1)"></i><i style="height:1px;background:linear-gradient(90deg,#0000f0,#0004ff,#001dff,#003cff,#0062ff,#008eff,#00c1ff,#00f9ff,#34ffcb,#69ff96,#95ff6a,#b0ff4f,#b6ff49,#a8ff57,#85ff7a,#52ffad,#18ffe7,#00dbff,#00a3ff,#0075ff,#0050ff,#0036ff,#0023ff,#0016ff,#000dff,#0006ff,#0001ff,#0000fc,#0000f8,#0000f5,#0000f3,#0000f1,#0000f0)"></i><i style="height:1px;background:linear-gradient(90deg,#0000ed,#0000fe,#0015ff,#0032ff,#0054ff,#007dff,#00acff,#00dfff,#13ffec,#42ffbd,#67ff98,#7eff81,#82ff7d,#74ff8b,#54ffab,#27ffd8,#00f1ff,#00bcff,#008bff,#0063ff,#0043ff,#002cff,#001dff,#0012ff,#000aff,#0004ff,#0000fe,#0000fa,#0000f6,#0000f4,#0000f1,#0000f0,#0000ee)"></i><i style="height:1px;background:linear-gradient(90deg,#0000ea,#0000f9,#000eff,#0027ff,#0047ff,#006cff,#0097ff,#00c4ff,#00f2ff,#1cffe3,#3bffc4,#4effb1,#51ffae,#43ffbc,#26ffd9,#00fdff,#00cfff,#00a0ff,#0076ff,#0053ff,#0038ff,#0024ff,#0017ff,#000eff,#0007ff,#0002ff,#0000fc,#0000f8,#0000f5,#0000f2,#0000f0,#0000ee,#0000ed)"></i><i style="height:1px;background:linear-gradient(90deg,#0000e7,#0000f4,#0007ff,#001eff,#003aff,#005cff,#0082ff,#00abff,#00d3ff,#00f6ff,#12ffed,#21ffde,#22ffdd,#14ffeb,#00faff,#00d7ff,#00afff,#0087ff,#0062ff,#0044ff,#002dff,#001dff,#0012ff,#000aff,#0004ff,#0000ff,#0000fa,#0000f7,#0000f4,#0000f1,#0000ef,#0000ed,#0000ec)"></i><i style="height:1px;background:linear-gradient(90deg,#0000e5,#0000f0,#0000ff,#0014ff,#002eff,#004dff,#006fff,#0093ff,#00b6ff,#00d4ff,#00eaff,#00f6ff,#00f5ff,#00e9ff,#00d2ff,#00b4ff,#0092ff,#0070ff,#0051ff,#0038ff,#0025ff,#0017ff,#000dff,#0007ff,#0002ff,#0000fc,#0000f9,#0000f5,#0000f2,#0000f0,#0000ee,#0000ec,#0000eb)"></i><i style="height:1px;background:linear-gradient(90deg,#0000e3,#0000ec,#0000f9,#000bff,#0022ff,#003eff,#005dff,#007dff,#009bff,#00b4ff,#00c6ff,#00cfff,#00ceff,#00c2ff,#00afff,#0095ff,#0078ff,#005cff,#0042ff,#002dff,#001dff,#0011ff,#0009ff,#0004ff,#0000fe,#0000fa,#0000f7,#0000f4,#0000f1,#0000ef,#0000ed,#0000eb,#0000ea)"></i><i style="height:1px;background:linear-gradient(90deg,#0000e1,#0000e8,#0000f3,#0003ff,#0018ff,#0030ff,#004cff,#0068ff,#0082ff,#0097ff,#00a6ff,#00acff,#00aaff,#00a0ff,#008fff,#007aff,#0062ff,#004bff,#0036ff,#0024ff,#0017ff,#000dff,#0006ff,#0001ff,#0000fc,#0000f9,#0000f6,#0000f3,#0000f0,#0000ee,#0000ec,#0000eb,#0000ea)"></i><i style="height:1px;background:linear-gradient(90deg,#0000df,#0000e4,#0000ed,#0000fb,#000eff,#0024ff,#003cff,#0055ff,#006bff,#007dff,#0089ff,#008dff,#008bff,#0081ff,#0073ff,#0062ff,#004eff,#003cff,#002bff,#001dff,#0011ff,#0009ff,#0003ff,#0000fe,#0000fa,#0000f7,#0000f4,#0000f2,#0000f0,#0000ee,#0000ec,#0000ea,#0000e9)"></i><i style="height:1px;background:linear-gradient(90deg,#0000dd,#0000e1,#0000e8,#0000f4,#0005ff,#0019ff,#002eff,#0044ff,#0057ff,#0065ff,#006eff,#0072ff,#006fff,#0067ff,#005bff,#004dff,#003eff,#002fff,#0022ff,#0016ff,#000dff,#0006ff,#0001ff,#0000fc,#0000f9,#0000f6,#0000f3,#0000f1,#0000ef,#0000ed,#0000ec,#0000ea,#0000e9)"></i><i style="height:1px;background:linear-gradient(90deg,#0000da,#0000de,#0000e4,#0000ee,#0000fc,#000eff,#0021ff,#0034ff,#0044ff,#0050ff,#0057ff,#005aff,#0057ff,#0050ff,#0047ff,#003cff,#0030ff,#0025ff,#001aff,#0011ff,#0009ff,#0003ff,#0000fe,#0000fa,#0000f7,#0000f5,#0000f3,#0000f1,#0000ef,#0000ed,#0000ec,#0000eb,#0000ea)"></i><i style="height:1px;background:linear-gradient(90deg,#0000d8,#0000db,#0000e0,#0000e9,#0000f5,#0005ff,#0015ff,#0025ff,#0033ff,#003dff,#0043ff,#0045ff,#0043ff,#003dff,#0036ff,#002eff,#0025ff,#001cff,#0014ff,#000dff,#0006ff,#0001ff,#0000fc,#0000f9,#0000f6,#0000f4,#0000f2,#0000f1,#0000ef,#0000ee,#0000ed,#0000ec,#0000eb)"></i><i style="height:1px;background:linear-gradient(90deg,#0000d5,#0000d8,#0000dd,#0000e5,#0000ef,#0000fc,#000bff,#0018ff,#0024ff,#002cff,#0031ff,#0033ff,#0031ff,#002eff,#0028ff,#0022ff,#001bff,#0015ff,#000fff,#0009ff,#0004ff,#0000fe,#0000fb,#0000f8,#0000f5,#0000f3,#0000f2,#0000f1,#0000f0,#0000ef,#0000ee,#0000ed,#0000ec)"></i><i style="height:1px;background:linear-gradient(90deg,#0000d2,#0000d5,#0000da,#0000e1,#0000ea,#0000f5,#0001ff,#000dff,#0016ff,#001eff,#0022ff,#0024ff,#0023ff,#0021ff,#001dff,#0019ff,#0014ff,#000fff,#000bff,#0006ff,#0002ff,#0000fd,#0000fa,#0000f7,#0000f5,#0000f3,#0000f2,#0000f1,#0000f1,#0000f0,#0000ef,#0000ef,#0000ee)"></i><i style="height:1px;background:linear-gradient(90deg,#0000ce,#0000d2,#0000d7,#0000de,#0000e6,#0000ef,#0000f8,#0002ff,#000aff,#0010ff,#0015ff,#0017ff,#0018ff,#0017ff,#0015ff,#0012ff,#000eff,#000bff,#0007ff,#0003ff,#0000ff,#0000fb,#0000f9,#0000f6,#0000f4,#0000f3,#0000f2,#0000f2,#0000f2,#0000f1,#0000f1,#0000f1,#0000f0)"></i><i style="height:1px;background:linear-gradient(90deg,#0000cb,#0000d0,#0000d5,#0000dc,#0000e2,#0000e9,#0000f1,#0000f8,#0000fe,#0005ff,#0009ff,#000dff,#000eff,#000fff,#000eff,#000cff,#000aff,#0007ff,#0004ff,#0001ff,#0000fd,#0000fa,#0000f8,#0000f5,#0000f4,#0000f3,#0000f3,#0000f3,#0000f3,#0000f3,#0000f3,#0000f3,#0000f2)"></i><i style="height:1px;background:linear-gradient(90deg,#0000c8,#0000cd,#0000d4,#0000da,#0000df,#0000e5,#0000ea,#0000ef,#0000f5,#0000fa,#0000ff,#0004ff,#0007ff,#0008ff,#0009ff,#0008ff,#0006ff,#0004ff,#0002ff,#0000fe,#0000fb,#0000f9,#0000f7,#0000f5,#0000f4,#0000f3,#0000f3,#0000f3,#0000f3,#0000f4,#0000f4,#0000f4,#0000f4)"></i></div></div><div class="cb" style="left:67px;top:23px;width:269px;height:20px;background:linear-gradient(90deg,#000080,#00009f,#0000bf,#0000df,#0000ff,#0020ff,#0040ff,#0060ff,#0080ff,#009fff,#00bfff,#00dfff,#00ffff,#20ffdf,#40ffbf,#60ff9f,#80ff80,#9fff60,#bfff40,#dfff20,#ffff00,#ffdf00,#ffbf00,#ff9f00,#ff8000,#ff6000,#ff4000,#ff2000,#ff0000,#df0000,#bf0000,#9f0000,#800000)"></div><div class="cb" style="left:411px;top:23px;width:269px;height:20px;background:linear-gradient(90deg,#000080,#00009f,#0000bf,#0000df,#0000ff,#0020ff,#0040ff,#0060ff,#0080ff,#009fff,#00bfff,#00dfff,#00ffff,#20ffdf,#40ffbf,#60ff9f,#80ff80,#9fff60,#bfff40,#dfff20,#ffff00,#ffdf00,#ffbf00,#ff9f00,#ff8000,#ff6000,#ff4000,#ff2000,#ff0000,#df0000,#bf0000,#9f0000,#800000)"></div><svg class="ov" width="685" height="346" viewBox="0 0 685 346"><rect x="66.5" y="65.5" width="270.0" height="227.0" fill="none" stroke="#000" stroke-width="1.1"/><path d="M336.21 292.5v2.5M336.21 65.5v-2.5M325.84 292.5v2.5M325.84 65.5v-2.5M315.47 292.5v2.5M315.47 65.5v-2.5M305.10 292.5v5.0M305.10 65.5v-5.0M294.73 292.5v2.5M294.73 65.5v-2.5M284.36 292.5v2.5M284.36 65.5v-2.5M273.99 292.5v2.5M273.99 65.5v-2.5M263.62 292.5v2.5M263.62 65.5v-2.5M253.25 292.5v5.0M253.25 65.5v-5.0M242.88 292.5v2.5M242.88 65.5v-2.5M232.51 292.5v2.5M232.51 65.5v-2.5M222.14 292.5v2.5M222.14 65.5v-2.5M211.77 292.5v2.5M211.77 65.5v-2.5M201.40 292.5v5.0M201.40 65.5v-5.0M191.03 292.5v2.5M191.03 65.5v-2.5M180.66 292.5v2.5M180.66 65.5v-2.5M170.29 292.5v2.5M170.29 65.5v-2.5M159.92 292.5v2.5M159.92 65.5v-2.5M149.55 292.5v5.0M149.55 65.5v-5.0M139.18 292.5v2.5M139.18 65.5v-2.5M128.81 292.5v2.5M128.81 65.5v-2.5M118.44 292.5v2.5M118.44 65.5v-2.5M108.07 292.5v2.5M108.07 65.5v-2.5M97.70 292.5v5.0M97.70 65.5v-5.0M87.33 292.5v2.5M87.33 65.5v-2.5M76.96 292.5v2.5M76.96 65.5v-2.5M66.59 292.5v2.5M66.59 65.5v-2.5M66.5 292.95h-2.5M336.5 292.95h2.5M66.5 282.60h-5.0M336.5 282.60h5.0M66.5 272.25h-2.5M336.5 272.25h2.5M66.5 261.90h-2.5M336.5 261.90h2.5M66.5 251.55h-2.5M336.5 251.55h2.5M66.5 241.20h-2.5M336.5 241.20h2.5M66.5 230.85h-5.0M336.5 230.85h5.0M66.5 220.50h-2.5M336.5 220.50h2.5M66.5 210.15h-2.5M336.5 210.15h2.5M66.5 199.80h-2.5M336.5 199.80h2.5M66.5 189.45h-2.5M336.5 189.45h2.5M66.5 179.10h-5.0M336.5 179.10h5.0M66.5 168.75h-2.5M336.5 168.75h2.5M66.5 158.40h-2.5M336.5 158.40h2.5M66.5 148.05h-2.5M336.5 148.05h2.5M66.5 137.70h-2.5M336.5 137.70h2.5M66.5 127.35h-5.0M336.5 127.35h5.0M66.5 117.00h-2.5M336.5 117.00h2.5M66.5 106.65h-2.5M336.5 106.65h2.5M66.5 96.30h-2.5M336.5 96.30h2.5M66.5 85.95h-2.5M336.5 85.95h2.5M66.5 75.60h-5.0M336.5 75.60h5.0M66.5 65.25h-2.5M336.5 65.25h2.5" stroke="#000" stroke-width="1.1" fill="none"/><circle cx="201.40" cy="179.10" r="82.88" fill="none" stroke="#fff" stroke-width="1"/><circle cx="325.84" cy="282.60" r="7.2" fill="#000"/><text x="97.7" y="320.4" text-anchor="middle" font-family="Liberation Sans, sans-serif" font-size="18">10</text><text x="149.6" y="320.4" text-anchor="middle" font-family="Liberation Sans, sans-serif" font-size="18">5</text><text x="201.4" y="320.4" text-anchor="middle" font-family="Liberation Sans, sans-serif" font-size="18">0</text><text x="253.2" y="320.4" text-anchor="middle" font-family="Liberation Sans, sans-serif" font-size="18">-5</text><text x="305.1" y="320.4" text-anchor="middle" font-family="Liberation Sans, sans-serif" font-size="18">-10</text><text x="56" y="81.8" text-anchor="end" font-family="Liberation Sans, sans-serif" font-size="18">10</text><text x="56" y="133.5" text-anchor="end" font-family="Liberation Sans, sans-serif" font-size="18">5</text><text x="56" y="185.3" text-anchor="end" font-family="Liberation Sans, sans-serif" font-size="18">0</text><text x="56" y="237.0" text-anchor="end" font-family="Liberation Sans, sans-serif" font-size="18">-5</text><text x="56" y="288.8" text-anchor="end" font-family="Liberation Sans, sans-serif" font-size="18">-10</text><text x="201.5" y="340" text-anchor="middle" font-family="Liberation Sans, sans-serif" font-size="19" letter-spacing="-0.1">Offset RA (arcmin)</text><text transform="translate(15.5 179.0) rotate(-90)" text-anchor="middle" font-family="Liberation Sans, sans-serif" font-size="19" letter-spacing="-0.3">Offset Dec (arcmin)</text><rect x="66.5" y="22.5" width="270" height="21" fill="none" stroke="#000" stroke-width="1.1"/><rect x="410.5" y="65.5" width="270.0" height="227.0" fill="none" stroke="#000" stroke-width="1.1"/><path d="M680.21 292.5v2.5M680.21 65.5v-2.5M669.84 292.5v2.5M669.84 65.5v-2.5M659.47 292.5v2.5M659.47 65.5v-2.5M649.10 292.5v5.0M649.10 65.5v-5.0M638.73 292.5v2.5M638.73 65.5v-2.5M628.36 292.5v2.5M628.36 65.5v-2.5M617.99 292.5v2.5M617.99 65.5v-2.5M607.62 292.5v2.5M607.62 65.5v-2.5M597.25 292.5v5.0M597.25 65.5v-5.0M586.88 292.5v2.5M586.88 65.5v-2.5M576.51 292.5v2.5M576.51 65.5v-2.5M566.14 292.5v2.5M566.14 65.5v-2.5M555.77 292.5v2.5M555.77 65.5v-2.5M545.40 292.5v5.0M545.40 65.5v-5.0M535.03 292.5v2.5M535.03 65.5v-2.5M524.66 292.5v2.5M524.66 65.5v-2.5M514.29 292.5v2.5M514.29 65.5v-2.5M503.92 292.5v2.5M503.92 65.5v-2.5M493.55 292.5v5.0M493.55 65.5v-5.0M483.18 292.5v2.5M483.18 65.5v-2.5M472.81 292.5v2.5M472.81 65.5v-2.5M462.44 292.5v2.5M462.44 65.5v-2.5M452.07 292.5v2.5M452.07 65.5v-2.5M441.70 292.5v5.0M441.70 65.5v-5.0M431.33 292.5v2.5M431.33 65.5v-2.5M420.96 292.5v2.5M420.96 65.5v-2.5M410.59 292.5v2.5M410.59 65.5v-2.5M410.5 292.95h-2.5M680.5 292.95h2.5M410.5 282.60h-5.0M680.5 282.60h5.0M410.5 272.25h-2.5M680.5 272.25h2.5M410.5 261.90h-2.5M680.5 261.90h2.5M410.5 251.55h-2.5M680.5 251.55h2.5M410.5 241.20h-2.5M680.5 241.20h2.5M410.5 230.85h-5.0M680.5 230.85h5.0M410.5 220.50h-2.5M680.5 220.50h2.5M410.5 210.15h-2.5M680.5 210.15h2.5M410.5 199.80h-2.5M680.5 199.80h2.5M410.5 189.45h-2.5M680.5 189.45h2.5M410.5 179.10h-5.0M680.5 179.10h5.0M410.5 168.75h-2.5M680.5 168.75h2.5M410.5 158.40h-2.5M680.5 158.40h2.5M410.5 148.05h-2.5M680.5 148.05h2.5M410.5 137.70h-2.5M680.5 137.70h2.5M410.5 127.35h-5.0M680.5 127.35h5.0M410.5 117.00h-2.5M680.5 117.00h2.5M410.5 106.65h-2.5M680.5 106.65h2.5M410.5 96.30h-2.5M680.5 96.30h2.5M410.5 85.95h-2.5M680.5 85.95h2.5M410.5 75.60h-5.0M680.5 75.60h5.0M410.5 65.25h-2.5M680.5 65.25h2.5" stroke="#000" stroke-width="1.1" fill="none"/><circle cx="545.40" cy="179.10" r="82.88" fill="none" stroke="#fff" stroke-width="1"/><circle cx="669.84" cy="282.60" r="7.2" fill="#000"/><text x="441.7" y="320.4" text-anchor="middle" font-family="Liberation Sans, sans-serif" font-size="18">10</text><text x="493.5" y="320.4" text-anchor="middle" font-family="Liberation Sans, sans-serif" font-size="18">5</text><text x="545.4" y="320.4" text-anchor="middle" font-family="Liberation Sans, sans-serif" font-size="18">0</text><text x="597.2" y="320.4" text-anchor="middle" font-family="Liberation Sans, sans-serif" font-size="18">-5</text><text x="649.1" y="320.4" text-anchor="middle" font-family="Liberation Sans, sans-serif" font-size="18">-10</text><text x="400.0" y="81.8" text-anchor="end" font-family="Liberation Sans, sans-serif" font-size="18">10</text><text x="400.0" y="133.5" text-anchor="end" font-family="Liberation Sans, sans-serif" font-size="18">5</text><text x="400.0" y="185.3" text-anchor="end" font-family="Liberation Sans, sans-serif" font-size="18">0</text><text x="400.0" y="237.0" text-anchor="end" font-family="Liberation Sans, sans-serif" font-size="18">-5</text><text x="400.0" y="288.8" text-anchor="end" font-family="Liberation Sans, sans-serif" font-size="18">-10</text><text x="545.5" y="340" text-anchor="middle" font-family="Liberation Sans, sans-serif" font-size="19" letter-spacing="-0.1">Offset RA (arcmin)</text><text transform="translate(365.5 179.0) rotate(-90)" text-anchor="middle" font-family="Liberation Sans, sans-serif" font-size="19" letter-spacing="-0.3">Offset Dec (arcmin)</text><rect x="410.5" y="22.5" width="270" height="21" fill="none" stroke="#000" stroke-width="1.1"/><text x="124.6" y="59.3" text-anchor="middle" font-family="Liberation Sans, sans-serif" font-size="12.5">0</text><text x="194.0" y="59.3" text-anchor="middle" font-family="Liberation Sans, sans-serif" font-size="12.5">0.2</text><text x="263.4" y="59.3" text-anchor="middle" font-family="Liberation Sans, sans-serif" font-size="12.5">0.4</text><text x="332.8" y="59.3" text-anchor="middle" font-family="Liberation Sans, sans-serif" font-size="12.5">0.6</text><text x="410.9" y="59.3" text-anchor="middle" font-family="Liberation Sans, sans-serif" font-size="12.5">0</text><text x="475.7" y="59.3" text-anchor="middle" font-family="Liberation Sans, sans-serif" font-size="12.5">10</text><text x="540.5" y="59.3" text-anchor="middle" font-family="Liberation Sans, sans-serif" font-size="12.5">20</text><text x="605.3" y="59.3" text-anchor="middle" font-family="Liberation Sans, sans-serif" font-size="12.5">30</text><text x="670.1" y="59.3" text-anchor="middle" font-family="Liberation Sans, sans-serif" font-size="12.5">40</text><path d="M89.90 22.5v2.0M89.90 43.5v-2.0M124.60 22.5v4.5M124.60 43.5v-4.5M159.30 22.5v2.0M159.30 43.5v-2.0M194.00 22.5v4.5M194.00 43.5v-4.5M228.70 22.5v2.0M228.70 43.5v-2.0M263.40 22.5v4.5M263.40 43.5v-4.5M298.10 22.5v2.0M298.10 43.5v-2.0M332.80 22.5v4.5M332.80 43.5v-4.5M443.30 22.5v2.0M443.30 43.5v-2.0M475.70 22.5v4.5M475.70 43.5v-4.5M508.10 22.5v2.0M508.10 43.5v-2.0M540.50 22.5v4.5M540.50 43.5v-4.5M572.90 22.5v2.0M572.90 43.5v-2.0M605.30 22.5v4.5M605.30 43.5v-4.5M637.70 22.5v2.0M637.70 43.5v-2.0M670.10 22.5v4.5M670.10 43.5v-4.5" stroke="#000" stroke-width="1.1" fill="none"/><path d="M542.0 195.3L541.5 195.3L541.0 195.3L540.8 195.2L540.2 195.2L539.8 195.2L539.2 195.1L538.8 195.0L538.5 194.9L538.0 194.8L537.8 194.7L537.2 194.6L537.0 194.5L536.5 194.3L536.2 194.2L535.8 194.0L535.5 193.8L535.2 193.7L534.9 193.5L534.5 193.2L534.2 193.1L534.0 192.9L533.8 192.7L533.5 192.5L533.2 192.2L532.9 192.0L532.6 191.8L532.3 191.5L532.1 191.2L531.8 191.0L531.6 190.8L531.4 190.5L531.1 190.2L530.9 190.0L530.7 189.8L530.5 189.5L530.2 189.1L530.0 188.8L529.8 188.5L529.6 188.2L529.5 188.0L529.2 187.6L529.0 187.2L528.9 187.0L528.8 186.7L528.5 186.3L528.4 186.0L528.2 185.7L528.0 185.2L527.9 185.0L527.8 184.5L527.7 184.2L527.5 183.8L527.4 183.5L527.3 183.0L527.2 182.8L527.1 182.2L527.1 181.8L527.0 181.2L527.0 181.0L527.0 180.5L526.9 180.0L527.0 179.5L527.0 179.0L527.0 178.8L527.1 178.2L527.2 177.8L527.2 177.4L527.3 177.0L527.5 176.5L527.5 176.2L527.7 175.8L527.8 175.5L528.0 175.0L528.1 174.8L528.2 174.3L528.4 174.0L528.5 173.8L528.7 173.2L528.9 173.0L529.0 172.7L529.2 172.2L529.4 172.0L529.5 171.8L529.8 171.3L529.9 171.0L530.1 170.8L530.2 170.5L530.5 170.1L530.7 169.8L530.9 169.5L531.0 169.2L531.2 168.9L531.5 168.6L531.7 168.2L531.9 168.0L532.1 167.8L532.3 167.5L532.5 167.2L532.8 166.9L533.0 166.6L533.2 166.3L533.5 166.1L533.8 165.8L534.0 165.5L534.2 165.3L534.5 165.0L534.8 164.8L535.0 164.6L535.2 164.3L535.5 164.1L535.8 163.9L536.0 163.7L536.3 163.5L536.7 163.2L537.0 163.0L537.2 162.9L537.5 162.7L537.9 162.5L538.2 162.3L538.5 162.2L538.9 162.0L539.2 161.8L539.5 161.7L540.0 161.5L540.2 161.4L540.7 161.2L541.0 161.1L541.4 161.0L541.8 160.9L542.2 160.8L542.5 160.7L543.0 160.6L543.3 160.5L543.8 160.4L544.2 160.3L544.5 160.2L545.0 160.1L545.5 160.0L545.8 159.9L546.2 159.8L546.6 159.8L547.0 159.7L547.5 159.6L547.8 159.5L548.2 159.4L548.8 159.3L549.0 159.2L549.5 159.1L549.8 159.0L550.2 158.9L550.7 158.8L551.0 158.7L551.5 158.5L551.8 158.4L552.2 158.3L552.5 158.2L553.0 158.0L553.2 158.0L553.8 157.8L554.0 157.7L554.5 157.5L554.8 157.4L555.2 157.2L555.5 157.1L555.8 157.0L556.2 156.8L556.5 156.7L557.0 156.5L557.2 156.4L557.6 156.2L558.0 156.1L558.2 156.0L558.7 155.8L559.0 155.6L559.3 155.5L559.8 155.3L560.0 155.1L560.3 155.0L560.8 154.8L561.0 154.6L561.2 154.5L561.7 154.2L562.0 154.1L562.2 154.0L562.7 153.8L563.0 153.6L563.2 153.5L563.7 153.2L564.0 153.1L564.2 153.0L564.7 152.8L565.0 152.6L565.3 152.5L565.8 152.3L566.0 152.2L566.5 152.0L566.8 151.9L567.2 151.8L567.5 151.7L568.0 151.6L568.3 151.5L568.8 151.4L569.2 151.4L569.8 151.4L570.2 151.4L570.8 151.5L571.0 151.5L571.5 151.7L571.8 151.9L572.0 152.0L572.2 152.3L572.5 152.6L572.7 153.0L572.8 153.2L572.9 153.8L573.0 154.2L573.0 154.5L573.0 154.8L573.0 155.2L572.9 155.8L572.8 156.2L572.7 156.5L572.5 156.9L572.4 157.2L572.2 157.5L572.0 158.0L571.9 158.2L571.8 158.5L571.5 158.9L571.3 159.2L571.1 159.5L571.0 159.8L570.8 160.0L570.5 160.4L570.2 160.7L570.0 161.0L569.8 161.2L569.7 161.5L569.5 161.8L569.2 162.0L569.0 162.3L568.8 162.7L568.5 163.0L568.3 163.2L568.1 163.5L567.9 163.8L567.7 164.0L567.5 164.3L567.2 164.7L567.0 165.0L566.9 165.2L566.7 165.5L566.5 165.8L566.2 166.2L566.0 166.5L565.9 166.8L565.7 167.0L565.5 167.4L565.3 167.8L565.1 168.0L565.0 168.2L564.8 168.7L564.6 169.0L564.4 169.2L564.2 169.6L564.1 170.0L563.9 170.2L563.8 170.6L563.6 171.0L563.5 171.2L563.3 171.8L563.1 172.0L563.0 172.3L562.8 172.8L562.7 173.0L562.6 173.5L562.5 173.8L562.3 174.2L562.2 174.5L562.0 175.0L561.9 175.2L561.8 175.8L561.7 176.0L561.6 176.5L561.5 176.8L561.3 177.2L561.2 177.5L561.1 178.0L561.0 178.3L560.9 178.8L560.8 179.1L560.6 179.5L560.5 179.8L560.3 180.2L560.2 180.5L560.1 181.0L560.0 181.2L559.8 181.7L559.6 182.0L559.5 182.3L559.3 182.8L559.1 183.0L559.0 183.3L558.8 183.7L558.6 184.0L558.5 184.2L558.2 184.6L558.0 185.0L557.8 185.2L557.7 185.5L557.5 185.8L557.2 186.1L557.0 186.4L556.8 186.8L556.6 187.0L556.4 187.2L556.2 187.5L556.0 187.8L555.7 188.0L555.5 188.3L555.2 188.6L555.0 188.8L554.8 189.1L554.5 189.3L554.2 189.6L554.0 189.8L553.8 190.1L553.5 190.3L553.2 190.5L553.0 190.8L552.7 191.0L552.4 191.2L552.1 191.5L551.8 191.8L551.5 192.0L551.2 192.1L551.0 192.3L550.7 192.5L550.3 192.8L550.0 192.9L549.8 193.1L549.4 193.2L549.0 193.5L548.8 193.6L548.4 193.8L548.0 193.9L547.8 194.0L547.2 194.2L547.0 194.3L546.5 194.5L546.2 194.6L545.8 194.7L545.5 194.8L545.0 194.9L544.5 195.0L544.2 195.0L543.8 195.1L543.2 195.2L542.8 195.2L542.2 195.2L542.0 195.3ZM544.5 191.8L544.0 191.8L543.5 191.9L543.0 191.9L542.5 192.0L542.0 192.0L541.5 191.9L541.0 191.9L540.5 191.8L540.0 191.8L539.8 191.7L539.2 191.6L539.0 191.5L538.5 191.3L538.2 191.2L537.8 191.0L537.5 190.9L537.1 190.8L536.8 190.5L536.5 190.4L536.2 190.2L535.9 190.0L535.6 189.8L535.3 189.5L535.0 189.3L534.8 189.1L534.5 188.8L534.2 188.6L534.0 188.3L533.8 188.0L533.5 187.8L533.3 187.5L533.1 187.2L533.0 187.0L532.8 186.7L532.5 186.3L532.3 186.0L532.2 185.8L532.0 185.4L531.8 185.0L531.7 184.8L531.5 184.3L531.4 184.0L531.2 183.6L531.1 183.2L531.0 182.8L530.9 182.5L530.8 182.0L530.8 181.5L530.7 181.2L530.7 180.8L530.6 180.2L530.6 179.8L530.6 179.2L530.7 178.8L530.7 178.2L530.8 178.0L530.9 177.5L531.0 177.0L531.0 176.8L531.2 176.2L531.2 176.0L531.4 175.5L531.5 175.2L531.7 174.8L531.8 174.5L532.0 174.0L532.1 173.8L532.3 173.5L532.5 173.0L532.6 172.8L532.8 172.5L533.0 172.1L533.2 171.8L533.4 171.5L533.6 171.2L533.8 171.0L534.0 170.7L534.2 170.3L534.5 170.0L534.7 169.8L534.9 169.5L535.2 169.2L535.4 169.0L535.6 168.8L535.9 168.5L536.1 168.2L536.4 168.0L536.7 167.8L537.0 167.5L537.2 167.3L537.5 167.1L537.8 166.9L538.0 166.8L538.4 166.5L538.8 166.3L539.0 166.2L539.3 166.0L539.7 165.8L540.0 165.6L540.3 165.5L540.8 165.3L541.0 165.2L541.5 165.0L541.8 164.9L542.1 164.8L542.5 164.6L542.9 164.5L543.2 164.4L543.8 164.3L544.0 164.2L544.5 164.1L544.8 164.0L545.2 163.9L545.7 163.8L546.0 163.7L546.5 163.6L546.8 163.5L547.2 163.4L547.7 163.2L548.0 163.2L548.5 163.0L548.8 163.0L549.2 162.8L549.6 162.8L550.0 162.6L550.5 162.5L550.8 162.4L551.2 162.3L551.5 162.2L552.0 162.0L552.2 162.0L552.8 161.8L553.0 161.7L553.5 161.6L553.8 161.5L554.2 161.3L554.5 161.2L555.0 161.1L555.2 161.0L555.8 160.8L556.0 160.7L556.5 160.6L556.8 160.5L557.2 160.4L557.6 160.2L558.0 160.1L558.4 160.0L558.8 159.9L559.2 159.8L559.5 159.7L560.0 159.6L560.3 159.5L560.8 159.4L561.2 159.3L561.6 159.2L562.0 159.2L562.5 159.2L563.0 159.2L563.5 159.2L563.8 159.3L564.0 159.5L564.3 159.8L564.5 160.2L564.5 160.8L564.4 161.2L564.3 161.8L564.2 162.1L564.1 162.5L564.0 162.9L563.9 163.2L563.8 163.6L563.6 164.0L563.5 164.2L563.3 164.8L563.2 165.0L563.0 165.4L562.8 165.8L562.7 166.0L562.5 166.5L562.4 166.8L562.2 167.1L562.0 167.5L561.9 167.8L561.8 168.1L561.6 168.5L561.5 168.8L561.2 169.2L561.1 169.5L561.0 169.8L560.8 170.2L560.7 170.5L560.5 170.9L560.4 171.2L560.2 171.5L560.1 172.0L559.9 172.2L559.8 172.7L559.7 173.0L559.5 173.4L559.4 173.8L559.2 174.1L559.1 174.5L559.0 174.8L558.8 175.2L558.7 175.5L558.6 176.0L558.5 176.2L558.3 176.8L558.2 177.0L558.1 177.5L558.0 177.8L557.8 178.2L557.7 178.5L557.5 179.0L557.4 179.2L557.2 179.7L557.1 180.0L557.0 180.3L556.8 180.8L556.7 181.0L556.5 181.4L556.4 181.8L556.2 182.0L556.0 182.4L555.8 182.8L555.7 183.0L555.5 183.3L555.2 183.7L555.1 184.0L554.9 184.2L554.7 184.5L554.5 184.8L554.2 185.2L554.0 185.5L553.8 185.8L553.6 186.0L553.4 186.2L553.2 186.5L552.9 186.8L552.7 187.0L552.5 187.2L552.2 187.5L552.0 187.8L551.7 188.0L551.4 188.2L551.1 188.5L550.8 188.8L550.5 189.0L550.2 189.2L550.0 189.4L549.8 189.5L549.4 189.8L549.0 190.0L548.8 190.2L548.5 190.3L548.1 190.5L547.8 190.7L547.5 190.8L547.1 191.0L546.8 191.1L546.4 191.2L546.0 191.4L545.6 191.5L545.2 191.6L544.8 191.7L544.5 191.8ZM543.8 190.0L543.2 190.1L542.8 190.1L542.2 190.1L541.8 190.1L541.2 190.0L541.0 190.0L540.5 189.9L540.0 189.8L539.8 189.7L539.2 189.5L539.0 189.4L538.6 189.2L538.2 189.1L538.0 189.0L537.6 188.8L537.2 188.5L537.0 188.3L536.8 188.1L536.5 188.0L536.2 187.7L536.0 187.5L535.7 187.2L535.5 187.0L535.2 186.7L535.0 186.4L534.8 186.1L534.5 185.8L534.3 185.5L534.2 185.2L534.0 184.9L533.8 184.5L533.6 184.2L533.5 183.9L533.3 183.5L533.2 183.2L533.1 182.8L533.0 182.5L532.9 182.0L532.8 181.5L532.7 181.2L532.7 180.8L532.6 180.2L532.6 179.8L532.6 179.2L532.7 178.8L532.7 178.2L532.8 178.0L532.8 177.5L533.0 177.0L533.0 176.8L533.2 176.2L533.2 176.0L533.4 175.5L533.5 175.2L533.7 174.8L533.8 174.5L534.0 174.1L534.2 173.8L534.3 173.5L534.5 173.2L534.8 172.8L534.9 172.5L535.1 172.2L535.3 172.0L535.5 171.7L535.8 171.4L536.0 171.1L536.2 170.8L536.5 170.5L536.8 170.3L537.0 170.0L537.2 169.8L537.5 169.6L537.8 169.4L538.0 169.2L538.2 169.0L538.5 168.8L538.9 168.5L539.2 168.3L539.5 168.1L539.8 168.0L540.1 167.8L540.5 167.6L540.8 167.4L541.2 167.2L541.5 167.1L541.8 167.0L542.2 166.8L542.5 166.7L543.0 166.5L543.2 166.5L543.8 166.3L544.0 166.2L544.5 166.1L544.8 166.0L545.2 165.9L545.8 165.8L546.0 165.7L546.5 165.6L546.8 165.5L547.2 165.4L547.8 165.3L548.0 165.2L548.5 165.1L548.8 165.0L549.2 164.9L549.8 164.8L550.0 164.7L550.5 164.6L550.8 164.5L551.2 164.4L551.6 164.2L552.0 164.1L552.5 164.0L552.8 163.9L553.2 163.8L553.5 163.7L554.0 163.6L554.3 163.5L554.8 163.4L555.2 163.3L555.5 163.2L556.0 163.1L556.5 163.0L556.8 163.0L557.2 163.0L557.8 162.9L558.2 162.9L558.7 163.0L559.0 163.1L559.4 163.2L559.7 163.5L559.9 163.8L560.1 164.0L560.2 164.5L560.3 164.8L560.3 165.2L560.2 165.5L560.2 166.0L560.1 166.5L560.0 166.8L559.9 167.2L559.8 167.6L559.6 168.0L559.5 168.4L559.4 168.8L559.2 169.1L559.1 169.5L559.0 169.8L558.8 170.2L558.7 170.5L558.5 171.0L558.4 171.2L558.3 171.8L558.2 172.0L558.0 172.5L557.9 172.8L557.8 173.1L557.6 173.5L557.5 173.9L557.4 174.2L557.2 174.6L557.1 175.0L557.0 175.3L556.9 175.8L556.8 176.1L556.6 176.5L556.5 176.8L556.3 177.2L556.2 177.5L556.1 178.0L556.0 178.2L555.8 178.8L555.7 179.0L555.5 179.5L555.4 179.8L555.2 180.1L555.1 180.5L555.0 180.8L554.8 181.2L554.6 181.5L554.4 181.8L554.2 182.1L554.0 182.5L553.9 182.8L553.7 183.0L553.5 183.3L553.2 183.7L553.0 184.0L552.9 184.2L552.7 184.5L552.5 184.8L552.2 185.0L552.0 185.3L551.8 185.6L551.5 185.9L551.2 186.1L551.0 186.4L550.8 186.6L550.5 186.8L550.2 187.0L550.0 187.2L549.7 187.5L549.3 187.8L549.0 188.0L548.8 188.2L548.5 188.3L548.2 188.5L547.8 188.7L547.5 188.9L547.2 189.0L546.8 189.2L546.5 189.3L546.0 189.5L545.8 189.6L545.2 189.7L545.0 189.8L544.5 189.9L544.0 190.0L543.8 190.0ZM543.8 188.0L543.2 188.0L542.8 188.1L542.2 188.0L541.9 188.0L541.5 187.9L541.0 187.8L540.6 187.8L540.2 187.6L539.9 187.5L539.5 187.3L539.2 187.2L538.9 187.0L538.5 186.8L538.2 186.6L538.0 186.4L537.8 186.2L537.5 186.0L537.2 185.8L537.0 185.5L536.8 185.2L536.5 184.9L536.2 184.5L536.1 184.2L535.9 184.0L535.8 183.7L535.5 183.2L535.4 183.0L535.2 182.6L535.1 182.2L535.0 181.8L534.9 181.5L534.8 181.0L534.8 180.5L534.8 180.2L534.7 179.8L534.7 179.2L534.7 178.8L534.8 178.5L534.8 178.0L534.9 177.5L535.0 177.2L535.1 176.8L535.2 176.3L535.3 176.0L535.5 175.6L535.6 175.2L535.8 175.0L536.0 174.5L536.2 174.2L536.3 174.0L536.5 173.7L536.8 173.3L537.0 173.0L537.2 172.8L537.4 172.5L537.6 172.2L537.8 172.0L538.1 171.8L538.3 171.5L538.6 171.2L538.9 171.0L539.2 170.8L539.5 170.5L539.8 170.3L540.0 170.2L540.3 170.0L540.7 169.8L541.0 169.6L541.2 169.4L541.7 169.2L542.0 169.1L542.2 169.0L542.8 168.8L543.0 168.7L543.5 168.5L543.8 168.4L544.2 168.3L544.5 168.2L545.0 168.1L545.3 168.0L545.8 167.9L546.2 167.8L546.5 167.7L547.0 167.6L547.5 167.5L547.8 167.4L548.2 167.3L548.7 167.2L549.0 167.2L549.5 167.1L550.0 167.0L550.2 166.9L550.8 166.9L551.2 166.8L551.5 166.7L552.0 166.6L552.5 166.6L553.0 166.5L553.3 166.5L553.8 166.5L554.2 166.5L554.5 166.5L555.0 166.6L555.4 166.8L555.8 167.0L556.0 167.2L556.2 167.5L556.3 167.8L556.4 168.2L556.5 168.8L556.4 169.2L556.4 169.8L556.3 170.2L556.2 170.5L556.2 171.0L556.0 171.5L556.0 171.8L555.9 172.2L555.8 172.6L555.7 173.0L555.5 173.5L555.4 173.8L555.3 174.2L555.2 174.5L555.1 175.0L555.0 175.3L554.9 175.8L554.8 176.1L554.6 176.5L554.5 176.9L554.4 177.2L554.2 177.6L554.1 178.0L554.0 178.3L553.8 178.8L553.7 179.0L553.5 179.5L553.4 179.8L553.2 180.1L553.1 180.5L552.9 180.8L552.8 181.1L552.5 181.5L552.4 181.8L552.2 182.0L552.0 182.4L551.8 182.7L551.6 183.0L551.4 183.2L551.2 183.5L551.0 183.8L550.8 184.0L550.5 184.3L550.2 184.6L550.0 184.8L549.8 185.1L549.5 185.3L549.2 185.5L549.0 185.8L548.6 186.0L548.3 186.2L548.0 186.4L547.8 186.6L547.5 186.8L547.0 187.0L546.8 187.1L546.5 187.3L546.0 187.5L545.8 187.5L545.2 187.7L545.0 187.8L544.5 187.9L544.0 188.0L543.8 188.0ZM543.8 186.3L543.2 186.3L542.8 186.3L542.3 186.2L542.0 186.2L541.5 186.1L541.1 186.0L540.8 185.9L540.5 185.8L540.0 185.5L539.8 185.4L539.5 185.2L539.2 185.0L538.9 184.8L538.6 184.5L538.4 184.2L538.1 184.0L537.9 183.8L537.7 183.5L537.5 183.1L537.3 182.8L537.2 182.5L537.0 182.1L536.9 181.8L536.8 181.4L536.7 181.0L536.6 180.5L536.5 180.0L536.5 179.8L536.5 179.2L536.5 178.8L536.5 178.5L536.6 178.0L536.7 177.5L536.8 177.2L536.9 176.8L537.0 176.4L537.2 176.0L537.3 175.8L537.5 175.3L537.6 175.0L537.8 174.8L538.0 174.4L538.2 174.1L538.5 173.8L538.7 173.5L538.9 173.2L539.2 173.0L539.4 172.8L539.7 172.5L540.0 172.2L540.2 172.0L540.5 171.9L540.8 171.7L541.0 171.5L541.4 171.2L541.8 171.1L542.0 171.0L542.4 170.8L542.8 170.6L543.0 170.5L543.5 170.3L543.8 170.2L544.2 170.1L544.5 170.0L545.0 169.9L545.5 169.8L545.8 169.7L546.2 169.6L546.7 169.5L547.0 169.4L547.5 169.4L548.0 169.3L548.5 169.3L548.8 169.2L549.2 169.2L549.8 169.2L550.2 169.2L550.8 169.2L551.2 169.2L551.5 169.3L552.0 169.4L552.2 169.5L552.7 169.8L552.9 170.0L553.1 170.2L553.3 170.5L553.5 171.0L553.5 171.2L553.6 171.8L553.6 172.2L553.6 172.8L553.5 173.2L553.5 173.6L553.4 174.0L553.4 174.5L553.3 175.0L553.2 175.2L553.1 175.8L553.0 176.1L552.9 176.5L552.8 177.0L552.7 177.2L552.5 177.8L552.4 178.0L552.2 178.5L552.1 178.8L552.0 179.1L551.8 179.5L551.7 179.8L551.5 180.2L551.3 180.5L551.2 180.8L551.0 181.1L550.8 181.5L550.6 181.8L550.4 182.0L550.2 182.2L550.0 182.5L549.8 182.8L549.5 183.1L549.2 183.4L549.0 183.6L548.8 183.9L548.5 184.1L548.2 184.3L548.0 184.5L547.7 184.8L547.3 185.0L547.0 185.2L546.8 185.3L546.4 185.5L546.0 185.7L545.8 185.8L545.2 186.0L545.0 186.0L544.5 186.1L544.0 186.2L543.8 186.3ZM544.8 184.0L544.2 184.1L543.8 184.2L543.2 184.2L542.8 184.2L542.2 184.1L542.0 184.0L541.5 183.8L541.2 183.7L540.9 183.5L540.5 183.3L540.2 183.1L540.0 182.8L539.8 182.5L539.5 182.2L539.3 182.0L539.2 181.8L539.0 181.3L538.9 181.0L538.8 180.7L538.6 180.2L538.6 179.8L538.5 179.2L538.5 178.8L538.6 178.2L538.7 177.8L538.8 177.5L538.9 177.0L539.0 176.7L539.2 176.2L539.3 176.0L539.5 175.7L539.8 175.3L540.0 175.0L540.2 174.8L540.4 174.5L540.7 174.2L540.9 174.0L541.2 173.8L541.5 173.5L541.8 173.3L542.0 173.2L542.3 173.0L542.8 172.8L543.0 172.6L543.3 172.5L543.8 172.3L544.0 172.2L544.5 172.1L544.8 172.0L545.2 171.9L545.8 171.8L546.2 171.8L546.5 171.7L547.0 171.7L547.5 171.7L548.0 171.7L548.2 171.8L548.8 171.9L549.2 172.0L549.5 172.1L549.8 172.3L550.0 172.5L550.3 172.8L550.5 173.1L550.7 173.5L550.8 173.8L550.9 174.2L550.9 174.8L550.9 175.2L550.9 175.8L550.8 176.2L550.8 176.7L550.7 177.0L550.6 177.5L550.5 177.8L550.3 178.2L550.2 178.5L550.0 179.0L549.9 179.2L549.8 179.6L549.5 180.0L549.4 180.2L549.2 180.5L549.0 180.9L548.8 181.2L548.5 181.5L548.3 181.8L548.1 182.0L547.8 182.2L547.5 182.5L547.2 182.7L547.0 182.9L546.8 183.1L546.5 183.3L546.1 183.5L545.8 183.7L545.5 183.8L545.0 183.9L544.8 184.0ZM544.2 182.3L543.8 182.3L543.2 182.3L542.9 182.2L542.5 182.1L542.2 182.0L541.8 181.8L541.5 181.5L541.2 181.3L541.0 181.0L540.9 180.8L540.7 180.5L540.5 180.0L540.5 179.8L540.4 179.2L540.4 178.8L540.4 178.2L540.5 177.8L540.6 177.5L540.8 177.0L540.9 176.8L541.0 176.5L541.2 176.2L541.5 175.8L541.8 175.6L542.0 175.3L542.2 175.1L542.5 174.9L542.8 174.7L543.1 174.5L543.5 174.3L543.8 174.2L544.2 174.0L544.5 173.9L545.0 173.8L545.5 173.8L545.8 173.7L546.2 173.7L546.5 173.8L547.0 173.9L547.4 174.0L547.8 174.2L548.0 174.4L548.2 174.6L548.5 175.0L548.6 175.2L548.8 175.6L548.8 176.0L548.8 176.5L548.8 177.0L548.8 177.4L548.7 177.8L548.5 178.2L548.4 178.5L548.2 178.9L548.1 179.2L548.0 179.5L547.8 179.8L547.5 180.2L547.2 180.5L547.0 180.8L546.8 181.0L546.5 181.2L546.2 181.4L546.0 181.6L545.7 181.8L545.2 182.0L545.0 182.1L544.5 182.2L544.2 182.3ZM544.2 180.8L543.8 180.8L543.5 180.7L543.0 180.6L542.8 180.4L542.5 180.2L542.2 179.9L542.0 179.5L541.9 179.2L541.9 178.8L541.9 178.2L542.0 177.8L542.1 177.5L542.2 177.2L542.5 176.8L542.8 176.5L543.0 176.3L543.2 176.1L543.5 175.9L543.8 175.7L544.2 175.5L544.5 175.5L545.0 175.4L545.5 175.4L546.0 175.4L546.2 175.5L546.6 175.8L546.8 176.0L547.0 176.3L547.2 176.8L547.2 177.2L547.2 177.8L547.0 178.2L546.9 178.5L546.8 178.9L546.5 179.2L546.3 179.5L546.1 179.8L545.9 180.0L545.5 180.2L545.2 180.4L545.0 180.5L544.5 180.7L544.2 180.8Z" fill="none" stroke="#000" stroke-width="0.9"/><ellipse cx="469.9" cy="105.0" rx="10.3" ry="5.3" transform="rotate(28 469.9 105.0)" fill="none" stroke="#000" stroke-width="0.7"/><ellipse cx="519.3" cy="181.9" rx="1.1" ry="1.6" transform="rotate(-30 519.3 181.9)" fill="none" stroke="#000" stroke-width="0.7"/><ellipse cx="504.1" cy="206.9" rx="2.8" ry="4.5" transform="rotate(8 504.1 206.9)" fill="none" stroke="#000" stroke-width="0.7"/><ellipse cx="551.8" cy="211.0" rx="6.1" ry="4.7" transform="rotate(-15 551.8 211.0)" fill="none" stroke="#000" stroke-width="0.7"/><ellipse cx="579.6" cy="199.6" rx="9.3" ry="6.4" transform="rotate(-12 579.6 199.6)" fill="none" stroke="#000" stroke-width="0.7"/><ellipse cx="587.0" cy="247.7" rx="2.8" ry="2.6" transform="rotate(0 587.0 247.7)" fill="none" stroke="#000" stroke-width="0.7"/><ellipse cx="671.0" cy="94.3" rx="1.7" ry="1.6" transform="rotate(0 671.0 94.3)" fill="none" stroke="#000" stroke-width="0.7"/><circle cx="599" cy="219.7" r="0.9" fill="#000"/><text x="200.5" y="17" text-anchor="middle" font-family="Liberation Sans, sans-serif" font-size="15.5">Weak lensing convergence, κ=Σ<tspan font-size="10" dy="3">m</tspan><tspan dy="-3">/Σ</tspan><tspan font-size="10" dy="3">crit</tspan></text><text x="545" y="17" text-anchor="middle" font-family="Liberation Sans, sans-serif" font-size="15.6">Cluster galaxy number density (arcmin<tspan font-size="10" dy="-5">-2</tspan><tspan dy="5">)</tspan></text></svg></body></html>
